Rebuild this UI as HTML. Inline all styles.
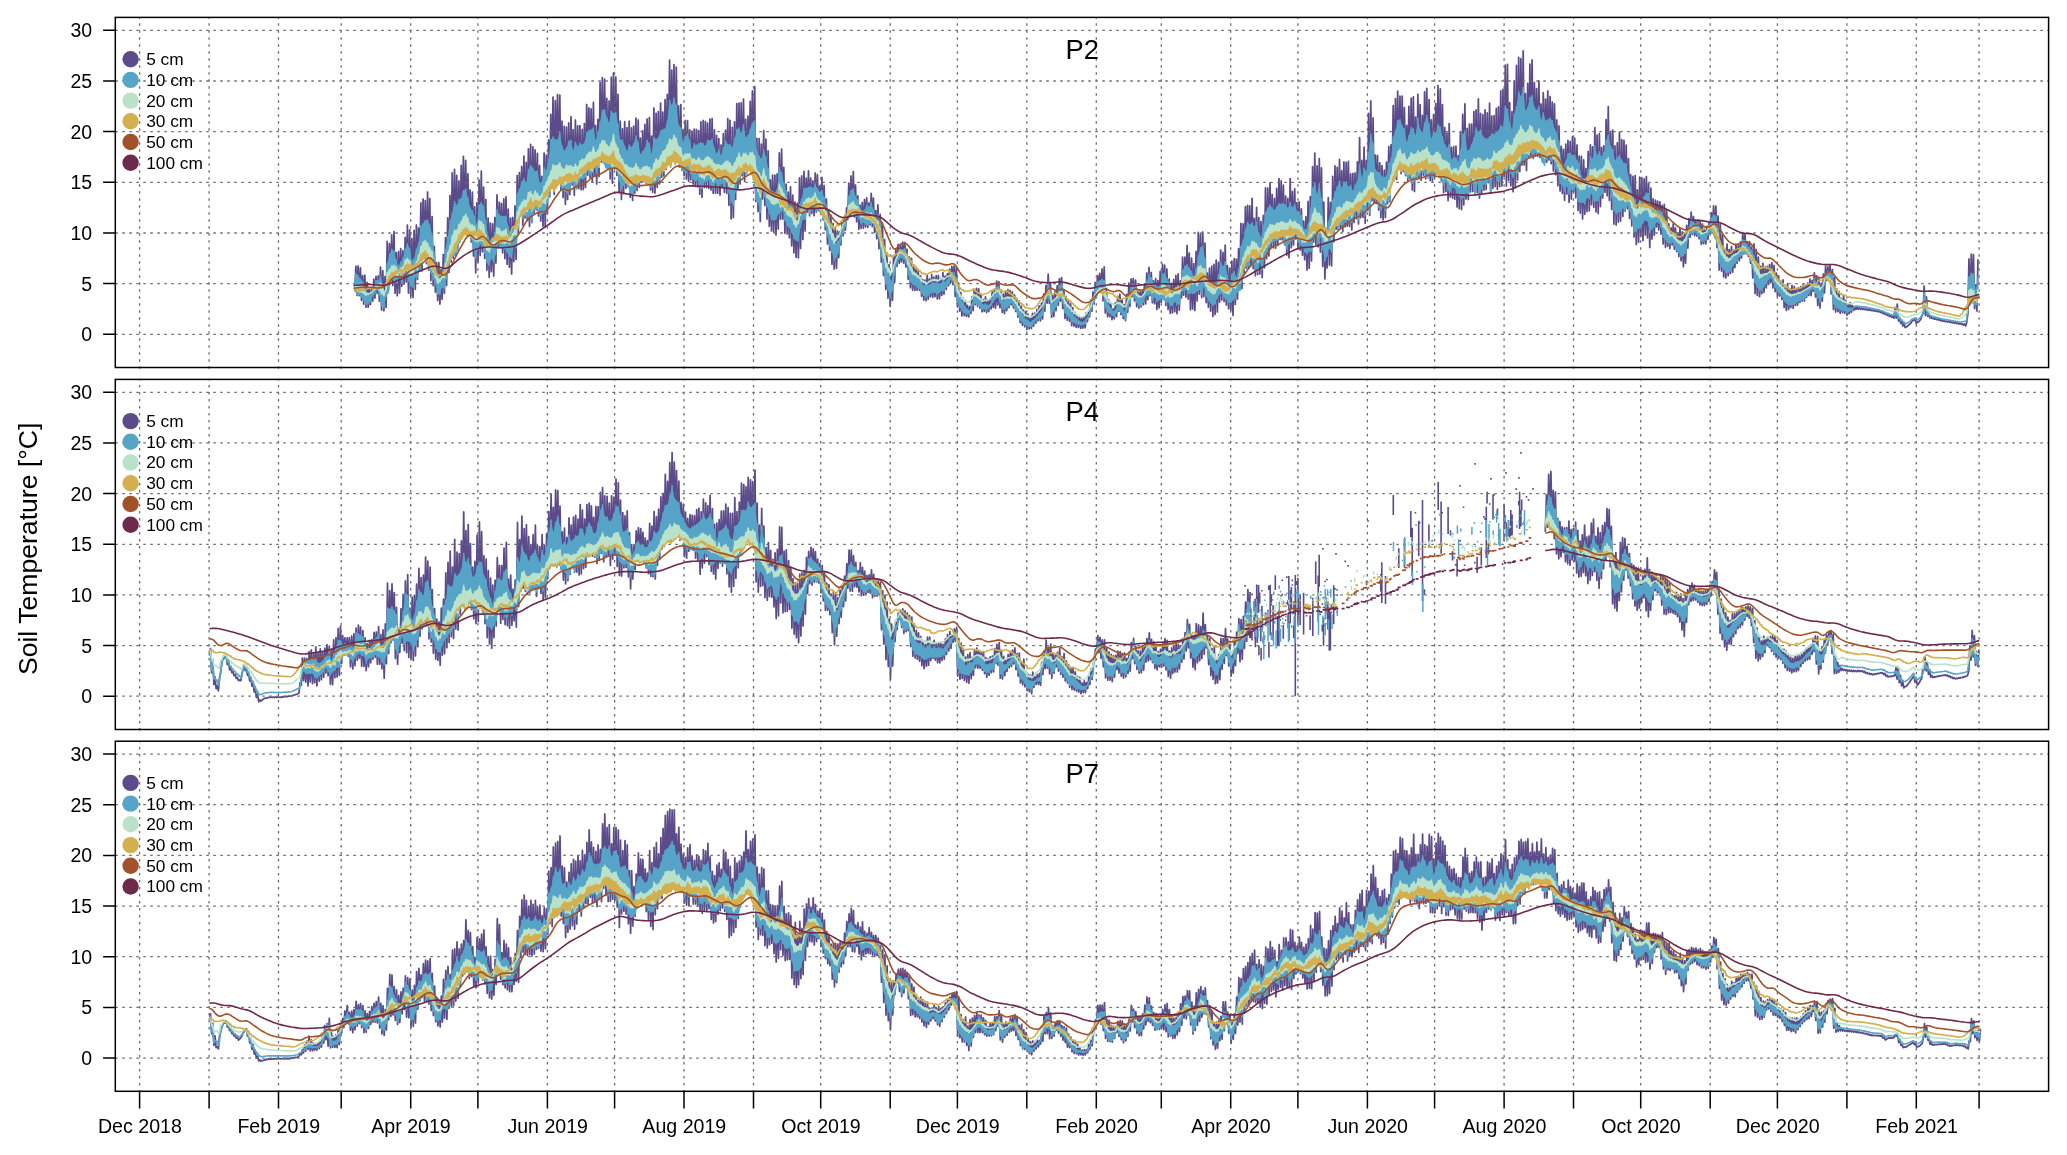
<!DOCTYPE html>
<html><head><meta charset="utf-8"><title>Soil Temperature</title>
<style>html,body{margin:0;padding:0;background:#fff;}body{width:2067px;height:1155px;overflow:hidden;font-family:"Liberation Sans",sans-serif;}svg{display:block;will-change:transform;}</style></head>
<body>
<svg width="2067" height="1155" viewBox="0 0 2067 1155" font-family="Liberation Sans, sans-serif" fill="#000">
<rect width="2067" height="1155" fill="#fff"/>
<path d="M354.8 289.9l1.1-23.5l1.1 29l1.1-29.4l1.1 29.7l1.2-27.9l1.1 32.5l1.1-24.6l1.1 28.5l1.1-29.1l1.2 32.1l1.1-24.9l1.1 24.8l1.1-17.8l1.1 15.4l1.2-16.3l1.1 12.8l1.1-22.1l1.1 19.2l1.1-22l1.2 17.2l1.1-17.6l1.1 25.3l1.1-34.1l1.1 42.9l1.2-39.3l1.1 40.1l1.1-34.2l1.1 30.8l1.1-65.9l1.2 48.9l1.1-46.8l1.1 38l1.1-46.7l1.1 50.6l1.2-53.9l1.1 61.6l1.1-40.6l1.1 43.1l1.2-44.1l1.1 41.4l1.1-44.4l1.1 37.5l1.1-35.4l1.2 33.4l1.1-46.7l1.1 44.6l1.1-56.9l1.1 68l1.2-63.3l1.1 66.5l1.1-57.8l1.1 58.9l1.1-67.1l1.2 59l1.1-64.3l1.1 54.3l1.1-51.3l1.1 43.2l1.2-68.3l1.1 67.9l1.1-71.8l1.1 59.3l1.1-57.6l1.2 62.8l1.1-71.5l1.1 78l1.1-71.4l1.1 82l1.2-64l1.1 68.9l1.1-39.1l1.1 45.7l1.1-29.4l1.2 37.8l1.1-38l1.1 41.6l1.1-34.5l1.1 29.6l1.2-44.7l1.1 38.8l1.1-55.7l1.1 47.8l1.1-67.6l1.2 54.7l1.1-77l1.1 66.4l1.1-89.1l1.1 85.5l1.2-89l1.1 86.3l1.1-80.3l1.1 72.1l1.1-66.5l1.2 60.6l1.1-76.1l1.1 71.7l1.1-80.7l1.1 71.7l1.2-67.7l1.1 66.4l1.1-53l1.1 61.6l1.1-45.4l1.2 52l1.1-49.8l1.1 63.8l1.1-49.1l1.1 65.9l1.2-70.1l1.1 59.1l1.1-81.8l1.1 75.5l1.1-84.3l1.2 80.5l1.1-64.6l1.1 71.2l1.1-58.8l1.1 70.6l1.2-52l1.1 59.2l1.1-54.3l1.1 48.6l1.2-47.7l1.1 52.1l1.1-58.5l1.1 45.6l1.1-68.2l1.2 52.7l1.1-45.4l1.1 45.3l1.1-44.1l1.1 49.4l1.2-53.9l1.1 59.7l1.1-61.8l1.1 67.5l1.1-55.2l1.2 58.1l1.1-49.1l1.1 55.9l1.1-56.5l1.1 44l1.2-55.6l1.1 53.5l1.1-83.8l1.1 57.1l1.1-60.1l1.2 41.5l1.1-47.6l1.1 58.6l1.1-68.9l1.1 61.7l1.2-55.5l1.1 58l1.1-71.6l1.1 77.5l1.1-82l1.2 78.3l1.1-75.8l1.1 66.3l1.1-63.2l1.1 59.9l1.2-56.4l1.1 62.5l1.1-50.4l1.1 55.4l1.1-44.6l1.2 50.1l1.1-73.3l1.1 73.8l1.1-71.8l1.1 58.5l1.2-73.8l1.1 57l1.1-82.4l1.1 73.9l1.1-91.2l1.2 97.2l1.1-93.6l1.1 74.6l1.1-80.8l1.1 82.8l1.2-82.2l1.1 94.6l1.1-68.5l1.1 76.2l1.1-71.1l1.2 78l1.1-77.1l1.1 72.2l1.1-76.6l1.1 71.6l1.2-77.7l1.1 68.1l1.1-55.1l1.1 65.5l1.1-75.2l1.2 68.6l1.1-62.8l1.1 62.8l1.1-62.9l1.2 64l1.1-60.4l1.1 60.2l1.1-65.9l1.1 63.8l1.2-82.9l1.1 70.5l1.1-67.1l1.1 69.8l1.1-68.9l1.2 72.6l1.1-79l1.1 73.8l1.1-50.7l1.1 58.5l1.2-64.6l1.1 57.1l1.1-93.8l1.1 79.2l1.1-84.2l1.2 84.7l1.1-83.2l1.1 83.5l1.1-64.3l1.1 69.8l1.2-67.2l1.1 77.7l1.1-101.6l1.1 106l1.1-110.2l1.2 95.8l1.1-91.7l1.1 98.4l1.1-81.1l1.1 98.4l1.2-71.5l1.1 78.2l1.1-70.6l1.1 64.8l1.1-72l1.2 66.7l1.1-60.6l1.1 58.5l1.1-65l1.1 76l1.2-69.4l1.1 72.6l1.1-74.3l1.1 67l1.1-74.9l1.2 72.2l1.1-70.4l1.1 67.2l1.1-49.2l1.1 43.9l1.2-51.2l1.1 50.9l1.1-57.2l1.1 57.9l1.1-63.3l1.2 65.3l1.1-66.8l1.1 72.4l1.1-53.8l1.1 56.1l1.2-84.2l1.1 85l1.1-79.7l1.1 74l1.1-75.6l1.2 72.1l1.1-80.6l1.1 74l1.1-65.1l1.1 63.8l1.2-76.3l1.1 69.6l1.1-74.9l1.1 64.2l1.2-98.4l1.1 104.3l1.1-94.2l1.1 83.5l1.1-89.1l1.2 92.4l1.1-89.8l1.1 94.3l1.1-55.6l1.1 61l1.2-62.3l1.1 65.7l1.1-40.5l1.1 45.9l1.1-55.3l1.2 58.5l1.1-58.3l1.1 60.6l1.1-51.4l1.1 50l1.2-48.6l1.1 52.8l1.1-54.9l1.1 57.3l1.1-56.9l1.2 57.4l1.1-56.3l1.1 63.6l1.1-72.3l1.1 75.3l1.2-76.8l1.1 67.1l1.1-66l1.1 66l1.1-64.3l1.2 65l1.1-69l1.1 70.7l1.1-71.3l1.1 74.6l1.2-63.4l1.1 63.3l1.1-57.7l1.1 57.8l1.1-54.6l1.2 56.5l1.1-50.1l1.1 42.8l1.1-54.2l1.1 58.7l1.2-62.1l1.1 63.1l1.1-74.7l1.1 86.7l1.1-85l1.2 98.5l1.1-91.3l1.1 90l1.1-95.7l1.1 77.7l1.2-95.9l1.1 86l1.1-86.5l1.1 80.8l1.1-81l1.2 72.9l1.1-76.7l1.1 82.2l1.1-62l1.1 51.5l1.2-54.6l1.1 50l1.1-64.9l1.1 64.9l1.1-75.2l1.2 83.1l1.1-87.4l1.1 114.9l1.1-63.3l1.2 73.3l1.1-73l1.1 82.8l1.1-77.2l1.1 54.7l1.2-68.3l1.1 75l1.1-66.5l1.1 80l1.1-68.1l1.2 75.2l1.1-46.4l1.1 51.1l1.1-55.7l1.1 56.6l1.2-56.6l1.1 59.7l1.1-60.9l1.1 54.9l1.1-76.1l1.2 66.4l1.1-70.1l1.1 69.8l1.1-51.5l1.1 65.8l1.2-49.1l1.1 49.8l1.1-41.8l1.1 45.7l1.1-50.9l1.2 58.9l1.1-50.7l1.1 57.7l1.1-50.8l1.1 55.3l1.2-54.1l1.1 54.6l1.1-79.9l1.1 70.5l1.1-72.5l1.2 63.5l1.1-68.1l1.1 59.6l1.1-52.7l1.1 33.9l1.2-41.2l1.1 44.9l1.1-37.7l1.1 35.2l1.1-32.5l1.2 34.8l1.1-42.6l1.1 39l1.1-37.3l1.1 35.6l1.2-24.3l1.1 27.3l1.1-36l1.1 42.4l1.1-34.2l1.2 44.3l1.1-30.8l1.1 44.9l1.1-34.1l1.1 40.6l1.2-35.3l1.1 49.2l1.1-40.9l1.1 45.5l1.1-41.5l1.2 40.8l1.1-37.1l1.1 26.6l1.1-26l1.1 13.3l1.2-22.5l1.1 13.3l1.1-18.4l1.1 12.8l1.2-22.3l1.1 11.8l1.1-36.6l1.1 33.2l1.1-40.3l1.2 36.6l1.1-40.9l1.1 45.2l1.1-31.9l1.1 36.8l1.2-26l1.1 33.5l1.1-24.2l1.1 23.3l1.1-25.8l1.2 25.6l1.1-28.6l1.1 27.2l1.1-29l1.1 29.6l1.2-24.5l1.1 22.1l1.1-31.6l1.1 33.2l1.1-28.6l1.2 34.2l1.1-21.6l1.1 28.2l1.1-33.9l1.1 43.9l1.2-34.4l1.1 47.5l1.1-39l1.1 52.5l1.1-35.7l1.2 49.7l1.1-36.2l1.1 45l1.1-33.5l1.1 41.7l1.2-33.1l1.1 27l1.1-44.6l1.1 26.4l1.1-32.8l1.2 17.2l1.1-22.1l1.1 18.9l1.1-17.9l1.1 16.5l1.2-19.7l1.1 21l1.1-20.5l1.1 24.3l1.1-17.9l1.2 30.2l1.1-22.3l1.1 30.6l1.1-29.2l1.1 31.9l1.2-25.2l1.1 25.4l1.1-21.3l1.1 21.1l1.1-19.4l1.2 19.2l1.1-14.2l1.1 20.4l1.1-16.6l1.1 20.4l1.2-20l1.1 20.7l1.1-26.2l1.1 24.6l1.1-20.1l1.2 17.7l1.1-22.3l1.1 22.8l1.1-20.2l1.1 19.7l1.2-21.2l1.1 23.4l1.1-23.6l1.1 23.4l1.2-20.3l1.1 16.9l1.1-22.7l1.1 21.4l1.1-17.9l1.2 13.1l1.1-15.6l1.1 11.9l1.1-16.4l1.1 13.8l1.2-16.6l1.1 18.2l1.1-18.4l1.1 30.2l1.1-28.7l1.2 39.1l1.1-23.8l1.1 28.2l1.1-18.7l1.1 23.4l1.2-18.3l1.1 18l1.1-15l1.1 15.8l1.1-11l1.2 11.5l1.1-10.2l1.1 6.7l1.1-16.5l1.1 13.7l1.2-21l1.1 15.1l1.1-16.4l1.1 18.2l1.1-17.6l1.2 19.4l1.1-13.6l1.1 17.1l1.1-12l1.1 11.6l1.2-14.5l1.1 15.8l1.1-12.5l1.1 11.3l1.1-12.5l1.2 10l1.1-17.1l1.1 15.5l1.1-17.3l1.1 18l1.2-27l1.1 23.8l1.1-23.3l1.1 26.2l1.1-15.8l1.2 20.4l1.1-18.3l1.1 19.5l1.1-22.3l1.1 19.4l1.2-21l1.1 17.9l1.1-17.1l1.1 14.4l1.1-13l1.2 16.1l1.1-13l1.1 16.5l1.1-13.1l1.1 18.9l1.2-16.5l1.1 21.9l1.1-16.6l1.1 19.3l1.1-15.3l1.2 16.7l1.1-15.1l1.1 17.8l1.1-15.4l1.2 14.8l1.1-11.4l1.1 11l1.1-15.2l1.1 12.9l1.2-13l1.1 10l1.1-13.8l1.1 11.4l1.1-14.9l1.2 15.1l1.1-17.8l1.1 15.8l1.1-24.9l1.1 17.1l1.2-25.7l1.1 17.8l1.1-29.1l1.1 29.1l1.1-19.8l1.2 33.6l1.1-21.6l1.1 20.9l1.1-25l1.1 19.4l1.2-24.9l1.1 19.4l1.1-26.7l1.1 22.7l1.1-23.7l1.2 30.9l1.1-18.6l1.1 28.6l1.1-22.2l1.1 23.9l1.2-19.1l1.1 20.2l1.1-17.6l1.1 22l1.1-18l1.2 18.5l1.1-13.8l1.1 15l1.1-12.2l1.1 12.3l1.2-10.5l1.1 11.3l1.1-10.5l1.1 10.3l1.1-10.7l1.2 10.4l1.1-14.8l1.1 8.7l1.1-10.4l1.1 5.5l1.2-16.7l1.1 11.2l1.1-19.3l1.1 11.9l1.1-21.5l1.2 13.8l1.1-20.6l1.1 13.7l1.1-15.9l1.1 18.9l1.2-23.3l1.1 31.9l1.1-34l1.1 46.1l1.1-24.4l1.2 28.2l1.1-16.9l1.1 16.9l1.1-12.8l1.1 15.7l1.2-10.7l1.1 9.8l1.1-15.8l1.1 13.7l1.2-20.4l1.1 15.1l1.1-17.3l1.1 20.6l1.1-14.8l1.2 18.7l1.1-13.9l1.1 16l1.1-26.3l1.1 17.9l1.2-29.1l1.1 23.2l1.1-27.6l1.1 17.7l1.1-17.9l1.2 22.3l1.1-20.8l1.1 26.6l1.1-16.4l1.1 18l1.2-17.8l1.1 16.5l1.1-16.7l1.1 14.5l1.1-21l1.2 20.2l1.1-31l1.1 26.7l1.1-32.4l1.1 28.4l1.2-23.2l1.1 30.3l1.1-22l1.1 22.9l1.1-25.2l1.2 31l1.1-28.9l1.1 27.2l1.1-36.4l1.1 31l1.2-38.2l1.1 33.8l1.1-32.8l1.1 40.2l1.1-36.4l1.2 40.5l1.1-30.3l1.1 34.2l1.1-30l1.1 29.4l1.2-33.3l1.1 32.2l1.1-36.2l1.1 38.1l1.1-39.8l1.2 36.3l1.1-29.2l1.1 17l1.1-40.7l1.1 38l1.2-38l1.1 39.9l1.1-51.7l1.1 53.6l1.1-45.8l1.2 56.5l1.1-51.5l1.1 50.8l1.1-45.3l1.1 46.7l1.2-59l1.1 49.5l1.1-68.6l1.1 61.8l1.1-60.2l1.2 63.6l1.1-65.5l1.1 64.6l1.1-53.5l1.2 59.5l1.1-29.4l1.1 33.9l1.1-38.9l1.1 42.8l1.2-44.9l1.1 50.3l1.1-52l1.1 50l1.1-54.3l1.2 51.8l1.1-49.6l1.1 39.8l1.1-52l1.1 49.9l1.2-47.6l1.1 49l1.1-56.3l1.1 59.9l1.1-39.4l1.2 43.1l1.1-40.6l1.1 42.4l1.1-49.4l1.1 54.3l1.2-56.7l1.1 45.6l1.1-45.1l1.1 39.9l1.1-50.5l1.2 41.4l1.1-66.5l1.1 65.1l1.1-64.8l1.1 49.9l1.2-67l1.1 61.5l1.1-62.7l1.1 62.3l1.1-61.9l1.2 59.6l1.1-67.2l1.1 70.1l1.1-50.1l1.1 57.4l1.2-68.2l1.1 66.9l1.1-56.7l1.1 56.3l1.1-52.5l1.2 56.1l1.1-62.1l1.1 52.3l1.1-79.9l1.1 70.8l1.2-70.6l1.1 67.8l1.1-73.1l1.1 64.7l1.1-53l1.2 53.2l1.1-49.2l1.1 49.7l1.1-59.7l1.1 56.9l1.2-66.8l1.1 60.9l1.1-58.7l1.1 59l1.1-54.6l1.2 58.9l1.1-48.1l1.1 59.1l1.1-56.7l1.1 59.3l1.2-79l1.1 69l1.1-56.2l1.1 53.5l1.2-56.2l1.1 50.1l1.1-36.3l1.1 46.2l1.1-47l1.2 48.3l1.1-41.2l1.1 46.4l1.1-34.1l1.1 38.5l1.2-43l1.1 53.3l1.1-68.5l1.1 66.7l1.1-71.6l1.2 64.4l1.1-94.3l1.1 75.4l1.1-88.9l1.1 91.6l1.2-78.8l1.1 80.8l1.1-88.2l1.1 93.5l1.1-84.1l1.2 98.3l1.1-64.2l1.1 76.7l1.1-48.4l1.1 37.5l1.2-70.3l1.1 67.4l1.1-62.6l1.1 63.5l1.1-89.4l1.2 65.3l1.1-75.8l1.1 63.2l1.1-61.8l1.1 62.4l1.2-70.3l1.1 68l1.1-56.8l1.1 60.8l1.1-69.5l1.2 64.8l1.1-64.5l1.1 63.8l1.1-64.8l1.1 65l1.2-52.4l1.1 56l1.1-56.4l1.1 48.9l1.1-49.5l1.2 45.6l1.1-56.7l1.1 62.1l1.1-86.2l1.1 80l1.2-57.3l1.1 56.8l1.1-70.1l1.1 76.1l1.1-62.9l1.2 50l1.1-97l1.1 102l1.1-114.3l1.1 99.8l1.2-82.8l1.1 84.5l1.1-47.4l1.1 48.3l1.1-47.9l1.2 54.6l1.1-47.2l1.1 54.7l1.1-51.9l1.1 54.1l1.2-49.6l1.1 47.3l1.1-55.3l1.1 41.4l1.2-56.9l1.1 55l1.1-56.8l1.1 36.8l1.1-76.1l1.2 72.2l1.1-79.1l1.1 80.8l1.1-88.3l1.1 76.8l1.2-71.8l1.1 77.4l1.1-77.5l1.1 75.4l1.1-63.9l1.2 67.9l1.1-50.1l1.1 55.2l1.1-74.3l1.1 72.1l1.2-80.2l1.1 91.8l1.1-93.2l1.1 94.6l1.1-74.3l1.2 62.3l1.1-85.1l1.1 83.8l1.1-73.5l1.1 75.6l1.2-64.9l1.1 59.8l1.1-83.2l1.1 86.9l1.1-90.4l1.2 87.2l1.1-76l1.1 81l1.1-60.7l1.1 61.1l1.2-66.5l1.1 62.8l1.1-73.7l1.1 70.5l1.1-88.5l1.2 87.8l1.1-84.5l1.1 91.9l1.1-76.1l1.1 88l1.2-65.2l1.1 64l1.1-58.5l1.1 67.6l1.1-77l1.2 73.3l1.1-49.4l1.1 50.6l1.1-51.4l1.1 52.5l1.2-53l1.1 60.7l1.1-51.3l1.1 53.1l1.1-76.1l1.2 76.9l1.1-95l1.1 90.3l1.1-100.8l1.1 94.9l1.2-70.5l1.1 71.1l1.1-75.3l1.1 67.7l1.1-67.8l1.2 67.3l1.1-79.8l1.1 79.9l1.1-81.6l1.2 82.8l1.1-93.9l1.1 99.3l1.1-84.6l1.1 79.6l1.2-78.4l1.1 75.4l1.1-80.3l1.1 79.6l1.1-76.4l1.2 69.5l1.1-79.3l1.1 89.2l1.1-76.2l1.1 72.1l1.2-72.7l1.1 70.9l1.1-78l1.1 80.8l1.1-82.3l1.2 79.4l1.1-95.4l1.1 94.9l1.1-96.6l1.1 87.1l1.2-111.2l1.1 120.9l1.1-121.6l1.1 115.8l1.1-77.6l1.2 83l1.1-74l1.1 80l1.1-110.7l1.1 106.8l1.2-122.4l1.1 114.6l1.1-122.7l1.1 114.1l1.1-112.8l1.2 106.4l1.1-114.1l1.1 114.1l1.1-71.3l1.1 76.7l1.2-87.1l1.1 73.7l1.1-92.8l1.1 91.8l1.1-96l1.2 98.3l1.1-75.7l1.1 73.4l1.1-67.4l1.1 67.6l1.2-75.3l1.1 76.5l1.1-53.4l1.1 56.1l1.1-67.4l1.2 68.6l1.1-62.2l1.1 63.2l1.1-71.4l1.1 69.1l1.2-63.5l1.1 67.2l1.1-61.7l1.1 69l1.1-67.1l1.2 70.8l1.1-54.7l1.1 65.6l1.1-59.8l1.1 65.2l1.2-44.7l1.1 47l1.1-44l1.1 51l1.2-56.2l1.1 50l1.1-53.6l1.1 61.8l1.1-60.8l1.2 57.6l1.1-62.5l1.1 55.1l1.1-53.7l1.1 59.8l1.2-52.8l1.1 65.5l1.1-54.4l1.1 57l1.1-56.7l1.2 62.5l1.1-59l1.1 54.3l1.1-45.7l1.1 43.1l1.2-60.1l1.1 59.2l1.1-65.9l1.1 59.9l1.1-57.9l1.2 60.5l1.1-79.7l1.1 84.2l1.1-76.7l1.1 78.4l1.2-79.8l1.1 72.9l1.1-59.1l1.1 50.5l1.1-52.2l1.2 46.4l1.1-72.5l1.1 76l1.1-89l1.1 93.8l1.2-69.1l1.1 78l1.1-79.2l1.1 93.9l1.1-78.3l1.2 79.2l1.1-82.2l1.1 79.3l1.1-90l1.1 88.9l1.2-81.3l1.1 76.6l1.1-76l1.1 70.8l1.1-65.9l1.2 63.6l1.1-50.2l1.1 59.8l1.1-43.7l1.1 51.2l1.2-49.5l1.1 60.5l1.1-61.3l1.1 68.9l1.1-54.7l1.2 52.4l1.1-65l1.1 59.3l1.1-58.8l1.1 62.8l1.2-61.7l1.1 56.2l1.1-58.3l1.1 61.1l1.1-54.2l1.2 63.9l1.1-59.3l1.1 50.8l1.1-40.2l1.2 36.3l1.1-34.9l1.1 26.7l1.1-25.8l1.1 28.8l1.2-28l1.1 32.2l1.1-28.8l1.1 38.7l1.1-39.6l1.2 42.9l1.1-37.5l1.1 36.5l1.1-22.4l1.1 24.6l1.2-20.7l1.1 17.2l1.1-21.2l1.1 25.5l1.1-21.3l1.2 23.7l1.1-18.7l1.1 23.4l1.1-28.3l1.1 32.6l1.2-28.8l1.1 34.9l1.1-33.8l1.1 30.3l1.1-37.9l1.2 22.8l1.1-29.6l1.1 18.5l1.1-24.9l1.1 22.1l1.2-17.7l1.1 19.1l1.1-15.1l1.1 15.6l1.1-16l1.2 18.6l1.1-17.6l1.1 23l1.1-20.2l1.1 19.6l1.2-13.4l1.1 13.8l1.1-17.7l1.1 13.2l1.1-17.3l1.2 11.4l1.1-20.8l1.1 19.7l1.1-26.6l1.1 29.5l1.2-29.3l1.1 41.4l1.1-31.5l1.1 53.9l1.1-45.6l1.2 46.7l1.1-36l1.1 41.9l1.1-26.4l1.1 27.4l1.2-33.9l1.1 31.6l1.1-26l1.1 23.8l1.1-26.9l1.2 25.8l1.1-22.4l1.1 17.8l1.1-23.2l1.1 18.9l1.2-17.8l1.1 15.2l1.1-18.8l1.1 15.9l1.2-25.4l1.1 21.4l1.1-19.6l1.1 19.5l1.1-12.1l1.2 14.7l1.1-14.7l1.1 21.5l1.1-16l1.1 30.7l1.2-34.1l1.1 49.7l1.1-43.9l1.1 45.8l1.1-38.2l1.2 39.4l1.1-30.3l1.1 27.3l1.1-30.2l1.1 29l1.2-24.2l1.1 19.7l1.1-21.6l1.1 18.1l1.1-19.9l1.2 18.2l1.1-19.9l1.1 25.1l1.1-22.6l1.1 26.3l1.2-18.5l1.1 23.2l1.1-20.4l1.1 20.1l1.1-14.9l1.2 18.6l1.1-19.8l1.1 27.6l1.1-19.5l1.1 22.5l1.2-26.9l1.1 25.8l1.1-19.4l1.1 17.5l1.1-22.1l1.2 23l1.1-21.9l1.1 18.9l1.1-16.7l1.1 16.4l1.2-17.5l1.1 14.9l1.1-16l1.1 14.6l1.1-16.2l1.2 16.2l1.1-15.5l1.1 11.7l1.1-14.1l1.1 12.2l1.2-16.3l1.1 16.5l1.1-15.2l1.1 10.7l1.1-18.2l1.2 24.1l1.1-21.1l1.1 29.6l1.1-27.3l1.1 29.8l1.2-24.7l1.1 17.9l1.1-27.2l1.1 19l1.1-26.8l1.2 14.3l1.1-13.8l1.1 14.2l1.1-15.9l1.1 28.9l1.2-24.4l1.1 39.9l1.1-31.9l1.1 34.5l1.2-23.2l1.1 22.9l1.1-20.1l1.1 21.8l1.1-15l1.2 14.2l1.1-17.1l1.1 17.8l1.1-12.9l1.1 14.9l1.2-11.4l1.1 9.9l1.1-11.1l1.1 9.7l1.1-6.9l1.2 4.9l1.1-4l1.1 3l1.1-2.5l1.1 2.4l1.2-1.6l1.1 1.6l1.1-1.3l1.1 1.5l1.1-0.9l1.2 1.1l1.1-0.8l1.1 1.2l1.1-0.9l1.1 1.2l1.2-0.8l1.1 1.1l1.1-0.7l1.1 1.1l1.1-0.7l1.2 1l1.1-0.6l1.1 1l1.1-0.7l1.1 1.4l1.2-0.8l1.1 1.8l1.1-0.8l1.1 1.8l1.1-0.8l1.2 1.7l1.1-0.7l1.1 1.7l1.1-0.8l1.1 1.8l1.2-0.8l1.1 1.6l1.1-10.9l1.1 10.9l1.1-14.1l1.2 16.8l1.1-3.6l1.1 6l1.1-2.4l1.1 5.1l1.2-2.2l1.1 3.8l1.1-0.7l1.1-0.7l1.1-0.9l1.2-1.2l1.1-0.9l1.1-1.9l1.1-1.2l1.1 0.3l1.2-1.2l1.1 4.3l1.1-1.7l1.1 0.1l1.1-1.2l1.2-1.6l1.1-3.8l1.1-1.9l1.1-27.4l1.2 29.5l1.1-18.5l1.1 19.3l1.1-2.3l1.1 3.8l1.2-0.8l1.1 1.5l1.1-0.6l1.1 1.2l1.1-0.5l1.2 1.1l1.1-0.7l1.1 1.3l1.1-0.7l1.1 1.2l1.2-0.4l1.1 0.9l1.1-0.5l1.1 0.9l1.1-0.5l1.2 0.9l1.1-0.7l1.1 1l1.1-0.5l1.1 0.9l1.2-0.5l1.1 0.9l1.1-0.5l1.1 0.9l1.1-0.6l1.2 1l1.1-0.6l1.1 0.9l1.1-0.5l1.1 1.3l1.2-1.1l1.1 2l1.1-3.8l1.1-8.3l1.1-55l1.2 44.9l1.1-49.6l1.1 45.7l1.1-45.2l1.1 53.8l1.2-23.7l1.1 26.2l1.1-51.7" fill="none" stroke="#5b4b8a" stroke-width="1.75" stroke-linejoin="round"/>
<path d="M115.3 334.3H2048.6M115.3 283.6H2048.6M115.3 233.0H2048.6M115.3 182.3H2048.6M115.3 131.6H2048.6M115.3 81.0H2048.6M115.3 30.3H2048.6M139.6 368.7V17.4M209.1 368.7V17.4M278.5 368.7V17.4M341.2 368.7V17.4M410.7 368.7V17.4M477.9 368.7V17.4M547.4 368.7V17.4M614.6 368.7V17.4M684.0 368.7V17.4M753.5 368.7V17.4M820.7 368.7V17.4M890.2 368.7V17.4M957.4 368.7V17.4M1026.8 368.7V17.4M1096.3 368.7V17.4M1161.3 368.7V17.4M1230.7 368.7V17.4M1297.9 368.7V17.4M1367.4 368.7V17.4M1434.6 368.7V17.4M1504.1 368.7V17.4M1573.5 368.7V17.4M1640.7 368.7V17.4M1710.2 368.7V17.4M1777.4 368.7V17.4M1846.9 368.7V17.4M1916.3 368.7V17.4M1979.1 368.7V17.4" stroke="#6c6c6c" stroke-width="1.3" stroke-dasharray="2.5 4.5" fill="none"/>
<path d="M355.9 273.3l2.2 2.1l2.3 3.7l2.2 2.3l2.2 6.1l2.3 5l2.2 2.4l2.3-2l2.2-6.1l2.2-6.3l2.3-0.2l2.2-3.9l2.3 8.4l2.2 8.1l2.2-29.1l2.3-9.7l2.2-4.8l2.3 1.7l2.2 9.3l2.3 6l2.2-4.1l2.2-4.1l2.3-9.1l2.2-5.3l2.3 5.4l2.2 11.9l2.2-2.6l2.3-9.2l2.2-6.2l2.3-16.9l2.2-2.7l2.2-3l2.3-0.5l2.2 5.1l2.3 10.1l2.2 17.6l2.2 17.8l2.3 6.3l2.2 0.6l2.3-9l2.2-18.6l2.2-12.8l2.3-16.2l2.2-7.5l2.3-11.5l2.2 3.7l2.2-5.7l2.3-1.2l2.2-7.9l2.3-1.6l2.2 8.6l2.2 10.1l2.3 3.2l2.2 5.1l2.3 9l2.2-20.2l2.2-2.3l2.3 3.5l2.2 14.3l2.3 16l2.2 6.6l2.3-3.5l2.2-7.5l2.2-22.4l2.3 5.5l2.2 1.1l2.3 0.4l2.2-0.7l2.2 10.5l2.3 7.4l2.2-4.7l2.3-2.7l2.2-32.7l2.2-4.5l2.3-7.4l2.2-3.4l2.3 4.6l2.2-13.2l2.2-4.6l2.3 2.8l2.2 3.5l2.3-0.4l2.2 11.9l2.2-0.9l2.3-14.5l2.2 3l2.3-11.6l2.2-19.2l2.2-2.9l2.3 2.9l2.2 0.3l2.3-8.1l2.2 13.7l2.2 5.3l2.3-2.9l2.2-6.9l2.3-0.9l2.2 10.6l2.2-8.7l2.3 4.3l2.2-3.3l2.3 1.8l2.2-2.1l2.3-10.2l2.2-2.1l2.2-0.7l2.3-2l2.2 12.9l2.3-8.3l2.2-10.4l2.2-11.8l2.3-0.5l2.2 8l2.3 5.3l2.2-12l2.2 2.3l2.3-1.2l2.2 12.3l2.3 15.7l2.2-0.4l2.2 6.1l2.3 5.3l2.2-6.3l2.3 2.4l2.2-3.6l2.2-7.9l2.3 6.5l2.2 12.1l2.3-3l2.2-3l2.2-8.2l2.3 3.4l2.2 10.9l2.3-17.2l2.2 2.1l2.2-1.7l2.3-6.6l2.2-1.7l2.3-0.4l2.2-8.1l2.3-20.7l2.2 5.4l2.2-7.6l2.3 7.5l2.2 19.5l2.3 3l2.2 14.1l2.2-5.4l2.3-2.7l2.2 6.5l2.3 9.6l2.2-6.4l2.2 1.6l2.3-1.6l2.2-1.1l2.3 1.1l2.2 2.6l2.2-6l2.3 0.5l2.2-1.7l2.3 9.1l2.2 5.7l2.2-4.9l2.3 6.9l2.2-8.2l2.3-6.9l2.2 3.8l2.2 0.1l2.3 2.9l2.2-8.8l2.3-9.3l2.2-1.6l2.2 5.6l2.3-8.9l2.2 12.8l2.3-1.8l2.2-6.3l2.2-6.3l2.3-2.2l2.2 29.6l2.3 5.9l2.2 2.8l2.3-9.7l2.2 7.3l2.2 11.9l2.3 21.7l2.2 1.1l2.3 1.1l2.2-2.9l2.2-22.4l2.3 5.5l2.2 10.1l2.3 8.2l2.2 14.1l2.2-0.5l2.3 2l2.2 10.7l2.3 4.9l2.2-18l2.2-5.1l2.3-10.8l2.2 0l2.3-1l2.2-0.6l2.2 1.6l2.3-4.4l2.2 4.8l2.3 3.6l2.2-1.7l2.2 6.6l2.3 8.5l2.2 12.3l2.3 8.1l2.2 12.3l2.2 5.5l2.3-2.3l2.2-2.3l2.3-9.8l2.2-4.9l2.3-7.7l2.2-20.7l2.2-5.6l2.3-1.8l2.2 7.8l2.3 3.2l2.2 8.1l2.2 3.1l2.3-0.8l2.2-5l2.3 1.7l2.2-4.3l2.2 7.1l2.3 5.6l2.2-1.2l2.3 8l2.2 16.6l2.2 15.9l2.3 11.5l2.2 9.7l2.3 5.4l2.2-11.3l2.2-8.7l2.3-8.3l2.2-3.3l2.3 0.1l2.2-0.9l2.2 4.5l2.3 10l2.2 4.1l2.3 8.4l2.2 0.8l2.2 1.1l2.3 2.8l2.2 4.4l2.3 0.8l2.2-0.7l2.2 0.2l2.3-2.2l2.2 0l2.3 0.1l2.2 0.3l2.3 0.3l2.2-3.7l2.2 2l2.3-2.3l2.2-3.9l2.3-3.4l2.2 0.1l2.2 5.2l2.3 14l2.2 6.8l2.3 4.2l2.2 4.4l2.2 2.3l2.3 1.3l2.2-6.8l2.3-8.2l2.2-0.5l2.2 1.9l2.3 4l2.2 4l2.3-1.3l2.2 1.4l2.2-0.7l2.3-6.1l2.2-4.6l2.3-6.8l2.2-0.8l2.2 8.5l2.3 6.6l2.2-2.7l2.3-1.1l2.2-0.2l2.2 0.4l2.3 2.7l2.2 3.2l2.3 4.8l2.2 4.5l2.2 3.3l2.3 3.4l2.2 1l2.3 1.9l2.2-1.8l2.3-1.4l2.2-2.8l2.2-3.1l2.3-2.2l2.2-6.4l2.3-11l2.2-12.2l2.2 8.4l2.3 14l2.2-4l2.3-5.8l2.2-8.2l2.2-1.9l2.3 10.3l2.2 8.8l2.3 4.4l2.2 2.7l2.2 3.2l2.3 3.7l2.2 2l2.3 2l2.2 1.4l2.2-1l2.3-3.2l2.2-3.1l2.3-6.8l2.2-10l2.2-11.6l2.3-5l2.2-1.1l2.3-1.7l2.2 1.4l2.2 14.1l2.3 11l2.2 2.5l2.3 3.5l2.2-1.5l2.3-6l2.2-1.9l2.2 3.8l2.3 6.1l2.2-7.2l2.3-10.3l2.2-8.4l2.2-2l2.3 0.7l2.2 11.1l2.3 1.7l2.2 0.6l2.2-4.4l2.3-12.6l2.2-7l2.3 3.6l2.2 5.4l2.2 2.3l2.3 1.6l2.2-1.4l2.3-11.9l2.2-1l2.2 5.7l2.3 4.2l2.2 10.8l2.3-4.2l2.2-1.9l2.2-2.6l2.3 4.3l2.2-18.6l2.3-4.5l2.2-1.4l2.2 3.6l2.3 3.2l2.2 6.1l2.3-8.7l2.2-13.4l2.2-7.7l2.3-1.6l2.2 12.6l2.3 21.8l2.2 2.3l2.3-0.2l2.2 0.2l2.2-0.4l2.3-8.1l2.2-12.1l2.3 4.3l2.2-4.8l2.2 13.7l2.3 7.7l2.2-9.1l2.3-2.7l2.2 6.2l2.2-8.4l2.3-22.7l2.2-6.3l2.3-10.9l2.2-7l2.2 2.8l2.3-2.3l2.2 4.2l2.3-4.8l2.2 10.7l2.2 4.8l2.3-11.9l2.2-13.2l2.3-4.7l2.2-3l2.2 3l2.3 2.4l2.2-3.3l2.3-3.3l2.2 0.2l2.2-0.6l2.3 1.7l2.2 3.2l2.3-6l2.2 5.7l2.3-3.7l2.2 7.1l2.2 0.5l2.3 3.9l2.2 13l2.3 1l2.2-5.3l2.2-15.4l2.3-20.8l2.2-5.3l2.3 11.8l2.2-11l2.2 14.9l2.3 25.1l2.2 12.7l2.3-14.8l2.2-6.3l2.2-14.9l2.3-8.7l2.2-5l2.3-5.7l2.2 7.2l2.2-6.2l2.3 0l2.2 4.9l2.3-1.8l2.2 6.1l2.2-6.1l2.3-4l2.2-16.7l2.3 13.6l2.2-9.9l2.2 3.7l2.3-19.3l2.2-18.4l2.3 9.5l2.2 25.9l2.2 2.4l2.3 0.8l2.2 3.9l2.3 0.9l2.2-1.4l2.3-12.4l2.2-5.2l2.2-21.5l2.3-6.3l2.2-10l2.3-0.9l2.2 6l2.2 3.1l2.3 13.5l2.2-6.6l2.3-8.3l2.2 1.4l2.2 7l2.3-17.9l2.2 12l2.3 2.8l2.2-10.1l2.2-7.4l2.3 8.6l2.2 15.2l2.3-7.4l2.2 1.4l2.2-8.5l2.3 2.7l2.2 9.5l2.3 7.7l2.2 3.8l2.2-4.4l2.3 16l2.2-2.6l2.3 0.6l2.2 4.3l2.2-11.4l2.3-16.1l2.2-3.6l2.3 19.8l2.2-1.2l2.2-5.3l2.3-6.4l2.2-10.2l2.3 4.4l2.2-2.5l2.3 6.9l2.2 1.8l2.2 0.7l2.3-2.3l2.2-3l2.3 0.5l2.2-2.1l2.2-1.1l2.3-5.5l2.2 1.8l2.3-21.4l2.2 3.4l2.2 12.8l2.3 7.7l2.2-15.8l2.3-7.5l2.2-14.9l2.2 5.4l2.3-9.8l2.2 23.9l2.3-3.8l2.2-9.8l2.2-2.1l2.3 11.7l2.2 3.4l2.3-4l2.2 13.6l2.2-7.4l2.3 8.1l2.2-1.1l2.3-1.6l2.2 2.6l2.2 7.6l2.3 4.4l2.2 8.8l2.3 19.8l2.2 4.2l2.3-4.4l2.2-7.6l2.2-0.7l2.3 2.6l2.2-0.4l2.3 5.4l2.2 2.8l2.2 12.9l2.3 4l2.2 1l2.3-11.4l2.2-13.4l2.2 2.6l2.3-13.3l2.2 9.7l2.3-3.6l2.2 5.2l2.2-4.1l2.3-12.7l2.2-5.2l2.3 11.4l2.2 3.4l2.2 10.6l2.3-3l2.2-2.1l2.3 4.7l2.2 3.3l2.2 0.5l2.3 13.1l2.2 10.2l2.3 8.9l2.2 3.9l2.2 9.1l2.3-8.6l2.2-0.7l2.3-2.9l2.2-3.9l2.2 0.5l2.3 10.3l2.2 8.2l2.3-0.5l2.2-2.4l2.3 0.8l2.2 2.2l2.2 5.8l2.3 3.7l2.2 9.5l2.3 4.3l2.2-2.8l2.2 4.3l2.3 3.1l2.2 0.5l2.3 1.5l2.2-0.1l2.2-6.6l2.3-7.7l2.2-8.7l2.3 3.6l2.2 1.7l2.2-1.4l2.3 5.2l2.2 4.9l2.3 1.6l2.2-1.1l2.2-7.2l2.3-7.8l2.2-3.6l2.3 1.4l2.2 9.9l2.2 15l2.3 7.9l2.2 8.4l2.3 0l2.2 1.9l2.2-3.4l2.3 0l2.2-2.1l2.3-0.5l2.2-5.3l2.3-8l2.2 0.6l2.2 4.8l2.3 2.7l2.2 2.6l2.3 5l2.2 8.7l2.2 3.7l2.3 8.6l2.2-3l2.3 2.5l2.2-1.1l2.2-3.5l2.3-3.2l2.2 4l2.3 7.9l2.2 1.9l2.2 2.6l2.3 1.9l2.2 5.2l2.3 2.4l2.2 1.5l2.2-0.8l2.3-0.2l2.2-0.4l2.3-1.2l2.2 0.5l2.2-2.4l2.3 0l2.2-1.5l2.3-2.3l2.2-2.8l2.2-5.9l2.3 5.3l2.2 1.9l2.3 5.6l2.2-6.6l2.2-11.4l2.3-2.5l2.2 1l2.3 3.1l2.2 15.6l2.3 6l2.2 3.2l2.2 2.1l2.3 0.2l2.2 3.1l2.3 2.6l2.2 0.1l2.2 0.8l2.3-2.3l2.2-0.7l2.3 0.4l2.2 0.2l2.2 0.3l2.3 0.3l2.2 0.4l2.3 0.5l2.2 0.4l2.2 0.5l2.3 0.4l2.2 0.5l2.3 0.7l2.2 0.9l2.2 1.1l2.3 0.9l2.2 0.8l2.3 0.8l2.2-2.7l2.2-1.9l2.3 7.2l2.2 2.2l2.3 2.1l2.2 1.8l2.2-1.1l2.3-1.6l2.2-2.2l2.3-0.7l2.2 1.8l2.2-1.4l2.3-2.7l2.2-24.1l2.3 8.6l2.2 13.1l2.3 2.1l2.2 0.8l2.2 0.7l2.3 0.6l2.2 0.6l2.3 0.6l2.2 0.5l2.2 0.3l2.3 0.4l2.2 0.4l2.3 0.4l2.2 0.4l2.2 0.4l2.3 0.4l2.2-0.1l2.3-0.5l2.2-0.9l2.2-43.3l2.3-3.9l2.2 0.8l2.3 16.6l2.2-14.1l-1.1 28.4l-2.3-0.2l-2.2-2.7l-2.2-0.4l-2.3 3.4l-2.2 16.3l-2.3 0.3l-2.2 0.5l-2.2 0.1l-2.3-0.4l-2.2-0.4l-2.3-0.4l-2.2-0.4l-2.2-0.4l-2.3-0.4l-2.2-0.3l-2.3-0.5l-2.2-0.6l-2.2-0.6l-2.3-0.6l-2.2-0.6l-2.3-0.9l-2.2-1.8l-2.2-4.1l-2.3 1.9l-2.2 4.8l-2.3 2.2l-2.2 1.5l-2.3-1.9l-2.2 0.7l-2.2 2.2l-2.3 1.6l-2.2 1.1l-2.3-1.7l-2.2-1.8l-2.2-2.1l-2.3-3l-2.2 0.2l-2.3-0.3l-2.2-0.8l-2.2-0.8l-2.3-0.9l-2.2-1.1l-2.3-0.9l-2.2-0.7l-2.2-0.5l-2.3-0.4l-2.2-0.5l-2.3-0.4l-2.2-0.5l-2.2-0.4l-2.3-0.3l-2.2-0.3l-2.3-0.1l-2.2-0.2l-2.2 1l-2.3 2.9l-2.2 1l-2.3 1.5l-2.2-2.2l-2.2 0l-2.3-0.9l-2.2-1.5l-2.3-0.9l-2.2-3.7l-2.3-13.1l-2.2-10.1l-2.2-0.8l-2.3 5.2l-2.2 11.6l-2.3 5.9l-2.2-4.8l-2.2-4.2l-2.3-4.1l-2.2 0.8l-2.3 3.2l-2.2 2.8l-2.2 2.7l-2.3 1.1l-2.2 1.1l-2.3 0.8l-2.2 1.9l-2.2 1l-2.3 0.5l-2.2 0l-2.3-2l-2.2-1.9l-2.2-4.7l-2.3-3l-2.2-2.2l-2.3-3.6l-2.2-5.4l-2.2-4.6l-2.3 1.7l-2.2 4.2l-2.3 2.8l-2.2 3.8l-2.2 0.3l-2.3-3.2l-2.2-4.2l-2.3-14.7l-2.2-7.6l-2.2-5.8l-2.3-1.6l-2.2 0.4l-2.3 1.6l-2.2 0.9l-2.3 4.6l-2.2 2.5l-2.2 2.6l-2.3 4.7l-2.2 1.5l-2.3 0.7l-2.2-3.3l-2.2-3.2l-2.3-3.7l-2.2-18.6l-2.3-6.4l-2.2-4.4l-2.2-1.4l-2.3 2.5l-2.2 5.6l-2.3 1.1l-2.2-0.1l-2.2-4.7l-2.3-2.5l-2.2-1.9l-2.3 1.1l-2.2 0.6l-2.2 5.8l-2.3 13.7l-2.2 2.6l-2.3 1.1l-2.2-4.3l-2.2-2.5l-2.3-4.5l-2.2-3.4l-2.3 1.6l-2.2-1.3l-2.2-2.8l-2.3-2.4l-2.2-10.3l-2.3-4.1l-2.2-0.9l-2.2 5l-2.3 2.4l-2.2 3.6l-2.3-11.8l-2.2-1l-2.3 2.8l-2.2 4.8l-2.2 0.5l-2.3 3l-2.2 0.6l-2.3-13.2l-2.2-8.4l-2.2-5.3l-2.3 5.2l-2.2-2.2l-2.3 3.7l-2.2 0.4l-2.2 1.8l-2.3-3.2l-2.2-13.2l-2.3-11l-2.2-3.4l-2.2-1l-2.3 11.3l-2.2 2.3l-2.3 5l-2.2 0.7l-2.2-0.5l-2.3-7.6l-2.2 5.6l-2.3-1.1l-2.2 6.4l-2.2-1.6l-2.3-0.1l-2.2-0.6l-2.3-15.5l-2.2 3.1l-2.2-0.1l-2.3 5l-2.2-8.6l-2.3 5.2l-2.2-5.3l-2.3-2.3l-2.2-10.2l-2.2-4.8l-2.3-9.2l-2.2 2l-2.3-4.5l-2.2 2.1l-2.2 6.7l-2.3-3.2l-2.2-8.3l-2.3-0.9l-2.2-0.3l-2.2 1.2l-2.3-1.4l-2.2 2.6l-2.3 5.1l-2.2 0.4l-2.2 0.2l-2.3 2.5l-2.2 9.6l-2.3-0.6l-2.2 5.5l-2.2-4.5l-2.3-5.3l-2.2 4l-2.3-1.4l-2.2 3.1l-2.2 7l-2.3 0.3l-2.2-4.8l-2.3 0.1l-2.2 16.2l-2.2-12.8l-2.3 4.7l-2.2-0.5l-2.3 4.7l-2.2 6.8l-2.2-12.4l-2.3 11.9l-2.2-11.2l-2.3-1.8l-2.2 11.7l-2.3-0.8l-2.2 4.4l-2.2 1.3l-2.3-2.1l-2.2-1.4l-2.3-7l-2.2-0.7l-2.2 4.1l-2.3-0.9l-2.2-9.6l-2.3 4.1l-2.2-5.6l-2.2-2.2l-2.3-4.7l-2.2-0.9l-2.3 5.8l-2.2-3.1l-2.2 4.1l-2.3-3.8l-2.2-2l-2.3-0.6l-2.2 3.6l-2.2 3.3l-2.3 2.3l-2.2 2.4l-2.3-7.6l-2.2 2.1l-2.2-3.3l-2.3-4.3l-2.2-1.5l-2.3-4.8l-2.2 10.8l-2.2-1.3l-2.3 5.7l-2.2 21.4l-2.3-0.5l-2.2 10.8l-2.3-4.3l-2.2 4l-2.2-3.7l-2.3-7.6l-2.2-1.6l-2.3-0.3l-2.2 15.4l-2.2-12.6l-2.3 15l-2.2-4.3l-2.3 0.3l-2.2 9.2l-2.2-10.3l-2.3 5.7l-2.2 6.3l-2.3-1l-2.2-1.7l-2.2 2.3l-2.3 3.2l-2.2-0.7l-2.3 5.5l-2.2-4l-2.2 8.4l-2.3 17.6l-2.2-3.8l-2.3 8l-2.2 5.1l-2.2-11.7l-2.3-13.2l-2.2 7l-2.3-8.5l-2.2 2.3l-2.2 13.8l-2.3 0.5l-2.2 2.6l-2.3-2l-2.2-5.8l-2.2-1.4l-2.3-2.8l-2.2-7.7l-2.3 4.9l-2.2 1.4l-2.3 3l-2.2 5.2l-2.2-3.7l-2.3-8.8l-2.2-2l-2.3 5.6l-2.2 0.6l-2.2 1l-2.3 1.6l-2.2 4.2l-2.3 5.8l-2.2 4.9l-2.2 11.7l-2.3-7.8l-2.2 10.1l-2.3-1.1l-2.2-6.9l-2.2-5.9l-2.3 7.3l-2.2 1.2l-2.3 3.5l-2.2 11.8l-2.2 8.6l-2.3 1.3l-2.2 6.8l-2.3 1.6l-2.2 2.4l-2.2-0.1l-2.3-3.2l-2.2-1.5l-2.3-4.6l-2.2 0.7l-2.2 4.1l-2.3 6l-2.2 1.7l-2.3-3l-2.2-2l-2.2-4.6l-2.3-9.7l-2.2 7.1l-2.3-4l-2.2 1.2l-2.3 2.5l-2.2 0.3l-2.2-0.3l-2.3 0.6l-2.2-4.1l-2.3 1.2l-2.2 0.1l-2.2 12.9l-2.3 1.2l-2.2-3.5l-2.3 4.2l-2.2 0.2l-2.2-3.9l-2.3 0.7l-2.2-3l-2.3-1.1l-2.2 1.2l-2.2 1.6l-2.3-4.5l-2.2 3.2l-2.3-6.4l-2.2 1.2l-2.2 1.3l-2.3 5.6l-2.2 3.7l-2.3 0.3l-2.2-3.3l-2.2-5l-2.3-2.7l-2.2 8.2l-2.3 6l-2.2 9.8l-2.2-3l-2.3-3.6l-2.2-2.2l-2.3 2.5l-2.2 3.8l-2.3-1.1l-2.2-1.8l-2.2-1.6l-2.3-4.5l-2.2-11.5l-2.3-3.6l-2.2-2.7l-2.2 7.4l-2.3 5.5l-2.2 5.2l-2.3 7.4l-2.2 3.9l-2.2 4.8l-2.3 1.2l-2.2 0l-2.3-0.6l-2.2-0.6l-2.2-1.3l-2.3-0.9l-2.2-4.3l-2.3-1.6l-2.2-2.9l-2.2-9.8l-2.3-5l-2.2 3.8l-2.3 5.1l-2.2 4.2l-2.2 3.1l-2.3-15.4l-2.2-0.6l-2.3 7.5l-2.2 9.6l-2.2 2.7l-2.3 0.8l-2.2 1.9l-2.3 2.8l-2.2 2.8l-2.2 0.5l-2.3-0.9l-2.2-1.3l-2.3-2.5l-2.2-2l-2.3-5l-2.2-5.3l-2.2-4l-2.3-3.2l-2.2 3.4l-2.3 1.2l-2.2 2.4l-2.2-0.7l-2.3-6.4l-2.2-5.5l-2.3 1.5l-2.2 3.4l-2.2 3.7l-2.3 2.6l-2.2 1.6l-2.3-0.8l-2.2 0.4l-2.2-2.7l-2.3-1.6l-2.2-2.1l-2.3 2.2l-2.2 5.4l-2.2 3.4l-2.3-0.2l-2.2-1.1l-2.3-1.9l-2.2-3.8l-2.2-5.1l-2.3-11.2l-2.2-9.1l-2.3-2l-2.2 4.2l-2.2 3.1l-2.3 4.1l-2.2-0.2l-2.3 1.8l-2.2 1.8l-2.3-1.8l-2.2 0.1l-2.2 0.4l-2.3 2.1l-2.2 2.4l-2.3-2.2l-2.2-1.9l-2.2-5.2l-2.3-0.9l-2.2-2l-2.3-1.2l-2.2-2.6l-2.2-6.9l-2.3-12.1l-2.2-3.6l-2.3-1.5l-2.2 1.6l-2.2 4l-2.3 11.1l-2.2 16.3l-2.3 7.5l-2.2-8.1l-2.2-6.3l-2.3-13.8l-2.2-13.8l-2.3-14.9l-2.2-7.5l-2.2-7.3l-2.3-3l-2.2 0.5l-2.3 1.5l-2.2-1.3l-2.2-1.8l-2.3 2l-2.2-5.4l-2.3-2.5l-2.2-1.4l-2.2-3.6l-2.3 2.9l-2.2 2.2l-2.3 9.7l-2.2 6.8l-2.3 8.3l-2.2 11.6l-2.2 4.3l-2.3 3.6l-2.2-8.3l-2.3-6.4l-2.2-10.5l-2.2-9.7l-2.3-6.2l-2.2-6.3l-2.3-2.4l-2.2-0.4l-2.2-3.3l-2.3 3l-2.2 3.7l-2.3-5.8l-2.2 11.3l-2.2-0.2l-2.3 8l-2.2 14l-2.3-0.9l-2.2-1.7l-2.2-6.4l-2.3-4.6l-2.2-1.7l-2.3-5.7l-2.2-10.3l-2.2 2.2l-2.3 1.9l-2.2 5.4l-2.3 0.8l-2.2-0.6l-2.2-6.4l-2.3-6.6l-2.2-9.9l-2.3-7.9l-2.2 23.8l-2.2-10.2l-2.3-2.8l-2.2-19.8l-2.3-8.8l-2.2-3.2l-2.3 6.8l-2.2-3l-2.2 1.7l-2.3 5.6l-2.2 2.5l-2.3 10.2l-2.2 13.7l-2.2-3l-2.3-9.7l-2.2-11.2l-2.3 5.9l-2.2-4.3l-2.2 2l-2.3 1.8l-2.2-4.3l-2.3 5.5l-2.2-2.9l-2.2-5.4l-2.3 1.5l-2.2 0.9l-2.3 6.8l-2.2-1.5l-2.2-7.8l-2.3 0.9l-2.2-1.1l-2.3-5.6l-2.2-4l-2.2 3l-2.3-1.8l-2.2-0.8l-2.3-5.9l-2.2-3.3l-2.2-1l-2.3-2.1l-2.2 9.4l-2.3-4.1l-2.2 2.6l-2.3 3.6l-2.2 3.8l-2.2 6.9l-2.3 0.5l-2.2 2.5l-2.3 3.3l-2.2 0.9l-2.2-2.5l-2.3-0.7l-2.2-5.8l-2.3-1.5l-2.2 6l-2.2 4.3l-2.3 2.9l-2.2 4.8l-2.3-2.2l-2.2-5.5l-2.2-5.1l-2.3 3.2l-2.2 4l-2.3-8.8l-2.2-8.7l-2.2-4.1l-2.3-2.9l-2.2 7.1l-2.3-3l-2.2-0.9l-2.2-4.7l-2.3-5.3l-2.2 8.2l-2.3 7l-2.2-5.8l-2.2 4.8l-2.3 2.4l-2.2-4.1l-2.3 6.6l-2.2 1.8l-2.2-0.1l-2.3 2.3l-2.2 7.7l-2.3-1.1l-2.2-5.1l-2.3 7.6l-2.2 3.3l-2.2-2l-2.3-1l-2.2-3.5l-2.3-7.7l-2.2-2.6l-2.2 12.8l-2.3-5.9l-2.2 12.1l-2.3 7.1l-2.2 9.4l-2.2 1.2l-2.3 2.2l-2.2-3.7l-2.3-2.7l-2.2 1.1l-2.2 12l-2.3-4.6l-2.2-0.8l-2.3-1l-2.2 2.4l-2.2-4.2l-2.3 14.7l-2.2 19.2l-2.3-1.7l-2.2 11.7l-2.2-1.4l-2.3-4.1l-2.2-3.3l-2.3-1.5l-2.2-0.6l-2.2-3.1l-2.3 10l-2.2 8.4l-2.3-4l-2.2 7.1l-2.3-2.7l-2.2-10l-2.2-7.2l-2.3-1.4l-2.2 5l-2.3 9.1l-2.2-8.8l-2.2-9.9l-2.3-3l-2.2-7.4l-2.3 1.5l-2.2 8l-2.2 2.8l-2.3 8.8l-2.2 4.5l-2.3 1.3l-2.2 1.5l-2.2 10.8l-2.3 10.4l-2.2 9.7l-2.3-0.9l-2.2 7l-2.2-0.5l-2.3-9.7l-2.2-5.3l-2.3-5.9l-2.2-4.6l-2.2-6.9l-2.3-4.5l-2.2 7.7l-2.3 2.9l-2.2 9.6l-2.2-0.3l-2.3 10.4l-2.2-1.4l-2.3-5l-2.2-7.1l-2.2 2.1l-2.3 7.1l-2.2-5.3l-2.3 5l-2.2-0.5l-2.3-3.1l-2.2 1.1l-2.2 12.5l-2.3 3.7l-2.2 11.3l-2.3-2l-2.2-10.5l-2.2-5.7l-2.3 4.2l-2.2 2.2l-2.3 5.6l-2.2 1.7l-2.2 1.2l-2.3-4.1l-2.2-3.5l-2.3-2.5l-2.2 0.6l-2.2-3.7z" fill="#56a4c8" stroke="none"/>
<path d="M354.8 291.3l1.1-18l1.1 21.7l1.1-19.6l1.1 19l1.2-15.3l1.1 17.8l1.1-15.5l1.1 19l1.1-12.9l1.2 17l1.1-12l1.1 10.8l1.1-8.4l1.1 6.7l1.2-8.7l1.1 3.1l1.1-9.2l1.1 7l1.1-13.3l1.2 9.1l1.1-9.3l1.1 15l1.1-18.9l1.1 29.4l1.2-21l1.1 23l1.1-14.9l1.1 3.6l1.1-32.7l1.2 29l1.1-38.7l1.1 26.2l1.1-31l1.1 29.9l1.2-28.2l1.1 31.3l1.1-22l1.1 22.5l1.2-16.5l1.1 11.5l1.1-15.6l1.1 20.9l1.1-25l1.2 17.9l1.1-27l1.1 24.9l1.1-30.2l1.1 37.3l1.2-31.9l1.1 36.9l1.1-25l1.1 26.4l1.1-29l1.2 18.6l1.1-27.8l1.1 28.1l1.1-34.3l1.1 24.7l1.2-41.6l1.1 38.7l1.1-41.4l1.1 33.7l1.1-36.7l1.2 41.2l1.1-41.7l1.1 48.6l1.1-43.5l1.1 48.1l1.2-38l1.1 43.9l1.1-26.3l1.1 31.6l1.1-13.8l1.2 23.5l1.1-17.2l1.1 17.7l1.1-17.1l1.1 10.1l1.2-19.1l1.1 20l1.1-38.6l1.1 28.9l1.1-41.7l1.2 31.3l1.1-47.5l1.1 36.7l1.1-44.2l1.1 42.7l1.2-54.2l1.1 52.9l1.1-49.2l1.1 44.7l1.1-50.4l1.2 41.6l1.1-42.8l1.1 40l1.1-47.9l1.1 39.9l1.2-41.5l1.1 40l1.1-31.4l1.1 38.8l1.1-28.7l1.2 31.7l1.1-28.5l1.1 38.4l1.1-33.3l1.1 42.1l1.2-33.1l1.1 24l1.1-44.2l1.1 39.2l1.1-41.5l1.2 42.9l1.1-39.4l1.1 46.6l1.1-32.3l1.1 42.3l1.2-26.3l1.1 29l1.1-22.4l1.1 15.3l1.2-18.8l1.1 22.8l1.1-30.3l1.1 21.9l1.1-44.3l1.2 34.3l1.1-28.8l1.1 31.9l1.1-30.8l1.1 31.4l1.2-31l1.1 32.5l1.1-33.2l1.1 36.5l1.1-26l1.2 30.1l1.1-22.7l1.1 24.1l1.1-28.8l1.1 17.1l1.2-19.8l1.1 21.5l1.1-54.2l1.1 35l1.1-39.5l1.2 24.8l1.1-32.2l1.1 36.4l1.1-39.8l1.1 37.4l1.2-32.8l1.1 33.8l1.1-47l1.1 47.8l1.1-52.4l1.2 57l1.1-54.2l1.1 42.2l1.1-38.7l1.1 37.6l1.2-38l1.1 40.7l1.1-28.8l1.1 32.5l1.1-33.4l1.2 31.2l1.1-45.7l1.1 44.5l1.1-41.5l1.1 32.1l1.2-43.7l1.1 36.6l1.1-55.8l1.1 43.7l1.1-46.6l1.2 52.5l1.1-49.6l1.1 36.8l1.1-36.5l1.1 39.1l1.2-47.2l1.1 54.9l1.1-41.2l1.1 44.7l1.1-39.4l1.2 40.4l1.1-43.3l1.1 45.3l1.1-52.2l1.1 48.9l1.2-49.8l1.1 42.2l1.1-31.6l1.1 36.7l1.1-45.4l1.2 46.5l1.1-42.2l1.1 34.5l1.1-37.8l1.2 35.5l1.1-33.7l1.1 33.8l1.1-35.9l1.1 34.1l1.2-44.3l1.1 37.7l1.1-39.8l1.1 43.9l1.1-44.6l1.2 42.2l1.1-44.2l1.1 39.4l1.1-26.5l1.1 32.3l1.2-40.6l1.1 33.6l1.1-44l1.1 35.8l1.1-47.6l1.2 52.9l1.1-53.4l1.1 58.1l1.1-50.1l1.1 51l1.2-45.7l1.1 48.7l1.1-60.7l1.1 53.6l1.1-51.3l1.2 54.2l1.1-55.4l1.1 59.5l1.1-47.2l1.1 55.9l1.2-40.2l1.1 49l1.1-49.4l1.1 45.4l1.1-39.3l1.2 36.1l1.1-30.8l1.1 35.9l1.1-42.2l1.1 47.7l1.2-45.3l1.1 47.5l1.1-51.1l1.1 46.3l1.1-54.2l1.2 51.3l1.1-44.8l1.1 40.5l1.1-28.4l1.1 22.4l1.2-25.4l1.1 26.9l1.1-29.9l1.1 35.7l1.1-43.9l1.2 44.6l1.1-41.2l1.1 43.7l1.1-32.8l1.1 31.9l1.2-49.1l1.1 45.8l1.1-43.7l1.1 41.2l1.1-42.9l1.2 42.4l1.1-49l1.1 42.1l1.1-43.8l1.1 40l1.2-40.4l1.1 36.8l1.1-44.9l1.1 42.3l1.2-63l1.1 67.1l1.1-61.7l1.1 52.3l1.1-59.9l1.2 62l1.1-54.5l1.1 55.5l1.1-36l1.1 39.3l1.2-36.3l1.1 42.2l1.1-28.1l1.1 28.9l1.1-34.3l1.2 36.1l1.1-38.8l1.1 35.8l1.1-29.3l1.1 33.3l1.2-23.7l1.1 29.3l1.1-35.7l1.1 36.8l1.1-35.2l1.2 34.3l1.1-35.9l1.1 43.7l1.1-44.8l1.1 46.3l1.2-45.2l1.1 38.4l1.1-35.8l1.1 34.9l1.1-40.9l1.2 39.4l1.1-38.9l1.1 44.3l1.1-46l1.1 48.9l1.2-39.8l1.1 34.3l1.1-28.6l1.1 32.9l1.1-37.8l1.2 36l1.1-29.1l1.1 27.1l1.1-35.3l1.1 39.6l1.2-46.5l1.1 40.6l1.1-36.8l1.1 48l1.1-47.9l1.2 57.6l1.1-54.7l1.1 57.7l1.1-66.5l1.1 52.8l1.2-62.1l1.1 51.9l1.1-53.5l1.1 51l1.1-45.4l1.2 39.8l1.1-48.7l1.1 47l1.1-34.2l1.1 37.2l1.2-39l1.1 32.2l1.1-38.5l1.1 41.7l1.1-48l1.2 56.8l1.1-59l1.1 78.8l1.1-49.2l1.2 52l1.1-46.1l1.1 56.3l1.1-53.5l1.1 29.7l1.2-39.4l1.1 47.3l1.1-40l1.1 49.9l1.1-38l1.2 44.6l1.1-22.9l1.1 29.3l1.1-28.2l1.1 28.8l1.2-27.7l1.1 26.9l1.1-29.8l1.1 24.4l1.1-46.8l1.2 44.9l1.1-39.4l1.1 37.2l1.1-27.1l1.1 37.4l1.2-29.2l1.1 34.9l1.1-20.8l1.1 22.5l1.1-23l1.2 27.6l1.1-25.6l1.1 32l1.1-21.3l1.1 23l1.2-18.1l1.1 19l1.1-37l1.1 23l1.1-28.1l1.2 20.1l1.1-30.9l1.1 31.1l1.1-31.1l1.1 19.8l1.2-20.8l1.1 26.6l1.1-27.2l1.1 23.5l1.1-21.9l1.2 18.9l1.1-23.3l1.1 26.6l1.1-21.8l1.1 22.2l1.2-18.6l1.1 21l1.1-22.7l1.1 29l1.1-22.4l1.2 28.6l1.1-20.1l1.1 29.8l1.1-17.5l1.1 28l1.2-19.9l1.1 26.3l1.1-14l1.1 22.3l1.1-16.8l1.2 13.2l1.1-15.5l1.1 11.2l1.1-13.5l1.1 1.9l1.2-11.7l1.1 3.4l1.1-8.3l1.1 1.5l1.2-9.2l1.1-0.5l1.1-20.2l1.1 18l1.1-23.6l1.2 20.7l1.1-22.5l1.1 26.1l1.1-18.3l1.1 19.7l1.2-16.5l1.1 19l1.1-10.9l1.1 16.3l1.1-13.2l1.2 11.2l1.1-12l1.1 13.8l1.1-18.8l1.1 20.1l1.2-18.4l1.1 16.9l1.1-21.2l1.1 20.7l1.1-13.6l1.2 16.6l1.1-11l1.1 18.3l1.1-19.5l1.1 27l1.2-19l1.1 33.9l1.1-17.3l1.1 31.1l1.1-15.2l1.2 29l1.1-17.5l1.1 23.8l1.1-14.1l1.1 22.2l1.2-16.8l1.1 9.3l1.1-20.6l1.1 4.3l1.1-13l1.2 1.9l1.1-10.2l1.1 6.2l1.1-9.5l1.1 7.9l1.2-7.8l1.1 9.3l1.1-10.2l1.1 13.8l1.1-9.3l1.2 21.4l1.1-11.4l1.1 18.3l1.1-14.2l1.1 16.8l1.2-8.4l1.1 9.6l1.1-8.8l1.1 10.8l1.1-9.7l1.2 10.6l1.1-7.8l1.1 13l1.1-8.6l1.1 10.5l1.2-9.7l1.1 11.9l1.1-12.6l1.1 10.2l1.1-10l1.2 7.9l1.1-10.1l1.1 9.7l1.1-9.7l1.1 9.6l1.2-9.5l1.1 11.3l1.1-11l1.1 9.2l1.2-8.9l1.1 7.1l1.1-10.8l1.1 11l1.1-9l1.2 4.9l1.1-7.2l1.1 4.1l1.1-8l1.1 3.8l1.2-7.2l1.1 9.2l1.1-9.1l1.1 18.2l1.1-13l1.2 24.2l1.1-10.2l1.1 15.3l1.1-8.5l1.1 12.3l1.2-8.1l1.1 10l1.1-5.6l1.1 6.7l1.1-4.4l1.2 4.6l1.1-3.3l1.1-0.1l1.1-6.7l1.1 1.3l1.2-9.5l1.1 7.3l1.1-7.8l1.1 9.9l1.1-8l1.2 9.6l1.1-5.6l1.1 8.3l1.1-4.3l1.1 3.9l1.2-5.2l1.1 6l1.1-4.6l1.1 3l1.1-3.7l1.2 1.1l1.1-7.2l1.1 3.5l1.1-8.1l1.1 4.7l1.2-11.5l1.1 10l1.1-10.8l1.1 16.3l1.1-7.8l1.2 14.2l1.1-7.6l1.1 8.3l1.1-11l1.1 8.6l1.2-9.7l1.1 8.5l1.1-8.7l1.1 5.3l1.1-4.9l1.2 8.1l1.1-5.4l1.1 9.4l1.1-6.2l1.1 11.5l1.2-6.7l1.1 11.7l1.1-7.2l1.1 9.2l1.1-5.9l1.2 8.4l1.1-5l1.1 6.3l1.1-5.3l1.2 6.2l1.1-4.3l1.1 3.8l1.1-5.6l1.1 2.8l1.2-4.2l1.1 1.4l1.1-4.2l1.1 2.3l1.1-5.4l1.2 4.6l1.1-6.8l1.1 4.1l1.1-10.5l1.1 0.9l1.2-11.9l1.1 4.4l1.1-16.6l1.1 17.2l1.1-8.8l1.2 24.2l1.1-10.2l1.1 7.1l1.1-11.1l1.1 6.9l1.2-12.7l1.1 7.6l1.1-15.8l1.1 12l1.1-13.9l1.2 18.9l1.1-8.6l1.1 18.4l1.1-9.6l1.1 12.5l1.2-8.1l1.1 9.7l1.1-7l1.1 11.3l1.1-8.1l1.2 9l1.1-5.3l1.1 6.6l1.1-4.6l1.1 5.2l1.2-3.2l1.1 3.8l1.1-2.4l1.1 2.4l1.1-3.4l1.2 2.2l1.1-5.4l1.1 0.6l1.1-3.7l1.1-0.2l1.2-6.6l1.1-0.8l1.1-9.2l1.1 4l1.1-15.6l1.2 10.1l1.1-15.1l1.1 7.7l1.1-8.8l1.1 11.5l1.2-13.2l1.1 16.8l1.1-15.4l1.1 26.9l1.1-12.8l1.2 17.3l1.1-6.3l1.1 7.9l1.1-5.4l1.1 7.2l1.2-3.7l1.1 4.8l1.1-6.3l1.1 2.5l1.2-8.5l1.1 6l1.1-7.9l1.1 10.1l1.1-6.3l1.2 9.9l1.1-3.8l1.1 6.8l1.1-14l1.1 4.2l1.2-14.5l1.1 8.5l1.1-16.9l1.1 8.7l1.1-10.7l1.2 13.4l1.1-12.7l1.1 17.7l1.1-6.6l1.1 9.9l1.2-8.2l1.1 7.9l1.1-7.3l1.1 3.6l1.1-8l1.2 2.4l1.1-15l1.1 13.7l1.1-20.7l1.1 19.5l1.2-15.9l1.1 22.3l1.1-16.9l1.1 13.7l1.1-11.4l1.2 15.9l1.1-14.3l1.1 12.7l1.1-14.1l1.1 12.9l1.2-24.8l1.1 25.9l1.1-26.9l1.1 29.9l1.1-24.2l1.2 23.5l1.1-19.3l1.1 23.2l1.1-12.4l1.1 12.2l1.2-16.4l1.1 12.2l1.1-14.1l1.1 17.6l1.1-20.2l1.2 19l1.1-14.7l1.1 1.8l1.1-20.4l1.1 20.3l1.2-24.8l1.1 23.6l1.1-25l1.1 29.1l1.1-25.5l1.2 24.9l1.1-21.7l1.1 22l1.1-15.9l1.1 15.6l1.2-24.3l1.1 21.8l1.1-35.2l1.1 34l1.1-41.7l1.2 45.7l1.1-47.3l1.1 40.2l1.1-27.6l1.2 37.3l1.1-15.5l1.1 20.1l1.1-17.8l1.1 19.8l1.2-20l1.1 23l1.1-22.8l1.1 21.1l1.1-21.5l1.2 15.5l1.1-23.6l1.1 19.5l1.1-31.6l1.1 30.9l1.2-26.6l1.1 31.2l1.1-36l1.1 37.5l1.1-23.8l1.2 27l1.1-19.3l1.1 19.4l1.1-28.5l1.1 26.1l1.2-28.8l1.1 27.2l1.1-21l1.1 14.2l1.1-22.6l1.2 21.3l1.1-44l1.1 35.4l1.1-41.7l1.1 29.9l1.2-40.8l1.1 37.3l1.1-44.3l1.1 43.1l1.1-40.3l1.2 33l1.1-35.3l1.1 41.2l1.1-37l1.1 43.9l1.2-48.7l1.1 49.8l1.1-39.1l1.1 29l1.1-24.2l1.2 32l1.1-43.9l1.1 32.2l1.1-45.4l1.1 40.5l1.2-45.2l1.1 39.4l1.1-42.4l1.1 38.2l1.1-35.2l1.2 33.6l1.1-31.2l1.1 30.2l1.1-33.5l1.1 32.9l1.2-36.2l1.1 30.6l1.1-30.4l1.1 32.4l1.1-33l1.2 41.8l1.1-40.1l1.1 43.8l1.1-40.6l1.1 35.4l1.2-41.4l1.1 38.4l1.1-32.7l1.1 31.3l1.2-35l1.1 30.1l1.1-23l1.1 30.7l1.1-30.2l1.2 33l1.1-29.1l1.1 30.5l1.1-17.5l1.1 23.3l1.2-22.3l1.1 24.3l1.1-29.6l1.1 27l1.1-42.4l1.2 41.9l1.1-62.7l1.1 48.9l1.1-54.2l1.1 51.9l1.2-40.1l1.1 48.6l1.1-59.6l1.1 52.6l1.1-37.7l1.2 50.9l1.1-25.8l1.1 37.5l1.1-24.8l1.1 19.7l1.2-34.5l1.1 26.5l1.1-32.8l1.1 36.6l1.1-51.5l1.2 33.9l1.1-42.6l1.1 34.2l1.1-39.2l1.1 43.2l1.2-48.9l1.1 43.4l1.1-36.2l1.1 36.9l1.1-43.1l1.2 39.9l1.1-39.9l1.1 37.6l1.1-32.7l1.1 34.4l1.2-36.2l1.1 37.2l1.1-31.1l1.1 24.8l1.1-30.9l1.2 25.2l1.1-29.2l1.1 39.5l1.1-56.2l1.1 47l1.2-33.4l1.1 33.1l1.1-43l1.1 47.3l1.1-43.6l1.2 28.6l1.1-47.9l1.1 60.5l1.1-78.9l1.1 63.5l1.2-54l1.1 54.3l1.1-28.4l1.1 30l1.1-27.6l1.2 35.2l1.1-34.4l1.1 38.1l1.1-34.2l1.1 30.2l1.2-29.3l1.1 33.6l1.1-35l1.1 24.2l1.2-36.6l1.1 37.1l1.1-42.3l1.1 20.9l1.1-42.4l1.2 36.7l1.1-43l1.1 44.3l1.1-54.3l1.1 43.5l1.2-44.4l1.1 49.2l1.1-43.2l1.1 44.7l1.1-41.6l1.2 45.9l1.1-32.4l1.1 35.7l1.1-42.3l1.1 40.2l1.2-48.5l1.1 56.1l1.1-54.7l1.1 52.3l1.1-45.3l1.2 43l1.1-60.9l1.1 57.6l1.1-45.6l1.1 42l1.2-39.2l1.1 39.8l1.1-49.9l1.1 51.9l1.1-59.3l1.2 63.1l1.1-54.5l1.1 50.4l1.1-35.2l1.1 38.3l1.2-45.7l1.1 39.9l1.1-38.5l1.1 39.4l1.1-47.9l1.2 52.6l1.1-49.9l1.1 52.1l1.1-42.6l1.1 48.2l1.2-40.5l1.1 36.4l1.1-32.6l1.1 42.2l1.1-46.6l1.2 47.5l1.1-31.5l1.1 27.4l1.1-30l1.1 30.7l1.2-30.1l1.1 37.1l1.1-32.8l1.1 34.2l1.1-45.6l1.2 47.7l1.1-63.8l1.1 62.5l1.1-66.1l1.1 61.7l1.2-41.9l1.1 42.7l1.1-43.9l1.1 32.2l1.1-37.5l1.2 39.3l1.1-45.7l1.1 56.9l1.1-67.1l1.2 55.2l1.1-50.8l1.1 63.2l1.1-65.7l1.1 58.9l1.2-52l1.1 47.3l1.1-45.5l1.1 46l1.1-45.3l1.2 40.6l1.1-42.9l1.1 55.7l1.1-58.7l1.1 42.5l1.2-42l1.1 41.9l1.1-44l1.1 48.8l1.1-49.9l1.2 49.6l1.1-55.1l1.1 48.1l1.1-46.3l1.1 43.2l1.2-64.6l1.1 66l1.1-62.6l1.1 58.6l1.1-45.8l1.2 51.1l1.1-43.4l1.1 47.9l1.1-63.7l1.1 58.2l1.2-65.7l1.1 66.3l1.1-81.2l1.1 71.6l1.1-66.2l1.2 63.7l1.1-73.5l1.1 73.3l1.1-49.4l1.1 49l1.2-52.8l1.1 47.7l1.1-57.5l1.1 54.9l1.1-57l1.2 58.4l1.1-46.7l1.1 45.5l1.1-42.1l1.1 42.4l1.2-46.4l1.1 47.3l1.1-33.7l1.1 42l1.1-49.4l1.2 52.6l1.1-44.5l1.1 37.8l1.1-38.9l1.1 36.8l1.2-38.4l1.1 42.9l1.1-40.3l1.1 38.3l1.1-30.7l1.2 39.9l1.1-35.5l1.1 40.3l1.1-31.5l1.1 41.7l1.2-21.9l1.1 24.2l1.1-20l1.1 25.3l1.2-29.7l1.1 24.5l1.1-32.1l1.1 40.7l1.1-41.4l1.2 36.4l1.1-33.8l1.1 33.9l1.1-34.3l1.1 31.2l1.2-25.8l1.1 41.3l1.1-38.5l1.1 39.1l1.1-26.2l1.2 26.3l1.1-22.3l1.1 23.9l1.1-22.9l1.1 16.5l1.2-27.9l1.1 29l1.1-42.4l1.1 36.8l1.1-34.2l1.2 41.8l1.1-55.1l1.1 55.6l1.1-45.9l1.1 45.2l1.2-48.8l1.1 43.8l1.1-38.6l1.1 36.3l1.1-40.4l1.2 29.1l1.1-41.8l1.1 42.8l1.1-48l1.1 51.4l1.2-40l1.1 51l1.1-47.6l1.1 60.8l1.1-50.2l1.2 53.4l1.1-56.4l1.1 54.6l1.1-56.7l1.1 56.3l1.2-51.6l1.1 47.9l1.1-44.6l1.1 46.8l1.1-46.3l1.2 41.1l1.1-28l1.1 33.3l1.1-23.1l1.1 31.5l1.2-22.6l1.1 35.8l1.1-31.9l1.1 31.3l1.1-22.2l1.2 19.2l1.1-27.8l1.1 27.3l1.1-28l1.1 23.2l1.2-26.1l1.1 23.3l1.1-27.2l1.1 28.2l1.1-27.7l1.2 39.5l1.1-29.2l1.1 25.6l1.1-17.4l1.2 15l1.1-15.5l1.1 10.5l1.1-12.9l1.1 13.8l1.2-13l1.1 17.1l1.1-14.9l1.1 25.2l1.1-19.4l1.2 21.8l1.1-18.1l1.1 20.9l1.1-11.4l1.1 12.7l1.2-8.4l1.1 6.8l1.1-9.6l1.1 13l1.1-8.7l1.2 13.2l1.1-10.1l1.1 12.6l1.1-12.1l1.1 16.4l1.2-14.9l1.1 13.8l1.1-13.9l1.1 11.3l1.1-17.9l1.2 4.2l1.1-11.9l1.1 6.1l1.1-14.8l1.1 14.2l1.2-10.6l1.1 9.5l1.1-7.8l1.1 9.7l1.1-11.1l1.2 13.6l1.1-8.4l1.1 13.1l1.1-8.2l1.1 8.3l1.2-6.7l1.1 5.6l1.1-6.7l1.1 1.1l1.1-8.3l1.2 5.8l1.1-13.6l1.1 15l1.1-18.6l1.1 23l1.2-21.6l1.1 28l1.1-18.1l1.1 36.7l1.1-21.7l1.2 25.4l1.1-17.5l1.1 20.7l1.1-12.3l1.1 15.6l1.2-15.6l1.1 14.9l1.1-13l1.1 11.5l1.1-14.9l1.2 10.2l1.1-10.2l1.1 7.6l1.1-9.7l1.1 7.2l1.2-7.7l1.1 3.1l1.1-8.4l1.1 7.5l1.2-15.5l1.1 13.9l1.1-13.3l1.1 12.9l1.1-8.1l1.2 9.7l1.1-7l1.1 12.8l1.1-10.2l1.1 17.8l1.2-12.8l1.1 27.5l1.1-18.8l1.1 23l1.1-19.3l1.2 22.5l1.1-13.9l1.1 13.6l1.1-16.6l1.1 12.8l1.2-10.3l1.1 7.5l1.1-8.6l1.1 4.4l1.1-7.9l1.2 6.2l1.1-9.4l1.1 14l1.1-10l1.1 15.4l1.2-7.5l1.1 11.1l1.1-9.2l1.1 11.4l1.1-8.8l1.2 11.8l1.1-9.9l1.1 14.6l1.1-9.4l1.1 11.3l1.2-8.9l1.1 10.9l1.1-9.4l1.1 9.4l1.1-10.2l1.2 9.7l1.1-9.9l1.1 8.9l1.1-9.3l1.1 7.4l1.2-8.6l1.1 7.8l1.1-7.3l1.1 6.2l1.1-8.6l1.2 7.5l1.1-7.5l1.1 4.8l1.1-6.3l1.1 3.5l1.2-5.8l1.1 2.6l1.1-5.4l1.1 4.6l1.1-10.5l1.2 14.6l1.1-9.3l1.1 13.5l1.1-11.6l1.1 16.4l1.2-10.8l1.1 4.9l1.1-11.5l1.1-0.1l1.1-11.3l1.2 6.1l1.1-8.6l1.1 9.4l1.1-8.4l1.1 18.5l1.2-15.4l1.1 28.5l1.1-12.9l1.1 16.6l1.2-10.6l1.1 11.5l1.1-8.3l1.1 9.8l1.1-7.7l1.2 8.6l1.1-8.4l1.1 8.4l1.1-5.3l1.1 7.5l1.2-4.9l1.1 3.4l1.1-3.3l1.1 2.3l1.1-1.5l1.2-1.4l1.1-0.9l1.1-0.1l1.1-0.6l1.1 0.8l1.2-0.4l1.1 0.5l1.1-0.3l1.1 0.6l1.1-0.3l1.2 0.6l1.1-0.3l1.1 0.7l1.1-0.3l1.1 0.8l1.2-0.3l1.1 0.7l1.1-0.3l1.1 0.8l1.1-0.3l1.2 0.7l1.1-0.3l1.1 0.8l1.1-0.3l1.1 1l1.2-0.3l1.1 1.2l1.1-0.3l1.1 1.4l1.1-0.3l1.2 1.2l1.1-0.3l1.1 1.1l1.1-0.3l1.1 1.1l1.2-0.3l1.1 0.6l1.1-3.3l1.1 3.1l1.1-5l1.2 8l1.1-0.8l1.1 2.9l1.1-0.7l1.1 2.5l1.2-0.4l1.1 2.1l1.1-0.3l1.1-0.8l1.1-0.3l1.2-1.3l1.1-0.3l1.1-1.9l1.1-0.3l1.1-0.4l1.2-0.3l1.1 2.2l1.1-0.4l1.1-1.1l1.1-0.3l1.2-1.9l1.1-0.8l1.1-4l1.1-20.1l1.2 18.2l1.1-9.6l1.1 13.7l1.1-0.6l1.1 2.4l1.2-0.3l1.1 1.2l1.1-0.4l1.1 1l1.1-0.3l1.2 0.9l1.1-0.3l1.1 0.9l1.1-0.3l1.1 0.9l1.2-0.3l1.1 0.8l1.1-0.3l1.1 0.6l1.1-0.3l1.2 0.7l1.1-0.3l1.1 0.7l1.1-0.3l1.1 0.7l1.2-0.3l1.1 0.7l1.1-0.3l1.1 0.7l1.1-0.3l1.2 0.7l1.1-0.3l1.1 0.2l1.1-0.3l1.1-0.2l1.2-0.3l1.1 0l1.1-0.9l1.1-15.4l1.1-27.9l1.2 24.5l1.1-28.4l1.1 28.8l1.1-28l1.1 30.7l1.2-14.1l1.1 14.3l1.1-28.4" fill="none" stroke="#56a4c8" stroke-width="1.5" stroke-linejoin="round"/>
<path d="M355.9 284.7l2.2 0.9l2.3 1.1l2.2 0l2.2 4.6l2.3 2.2l2.2-0.3l2.3-0.7l2.2-2.9l2.2-3.4l2.3-1.5l2.2-1.5l2.3 6l2.2 2l2.2-18.7l2.3-2.9l2.2-3.5l2.3-0.8l2.2 1.7l2.3 4.5l2.2-3.6l2.2-1.4l2.3-6.6l2.2-1.6l2.3 2.2l2.2 7l2.2 0l2.3-5.8l2.2-6.4l2.3-8.9l2.2-4.7l2.2-1.1l2.3 2.6l2.2 4.6l2.3 3.5l2.2 11.3l2.2 11.1l2.3 5.4l2.2-0.7l2.3-5.3l2.2-9.5l2.2-11.2l2.3-6.6l2.2-9.7l2.3-6l2.2 0.2l2.2-5.7l2.3-3l2.2-4.7l2.3-2.7l2.2 3.7l2.2 6l2.3 1l2.2 1.7l2.3 7.8l2.2-13.6l2.2 1l2.3 3l2.2 10.1l2.3 10.5l2.2 1.8l2.3-4.8l2.2-3.1l2.2-11.8l2.3 1.1l2.2 3l2.3-0.9l2.2-1.6l2.2 7.7l2.3 0.9l2.2-4l2.3-4.8l2.2-17l2.2-5.4l2.3-4l2.2-2.8l2.3 0.7l2.2-8l2.2-0.8l2.3 3.6l2.2-4.3l2.3 2.6l2.2 3l2.2-2.2l2.3-7.9l2.2-4.1l2.3-5.4l2.2-5.5l2.2-6.6l2.3 1l2.2-0.5l2.3-2.5l2.2 5.2l2.2 1.2l2.3-4.2l2.2 1l2.3-0.5l2.2 1.9l2.2-3.2l2.3 3l2.2-6.2l2.3-2l2.2 0.6l2.3-4.7l2.2-2.7l2.2 0.1l2.3-5.4l2.2 5.9l2.3-2.8l2.2-5.7l2.2-3.9l2.3 0.3l2.2 4.1l2.3 2.3l2.2-4.5l2.2-8l2.3 9.7l2.2 4l2.3 7.6l2.2 3.6l2.2 5l2.3 0.6l2.2 2.3l2.3 0.5l2.2 0.1l2.2-4.2l2.3 3.7l2.2 2.4l2.3-2.4l2.2-1.2l2.2 0l2.3 1.2l2.2 3.1l2.3-7.1l2.2-4.8l2.2 1.9l2.3-4.7l2.2-4.6l2.3-1.5l2.2-4.5l2.3-6.2l2.2 1.2l2.2-5.1l2.3 3.3l2.2 7.6l2.3 1.7l2.2 8.3l2.2-2.1l2.3-0.3l2.2-0.2l2.3 5.5l2.2-0.3l2.2 1.7l2.3-2.9l2.2 2.7l2.3 0.5l2.2-2.7l2.2-1.5l2.3 1.4l2.2 2.1l2.3 3.8l2.2 0.9l2.2-0.2l2.3 0.9l2.2-1.6l2.3-2.5l2.2-0.2l2.2 1.9l2.3 3.5l2.2-3.6l2.3-4.7l2.2-5.1l2.2 4.7l2.3-4.4l2.2-0.1l2.3 2.8l2.2-3.7l2.2 0l2.3 3.7l2.2 13.8l2.3 2.8l2.2 4.1l2.3-7.8l2.2 7.4l2.2 6l2.3 11.1l2.2 3.3l2.3 1.1l2.2-1.8l2.2-12l2.3 4.5l2.2 5l2.3 4.6l2.2 11.4l2.2 0.2l2.3 1.9l2.2 6.7l2.3 2.5l2.2-5.5l2.2-7.3l2.3-5.8l2.2-3.1l2.3-1.4l2.2 0.6l2.2-1.3l2.3-4l2.2 5.8l2.3 2.2l2.2 2.1l2.2 5l2.3 4l2.2 9.5l2.3 7.5l2.2 4.7l2.2 5.1l2.3-3.6l2.2-0.9l2.3-6.7l2.2-5l2.3-5.6l2.2-12l2.2-1.9l2.3-1.7l2.2 3.8l2.3 1.4l2.2 3.8l2.2 4.1l2.3-0.3l2.2-1.8l2.3 0.8l2.2-0.4l2.2 2.3l2.3 4.3l2.2 1.6l2.3 7l2.2 13.6l2.2 11.5l2.3 9.8l2.2 5.6l2.3 3.8l2.2-6l2.2-6.7l2.3-4.9l2.2-3.3l2.3 0.7l2.2 0.6l2.2 3.1l2.3 6.9l2.2 4.3l2.3 4.9l2.2 1.3l2.2 2.3l2.3 1.8l2.2 3.2l2.3 0.8l2.2 1.1l2.2-1.5l2.3-1.2l2.2-0.7l2.3 0.3l2.2 0.5l2.3-1.3l2.2-1.1l2.2 0.7l2.3-1.8l2.2-1.3l2.3-0.7l2.2 2.3l2.2 5.3l2.3 8l2.2 4.9l2.3 2.9l2.2 3l2.2 0.7l2.3 0.2l2.2-2.8l2.3-4.6l2.2 0.6l2.2 1.9l2.3 1.9l2.2 2l2.3-0.8l2.2 0.3l2.2-1l2.3-3.1l2.2-3.4l2.3-2.9l2.2-0.2l2.2 3.8l2.3 4.9l2.2-1l2.3-0.7l2.2 0.6l2.2 0l2.3 2.4l2.2 2.8l2.3 4.1l2.2 3.3l2.2 2.2l2.3 2.9l2.2 0.6l2.3 1.2l2.2-0.5l2.3-1.6l2.2-2.1l2.2-2.8l2.3-2.6l2.2-3.9l2.3-7.4l2.2-7.1l2.2 4.9l2.3 7.6l2.2-2.6l2.3-2.6l2.2-4l2.2-0.5l2.3 4.9l2.2 5.5l2.3 3.2l2.2 2.2l2.2 3l2.3 2.3l2.2 1.8l2.3 1.6l2.2 0.8l2.2-0.5l2.3-2l2.2-3.3l2.3-3.9l2.2-6.7l2.2-5.9l2.3-3.9l2.2-2.4l2.3-0.2l2.2-0.6l2.2 8l2.3 5.2l2.2 1.4l2.3 1.6l2.2 1l2.3-2.4l2.2 0.3l2.2 1.3l2.3 2.3l2.2-1.8l2.3-6.4l2.2-6.5l2.2-1.8l2.3 0.9l2.2 3.9l2.3 1.7l2.2 0l2.2-2.8l2.3-6l2.2-3.4l2.3 2.4l2.2 3l2.2 0.2l2.3 1.1l2.2-0.2l2.3-6.4l2.2 1.4l2.2 2l2.3 0.2l2.2 6.3l2.3-1.5l2.2-2.6l2.2-0.1l2.3 0.1l2.2-12.7l2.3-0.7l2.2-1.2l2.2 1.8l2.3 1l2.2 1.2l2.3-2.8l2.2-9.8l2.2-0.9l2.3 2.6l2.2 0.7l2.3 13.7l2.2 4l2.3 0.4l2.2 0.3l2.2 1l2.3-5.3l2.2-7.1l2.3 1.7l2.2 0.5l2.2 5.5l2.3 5.5l2.2-3.9l2.3-4.6l2.2 2.5l2.2-4.7l2.3-12.7l2.2-8.2l2.3-6.2l2.2-5.1l2.2 0.4l2.3-5.6l2.2 0.7l2.3 2.1l2.2 3.9l2.2 0.3l2.3-9l2.2-6.8l2.3-4.1l2.2-3.7l2.2 0.2l2.3 0.8l2.2-2.4l2.3-0.2l2.2-1.5l2.2 0.5l2.3 1.3l2.2-0.4l2.3-3.5l2.2 2.8l2.3-1.3l2.2 2.5l2.2 1.2l2.3 2.7l2.2 5l2.3 4.9l2.2-2l2.2-12.6l2.3-8.4l2.2-6.1l2.3 4.8l2.2 0.3l2.2 3.2l2.3 13.8l2.2 5.2l2.3-2l2.2-6.7l2.2-8.2l2.3-4.9l2.2-6.2l2.3-0.6l2.2 1.5l2.2-4.1l2.3-2.7l2.2 0.1l2.3 0.9l2.2 0.6l2.2-3.7l2.3-4.1l2.2-3.1l2.3 1.2l2.2-3.3l2.2-2.1l2.3-11.7l2.2-3.7l2.3 0.5l2.2 11.1l2.2 3.5l2.3 2.6l2.2 1.4l2.3-3.7l2.2 1.6l2.3-8.6l2.2-5.8l2.2-11.1l2.3-5.2l2.2-7.2l2.3-2.6l2.2 5.4l2.2-1.1l2.3 6.5l2.2-2.1l2.3-5.3l2.2 2.1l2.2-0.7l2.3-3.1l2.2 2l2.3-2.4l2.2-0.5l2.2-2.6l2.3 5.2l2.2 3.3l2.3-0.2l2.2-2.8l2.2-0.7l2.3 3l2.2 4.8l2.3 0.6l2.2 1.2l2.2 1.7l2.3 7.2l2.2-1.5l2.3-0.7l2.2 2.7l2.2-4.3l2.3-4.8l2.2-2.3l2.3 8.5l2.2 0.7l2.2-6.5l2.3-3.9l2.2 0.8l2.3-1.7l2.2 1.5l2.3 2.5l2.2-1l2.2-2.2l2.3 1.6l2.2-1.4l2.3-7.3l2.2 2.4l2.2-2.1l2.3-1.6l2.2-1.6l2.3-5.2l2.2-2.7l2.2 4.7l2.3 0.1l2.2-6.7l2.3-4.1l2.2-3.2l2.2-5.4l2.3 4l2.2 3.2l2.3-2.3l2.2-5.3l2.2 1.4l2.3 5.5l2.2 1.4l2.3-4.9l2.2 7.5l2.2 2l2.3 4.1l2.2-3.8l2.3-1.8l2.2 3.9l2.2-0.8l2.3 8.5l2.2 4.2l2.3 14.4l2.2 4.1l2.3 0.7l2.2-5.5l2.2 2.2l2.3-1.8l2.2 4.3l2.3-1.6l2.2 6.2l2.2 7.3l2.3-0.1l2.2 0.8l2.3-5.8l2.2-8.5l2.2 0.5l2.3-1.4l2.2 3.2l2.3-1.6l2.2-1l2.2-1.8l2.3-7.5l2.2-2l2.3 7.4l2.2 4.1l2.2 8.3l2.3 1.1l2.2-1.1l2.3 2.6l2.2 2.3l2.2 2.9l2.3 4.1l2.2 6.7l2.3 5.2l2.2 7.1l2.2 0.9l2.3-3.3l2.2 1.8l2.3-3.9l2.2-0.5l2.2-0.3l2.3 7l2.2 2.7l2.3 0.9l2.2 0.2l2.3 1.2l2.2 2.3l2.2 5.3l2.3 2.5l2.2 5.8l2.3 3.4l2.2-0.1l2.2 2.7l2.3 2.9l2.2 1.2l2.3 0.8l2.2-2.5l2.2-3.8l2.3-5.3l2.2-4.3l2.3 1.6l2.2-0.4l2.2 0.2l2.3 3.5l2.2 2.2l2.3-0.5l2.2-1.1l2.2-4.3l2.3-2.4l2.2-0.1l2.3 3.5l2.2 5.4l2.2 11.6l2.3 5.8l2.2 3.1l2.3 3l2.2 1.2l2.2-0.7l2.3-3.1l2.2-1l2.3-1l2.2-3.1l2.3-3.2l2.2 0.9l2.2 2.5l2.3 3.2l2.2 2.7l2.3 3.8l2.2 7.2l2.2 3l2.3 5l2.2-0.1l2.3-1l2.2-0.3l2.2-1.7l2.3-0.2l2.2 3.3l2.3 5.4l2.2 2.2l2.2 2.5l2.3 2.6l2.2 2.5l2.3 2.4l2.2 1.6l2.2 0.8l2.3-0.7l2.2-0.2l2.3-1.5l2.2 0.1l2.2-1.4l2.3-1.2l2.2-1.2l2.3-1.6l2.2-1.7l2.2-1.1l2.3 2.1l2.2-0.8l2.3 2.7l2.2-3.9l2.2-6.7l2.3-1l2.2 2l2.3 2.8l2.2 9.8l2.3 4.1l2.2 2.8l2.2 1.1l2.3 1.7l2.2 0.8l2.3 1.9l2.2-0.1l2.2 0.3l2.3-1.6l2.2-0.3l2.3 0.2l2.2 0.2l2.2 0.4l2.3 0.3l2.2 0.6l2.3 0.6l2.2 0.5l2.2 0.7l2.3 0.6l2.2 0.6l2.3 0.7l2.2 0.9l2.2 1.1l2.3 0.8l2.2 0.5l2.3 0.6l2.2-0.5l2.2-0.2l2.3 3.1l2.2 1.5l2.3 1.2l2.2 1l2.2-0.5l2.3-0.7l2.2-1l2.3-0.6l2.2 0.1l2.2-1.4l2.3-1.5l2.2-8.4l2.3 1l2.2 6.2l2.3 1.5l2.2 0.9l2.2 0.7l2.3 0.7l2.2 0.5l2.3 0.6l2.2 0.5l2.2 0.3l2.3 0.5l2.2 0.4l2.3 0.5l2.2 0.4l2.2 0.6l2.3 0.2l2.2-1.1l2.3-2l2.2-2.4l2.2-23l2.3-1.3l2.2 1.6l2.3 6.1l2.2-7.4l-1.1 12.8l-2.3-1.7l-2.2 1.9l-2.2-0.4l-2.3 1.8l-2.2 9.9l-2.3 2.4l-2.2 2l-2.2 1.1l-2.3-0.2l-2.2-0.6l-2.3-0.4l-2.2-0.5l-2.2-0.4l-2.3-0.5l-2.2-0.3l-2.3-0.5l-2.2-0.6l-2.2-0.5l-2.3-0.7l-2.2-0.7l-2.3-0.9l-2.2-1.5l-2.2-3.7l-2.3-0.1l-2.2 5l-2.3 1.5l-2.2 1.4l-2.3-0.1l-2.2 0.6l-2.2 1l-2.3 0.7l-2.2 0.5l-2.3-1l-2.2-1.2l-2.2-1.5l-2.3-2.7l-2.2 0l-2.3 0.3l-2.2-0.6l-2.2-0.5l-2.3-0.8l-2.2-1.1l-2.3-0.9l-2.2-0.7l-2.2-0.6l-2.3-0.6l-2.2-0.7l-2.3-0.5l-2.2-0.6l-2.2-0.6l-2.3-0.3l-2.2-0.4l-2.3-0.2l-2.2-0.2l-2.2 0.3l-2.3 1.6l-2.2-0.1l-2.3 0.1l-2.2-1.7l-2.2-0.6l-2.3-1.6l-2.2-0.8l-2.3-2.3l-2.2-2.6l-2.3-8.2l-2.2-6.2l-2.2-2l-2.3 1.4l-2.2 7.2l-2.3 3.4l-2.2-2.7l-2.2 0.2l-2.3-1.4l-2.2 0l-2.3 1.8l-2.2 1.4l-2.2 1.2l-2.3 1.2l-2.2 1.8l-2.3-0.2l-2.2 1.5l-2.2 0.7l-2.3 0.8l-2.2-0.9l-2.3-1.1l-2.2-2.8l-2.2-2.7l-2.3-2.8l-2.2-2.2l-2.3-2.5l-2.2-5.2l-2.2-3.5l-2.3 0.3l-2.2 2l-2.3 0.3l-2.2 1.8l-2.2 1.1l-2.3-3.9l-2.2-3.3l-2.3-7.8l-2.2-4.9l-2.2-4l-2.3-2.9l-2.2-0.8l-2.3 0.1l-2.2 0.2l-2.3 3.1l-2.2 1.4l-2.2 1.4l-2.3 2.9l-2.2 1.9l-2.3-0.4l-2.2-3.3l-2.2-3.1l-2.3-4.4l-2.2-10.2l-2.3-6.2l-2.2-3.2l-2.2-2.2l-2.3-0.1l-2.2 4.2l-2.3 0.9l-2.2 0.6l-2.2-2.1l-2.3-2.2l-2.2-0.5l-2.3 1.1l-2.2-0.3l-2.2 3.8l-2.3 6.7l-2.2 2.2l-2.3 1.9l-2.2-1.4l-2.2-1.9l-2.3-2.9l-2.2-2.4l-2.3 0.3l-2.2-3l-2.2-4.3l-2.3-2.2l-2.2-6.5l-2.3-3l-2.2-1.5l-2.2 1l-2.3 0.8l-2.2-1.5l-2.3-6.4l-2.2 0.3l-2.3 1.1l-2.2 2.5l-2.2-0.8l-2.3 3.5l-2.2-1.6l-2.3-7.6l-2.2-6.1l-2.2 0.2l-2.3 0.3l-2.2-1.8l-2.3 0.6l-2.2-0.6l-2.2-2.7l-2.3-1.7l-2.2-6.7l-2.3-8.6l-2.2 0.9l-2.2-1.4l-2.3 4.1l-2.2 1.5l-2.3 2.1l-2.2 3.1l-2.2-1.9l-2.3-2.8l-2.2 1.4l-2.3-2.6l-2.2 4.5l-2.2 0.5l-2.3 0.1l-2.2-2.6l-2.3-4.1l-2.2 0.2l-2.2 0.3l-2.3-2.8l-2.2-3.3l-2.3 1.3l-2.2-2.7l-2.3-3.3l-2.2-6.5l-2.2-5.3l-2.3-2.1l-2.2-3.4l-2.3-1.5l-2.2 2l-2.2 2.5l-2.3-3.7l-2.2-2.7l-2.3-0.1l-2.2-3.8l-2.2 0l-2.3 1.4l-2.2 4.5l-2.3-0.7l-2.2 0.4l-2.2-2.1l-2.3 9.4l-2.2-0.2l-2.3 5.1l-2.2 4l-2.2-1.6l-2.3-5.9l-2.2 7.2l-2.3-3.5l-2.2 7.9l-2.2 1.5l-2.3-1.3l-2.2-4.6l-2.3 2l-2.2 6.6l-2.2-1.9l-2.3 3.4l-2.2-1.9l-2.3 0.9l-2.2 1.2l-2.2-1.7l-2.3 4.3l-2.2-2.6l-2.3-3l-2.2 8.7l-2.3 1.2l-2.2 0.6l-2.2-2.5l-2.3 2.4l-2.2-1.6l-2.3-3.2l-2.2-2.5l-2.2 4.3l-2.3-3.7l-2.2-3.6l-2.3 1.9l-2.2-1.7l-2.2 0.8l-2.3-4.3l-2.2-1.4l-2.3-2.5l-2.2 1.5l-2.2 1.4l-2.3-5.1l-2.2 2l-2.3 0.1l-2.2 2.8l-2.2-2.1l-2.3 5.7l-2.2 1l-2.3-3.8l-2.2 1.2l-2.2-2.9l-2.3-2.5l-2.2-1.1l-2.3-1.6l-2.2 8.5l-2.2 1.9l-2.3 5.2l-2.2 13.1l-2.3 0.7l-2.2 6.5l-2.3-2.7l-2.2 3.6l-2.2-2.6l-2.3-2.1l-2.2-0.9l-2.3-1.8l-2.2 6.9l-2.2-1.3l-2.3 3.5l-2.2-0.8l-2.3 4.6l-2.2 3.7l-2.2-2.4l-2.3 1.3l-2.2 6.3l-2.3-3.6l-2.2 5.2l-2.2-0.7l-2.3 0.4l-2.2 1.5l-2.3 4.6l-2.2 0.1l-2.2 4.2l-2.3 10.2l-2.2-4.4l-2.3 5.5l-2.2 0.9l-2.2-4.6l-2.3-4.5l-2.2 1l-2.3 0.5l-2.2-1.1l-2.2 4l-2.3 1.3l-2.2 3.3l-2.3 0.9l-2.2 0.1l-2.2-3.3l-2.3-1.8l-2.2-4.1l-2.3 2.2l-2.2 1.5l-2.3 0.2l-2.2 1.6l-2.2-1.9l-2.3-2.1l-2.2 1.2l-2.3 2.6l-2.2-0.3l-2.2-0.4l-2.3 2.7l-2.2 3.2l-2.3 3.4l-2.2 3.4l-2.2 6.9l-2.3-3.8l-2.2 9.1l-2.3-3.9l-2.2-0.9l-2.2-1.2l-2.3 3.3l-2.2 1.6l-2.3 4.8l-2.2 7.3l-2.2 9.3l-2.3 0.8l-2.2 4.6l-2.3-1.1l-2.2 3.7l-2.2 3.1l-2.3-0.7l-2.2-0.9l-2.3-2.1l-2.2-2.6l-2.2 0.5l-2.3 5l-2.2 1l-2.3-2.2l-2.2-1.7l-2.2-4.1l-2.3-4.2l-2.2-0.5l-2.3-0.1l-2.2 4l-2.3-2.9l-2.2 1.4l-2.2-0.2l-2.3 5.7l-2.2-2.2l-2.3-1.7l-2.2 2.8l-2.2 5.3l-2.3-0.1l-2.2 0.2l-2.3 2.6l-2.2 1.3l-2.2-1.7l-2.3 1.7l-2.2-3.4l-2.3-0.2l-2.2 0.4l-2.2-1.2l-2.3-1.6l-2.2 1l-2.3-2.4l-2.2-0.2l-2.2-0.2l-2.3 4.9l-2.2 2.4l-2.3 0.2l-2.2-1.7l-2.2-2.2l-2.3 0l-2.2 5.1l-2.3 2.3l-2.2 6l-2.2 0.2l-2.3-2.4l-2.2-0.9l-2.3-0.1l-2.2 1.9l-2.3-1.3l-2.2-1.4l-2.2-1.2l-2.3-3.9l-2.2-2.9l-2.3-2.7l-2.2-1.3l-2.2 3.5l-2.3 3.4l-2.2 3.8l-2.3 6.5l-2.2 3.6l-2.2 3.3l-2.3 1.9l-2.2 0.4l-2.3-0.8l-2.2-1.4l-2.2-1.6l-2.3-2.1l-2.2-3l-2.3-1.9l-2.2-2.8l-2.2-5.6l-2.3-2.5l-2.2 2.1l-2.3 0.9l-2.2 2l-2.2 2.1l-2.3-7.9l-2.2 0.1l-2.3 3.8l-2.2 6.5l-2.2 2.9l-2.3 2.5l-2.2 2.6l-2.3 2.1l-2.2 1.7l-2.2 0.3l-2.3-0.9l-2.2-0.6l-2.3-3l-2.2-1.9l-2.3-3.4l-2.2-4.2l-2.2-2.8l-2.3-2.5l-2.2 0.4l-2.3-0.2l-2.2 0.7l-2.2 0.5l-2.3-4.7l-2.2-3l-2.3 0.9l-2.2 1.8l-2.2 2.7l-2.3 2.7l-2.2 1.2l-2.3-0.1l-2.2 0.7l-2.2-2l-2.3-1.7l-2.2-1.8l-2.3-0.5l-2.2 4.2l-2.2 2.6l-2.3-0.3l-2.2-0.5l-2.3-2.4l-2.2-2.5l-2.2-4.4l-2.3-8.1l-2.2-5.2l-2.3-3.4l-2.2 0.7l-2.2 1.3l-2.3 2l-2.2-0.6l-2.3 1.3l-2.2 1.3l-2.3-0.7l-2.2-0.1l-2.2 0.9l-2.3 1.1l-2.2 1.8l-2.3-1.9l-2.2-0.8l-2.2-3.3l-2.3-1.4l-2.2-1.9l-2.3-0.9l-2.2-4.4l-2.2-4.9l-2.3-7.6l-2.2-2.8l-2.3-1.4l-2.2-0.2l-2.2 3.9l-2.3 6.4l-2.2 8.4l-2.3 3.6l-2.2-3.4l-2.2-4.8l-2.3-9.5l-2.2-11l-2.3-10.6l-2.2-6l-2.2-6.6l-2.3-1.3l-2.2-2.3l-2.3-0.7l-2.2-0.4l-2.2-1.8l-2.3 0.3l-2.2-4l-2.3-1.2l-2.2 2.1l-2.2-1.4l-2.3 0.6l-2.2 2l-2.3 3.5l-2.2 5.1l-2.3 5.3l-2.2 8.1l-2.2 2.7l-2.3 3.7l-2.2-4.5l-2.3-6.2l-2.2-7.4l-2.2-4l-2.3-4.9l-2.2-5.6l-2.3-3.4l-2.2 0.2l-2.2-3.7l-2.3 2.2l-2.2 1.2l-2.3 0.6l-2.2 3.6l-2.2-2.8l-2.3 6.1l-2.2 8.1l-2.3 3.9l-2.2-2.9l-2.2-6.6l-2.3-1.3l-2.2-1.5l-2.3-4.4l-2.2-4.1l-2.2 1.1l-2.3-4.9l-2.2 1.3l-2.3 0.7l-2.2-1.2l-2.2-3.9l-2.3-1.6l-2.2-6.8l-2.3-3.9l-2.2 10.1l-2.2-5.6l-2.3-6l-2.2-7.4l-2.3-5.2l-2.2-3.3l-2.3 2.8l-2.2-1l-2.2-1.5l-2.3 6.1l-2.2 1.1l-2.3 4.9l-2.2 5.5l-2.2 0.9l-2.3-2.5l-2.2-5.7l-2.3-1.7l-2.2-0.9l-2.2 1.4l-2.3-2.1l-2.2 1l-2.3 3.4l-2.2-3.2l-2.2-3.2l-2.3 0l-2.2 3.9l-2.3-1.1l-2.2-1.3l-2.2-4.3l-2.3 0.4l-2.2-0.1l-2.3-0.3l-2.2-7.3l-2.2 0.8l-2.3 0.6l-2.2 0.2l-2.3-2.9l-2.2-3.6l-2.2 1.6l-2.3-3.6l-2.2 5.9l-2.3-1.1l-2.2 3.1l-2.3 5.6l-2.2-1.9l-2.2 6.5l-2.3-0.4l-2.2 4.2l-2.3 1.1l-2.2 3.5l-2.2-1.7l-2.3-1.7l-2.2-0.9l-2.3-1.6l-2.2 2.9l-2.2 0.7l-2.3 0.3l-2.2 2.5l-2.3 0.9l-2.2-1.7l-2.2-1.5l-2.3-3.8l-2.2-3.6l-2.3-2.1l-2.2-3.1l-2.2-4.2l-2.3 1.6l-2.2-3.9l-2.3-0.8l-2.2-0.7l-2.2-0.9l-2.3-3.6l-2.2 9.6l-2.3-2.5l-2.2 1.9l-2.2 4.3l-2.3-1.2l-2.2-1.3l-2.3 3.6l-2.2 1.3l-2.2 2.7l-2.3 1.2l-2.2 5.5l-2.3-2.6l-2.2 1l-2.3 1.1l-2.2 0.6l-2.2 1.6l-2.3 1.1l-2.2-1.9l-2.3-2.1l-2.2 3.3l-2.2 5.8l-2.3-4l-2.2 3.5l-2.3 7.7l-2.2 6l-2.2-1.2l-2.3 3.7l-2.2 1.7l-2.3-3.5l-2.2 3.2l-2.2 3.2l-2.3-3.9l-2.2 4.4l-2.3 1.9l-2.2 0.2l-2.2-0.4l-2.3 12.1l-2.2 9.7l-2.3 0.2l-2.2 3.8l-2.2 4.6l-2.3-1.1l-2.2 1.4l-2.3-0.3l-2.2-1.5l-2.2-0.6l-2.3 2.7l-2.2 2.7l-2.3-0.2l-2.2 5.3l-2.3-1.7l-2.2-3.4l-2.2-5.9l-2.3-0.3l-2.2 1.1l-2.3-0.2l-2.2-1.7l-2.2-2.5l-2.3-1.4l-2.2-2.8l-2.3-0.2l-2.2 4.9l-2.2 2.3l-2.3 3.5l-2.2 7.2l-2.3 2.2l-2.2 6.4l-2.2 2.5l-2.3 10.6l-2.2 5.2l-2.3 0.3l-2.2 3.7l-2.2 1.5l-2.3-5.8l-2.2-5.6l-2.3-3.4l-2.2-3.1l-2.2-4.9l-2.3-3.5l-2.2 5.7l-2.3 0l-2.2 7.3l-2.2-2.3l-2.3 6.4l-2.2 0.1l-2.3-1.1l-2.2-3.2l-2.2 2.3l-2.3 4.9l-2.2-4.6l-2.3 3.6l-2.2 1.3l-2.3 0.3l-2.2-0.6l-2.2 6.8l-2.3 6.4l-2.2 5.4l-2.3-1.9l-2.2-3.3l-2.2-2.4l-2.3 1.4l-2.2 1.8l-2.3 2l-2.2 1.3l-2.2 0.9l-2.3-1.6l-2.2-1.5l-2.3-0.4l-2.2-0.9l-2.2-2.3z" fill="#b9e2c9" stroke="none"/>
<path d="M354.8 288.7l1.1-4l1.1 6.3l1.1-5.4l1.1 6.3l1.2-5.2l1.1 5.6l1.1-5.6l1.1 7.1l1.1-2.5l1.2 4.1l1.1-1.9l1.1 1l1.1-1.3l1.1 0l1.2-0.7l1.1-1.3l1.1-1.6l1.1-0.2l1.1-3.2l1.2 1.8l1.1-3.3l1.1 5.7l1.1-7.2l1.1 10.5l1.2-4.5l1.1 6.4l1.1-4.4l1.1-1l1.1-17.7l1.2 11.3l1.1-14.2l1.1 7.4l1.1-10.9l1.1 11.5l1.2-12.3l1.1 12l1.1-10.3l1.1 9l1.2-4.5l1.1 0.9l1.1-4.5l1.1 9.1l1.1-10.5l1.2 5.6l1.1-12.2l1.1 9.9l1.1-11.5l1.1 14.7l1.2-12.5l1.1 13.6l1.1-6.6l1.1 6.5l1.1-6.5l1.2 0.1l1.1-5.9l1.1 8.2l1.1-14.6l1.1 7.3l1.2-16.2l1.1 16.2l1.1-20.9l1.1 15.2l1.1-16.3l1.2 19.8l1.1-17.2l1.1 22.1l1.1-17.5l1.1 20.6l1.2-17.1l1.1 20.5l1.1-9.2l1.1 14.8l1.1-3.7l1.2 9.5l1.1-4.1l1.1 2.6l1.1-3.3l1.1-0.4l1.2-4.9l1.1 4.6l1.1-14.1l1.1 8.9l1.1-20.1l1.2 9.5l1.1-16.1l1.1 13.6l1.1-23.3l1.1 16.9l1.2-22.9l1.1 20.7l1.1-20.5l1.1 13.3l1.1-19l1.2 15.5l1.1-18.5l1.1 16.2l1.1-20.9l1.1 16l1.2-18.7l1.1 18.9l1.1-15.2l1.1 18l1.1-12l1.2 13.4l1.1-12.4l1.1 14.9l1.1-13.2l1.1 14.9l1.2-7.1l1.1 7.3l1.1-20.9l1.1 19.8l1.1-18.8l1.2 19.1l1.1-16.1l1.1 22l1.1-11.9l1.1 15.3l1.2-4.8l1.1 6.5l1.1-4.7l1.1-0.6l1.2-4.2l1.1 4.4l1.1-7.5l1.1 4.8l1.1-16.6l1.2 13.9l1.1-12.8l1.1 13.4l1.1-10.4l1.1 11.9l1.2-12.8l1.1 13.1l1.1-14.7l1.1 13.3l1.1-5.6l1.2 6.7l1.1-5.8l1.1 1.2l1.1-5.2l1.1 1.4l1.2-6.2l1.1 6l1.1-23l1.1 13.3l1.1-18.7l1.2 6.6l1.1-10.6l1.1 11l1.1-13.8l1.1 13.6l1.2-12.9l1.1 11l1.1-19l1.1 14.6l1.1-15.4l1.2 19.3l1.1-15.7l1.1 12.5l1.1-16.8l1.1 13.6l1.2-11l1.1 14.5l1.1-11.5l1.1 9.8l1.1-12l1.2 8.3l1.1-16.2l1.1 17.4l1.1-21.5l1.1 15.5l1.2-20.9l1.1 13.2l1.1-18.7l1.1 15.2l1.1-21.8l1.2 25.8l1.1-24.8l1.1 19l1.1-19.5l1.1 16.2l1.2-18.7l1.1 20.8l1.1-15.6l1.1 17.5l1.1-16.3l1.2 15.2l1.1-19.4l1.1 17.8l1.1-16.8l1.1 16.2l1.2-16.7l1.1 15.6l1.1-13.7l1.1 12.7l1.1-15.9l1.2 18.5l1.1-15.5l1.1 10l1.1-16.2l1.2 15l1.1-17l1.1 14.3l1.1-13.7l1.1 12.4l1.2-17.1l1.1 13.5l1.1-16.2l1.1 17.5l1.1-17.4l1.2 18.6l1.1-24l1.1 19.7l1.1-13.8l1.1 11.9l1.2-14.7l1.1 17.2l1.1-22.9l1.1 13.3l1.1-17.2l1.2 20.8l1.1-20.5l1.1 21.4l1.1-17.3l1.1 18l1.2-15.7l1.1 16.5l1.1-21l1.1 24.9l1.1-32.9l1.2 31.3l1.1-21.6l1.1 25.8l1.1-21.8l1.1 24.9l1.2-17.3l1.1 19.4l1.1-15.8l1.1 19.4l1.1-14.4l1.2 18.2l1.1-17.6l1.1 19.1l1.1-16.8l1.1 18.5l1.2-18l1.1 17.1l1.1-17l1.1 14.5l1.1-18.7l1.2 18.4l1.1-14.7l1.1 14l1.1-11.6l1.1 8.7l1.2-11.1l1.1 12.7l1.1-13.9l1.1 14.8l1.1-14.8l1.2 16.5l1.1-15.3l1.1 17l1.1-13.9l1.1 10.4l1.2-17.5l1.1 16.4l1.1-21.2l1.1 17l1.1-15.1l1.2 15.5l1.1-20.2l1.1 13.7l1.1-18.3l1.1 20.2l1.2-21.7l1.1 16.1l1.1-20.6l1.1 17.5l1.2-23.7l1.1 24.8l1.1-23.6l1.1 17.7l1.1-22.8l1.2 26.4l1.1-23.1l1.1 21.5l1.1-13.9l1.1 17.5l1.2-15.8l1.1 18.7l1.1-10.4l1.1 10.2l1.1-12.3l1.2 11.7l1.1-12l1.1 11.2l1.1-11.4l1.1 18.7l1.2-13.2l1.1 13.5l1.1-13.8l1.1 13.9l1.1-12.2l1.2 11.8l1.1-14.7l1.1 19l1.1-16.3l1.1 17.6l1.2-17.1l1.1 18.2l1.1-20.9l1.1 17l1.1-18.5l1.2 18.5l1.1-17.1l1.1 20.3l1.1-18.2l1.1 21.4l1.2-17.6l1.1 14.2l1.1-13.3l1.1 12.3l1.1-12.5l1.2 14.6l1.1-13.7l1.1 12.3l1.1-13.9l1.1 14.8l1.2-17.3l1.1 19l1.1-19.2l1.1 24.9l1.1-23l1.2 25.5l1.1-22l1.1 21.1l1.1-24.7l1.1 19.2l1.2-23.9l1.1 19l1.1-24.1l1.1 23l1.1-18.3l1.2 12.2l1.1-16.6l1.1 18.1l1.1-18.2l1.1 19.2l1.2-16.4l1.1 13.6l1.1-17.3l1.1 20.6l1.1-20.6l1.2 25.8l1.1-22.1l1.1 29.5l1.1-15.7l1.2 21.7l1.1-18.9l1.1 24.5l1.1-20.4l1.1 10.3l1.2-18.1l1.1 22l1.1-14.6l1.1 21.4l1.1-15.4l1.2 17l1.1-5.9l1.1 9.8l1.1-6.5l1.1 7.7l1.2-6.6l1.1 5.9l1.1-7.7l1.1 6.4l1.1-18.4l1.2 23.3l1.1-18.8l1.1 17.7l1.1-12.7l1.1 16.8l1.2-12.2l1.1 16.6l1.1-5.2l1.1 6.7l1.1-6.5l1.2 7.8l1.1-5.9l1.1 12.5l1.1-5.8l1.1 8.7l1.2-6.2l1.1 2.3l1.1-7.8l1.1-0.3l1.1-7l1.2 0.9l1.1-6.7l1.1 9.5l1.1-12.6l1.1 9l1.2-10.4l1.1 9.8l1.1-9.2l1.1 8l1.1-9.3l1.2 7.1l1.1-11.1l1.1 14.8l1.1-9l1.1 8.8l1.2-6.6l1.1 10l1.1-7.9l1.1 13.5l1.1-8.5l1.2 13.4l1.1-9.4l1.1 13.4l1.1-3.9l1.1 11.3l1.2-3.8l1.1 10l1.1-5.3l1.1 9.8l1.1-4.7l1.2 1l1.1-4.6l1.1 1.9l1.1-2.8l1.1-5.3l1.2-1.4l1.1-3.9l1.1-1.1l1.1-4l1.2-1.6l1.1-1.9l1.1-10.1l1.1 8.1l1.1-10l1.2 9.4l1.1-11.1l1.1 12.5l1.1-8.7l1.1 6.6l1.2-5.2l1.1 6.4l1.1-2.6l1.1 6.6l1.1-2.5l1.2 2.2l1.1-2.5l1.1 4.3l1.1-6.1l1.1 6.5l1.2-5.7l1.1 6.4l1.1-6.8l1.1 9.1l1.1-6.8l1.2 8.1l1.1-3.8l1.1 10.4l1.1-8.8l1.1 14.8l1.2-7.8l1.1 18.4l1.1-4.8l1.1 15.8l1.1-4.3l1.2 13.8l1.1-4l1.1 8.8l1.1-3.2l1.1 6.6l1.2-2.8l1.1-0.8l1.1-5.2l1.1-3.2l1.1-3.5l1.2-2.9l1.1-2l1.1-1.9l1.1-1.4l1.1 1.6l1.2-0.9l1.1 2.3l1.1-1.7l1.1 4.5l1.1-1.4l1.2 9l1.1-2.1l1.1 7l1.1-2.7l1.1 7.1l1.2-2.2l1.1 3.1l1.1-1.8l1.1 3.7l1.1-1.4l1.2 2.8l1.1-1l1.1 4.3l1.1-1.1l1.1 1.9l1.2-1.1l1.1 3l1.1-1.9l1.1 0.1l1.1-1.6l1.2 0.5l1.1-1.7l1.1 0.8l1.1-1.5l1.1 1.6l1.2-1.3l1.1 2l1.1-1.5l1.1 0.2l1.2-1.5l1.1 0.2l1.1-1.3l1.1 1.9l1.1-1.2l1.2-0.8l1.1-1l1.1-0.3l1.1-1l1.1 0.3l1.2-1l1.1 4.4l1.1-2.1l1.1 7.3l1.1-2l1.2 10.1l1.1-2.1l1.1 6.5l1.1-1.6l1.1 4.1l1.2-1.2l1.1 3.6l1.1-0.6l1.1 1.1l1.1-0.4l1.2 0.7l1.1-0.5l1.1-2.1l1.1-0.7l1.1-3.5l1.2-1.1l1.1 1.6l1.1-1l1.1 2.8l1.1-0.9l1.2 2.6l1.1-0.7l1.1 2.7l1.1-0.7l1.1 0l1.2-0.8l1.1 0.9l1.1-0.6l1.1-0.6l1.1-0.4l1.2-2.3l1.1-0.8l1.1-1.9l1.1-1.5l1.1-0.3l1.2-2.6l1.1 1.7l1.1-1.9l1.1 4.9l1.1-1.1l1.2 5.8l1.1-0.9l1.1 0.4l1.1-1.4l1.1 0.7l1.2-1.4l1.1 1.6l1.1-1l1.1 0.6l1.1-0.6l1.2 3.1l1.1-0.7l1.1 3.5l1.1-0.7l1.1 4.9l1.2-0.8l1.1 4.2l1.1-0.9l1.1 2.8l1.1-0.6l1.2 3.6l1.1-0.7l1.1 1.3l1.1-0.7l1.2 1.6l1.1-0.4l1.1 0.1l1.1-0.6l1.1-1.1l1.2-0.5l1.1-1.6l1.1-0.5l1.1-2.1l1.1-0.7l1.2-1.8l1.1-0.8l1.1-2.1l1.1-1.8l1.1-4.7l1.2-2.7l1.1-1.1l1.1-6l1.1 5.9l1.1-1l1.2 8.9l1.1-1.3l1.1-0.8l1.1-1.8l1.1-0.2l1.2-2.4l1.1 1.5l1.1-5.5l1.1 3.4l1.1-3.9l1.2 6.4l1.1-1.5l1.1 7.1l1.1-1.6l1.1 4.4l1.2-1.2l1.1 3.1l1.1-0.9l1.1 3.9l1.1-0.9l1.2 3l1.1-0.7l1.1 2.3l1.1-0.5l1.1 1.9l1.2-0.3l1.1 1.1l1.1-0.3l1.1-0.1l1.1-0.4l1.2-1.5l1.1-0.5l1.1-2.8l1.1-0.5l1.1-3.1l1.2-0.8l1.1-5.7l1.1-1l1.1-2.8l1.1-3.1l1.2-0.3l1.1-3.6l1.1 0.1l1.1-2.5l1.1 3.8l1.2-4l1.1 6.7l1.1-7.3l1.1 10.2l1.1-2.2l1.2 6.1l1.1-0.9l1.1 2.1l1.1-0.7l1.1 2.1l1.2-0.5l1.1 1.8l1.1-0.8l1.1-1.1l1.2-1.3l1.1 1.4l1.1-1.1l1.1 2l1.1-0.7l1.2 3.1l1.1-0.8l1.1 0.6l1.1-2.4l1.1-3.6l1.2-2.8l1.1 0.5l1.1-7l1.1 1.9l1.1-3.7l1.2 3.7l1.1-2.8l1.1 5l1.1-1.1l1.1 2.8l1.2-1.1l1.1 0.9l1.1-0.9l1.1-1.5l1.1-1.3l1.2-3.6l1.1-2.4l1.1 2.6l1.1-6l1.1 6.2l1.2-3.8l1.1 6.2l1.1-3.2l1.1 2.2l1.1-2l1.2 3.6l1.1-2.5l1.1 3.7l1.1-3.9l1.1 3.5l1.2-9.9l1.1 10.1l1.1-8.7l1.1 12.1l1.1-10.1l1.2 8.4l1.1-8.2l1.1 9.9l1.1-3.6l1.1 2.3l1.2-3.8l1.1 1.2l1.1-3.8l1.1 3.6l1.1-3.7l1.2 3.8l1.1-3.7l1.1-1.6l1.1-11.1l1.1 8.3l1.2-9l1.1 10.7l1.1-11.9l1.1 14.1l1.1-12.3l1.2 6.6l1.1-5.6l1.1 5.8l1.1-4.6l1.1 3.2l1.2-6l1.1 8.9l1.1-18.7l1.1 14.7l1.1-15.6l1.2 15.7l1.1-13.1l1.1 13.6l1.1-12.9l1.2 17.1l1.1-3.4l1.1 7.5l1.1-3.5l1.1 5.2l1.2-4.8l1.1 7l1.1-6.7l1.1 5.7l1.1-4.7l1.2-0.3l1.1-5l1.1 4.5l1.1-11.6l1.1 14.2l1.2-12.5l1.1 14.6l1.1-14.1l1.1 15l1.1-9.5l1.2 10.2l1.1-4.7l1.1 1.6l1.1-5.5l1.1 1.8l1.2-6.4l1.1 7.5l1.1-5l1.1 0.4l1.1-5.1l1.2 4.3l1.1-17l1.1 7.7l1.1-15.9l1.1 8.6l1.2-14.8l1.1 10l1.1-15.1l1.1 13.5l1.1-13.1l1.2 9.8l1.1-15.4l1.1 16.6l1.1-15.9l1.1 16.8l1.2-14.7l1.1 18.6l1.1-14.7l1.1 5.6l1.1-5.3l1.2 9.1l1.1-18.1l1.1 11.2l1.1-18l1.1 14.6l1.2-18.7l1.1 15.3l1.1-19l1.1 15.8l1.1-15.6l1.2 12.9l1.1-12.1l1.1 12.5l1.1-14.9l1.1 15.2l1.2-15.4l1.1 12.8l1.1-14.3l1.1 13.1l1.1-12.6l1.2 14.7l1.1-13.4l1.1 15.3l1.1-15.7l1.1 14.1l1.2-17.6l1.1 17.4l1.1-14.6l1.1 13.1l1.2-14.4l1.1 12.2l1.1-9.7l1.1 13.8l1.1-12.6l1.2 14.4l1.1-11.7l1.1 15l1.1-10l1.1 9.9l1.2-5l1.1 4.1l1.1-6.1l1.1 2.8l1.1-15.4l1.2 14.1l1.1-22.5l1.1 18.5l1.1-24.6l1.1 25.7l1.2-20.9l1.1 20.4l1.1-20.1l1.1 19.1l1.1-15.9l1.2 20.4l1.1-6.6l1.1 11.2l1.1-6l1.1 5.1l1.2-7.1l1.1 1.6l1.1-8.3l1.1 12.7l1.1-20.9l1.2 10.7l1.1-15.6l1.1 11.4l1.1-17.6l1.1 17.5l1.2-18.1l1.1 13.5l1.1-12l1.1 10.5l1.1-14.6l1.2 14.2l1.1-16.9l1.1 17.6l1.1-17.5l1.1 12.3l1.2-11.4l1.1 15l1.1-14.4l1.1 8.1l1.1-11.8l1.2 10.5l1.1-14.6l1.1 17l1.1-20.1l1.1 16.4l1.2-15.2l1.1 10.6l1.1-13.9l1.1 14.7l1.1-16.8l1.2 13.3l1.1-25l1.1 26.3l1.1-30l1.1 23.1l1.2-22.6l1.1 24.4l1.1-13.3l1.1 14.2l1.1-10.7l1.2 12.8l1.1-10.2l1.1 12.8l1.1-11.4l1.1 7.8l1.2-11.5l1.1 14.2l1.1-12.6l1.1 6.1l1.2-14.7l1.1 14l1.1-19.8l1.1 6.7l1.1-17.8l1.2 12.6l1.1-17.8l1.1 15.9l1.1-23.1l1.1 14.6l1.2-17.2l1.1 18.8l1.1-13.4l1.1 14.5l1.1-15.6l1.2 18.1l1.1-11.6l1.1 14.5l1.1-16.6l1.1 15.4l1.2-20.7l1.1 24.5l1.1-22.4l1.1 21.4l1.1-22.1l1.2 16.4l1.1-19.5l1.1 21.6l1.1-19.6l1.1 16.8l1.2-19.2l1.1 19.1l1.1-19.6l1.1 17.6l1.1-20.2l1.2 25.3l1.1-20.1l1.1 18.7l1.1-15.4l1.1 13.9l1.2-14.1l1.1 16.6l1.1-19.4l1.1 20.8l1.1-21.5l1.2 25.8l1.1-22.8l1.1 22l1.1-17.2l1.1 18.9l1.2-18.3l1.1 16.4l1.1-15.2l1.1 18.8l1.1-17.1l1.2 20.8l1.1-13.6l1.1 9.3l1.1-10.8l1.1 13.3l1.2-14l1.1 17.2l1.1-14.5l1.1 16.1l1.1-20.4l1.2 18l1.1-22.8l1.1 25.3l1.1-27.6l1.1 27l1.2-18.5l1.1 17.3l1.1-16.6l1.1 7.9l1.1-14.4l1.2 17.4l1.1-21.3l1.1 23.9l1.1-23.1l1.2 18.8l1.1-20.5l1.1 22.2l1.1-20.7l1.1 19.5l1.2-17l1.1 16.1l1.1-17.1l1.1 19l1.1-21.2l1.2 17.8l1.1-16.2l1.1 18.1l1.1-19.5l1.1 12.9l1.2-20.2l1.1 18.2l1.1-15.8l1.1 20.4l1.1-22.5l1.2 23.8l1.1-25.4l1.1 23.9l1.1-25.5l1.1 17.6l1.2-22.8l1.1 26.3l1.1-29l1.1 21.8l1.1-17.1l1.2 23l1.1-22.9l1.1 24.5l1.1-31.2l1.1 27.2l1.2-31.3l1.1 26.2l1.1-29.4l1.1 29.6l1.1-35l1.2 25.6l1.1-21.6l1.1 23.7l1.1-20.5l1.1 20.1l1.2-22.4l1.1 23.1l1.1-28.4l1.1 23.9l1.1-22.5l1.2 21.1l1.1-15.6l1.1 15.6l1.1-14.2l1.1 18l1.2-22.9l1.1 23l1.1-15.5l1.1 18.2l1.1-16.2l1.2 19.9l1.1-15.8l1.1 13.3l1.1-17.1l1.1 15.1l1.2-16.9l1.1 18.4l1.1-14.5l1.1 17.9l1.1-18.7l1.2 20.8l1.1-12.3l1.1 17.6l1.1-13.4l1.1 19.9l1.2-5.5l1.1 8.8l1.1-4.7l1.1 7.4l1.2-6.7l1.1 5.4l1.1-10.9l1.1 14.2l1.1-12l1.2 14.8l1.1-16.6l1.1 16.3l1.1-12l1.1 11.8l1.2-13.4l1.1 17.5l1.1-11.3l1.1 13.9l1.1-6.6l1.2 6.5l1.1-6.6l1.1 6.1l1.1-5.3l1.1 0.8l1.2-6.6l1.1 9.2l1.1-17.7l1.1 16.3l1.1-15.8l1.2 18.6l1.1-20l1.1 21.9l1.1-18.7l1.1 15.6l1.2-17.2l1.1 15.1l1.1-16.1l1.1 14.6l1.1-16.4l1.2 12.3l1.1-19.8l1.1 21.2l1.1-23.2l1.1 22.3l1.2-14.9l1.1 23.5l1.1-19.4l1.1 26.1l1.1-17.8l1.2 19.5l1.1-18.4l1.1 21.1l1.1-22.2l1.1 22.8l1.2-20.2l1.1 19.6l1.1-17.3l1.1 19.1l1.1-16.2l1.2 15.9l1.1-11.8l1.1 11.6l1.1-4.9l1.1 11l1.2-5.8l1.1 13.4l1.1-6.3l1.1 7.9l1.1-7l1.2 3.5l1.1-6.8l1.1 7.6l1.1-5.8l1.1 3.3l1.2-7.2l1.1 6.1l1.1-6.6l1.1 6.3l1.1-6.6l1.2 13l1.1-6l1.1 7.5l1.1-4.8l1.2 4l1.1-3.1l1.1 2.1l1.1-1.9l1.1 3.4l1.2-2.2l1.1 5.2l1.1-2.9l1.1 9.4l1.1-4.1l1.2 6.3l1.1-3.8l1.1 8.1l1.1-2.3l1.1 5.3l1.2-1.9l1.1 1.6l1.1-1.7l1.1 4.1l1.1-1.4l1.2 4.3l1.1-1.4l1.1 3.3l1.1-2.1l1.1 3.5l1.2-2.7l1.1 0.8l1.1-3.3l1.1 1.1l1.1-4.9l1.2-1.8l1.1-3.5l1.1-0.3l1.1-4l1.1 4.3l1.2-2.7l1.1 1.6l1.1-2l1.1 2.5l1.1-2.3l1.2 4.5l1.1-1l1.1 3.1l1.1-0.9l1.1 0.3l1.2-0.8l1.1-0.1l1.1-1l1.1-3.2l1.1-1.1l1.2 1.2l1.1-3.6l1.1 5.8l1.1-5.9l1.1 9.1l1.2-5.6l1.1 11.8l1.1-6.4l1.1 16.6l1.1-5l1.2 9.4l1.1-3.6l1.1 6.7l1.1-3.6l1.1 6.9l1.2-3.9l1.1 4.3l1.1-3.1l1.1 1.2l1.1-1.9l1.2-1l1.1-2.1l1.1 0.7l1.1-1.7l1.1 0.3l1.2-1.3l1.1-1.8l1.1-1.3l1.1 1.1l1.2-4.3l1.1 4.2l1.1-3.3l1.1 4.1l1.1-1.6l1.2 4.5l1.1-1.3l1.1 5.3l1.1-2.6l1.1 7.5l1.2-3.7l1.1 11.5l1.1-4.3l1.1 7.6l1.1-4.6l1.2 8.5l1.1-3.5l1.1 2.4l1.1-2.5l1.1 0.7l1.2-1.7l1.1 1.4l1.1-1.7l1.1-0.3l1.1-1.4l1.2 1.1l1.1-1.3l1.1 4.8l1.1-1.5l1.1 6.7l1.2-1.3l1.1 3.8l1.1-1.6l1.1 3.8l1.1-1.3l1.2 4.1l1.1-1.5l1.1 4.2l1.1-1.7l1.1 4.5l1.2-2.1l1.1 3.2l1.1-1.6l1.1 2.5l1.1-1.7l1.2 0.9l1.1-1.6l1.1 0.9l1.1-1.1l1.1-0.4l1.2-1.1l1.1 1.3l1.1-1.2l1.1-0.6l1.1-0.8l1.2-0.4l1.1-0.8l1.1-0.4l1.1-0.8l1.1-0.6l1.2-1l1.1-0.8l1.1-0.9l1.1 0.9l1.1-2l1.2 3.4l1.1-1.3l1.1 1.1l1.1-1.9l1.1 4.6l1.2-1.9l1.1-1.5l1.1-2.4l1.1-4.8l1.1-1.9l1.2 0.5l1.1-1.5l1.1 3.5l1.1-1.5l1.1 7.7l1.2-4.9l1.1 13.1l1.1-3.3l1.1 5.9l1.2-1.8l1.1 4.1l1.1-1.3l1.1 2.1l1.1-1l1.2 2.6l1.1-0.9l1.1 1.5l1.1-0.7l1.1 2.4l1.2-0.5l1.1 0.4l1.1-0.5l1.1 0.6l1.1-0.3l1.2-1.3l1.1-0.3l1.1 0l1.1-0.3l1.1 0.5l1.2-0.3l1.1 0.5l1.1-0.3l1.1 0.7l1.1-0.3l1.2 0.6l1.1-0.3l1.1 0.9l1.1-0.3l1.1 0.9l1.2-0.3l1.1 0.8l1.1-0.3l1.1 1l1.1-0.3l1.2 0.9l1.1-0.3l1.1 0.9l1.1-0.3l1.1 1l1.2-0.3l1.1 1.2l1.1-0.3l1.1 1.4l1.1-0.3l1.2 1.1l1.1-0.3l1.1 0.8l1.1-0.3l1.1 0.9l1.2-0.3l1.1 0l1.1-0.5l1.1 0.5l1.1-0.7l1.2 3.4l1.1-0.3l1.1 1.8l1.1-0.3l1.1 1.5l1.2-0.3l1.1 1.3l1.1-0.3l1.1-0.2l1.1-0.3l1.2-0.4l1.1-0.3l1.1-0.7l1.1-0.3l1.1-0.3l1.2-0.3l1.1 0.4l1.1-0.3l1.1-1.1l1.1-0.3l1.2-1.2l1.1-0.3l1.1-4.7l1.1-3.7l1.2 3.8l1.1-2.8l1.1 6.5l1.1-0.3l1.1 1.8l1.2-0.3l1.1 1.2l1.1-0.3l1.1 1l1.1-0.3l1.2 1l1.1-0.3l1.1 0.8l1.1-0.3l1.1 0.9l1.2-0.3l1.1 0.8l1.1-0.3l1.1 0.6l1.1-0.3l1.2 0.8l1.1-0.3l1.1 0.7l1.1-0.3l1.1 0.8l1.2-0.3l1.1 0.7l1.1-0.3l1.1 0.9l1.1-0.3l1.2 0.5l1.1-0.3l1.1-0.8l1.1-0.3l1.1-1.7l1.2-0.3l1.1-2.1l1.1-0.3l1.1-9.6l1.1-13.4l1.2 11.6l1.1-12.9l1.1 13.3l1.1-11.7l1.1 9.8l1.2-3.7l1.1 5.4l1.1-12.8" fill="none" stroke="#b9e2c9" stroke-width="1.5" stroke-linejoin="round"/>
<path d="M355.9 287.7l2.2 1.1l2.3 0.5l2.2-0.7l2.2 1.3l2.3-0.9l2.2-1.2l2.3 0.2l2.2 0.6l2.2-1.2l2.3-0.9l2.2-0.7l2.3 0.6l2.2-1.6l2.2-5.4l2.3-3.3l2.2-3.5l2.3-0.6l2.2-1.7l2.3 1.1l2.2-2.3l2.2 1.3l2.3-4.9l2.2-1.8l2.3 0.6l2.2 1.2l2.2-0.5l2.3-1.6l2.2-2.1l2.3-6.7l2.2-1.9l2.2-2.1l2.3 3.3l2.2 3.9l2.3 1.4l2.2 6.7l2.2 7.3l2.3 1.9l2.2-1.1l2.3-1.8l2.2-3.9l2.2-6.5l2.3-7.9l2.2-3.4l2.3-6.2l2.2-2.9l2.2-6.2l2.3-2.4l2.2-3.4l2.3-2.2l2.2 1.8l2.2 2.7l2.3-0.3l2.2-0.9l2.3 1.5l2.2-3l2.2 2.1l2.3 2.7l2.2 6.3l2.3 3.7l2.2-0.6l2.3-5.2l2.2-0.5l2.2-3.2l2.3 1l2.2 1.9l2.3-0.3l2.2-1l2.2 2.2l2.3-4.2l2.2-7l2.3-1.6l2.2-5.2l2.2-3.6l2.3-6.1l2.2-2.8l2.3 0l2.2-4.8l2.2-4.8l2.3 4.7l2.2-2.3l2.3 0.1l2.2 1.3l2.2-3.1l2.3-5.9l2.2-2.2l2.3-3.8l2.2-2.6l2.2-4.7l2.3 0.2l2.2 0.6l2.3-3.6l2.2 0.5l2.2-0.6l2.3-2.5l2.2-0.3l2.3 0l2.2 2.1l2.2-3.3l2.3 2.4l2.2-5.4l2.3-1.9l2.2-1.7l2.3-2.4l2.2-1.5l2.2 0.1l2.3-3.2l2.2 0l2.3-1.9l2.2 0l2.2-5.1l2.3 2.7l2.2 1.2l2.3 0.9l2.2-2.6l2.2-2.9l2.3 7.8l2.2 2l2.3 1.5l2.2 2.6l2.2 4.9l2.3 4.2l2.2 2.9l2.3-0.2l2.2-1l2.2-1.4l2.3 1.1l2.2 0.9l2.3-1.4l2.2 0.5l2.2 0.5l2.3 0.9l2.2 1.3l2.3-5.9l2.2-2.6l2.2-1.3l2.3-1.1l2.2-5.5l2.3 0.9l2.2-5.6l2.3-1.1l2.2-0.9l2.2-4.2l2.3 1.5l2.2 2.4l2.3 2.6l2.2 4.4l2.2-1.9l2.3-0.5l2.2-1.7l2.3 7.6l2.2-1.4l2.2 1.1l2.3-1.3l2.2 2.1l2.3 2l2.2-0.7l2.2-1.6l2.3-0.1l2.2 2.9l2.3 3.3l2.2-1.6l2.2-1.6l2.3 2l2.2-0.4l2.3-0.7l2.2 2.5l2.2 1.8l2.3-0.5l2.2-0.4l2.3-3.1l2.2-3.3l2.2 2.1l2.3-4.2l2.2-1.4l2.3 3l2.2-1.2l2.2 2.3l2.3 3.3l2.2 6.1l2.3 3.5l2.2 3.8l2.3-4.6l2.2 4.8l2.2 4.2l2.3 2.5l2.2 1.8l2.3 1.2l2.2-0.3l2.2-3l2.3 6.8l2.2 1.8l2.3 1.9l2.2 7.5l2.2-0.8l2.3 1.1l2.2 4.6l2.3 2.1l2.2-2.9l2.2-5.5l2.3-2.2l2.2-1.5l2.3-0.1l2.2-0.5l2.2-1l2.3-3.6l2.2 5l2.3 1.4l2.2 3.5l2.2 4.7l2.3 3.5l2.2 4.1l2.3 3.4l2.2 2.3l2.2 1.7l2.3-3.7l2.2 0.9l2.3-4.2l2.2-3.7l2.3-3.4l2.2-3.1l2.2-1.1l2.3-0.3l2.2 1l2.3-1.2l2.2 1.9l2.2 2.6l2.3 0.6l2.2 0.6l2.3 1l2.2 1l2.2 2.1l2.3 2.5l2.2 3.6l2.3 5.9l2.2 8.2l2.2 7.7l2.3 6.3l2.2 2.2l2.3 0.3l2.2 0l2.2-1.3l2.3-1.1l2.2-3.3l2.3 1.4l2.2 1.5l2.2 2.2l2.3 3.8l2.2 2.3l2.3 4.4l2.2 1.1l2.2 2.6l2.3 1.9l2.2 2.4l2.3 0l2.2 1.2l2.2-1.7l2.3-0.8l2.2-0.7l2.3 0l2.2 0.1l2.3-1.4l2.2-0.6l2.2 1.3l2.3-0.7l2.2 0.6l2.3 2.7l2.2 4.5l2.2 3.3l2.3 3.4l2.2 3.7l2.3 1.5l2.2 1.5l2.2-0.2l2.3-0.2l2.2-0.6l2.3-1.6l2.2 2.6l2.2 1.5l2.3 1l2.2 1.1l2.3-1.3l2.2-0.2l2.2-1.5l2.3-1.7l2.2-1.3l2.3 0.6l2.2-0.3l2.2 0.1l2.3 2.3l2.2-0.9l2.3 0.5l2.2 1.8l2.2 1.5l2.3 2.2l2.2 2l2.3 2.7l2.2 1.7l2.2 1.6l2.3 2.9l2.2 0.3l2.3 0.7l2.2 0l2.3-0.6l2.2-1.6l2.2-3.2l2.3-3.5l2.2-2.2l2.3-3.4l2.2-2.4l2.2 2l2.3 0.3l2.2-1.2l2.3 0.5l2.2 0.9l2.2-0.3l2.3 1.6l2.2 1.7l2.3 2.1l2.2 1.5l2.2 2.4l2.3 2.1l2.2 2.1l2.3 1.6l2.2 0.5l2.2-0.2l2.3-1.8l2.2-2.5l2.3-2.6l2.2-4.1l2.2-2.1l2.3-2.8l2.2-2l2.3 0.3l2.2-0.3l2.2 0.4l2.3 1.1l2.2 0.5l2.3 0.6l2.2 2l2.3 0.8l2.2 2.7l2.2-0.4l2.3-0.8l2.2-0.3l2.3-2l2.2-1.7l2.2-2.1l2.3-0.5l2.2-1.2l2.3 0.4l2.2-0.7l2.2-1l2.3-1.8l2.2-0.8l2.3 1.9l2.2 1.9l2.2-1.6l2.3 0.4l2.2 1.7l2.3-2.3l2.2 1.5l2.2 1.9l2.3-2.1l2.2 0.8l2.3-0.8l2.2-2.1l2.2-1l2.3-0.1l2.2-5l2.3-1.3l2.2 0.3l2.2 1.3l2.3-3.1l2.2-2.2l2.3 0.3l2.2-1.8l2.2-2.2l2.3 0.4l2.2 1.4l2.3 5.3l2.2 3.1l2.3 0.9l2.2 1.4l2.2 0.5l2.3-1.7l2.2-3.2l2.3 2.5l2.2 1.7l2.2 1.9l2.3 1.9l2.2-3.3l2.3-4.3l2.2 0.1l2.2-1.7l2.3-5.9l2.2-9.4l2.3-4.7l2.2-4.1l2.2-1.3l2.3-4.3l2.2-0.6l2.3 0.4l2.2 4l2.2-4l2.3-5.1l2.2-3.9l2.3-2.5l2.2-3.8l2.2-1l2.3-1.7l2.2-0.5l2.3 0.6l2.2-1.8l2.2-0.2l2.3 0.3l2.2-0.5l2.3-3.5l2.2 2.8l2.3-0.3l2.2 0.4l2.2 1.1l2.3 2.4l2.2 2.8l2.3 1.2l2.2-1.3l2.2-8.6l2.3-3.3l2.2-2.1l2.3 2.1l2.2 1l2.2-0.7l2.3 3.8l2.2-0.1l2.3 3.6l2.2-2.2l2.2-3.1l2.3-4.4l2.2-3.4l2.3-0.7l2.2-2.5l2.2-2.6l2.3-1.7l2.2 0.3l2.3-2.8l2.2 1.1l2.2-4l2.3-2l2.2-1.3l2.3-1.1l2.2-3.4l2.2-1.5l2.3-5.4l2.2-1.2l2.3-1.5l2.2 4.1l2.2 2.8l2.3 0.9l2.2 0.5l2.3-4l2.2 2.1l2.3-5.5l2.2-3.9l2.2-8l2.3-5.4l2.2-4.6l2.3-4.9l2.2 2.7l2.2-0.3l2.3 1.9l2.2 1.5l2.3-4l2.2 2.8l2.2-2l2.3-1.8l2.2 0.9l2.3-2.3l2.2-0.2l2.2-2.4l2.3 6.1l2.2-1l2.3-0.6l2.2 0.9l2.2 2.2l2.3 4.3l2.2-0.3l2.3-1l2.2-0.7l2.2 2.1l2.3 4.9l2.2-2.5l2.3 1.2l2.2 1.8l2.2-2.2l2.3-1.7l2.2 2.3l2.3 2.3l2.2-1.1l2.2-6.5l2.3-0.2l2.2 2.5l2.3-3.3l2.2 0.6l2.3 0.4l2.2 0.2l2.2 0l2.3-0.9l2.2-0.9l2.3-6.2l2.2-0.7l2.2 1.6l2.3 1.1l2.2-1.6l2.3-3.6l2.2-2l2.2-2l2.3 1.6l2.2-2.2l2.3-4.4l2.2-4.1l2.2 0.6l2.3-2.5l2.2 0.4l2.3-1.9l2.2 0.4l2.2-2.1l2.3 1l2.2 0.5l2.3 1.6l2.2 2.3l2.2 2.3l2.3 3.8l2.2-3.2l2.3-1.5l2.2 2.4l2.2-0.5l2.3 5.3l2.2 2.9l2.3 8.7l2.2 4.5l2.3 3.3l2.2-3.5l2.2 2.5l2.3 1l2.2 3.7l2.3-2.3l2.2 3.7l2.2 3l2.3-2.1l2.2-0.9l2.3-2.6l2.2-0.5l2.2 0.1l2.3 2.1l2.2 0.9l2.3-2.9l2.2-1.4l2.2 0l2.3-4.4l2.2 0.7l2.3 1.7l2.2 5.7l2.2 5.1l2.3 1l2.2 3.3l2.3 0.3l2.2 2.8l2.2 3.2l2.3 0.9l2.2 2.7l2.3 1.6l2.2 6.5l2.2-0.3l2.3-2.9l2.2 2.8l2.3-0.6l2.2 1.2l2.2-0.6l2.3 1.5l2.2 1.6l2.3 2.5l2.2 3.1l2.3 2.1l2.2 2l2.2 2.4l2.3 1.8l2.2 5.5l2.3 4.3l2.2 0.7l2.2 1.4l2.3 2.6l2.2 0.3l2.3-0.9l2.2-3.1l2.2-1.3l2.3-1l2.2-2.1l2.3 1l2.2-1l2.2 0.2l2.3 1.6l2.2-0.2l2.3-1.5l2.2-1.2l2.2-1.7l2.3 1.6l2.2 1.8l2.3 3.5l2.2 3.9l2.2 5.7l2.3 4.3l2.2 1.7l2.3 3.6l2.2 1.6l2.2-0.6l2.3-2.6l2.2-0.5l2.3-0.8l2.2-0.6l2.3-0.1l2.2 1.1l2.2 1.9l2.3 3.3l2.2 2.9l2.3 2.1l2.2 2.2l2.2 2.7l2.3 3.9l2.2-0.6l2.3-1.3l2.2 1.3l2.2 0.8l2.3 1.8l2.2 2.5l2.3 4.4l2.2 2.3l2.2 2.3l2.3 2.1l2.2 1.3l2.3 2l2.2 1.5l2.2 1.2l2.3-0.8l2.2-0.1l2.3-1.2l2.2 0.4l2.2-1.6l2.3-1.2l2.2-0.9l2.3-0.6l2.2 0.6l2.2 0.8l2.3-0.7l2.2-4.1l2.3 0l2.2-1.4l2.2-1.3l2.3 0.7l2.2 2.2l2.3 2.6l2.2 3.7l2.3 2.4l2.2 3.1l2.2 1.3l2.3 1.4l2.2 0.3l2.3 1.6l2.2 0.1l2.2 0.7l2.3 0l2.2 0.3l2.3 0.4l2.2 0.2l2.2 0.3l2.3 0.5l2.2 0.6l2.3 0.7l2.2 0.7l2.2 0.8l2.3 0.8l2.2 0.7l2.3 0.7l2.2 0.9l2.2 1.1l2.3 0.7l2.2 0.3l2.3 0.3l2.2 0l2.2 0.6l2.3 1.2l2.2 1l2.3 0.7l2.2 0.4l2.2 0l2.3 0.1l2.2 0l2.3-0.3l2.2-1.6l2.2-1.3l2.3-1l2.2-2.2l2.3 0.2l2.2 2.2l2.3 1.1l2.2 1l2.2 0.8l2.3 0.7l2.2 0.5l2.3 0.6l2.2 0.4l2.2 0.4l2.3 0.4l2.2 0.5l2.3 0.6l2.2 0.5l2.2 0.6l2.3 0.2l2.2-2l2.3-3.5l2.2-4.3l2.2-8.9l2.3-0.4l2.2 1.3l2.3-0.1l2.2-2.1l-1.1 4.6l-2.3-1.2l-2.2 4.1l-2.2-1.2l-2.3 0.5l-2.2 3.8l-2.3 4.2l-2.2 3.5l-2.2 2l-2.3-0.2l-2.2-0.6l-2.3-0.5l-2.2-0.6l-2.2-0.4l-2.3-0.5l-2.2-0.4l-2.3-0.4l-2.2-0.5l-2.2-0.6l-2.3-0.7l-2.2-0.8l-2.3-1l-2.2-1.1l-2.2-0.9l-2.3 0.3l-2.2 0.4l-2.3 1l-2.2 1.3l-2.3 1.6l-2.2 0.3l-2.2 0l-2.3-0.1l-2.2 0l-2.3-0.4l-2.2-0.7l-2.2-1l-2.3-1.2l-2.2-0.6l-2.3 0l-2.2-0.2l-2.2-0.4l-2.3-0.7l-2.2-1.1l-2.3-0.9l-2.2-0.7l-2.2-0.7l-2.3-0.8l-2.2-0.8l-2.3-0.7l-2.2-0.7l-2.2-0.6l-2.3-0.5l-2.2-0.3l-2.3-0.2l-2.2-0.4l-2.2-0.3l-2.3 0l-2.2-0.6l-2.3-0.2l-2.2-1.6l-2.2-0.3l-2.3-1.3l-2.2-1.2l-2.3-2.9l-2.2-1.7l-2.3-2.9l-2.2-4l-2.2-2.4l-2.3-0.6l-2.2 1.4l-2.3 1.3l-2.2 0l-2.2 3.9l-2.3 1.1l-2.2-1.4l-2.3-0.6l-2.2 0.6l-2.2 0.9l-2.3 1.3l-2.2 1.5l-2.3-0.2l-2.2 1.2l-2.2 0l-2.3 0.8l-2.2-0.9l-2.3-1.4l-2.2-2l-2.2-1.6l-2.3-2.2l-2.2-2.2l-2.3-2.3l-2.2-4.3l-2.2-2.7l-2.3-1.7l-2.2-0.7l-2.3-1.2l-2.2 1.5l-2.2 1l-2.3-3.9l-2.2-2.2l-2.3-2.7l-2.2-2.4l-2.2-3.3l-2.3-3.1l-2.2-1.2l-2.3-0.5l-2.2-1.4l-2.3 0.5l-2.2 0.8l-2.2 0.8l-2.3 2.7l-2.2 0.9l-2.3-1.4l-2.2-3.7l-2.2-1.4l-2.3-4l-2.2-4.6l-2.3-3.6l-2.2-4.3l-2.2-3l-2.3-2.6l-2.2 1.8l-2.3 1.1l-2.2 1.6l-2.2 0.2l-2.3-1.1l-2.2 0l-2.3 1l-2.2-0.5l-2.2 1.8l-2.3 1.4l-2.2 1.2l-2.3 2.6l-2.2 0.5l-2.2-0.5l-2.3-2.5l-2.2-1.4l-2.3-0.7l-2.2-3.9l-2.2-5.1l-2.3-1.6l-2.2-2.8l-2.3-2.4l-2.2-2.2l-2.2-2.6l-2.3-2.1l-2.2-1l-2.3-1.1l-2.2 0.5l-2.3-1.4l-2.2 0.4l-2.2-2.4l-2.3 2.8l-2.2-0.2l-2.3-6.5l-2.2-1.8l-2.2 1.9l-2.3-1.2l-2.2-2.3l-2.3 0.1l-2.2-2.5l-2.2-1.4l-2.3-2.3l-2.2-5.8l-2.3-5.6l-2.2-0.2l-2.2-0.4l-2.3 1.8l-2.2 0.5l-2.3 2.3l-2.2 2.9l-2.2-2.4l-2.3-1.8l-2.2-0.2l-2.3-3.9l-2.2 1.7l-2.2 2.1l-2.3 1.9l-2.2-0.1l-2.3-3l-2.2 0.9l-2.2-2.1l-2.3-1.7l-2.2-2.8l-2.3 0.2l-2.2-3.6l-2.3-4.3l-2.2-3.8l-2.2-4.2l-2.3-3l-2.2-2.2l-2.3-1.7l-2.2 2.1l-2.2 2l-2.3-2.8l-2.2-2.5l-2.3-2l-2.2-0.3l-2.2-0.8l-2.3 1.9l-2.2 1.9l-2.3-0.1l-2.2 0.5l-2.2 0.2l-2.3 3.4l-2.2 3.5l-2.3 2.8l-2.2 1.7l-2.2 0.1l-2.3-0.6l-2.2 5.3l-2.3-1.6l-2.2 5.2l-2.2-0.3l-2.3-1.6l-2.2-1.5l-2.3-0.9l-2.2 7.6l-2.2 1.2l-2.3-0.3l-2.2-0.1l-2.3 1.2l-2.2-0.3l-2.2 0.2l-2.3 2.2l-2.2-1.9l-2.3-1.6l-2.2 7.8l-2.3 0.2l-2.2-1.6l-2.2-0.9l-2.3 1.7l-2.2-2.2l-2.3-2l-2.2-1l-2.2 3.2l-2.3-3.9l-2.2-2.1l-2.3 0.4l-2.2 1.2l-2.2 0.6l-2.3-3.3l-2.2-2.5l-2.3-2.1l-2.2 0.9l-2.2 1.5l-2.3-4l-2.2 2l-2.3-2.7l-2.2 4.9l-2.2-2l-2.3 3.1l-2.2 2.2l-2.3-2.6l-2.2 0.6l-2.2-1l-2.3-3l-2.2 1.9l-2.3-2.1l-2.2 6.4l-2.2 4.7l-2.3 4l-2.2 7.5l-2.3 1.9l-2.2 5.6l-2.3-2.9l-2.2 5l-2.2-1l-2.3-1.6l-2.2-1.1l-2.3-2.1l-2.2 4.4l-2.2 0.1l-2.3 1.6l-2.2 1.6l-2.3 5.1l-2.2 3.4l-2.2-2.6l-2.3 1.3l-2.2 4.2l-2.3-2.1l-2.2 4.8l-2.2 0.1l-2.3 0.6l-2.2 2.9l-2.3 3.9l-2.2-0.1l-2.2 3.9l-2.3 5.7l-2.2-2.8l-2.3 2l-2.2-4.4l-2.2 0.6l-2.3 1.4l-2.2 1.1l-2.3 0.1l-2.2-2.3l-2.2 2.3l-2.3 1.5l-2.2 3.7l-2.3 0.6l-2.2 0.7l-2.2-2.7l-2.3-0.8l-2.2-2.3l-2.3 0.7l-2.2 1.8l-2.3-0.5l-2.2-0.2l-2.2 1l-2.3 0l-2.2 1.2l-2.3 1.1l-2.2-1.3l-2.2 0.5l-2.3 2l-2.2 2.4l-2.3 2.4l-2.2 3.2l-2.2 4.9l-2.3-0.8l-2.2 7.8l-2.3-1.3l-2.2-2.6l-2.2 0.6l-2.3 4.2l-2.2 1.1l-2.3 5.2l-2.2 5.3l-2.2 8.3l-2.3 1.3l-2.2 1l-2.3 0.6l-2.2 4.3l-2.2 2.7l-2.3 0.9l-2.2-0.2l-2.3-1.9l-2.2-3.1l-2.2 0.2l-2.3 1.9l-2.2-1l-2.3-1.2l-2.2-1.2l-2.2-3.4l-2.3-1.8l-2.2 1.4l-2.3-2.2l-2.2 2l-2.3-1.4l-2.2-0.9l-2.2 2.2l-2.3 6.5l-2.2-1l-2.3-0.8l-2.2 0.8l-2.2 2.1l-2.3 0.1l-2.2 0.5l-2.3 2.2l-2.2 0.7l-2.2 1.8l-2.3 2.2l-2.2-2l-2.3-1.5l-2.2-0.2l-2.2-1.7l-2.3-0.9l-2.2 2.2l-2.3-1.5l-2.2-0.8l-2.2-1.1l-2.3 1.3l-2.2 0.9l-2.3 0.7l-2.2-0.3l-2.2 1.9l-2.3 0.6l-2.2 3.4l-2.3 0l-2.2 2l-2.2-0.3l-2.3 0.8l-2.2 0.5l-2.3-2.6l-2.2-1l-2.3-2l-2.2-0.6l-2.2-0.5l-2.3-0.6l-2.2 1.6l-2.3-1.2l-2.2-0.4l-2.2 2.7l-2.3 2.2l-2.2 1.1l-2.3 4.2l-2.2 2.5l-2.2 2.5l-2.3 1.8l-2.2 0.2l-2.3-0.5l-2.2-1.5l-2.2-2.2l-2.3-2l-2.2-2.4l-2.3-1.6l-2.2-1.9l-2.2-1.7l-2.3-0.5l-2.2 1.1l-2.3-2.4l-2.2-0.7l-2.2 1.1l-2.3-0.5l-2.2-0.3l-2.3 1.3l-2.2 3l-2.2 1.9l-2.3 3.5l-2.2 3.2l-2.3 1.6l-2.2 0.6l-2.2 0l-2.3-0.7l-2.2-0.3l-2.3-2.9l-2.2-1.5l-2.3-1.8l-2.2-2.7l-2.2-2l-2.3-2.2l-2.2-1.4l-2.3-1.8l-2.2-0.3l-2.2 0.6l-2.3-2.1l-2.2 0l-2.3 0.6l-2.2-0.9l-2.2 1l-2.3 1.7l-2.2 1.5l-2.3 0.2l-2.2 1.3l-2.2-1.1l-2.3-1l-2.2-1.5l-2.3-2.4l-2.2 1.4l-2.2 0.6l-2.3 0.2l-2.2 0.2l-2.3-1.3l-2.2-1.4l-2.2-3.3l-2.3-3.5l-2.2-3.1l-2.3-5.2l-2.2-2.7l-2.2-0.6l-2.3 0.8l-2.2-1.3l-2.3 0.7l-2.2 1.4l-2.3-0.2l-2.2 0l-2.2 0.9l-2.3 0.8l-2.2 1.5l-2.3-1.2l-2.2 0l-2.2-2.6l-2.3-1.8l-2.2-2.4l-2.3-1l-2.2-4l-2.2-2.5l-2.3-4.2l-2.2-2.3l-2.3-1.4l-2.2-1.3l-2.2 3.3l-2.3 1.8l-2.2 2l-2.3-0.9l-2.2-0.1l-2.2-2.1l-2.3-6.2l-2.2-7.5l-2.3-6.4l-2.2-6l-2.2-5.1l-2.3-1.9l-2.2-2.2l-2.3-1.2l-2.2-0.3l-2.2-2.6l-2.3-0.7l-2.2-2.4l-2.3-0.4l-2.2 2.3l-2.2-0.9l-2.3 0.8l-2.2 0.7l-2.3-0.2l-2.2 3.3l-2.3 3.9l-2.2 4.6l-2.2-0.4l-2.3 4.1l-2.2-1.8l-2.3-2.6l-2.2-3.2l-2.2-2.7l-2.3-3.1l-2.2-4.8l-2.3-3.5l-2.2-0.6l-2.2-4.8l-2.3 2.4l-2.2 2.2l-2.3 1.2l-2.2 1.5l-2.2-2.7l-2.3 3.1l-2.2 5l-2.3 2.6l-2.2-2.1l-2.2-4.7l-2.3-1l-2.2 0.1l-2.3-2.9l-2.2-2.3l-2.2-0.2l-2.3-6.5l-2.2-1.8l-2.3-0.5l-2.2-1.3l-2.2-1.9l-2.3 1.8l-2.2-3.9l-2.3-4.2l-2.2 6.7l-2.2-5.7l-2.3-2.7l-2.2-4.1l-2.3-6l-2.2-3.9l-2.3 2.2l-2.2-2.5l-2.2 0.6l-2.3 5.4l-2.2-1.6l-2.3 4.9l-2.2 2.3l-2.2 2.9l-2.3-3.3l-2.2-3.5l-2.3-0.9l-2.2-0.2l-2.2-0.6l-2.3-0.7l-2.2 0.2l-2.3 2.4l-2.2-1.7l-2.2-3.1l-2.3-2l-2.2 3.4l-2.3-1.1l-2.2 0.2l-2.2-4.5l-2.3 1.7l-2.2-0.4l-2.3-0.7l-2.2-5.7l-2.2 0.8l-2.3 1.1l-2.2 0.6l-2.3-3.1l-2.2-1.2l-2.2 2.2l-2.3-3.3l-2.2 4.5l-2.3-0.9l-2.2 3.1l-2.3 2.9l-2.2-1.1l-2.2 5.3l-2.3 1l-2.2 1.2l-2.3 4l-2.2 3.3l-2.2-0.9l-2.3-1.7l-2.2-0.9l-2.3-1.1l-2.2 2l-2.2 1.6l-2.3-1.9l-2.2 1.6l-2.3 0.1l-2.2 0.9l-2.2-2.8l-2.3-2.9l-2.2-6.2l-2.3-1.6l-2.2-2l-2.2-2.3l-2.3-3.1l-2.2-0.3l-2.3 0.4l-2.2-0.7l-2.2-1.2l-2.3-1.5l-2.2 6.4l-2.3-1.5l-2.2 1.9l-2.2 1.2l-2.3 1.9l-2.2-1.2l-2.3 3l-2.2 1.1l-2.2 0.7l-2.3 2.9l-2.2 6.1l-2.3-3.8l-2.2 1.9l-2.3 1.4l-2.2-0.4l-2.2-1.2l-2.3 3.7l-2.2-0.4l-2.3 0.7l-2.2 3.2l-2.2 3.3l-2.3-3l-2.2 3.1l-2.3 4.1l-2.2 2.4l-2.2 1.7l-2.3 5.3l-2.2 2.8l-2.3-2.2l-2.2 1.7l-2.2 3.4l-2.3-3.2l-2.2 2.3l-2.3 4.5l-2.2 0.7l-2.2 1.6l-2.3 7.3l-2.2 5.5l-2.3-1.7l-2.2 1.6l-2.2 6.8l-2.3 4.3l-2.2 0.9l-2.3 1.6l-2.2-0.2l-2.2-1.4l-2.3-0.5l-2.2-0.5l-2.3-0.2l-2.2 5.7l-2.3 0.6l-2.2-0.9l-2.2-6.1l-2.3 0.2l-2.2-1.4l-2.3-2.9l-2.2 1.3l-2.2 0.5l-2.3-0.2l-2.2-1.3l-2.3-0.5l-2.2 3.6l-2.2 1.5l-2.3 3.3l-2.2 7.6l-2.3 1l-2.2 6.7l-2.2 4.1l-2.3 5.8l-2.2 6.4l-2.3-1.2l-2.2 1.8l-2.2 1.2l-2.3-1.9l-2.2-4.4l-2.3-3.9l-2.2-1.1l-2.2-4.3l-2.3-3.4l-2.2 2.6l-2.3 1.4l-2.2 5.1l-2.2-0.6l-2.3 1.5l-2.2 0.4l-2.3 2.5l-2.2-1.1l-2.2 1l-2.3 4.5l-2.2-4.4l-2.3 2.5l-2.2 2.1l-2.3 2.3l-2.2 0.7l-2.2 4.4l-2.3 2.3l-2.2 1.2l-2.3 1.8l-2.2 0.7l-2.2-0.8l-2.3 1.1l-2.2 0.2l-2.3-0.6l-2.2-0.3l-2.2 1.3l-2.3 1.1l-2.2 0.4l-2.3 0.6l-2.2-0.8l-2.2-1.1z" fill="#d3af4e" stroke="none"/>
<path d="M354.8 289.7l1.1-2l1.1 3.1l1.1-2l1.1 2.8l1.2-2.3l1.1 1.7l1.1-2.4l1.1 2l1.1-0.7l1.2-0.4l1.1-0.5l1.1-0.8l1.1-0.4l1.1 0.7l1.2-0.5l1.1 1.1l1.1-0.5l1.1 0.3l1.1-1.5l1.2 0.4l1.1-1.3l1.1 2.1l1.1-2.8l1.1 2.1l1.2-1.5l1.1-0.3l1.1-1.3l1.1 0.1l1.1-5.5l1.2 3.2l1.1-6.5l1.1 2.1l1.1-5.6l1.1 4.9l1.2-5.5l1.1 3.2l1.1-4.9l1.1 2.8l1.2-1.7l1.1-0.8l1.1-1.5l1.1 5.9l1.1-4.6l1.2 0.1l1.1-5l1.1 4l1.1-5.8l1.1 6.9l1.2-6.3l1.1 3.8l1.1-2.6l1.1 2.2l1.1-2.7l1.2 1.2l1.1-2.8l1.1 3.4l1.1-5.5l1.1 0.4l1.2-7.1l1.1 5.7l1.1-7.6l1.1 5l1.1-7.1l1.2 10.5l1.1-7.2l1.1 11.5l1.1-7.6l1.1 8.7l1.2-7.3l1.1 11.2l1.1-4.5l1.1 8.9l1.1-1.6l1.2 3.5l1.1-1.6l1.1 0.4l1.1-1.5l1.1-0.3l1.2-1.5l1.1 2.7l1.1-6.6l1.1 0.2l1.1-6.7l1.2 0.9l1.1-8.8l1.1 4.7l1.1-8.1l1.1 1.4l1.2-7.6l1.1 6.6l1.1-9.5l1.1 1.9l1.1-8.1l1.2 4.8l1.1-7.2l1.1 5.7l1.1-9.1l1.1 5.5l1.2-7.7l1.1 8.2l1.1-6.4l1.1 7.7l1.1-5l1.2 5.2l1.1-5.5l1.1 5l1.1-5.9l1.1 4.6l1.2-3.1l1.1 6l1.1-9l1.1 10.4l1.1-8.3l1.2 8.1l1.1-5.4l1.1 11.5l1.1-5.2l1.1 6.1l1.2-2.4l1.1 1.8l1.1-2.4l1.1-3.3l1.2-1.9l1.1 2.1l1.1-2.6l1.1 3.1l1.1-6.3l1.2 6.8l1.1-5.8l1.1 7.2l1.1-5.3l1.1 5.5l1.2-5.8l1.1 4.2l1.1-5.2l1.1 4.3l1.1-2.1l1.2-2.2l1.1-2l1.1-4.8l1.1-2.2l1.1 0.6l1.2-2.2l1.1 3.9l1.1-9.1l1.1 3.6l1.1-7.2l1.2-0.1l1.1-6l1.1 4.4l1.1-7.2l1.1 6.5l1.2-6.5l1.1 2l1.1-6.8l1.1 4.5l1.1-9.3l1.2 12.5l1.1-7.8l1.1 4.4l1.1-6.7l1.1 5l1.2-4.9l1.1 7.1l1.1-5.8l1.1 3l1.1-6.1l1.2 0.8l1.1-6.7l1.1 5l1.1-7.2l1.1 4.8l1.2-8.6l1.1 4.5l1.1-7.1l1.1 4l1.1-8.7l1.2 11.7l1.1-11.5l1.1 8.2l1.1-7.6l1.1 4.4l1.2-8l1.1 7.3l1.1-6.8l1.1 7.2l1.1-7.8l1.2 4.1l1.1-6.6l1.1 7.8l1.1-8.1l1.1 8.5l1.2-8.5l1.1 7.1l1.1-5l1.1 3.1l1.1-6.4l1.2 10.2l1.1-7.8l1.1 1.7l1.1-7.1l1.2 4.2l1.1-6.1l1.1 5.4l1.1-7.1l1.1 6l1.2-8.4l1.1 5.4l1.1-6.9l1.1 8.1l1.1-8l1.2 6.1l1.1-9.3l1.1 8.1l1.1-8.1l1.1 6.2l1.2-8.1l1.1 9.6l1.1-9.6l1.1 3.2l1.1-8.3l1.2 9.8l1.1-7.1l1.1 8.3l1.1-7.1l1.1 7.8l1.2-6.9l1.1 6.5l1.1-9.1l1.1 9.4l1.1-12.3l1.2 15.4l1.1-7.6l1.1 9.9l1.1-7.9l1.1 9.9l1.2-8.4l1.1 10l1.1-7.4l1.1 13.6l1.1-8.7l1.2 11.6l1.1-7.4l1.1 10.2l1.1-7.3l1.1 6.4l1.2-6.6l1.1 6.5l1.1-7.5l1.1 5.9l1.1-7.3l1.2 9.2l1.1-8.1l1.1 6.5l1.1-5.6l1.1 3.6l1.2-5l1.1 6.1l1.1-5.6l1.1 6.5l1.1-6l1.2 7.7l1.1-6.8l1.1 7.7l1.1-6.4l1.1 3.1l1.2-9l1.1 5l1.1-7.6l1.1 6.4l1.1-7.7l1.2 6.7l1.1-7.8l1.1 2.5l1.1-8l1.1 9.1l1.2-8.2l1.1 5.3l1.1-10.9l1.1 7.8l1.2-8.9l1.1 9.8l1.1-10.7l1.1 6.2l1.1-10.4l1.2 13.7l1.1-12.2l1.1 10l1.1-7.6l1.1 8.8l1.2-6.2l1.1 9.3l1.1-4.9l1.1 4.3l1.1-6.2l1.2 5.1l1.1-5.6l1.1 4.8l1.1-6.5l1.1 12.2l1.2-4.6l1.1 5.3l1.1-6.7l1.1 7.1l1.1-6l1.2 4.3l1.1-5.6l1.1 10.1l1.1-8l1.1 7.8l1.2-5.8l1.1 6.9l1.1-7.6l1.1 4.2l1.1-5.8l1.2 7.8l1.1-7.9l1.1 11l1.1-8.1l1.1 9.8l1.2-6.5l1.1 4.1l1.1-5.7l1.1 5.5l1.1-7.1l1.2 7.8l1.1-5.8l1.1 6.4l1.1-6.8l1.1 7l1.2-7.7l1.1 8.6l1.1-6.1l1.1 9.6l1.1-7.8l1.2 11.1l1.1-11.6l1.1 8.7l1.1-9.1l1.1 6.8l1.2-9.9l1.1 5l1.1-8.3l1.1 9.9l1.1-7.8l1.2 2.4l1.1-6.6l1.1 6l1.1-7.4l1.1 9.9l1.2-6.9l1.1 4.7l1.1-5.9l1.1 9.8l1.1-7.5l1.2 13.5l1.1-10.2l1.1 14.3l1.1-8.2l1.2 10.9l1.1-7.4l1.1 13.1l1.1-9.3l1.1 2.6l1.2-7.2l1.1 11.4l1.1-6.6l1.1 10.5l1.1-6.3l1.2 4.5l1.1-2l1.1 3.9l1.1-2.1l1.1 3.4l1.2-2.2l1.1 2.7l1.1-3l1.1 4.8l1.1-7.8l1.2 14.3l1.1-7.5l1.1 7.7l1.1-5.9l1.1 8.2l1.2-6.3l1.1 9.2l1.1-1.7l1.1 1.6l1.1-2.4l1.2 3.4l1.1-2.3l1.1 7l1.1-2.4l1.1 4.5l1.2-2.4l1.1-0.2l1.1-2.7l1.1-2.3l1.1-3.2l1.2 0.1l1.1-2.3l1.1 5l1.1-6.5l1.1 5l1.2-5.1l1.1 3.9l1.1-4.4l1.1 2.2l1.1-3.2l1.2 0.8l1.1-4.4l1.1 9.2l1.1-4.2l1.1 4.8l1.2-3.4l1.1 6.9l1.1-3.4l1.1 8.2l1.1-3.5l1.2 6.6l1.1-3.1l1.1 5.8l1.1-1.7l1.1 4.9l1.2-1.5l1.1 4.1l1.1-1.8l1.1 3.6l1.1-1.9l1.2-2.2l1.1-1.5l1.1 1.9l1.1-1l1.1-3.6l1.2-0.6l1.1-3.3l1.1-0.4l1.1-2.9l1.2-0.5l1.1 0.7l1.1-3.8l1.1 3.1l1.1-4.2l1.2 3.4l1.1-3.7l1.1 4.6l1.1-3.6l1.1 1.3l1.2-2.5l1.1 2.9l1.1-1l1.1 3.4l1.1-0.8l1.2 1.5l1.1-0.9l1.1 3.5l1.1-2.9l1.1 3.2l1.2-2.2l1.1 3.4l1.1-2.4l1.1 4.6l1.1-2.5l1.2 4.4l1.1-1.9l1.1 7l1.1-3.4l1.1 9.4l1.2-3.5l1.1 9.9l1.1-1.7l1.1 9.2l1.1-1.5l1.2 7.7l1.1-1.4l1.1 3.5l1.1-1.3l1.1 1.4l1.2-1.1l1.1 2l1.1-2l1.1 0l1.1-1.3l1.2-0.5l1.1-0.6l1.1-2.7l1.1-0.6l1.1 1.9l1.2-0.5l1.1 1.9l1.1-0.4l1.1 2.7l1.1-0.5l1.2 4.7l1.1-0.9l1.1 3.4l1.1-1.1l1.1 5.1l1.2-0.7l1.1 1.7l1.1-0.6l1.1 3l1.1-0.4l1.2 2.2l1.1-0.3l1.1 2.9l1.1-0.5l1.1 0.5l1.2-0.5l1.1 1.7l1.1-0.5l1.1-1l1.1-0.7l1.2-0.1l1.1-0.7l1.1-0.2l1.1-0.5l1.1 0.5l1.2-0.5l1.1 0.7l1.1-0.6l1.1-0.8l1.2-0.6l1.1-0.1l1.1-0.5l1.1 1.8l1.1-0.5l1.2-0.3l1.1-0.4l1.1 1l1.1-0.4l1.1 3.1l1.2-0.4l1.1 5.6l1.1-1.1l1.1 4.2l1.1-0.9l1.2 4.4l1.1-1l1.1 4.3l1.1-0.6l1.1 2l1.2-0.5l1.1 1.8l1.1-0.3l1.1 0.1l1.1-0.3l1.2 0.1l1.1-0.3l1.1-0.3l1.1-0.3l1.1-1.1l1.2-0.5l1.1 2.9l1.1-0.3l1.1 1.8l1.1-0.3l1.2 1.3l1.1-0.3l1.1 1.4l1.1-0.3l1.1-1l1.2-0.3l1.1 0.1l1.1-0.3l1.1-1.2l1.1-0.3l1.2-1.4l1.1-0.3l1.1-0.7l1.1-0.6l1.1 1.5l1.2-0.9l1.1 0.3l1.1-0.6l1.1 0.6l1.1-0.5l1.2 2.6l1.1-0.3l1.1-0.3l1.1-0.6l1.1 0.9l1.2-0.4l1.1 2.2l1.1-0.4l1.1 1.8l1.1-0.3l1.2 2.5l1.1-0.3l1.1 2.3l1.1-0.3l1.1 3l1.2-0.3l1.1 2.1l1.1-0.4l1.1 1.9l1.1-0.3l1.2 3.2l1.1-0.3l1.1 0.6l1.1-0.3l1.2 1l1.1-0.3l1.1 0.3l1.1-0.3l1.1-0.3l1.2-0.3l1.1-1.3l1.1-0.3l1.1-2.9l1.1-0.3l1.2-3.2l1.1-0.3l1.1-1.6l1.1-0.6l1.1-2.4l1.2-1l1.1-0.3l1.1-2.1l1.1 2.4l1.1-0.4l1.2 0.9l1.1-0.6l1.1-0.5l1.1-0.7l1.1 1.4l1.2-0.9l1.1 3.3l1.1-2.4l1.1 1.3l1.1-1.6l1.2 2.1l1.1-0.5l1.1 2.2l1.1-0.5l1.1 2.4l1.2-0.3l1.1 1.9l1.1-0.4l1.1 2.8l1.1-0.4l1.2 2.4l1.1-0.3l1.1 2.5l1.1-0.4l1.1 1.9l1.2-0.3l1.1 0.8l1.1-0.3l1.1 0.1l1.1-0.3l1.2-1.5l1.1-0.3l1.1-2.2l1.1-0.3l1.1-2.2l1.2-0.4l1.1-3.8l1.1-0.3l1.1-0.8l1.1-1.3l1.2-0.9l1.1-1.9l1.1-0.8l1.1-1.2l1.1 1.6l1.2-1.3l1.1 2.5l1.1-2.8l1.1 1.2l1.1-0.8l1.2 1.4l1.1-0.3l1.1 0.8l1.1-0.3l1.1 0.9l1.2-0.3l1.1 2.3l1.1-0.3l1.1 1.3l1.2-0.5l1.1 3.1l1.1-0.4l1.1-0.1l1.1-0.3l1.2-0.5l1.1-0.3l1.1 0.6l1.1-0.9l1.1-1.1l1.2-0.9l1.1 0.9l1.1-2.6l1.1-0.8l1.1-1.3l1.2 0.7l1.1-1.2l1.1-0.7l1.1-0.5l1.1 0.8l1.2-0.4l1.1-0.3l1.1-0.4l1.1-0.5l1.1-0.5l1.2-0.8l1.1-1l1.1 2.1l1.1-2.9l1.1 3.7l1.2-1.8l1.1 3.3l1.1-1.4l1.1-0.8l1.1-0.8l1.2 1.7l1.1-1.3l1.1 3l1.1-1.3l1.1 1.5l1.2-3.8l1.1 5.3l1.1-3.8l1.1 5.8l1.1-3.9l1.2 1.7l1.1-3.8l1.1 2l1.1-1.2l1.1 0.5l1.2-1.3l1.1-0.9l1.1-1.2l1.1 0.7l1.1-1.7l1.2 1.6l1.1-1.7l1.1-0.4l1.1-4.6l1.1 3.8l1.2-5.1l1.1 5.9l1.1-5.6l1.1 6.6l1.1-5.3l1.2-1.2l1.1-1.9l1.1-0.3l1.1-1.9l1.1 2.8l1.2-2.5l1.1 3.9l1.1-5.7l1.1 3.7l1.1-5.9l1.2 8.1l1.1-7.7l1.1 6.3l1.1-4.9l1.2 6.7l1.1-1.4l1.1 4.8l1.1-1.7l1.1 2.9l1.2-2l1.1 3.2l1.1-1.8l1.1 2.8l1.1-2.3l1.2 0.4l1.1-2.1l1.1 1.9l1.1-5.1l1.1 8.2l1.2-5.7l1.1 7.6l1.1-5.9l1.1 6.1l1.1-4.2l1.2 3.3l1.1-1.4l1.1-1.3l1.1-2l1.1-2.3l1.2-2l1.1 1.4l1.1-1.3l1.1 0.3l1.1-2l1.2 0.7l1.1-6.6l1.1-1.7l1.1-7.7l1.1 2.4l1.2-7.1l1.1 1.9l1.1-6l1.1 4.9l1.1-6.2l1.2 2l1.1-6.3l1.1 5.7l1.1-6.3l1.1 8.9l1.2-8.5l1.1 9.8l1.1-5.8l1.1-2l1.1-2l1.2 2.8l1.1-7.9l1.1 3l1.1-6.9l1.1 3.7l1.2-6.2l1.1 3.8l1.1-7.6l1.1 5.2l1.1-6.2l1.2 4.2l1.1-5.9l1.1 5.4l1.1-5.9l1.1 7.2l1.2-6.6l1.1 5.5l1.1-7.3l1.1 6.1l1.1-6.3l1.2 6.3l1.1-6l1.1 5l1.1-5.5l1.1 5.7l1.2-9.2l1.1 9.7l1.1-6.9l1.1 5.1l1.2-5.4l1.1 4.7l1.1-4.3l1.1 6.6l1.1-5.5l1.2 6.3l1.1-3.9l1.1 6.6l1.1-3.8l1.1 3.1l1.2-1.9l1.1 1.3l1.1-2.6l1.1-1.1l1.1-7.5l1.2 6l1.1-9.3l1.1 7l1.1-9.1l1.1 11.4l1.2-9.3l1.1 9.2l1.1-8.2l1.1 7.1l1.1-7.8l1.2 6.4l1.1-2.6l1.1 2l1.1-2.1l1.1 6.5l1.2-2.9l1.1 0.9l1.1-3.1l1.1 5.9l1.1-9l1.2 3.3l1.1-7.7l1.1 3.8l1.1-7.2l1.1 7.3l1.2-8l1.1 4.1l1.1-6.6l1.1 3.7l1.1-6.3l1.2 5.7l1.1-7.4l1.1 7.3l1.1-7l1.1 2.2l1.2-5l1.1 7.1l1.1-6l1.1 1.8l1.1-5.8l1.2 4.5l1.1-6.5l1.1 9.1l1.1-10.4l1.1 7l1.2-8.1l1.1 3l1.1-6.4l1.1 4.8l1.1-6.3l1.2 4.7l1.1-10.1l1.1 10l1.1-11.2l1.1 6.8l1.2-8.3l1.1 10.4l1.1-6.3l1.1 7.4l1.1-4.6l1.2 6.2l1.1-5.3l1.1 6.3l1.1-5.8l1.1 0.8l1.2-4.8l1.1 7.7l1.1-5.6l1.1 0l1.2-5.5l1.1 3.6l1.1-7.5l1.1 0l1.1-8l1.2 4l1.1-9.4l1.1 4.7l1.1-9.3l1.1 2.9l1.2-7.8l1.1 9.9l1.1-7.2l1.1 5.3l1.1-5.6l1.2 8.6l1.1-6.7l1.1 7.7l1.1-6.2l1.1 5.6l1.2-9.6l1.1 12.2l1.1-9.4l1.1 7.2l1.1-9.2l1.2 6.1l1.1-7.9l1.1 9.9l1.1-9l1.1 4.1l1.2-6.4l1.1 9.1l1.1-9.3l1.1 7.3l1.1-9.7l1.2 13.7l1.1-7.6l1.1 6.1l1.1-7.1l1.1 6.2l1.2-6.8l1.1 8.9l1.1-8l1.1 10.5l1.1-8.3l1.2 11.6l1.1-7.3l1.1 6.7l1.1-7l1.1 5.8l1.2-6.8l1.1 6.4l1.1-7.1l1.1 9.2l1.1-7.1l1.2 11l1.1-6.1l1.1 2.9l1.1-5.4l1.1 6.4l1.2-5.2l1.1 7.2l1.1-5.4l1.1 7.6l1.1-9.8l1.2 8.1l1.1-9.8l1.1 10.7l1.1-8.4l1.1 10l1.2-7.7l1.1 7.5l1.1-8.6l1.1 0.8l1.1-7.3l1.2 8.9l1.1-9.1l1.1 11l1.1-8.5l1.2 6.3l1.1-9.6l1.1 9.4l1.1-8.8l1.1 9.1l1.2-8.7l1.1 7.5l1.1-7.3l1.1 7.4l1.1-7.4l1.2 7.7l1.1-8.6l1.1 7.4l1.1-8.3l1.1 0.7l1.2-6.9l1.1 7.8l1.1-8.5l1.1 10l1.1-8.4l1.2 10l1.1-8.9l1.1 9.2l1.1-10.8l1.1 5.6l1.2-9.2l1.1 10.8l1.1-12.8l1.1 7.5l1.1-9.5l1.2 10.1l1.1-8.5l1.1 8.4l1.1-10.6l1.1 8.9l1.2-13.3l1.1 10.5l1.1-14.6l1.1 11.1l1.1-10.5l1.2 7.1l1.1-9.6l1.1 9.4l1.1-9l1.1 8.5l1.2-10.4l1.1 10.5l1.1-10.1l1.1 8.2l1.1-10.3l1.2 8.4l1.1-7.4l1.1 8.2l1.1-7.7l1.1 8l1.2-6.4l1.1 8.4l1.1-6.1l1.1 8.6l1.1-6.3l1.2 9.1l1.1-5.3l1.1 3.3l1.1-6.5l1.1 4.4l1.2-5.9l1.1 7.6l1.1-5.2l1.1 7.4l1.1-7.9l1.2 10.9l1.1-5.6l1.1 9.8l1.1-6.9l1.1 10.7l1.2-2l1.1 6.3l1.1-1.8l1.1 5.4l1.2-2.1l1.1 1.9l1.1-5.4l1.1 8.2l1.1-5.7l1.2 7.4l1.1-6.4l1.1 8.5l1.1-4.8l1.1 3.9l1.2-6.2l1.1 9.2l1.1-5.5l1.1 5.6l1.1-2.6l1.2 0.7l1.1-2.8l1.1 0.7l1.1-1.6l1.1-0.1l1.2-2.5l1.1 6.4l1.1-6.9l1.1 7.1l1.1-7l1.2 8.8l1.1-6.7l1.1 9.1l1.1-8.2l1.1 5.3l1.2-8.2l1.1 5.9l1.1-7.3l1.1 6.8l1.1-6.8l1.2 5l1.1-9.4l1.1 9.8l1.1-9.1l1.1 9.3l1.2-7.6l1.1 13.2l1.1-7.5l1.1 13.3l1.1-8.2l1.2 10.5l1.1-9.5l1.1 10.9l1.1-7.6l1.1 10.1l1.2-9.8l1.1 9.7l1.1-6.9l1.1 9.2l1.1-6l1.2 7.2l1.1-6.3l1.1 4.4l1.1-1.7l1.1 3.5l1.2-1.9l1.1 8.4l1.1-1.9l1.1 2.1l1.1-2.4l1.2-0.4l1.1-2.5l1.1 4.9l1.1-2.1l1.1 1.7l1.2-2.3l1.1 3.7l1.1-2.5l1.1 2l1.1-2.6l1.2 3.7l1.1-2.2l1.1 3.2l1.1-1.6l1.2 3.7l1.1-1.2l1.1 3.8l1.1-0.7l1.1 2.9l1.2-0.8l1.1 3.2l1.1-1.2l1.1 4l1.1-1.6l1.2 3.2l1.1-1.4l1.1 6.5l1.1-1l1.1 4.9l1.2-0.6l1.1 1.3l1.1-0.6l1.1 2l1.1-0.6l1.2 3.1l1.1-0.5l1.1 1l1.1-0.7l1.1 0.2l1.2-1.1l1.1-1.5l1.1-1.6l1.1 0.4l1.1-1.7l1.2 0.3l1.1-1.3l1.1-0.5l1.1-1.6l1.1 2.1l1.2-1.1l1.1 0.1l1.1-1.1l1.1 1.1l1.1-0.9l1.2 2l1.1-0.4l1.1 0.2l1.1-0.4l1.1-1.2l1.2-0.3l1.1-0.8l1.1-0.4l1.1-1.4l1.1-0.3l1.2 2.9l1.1-1.3l1.1 4.3l1.1-2.5l1.1 6.8l1.2-3.3l1.1 6.9l1.1-3l1.1 7.6l1.1-1.9l1.2 5.9l1.1-1.6l1.1 3l1.1-1.3l1.1 5l1.2-1.4l1.1 2.8l1.1-1.2l1.1 0.3l1.1-0.9l1.2-1.8l1.1-0.8l1.1 0l1.1-0.5l1.1-0.3l1.2-0.5l1.1 0l1.1-0.6l1.1 2l1.2-2.1l1.1 2.6l1.1-1.5l1.1 2.7l1.1-0.8l1.2 3.9l1.1-0.6l1.1 3.9l1.1-1l1.1 3.4l1.2-1.3l1.1 4l1.1-1.8l1.1 4l1.1-1.3l1.2 5.2l1.1-1.3l1.1 0.3l1.1-0.9l1.1-0.6l1.2-0.7l1.1 1.9l1.1-0.6l1.1 1.3l1.1-0.5l1.2 2.2l1.1-0.4l1.1 3.1l1.1-0.6l1.1 4.9l1.2-0.5l1.1 2.8l1.1-0.5l1.1 2.7l1.1-0.4l1.2 2.6l1.1-0.5l1.1 2.1l1.1-0.8l1.1 2.8l1.2-0.8l1.1 2.2l1.1-0.7l1.1 1.6l1.1-0.4l1.2-0.4l1.1-0.4l1.1 0.4l1.1-0.5l1.1-0.7l1.2-0.5l1.1 0.7l1.1-0.3l1.1-1.2l1.1-0.4l1.2-0.9l1.1-0.3l1.1-0.6l1.1-0.3l1.1-0.3l1.2-0.3l1.1 0.9l1.1-0.3l1.1 1.7l1.1-0.9l1.2-0.2l1.1-0.5l1.1-3.4l1.1-0.7l1.1 0.7l1.2-0.7l1.1-0.6l1.1-0.8l1.1-0.6l1.1-0.7l1.2 1.3l1.1-0.6l1.1 3l1.1-0.8l1.1 4.8l1.2-2.2l1.1 5.1l1.1-1.4l1.1 3.1l1.2-0.7l1.1 3.6l1.1-0.5l1.1 1.7l1.1-0.4l1.2 1.7l1.1-0.3l1.1 0.6l1.1-0.3l1.1 1.9l1.2-0.3l1.1 0.5l1.1-0.4l1.1 1l1.1-0.3l1.2 0.3l1.1-0.3l1.1 0.6l1.1-0.3l1.1 0.7l1.2-0.3l1.1 0.5l1.1-0.3l1.1 0.6l1.1-0.3l1.2 0.8l1.1-0.3l1.1 0.9l1.1-0.3l1.1 1l1.2-0.3l1.1 1l1.1-0.3l1.1 1.1l1.1-0.3l1.2 1.1l1.1-0.3l1.1 1l1.1-0.3l1.1 1l1.2-0.3l1.1 1.2l1.1-0.3l1.1 1.4l1.1-0.3l1.2 1l1.1-0.3l1.1 0.7l1.1-0.4l1.1 0.6l1.2-0.3l1.1 0.3l1.1-0.3l1.1 0.9l1.1-0.3l1.2 1.5l1.1-0.3l1.1 1.3l1.1-0.3l1.1 1l1.2-0.3l1.1 0.7l1.1-0.3l1.1 0.3l1.1-0.3l1.2 0.4l1.1-0.3l1.1 0.3l1.1-0.3l1.1 0l1.2-0.3l1.1-1.3l1.1-0.3l1.1-1l1.1-0.3l1.2-0.7l1.1-0.3l1.1-0.1l1.1-2.1l1.2 1.8l1.1-1.6l1.1 2.5l1.1-0.3l1.1 1.4l1.2-0.3l1.1 1.3l1.1-0.3l1.1 1.1l1.1-0.3l1.2 1l1.1-0.3l1.1 0.9l1.1-0.4l1.1 0.9l1.2-0.3l1.1 0.7l1.1-0.3l1.1 0.7l1.1-0.3l1.2 0.8l1.1-0.4l1.1 0.8l1.1-0.3l1.1 0.9l1.2-0.3l1.1 0.8l1.1-0.3l1.1 0.9l1.1-0.3l1.2 0.5l1.1-0.3l1.1-1.7l1.1-0.3l1.1-3.2l1.2-0.3l1.1-3.9l1.1-0.4l1.1-3.4l1.1-5.5l1.2 5l1.1-5.4l1.1 6.6l1.1-5.3l1.1 1.2l1.2-1.3l1.1 2.5l1.1-4.6" fill="none" stroke="#d3af4e" stroke-width="1.5" stroke-linejoin="round"/>
<path d="M353.4 288.2l2-0.2l2-0.2l2-0.2l2-0.2l2-0.2l2-0.1l2 0l2 0.1l2 0.2l2 0.2l2 0.2l2 0.2l2-0.1l2-0.4l2-0.8l2-1l2-1.4l2-2l2-2.8l2-2l2-0.9l2 0.2l2 0.3l2-0.2l2-0.9l2-1.6l2-1.6l2-1.5l2-1.3l2-1l2-1l2-1l2-1.2l2-1.5l2-1.8l2-2l2-2l2-0.8l2 0.8l2 2.5l2 2.9l2 3.1l2 3.5l2 3.5l2 1.3l2-0.7l2-2.8l2-3.1l2-3.5l2-3.9l2-4l2-3.8l2-3.8l2-3.5l2-3.5l2-3.5l2-3l2-1.1l2 0.7l2 2l2 1.6l2 0.1l2-1.4l2-1.6l2 0l2 1.6l2 2.3l2 2.2l2 2l2 0.7l2-0.7l2-1.7l2-1.5l2-0.8l2-0.1l2 0.5l2 0.5l2 0.5l2-0.2l2-1.3l2-2.2l2-2.3l2-2.7l2-3.1l2-3.6l2-3.7l2-3l2-2.2l2-1.5l2-1.2l2-1.3l2-1l2-0.7l2-0.2l2 0l2-0.5l2-1.5l2-2.7l2-3.3l2-3.3l2-3l2-2.8l2-2.7l2-2.2l2-0.8l2 0.6l2 0.9l2-0.1l2-1l2-1.3l2-1.1l2-0.8l2-0.5l2-0.3l2-0.7l2-1.2l2-1.8l2-2l2-1.7l2-1.4l2-0.9l2-0.8l2-0.7l2-0.8l2-1.1l2-1.3l2-1.3l2-0.9l2-0.5l2-0.3l2 0l2 0.9l2 1.6l2 2l2 2l2 2l2 2l2 2l2 2l2 1.9l2 1.2l2 0.4l2-0.2l2-0.2l2-0.2l2-0.2l2-0.2l2-0.2l2-0.2l2-0.3l2-0.2l2-0.3l2-1l2-1.6l2-2.4l2-2.3l2-2.2l2-2.1l2-2l2-2l2-1.4l2-0.7l2 0.2l2 0.5l2 1.1l2 1.3l2 1.2l2 0.9l2 0.5l2 0.2l2 0.2l2 0.2l2 0.2l2 0.1l2-0.1l2-0.3l2-0.3l2 0.1l2 0.8l2 1.7l2 2l2 1.5l2 0.5l2-0.6l2-1l2-0.4l2 0.6l2 1.8l2 2.3l2 1.8l2 0.4l2-0.8l2-1.5l2-1.5l2-1.5l2-1.3l2-1.3l2-1.1l2-1.2l2-0.8l2 0l2 2.1l2 3.8l2 4.1l2 3l2 2l2 2l2 1.6l2 1.2l2 0.8l2 0.7l2 0.8l2 0.9l2 1.1l2 1.4l2 1.5l2 1.5l2 1.6l2 1.7l2 1.8l2 2l2 2l2 2l2 1l2-0.3l2-1.4l2-1.7l2-1.5l2-1.2l2-1.1l2-1l2-0.6l2-0.2l2 0.3l2 0.9l2 1.9l2 3l2 3.6l2 3l2 2.5l2 2l2 1.9l2 0.8l2-0.5l2-1.6l2-1.8l2-2.1l2-2.3l2-2.1l2-1.2l2-0.3l2 0.2l2 0.3l2 0.2l2 0.4l2 0.4l2 0.5l2 0.5l2 0.5l2 0.6l2 0.9l2 1.1l2 1.5l2 2.8l2 3.9l2 4.8l2 4.8l2 4.8l2 4.8l2 3.3l2 0.8l2-1.8l2-2.3l2-1.4l2-0.5l2 0.2l2 1.2l2 2.3l2 2.7l2 2.4l2 2l2 1.7l2 1.7l2 1.6l2 1.4l2 1.1l2 1l2 0.8l2 0.4l2-0.1l2-0.3l2-0.2l2 0.1l2 0.5l2 0.7l2 0.5l2 0l2-0.4l2-0.7l2-0.1l2 1.5l2 3l2 3.5l2 2.9l2 2.2l2 2l2 1.5l2 0.5l2-0.4l2-0.6l2-0.3l2 0.4l2 1l2 1.2l2 1.3l2 1.1l2 0.5l2-0.1l2-0.5l2-0.5l2-0.5l2-0.1l2 0.2l2 0.6l2 0.7l2 0.4l2 0l2-0.3l2-0.3l2 0.3l2 1.1l2 1.9l2 2l2 1.8l2 1.5l2 1.3l2 1.3l2 1.2l2 1.1l2 0.5l2 0l2-0.2l2-0.3l2-0.3l2-1.6l2-2.9l2-3.3l2-1.7l2 0l2 1l2 0.8l2 0l2-0.5l2-0.5l2 0.2l2 1.1l2 1.2l2 1.3l2 1.2l2 1.4l2 1.4l2 1.5l2 1.5l2 1.5l2 0.9l2 0.4l2-0.3l2-0.4l2-1.1l2-1.9l2-2.7l2-2.5l2-2l2-1.4l2-1.1l2-0.3l2 0.5l2 1l2 0.8l2 0.3l2-0.3l2-0.8l2 0.1l2 1.2l2 2.2l2 1.6l2 0.1l2-1.5l2-2.4l2-1.8l2-0.9l2 0.1l2 0.7l2 0.3l2-0.4l2-1.2l2-1.5l2-0.7l2 0.1l2 0.8l2 0.9l2 0.7l2 0.1l2-0.3l2-0.7l2-0.5l2 0.1l2 0.6l2 1l2 0.8l2 0.2l2-0.5l2-1l2-1.1l2-1.4l2-1.8l2-2l2-1.2l2-0.2l2 0.7l2 0.3l2-0.6l2-1.6l2-2l2-1.3l2 0l2 1.3l2 2l2 1.9l2 1.7l2 1.6l2 0.7l2-0.3l2-1.4l2-1.1l2 0l2 1l2 1.7l2 1.2l2-0.1l2-1.3l2-2l2-2.1l2-2.5l2-2.8l2-3l2-2.9l2-2.7l2-2.4l2-2.3l2-2.3l2-1.5l2-0.5l2 0.6l2-0.4l2-1.8l2-3.3l2-3.4l2-2.5l2-1.6l2-0.7l2-0.6l2-0.8l2-0.9l2-1l2-1l2-0.9l2-0.8l2-0.6l2-0.7l2-0.3l2 0.2l2 0.6l2 0.7l2 0.5l2 0.5l2 0.4l2 0.3l2-0.7l2-1.8l2-3l2-2.9l2-2.3l2-0.6l2 1.9l2 3.2l2 2.4l2 0.3l2-0.8l2-1.2l2-1.7l2-2l2-2l2-1.8l2-1.6l2-1.5l2-1.5l2-1.5l2-1.4l2-1.2l2-1.1l2-1l2-1l2-1.1l2-1.5l2-1.7l2-2l2-2l2-2l2-2l2-1.2l2 0.2l2 1.5l2 1.6l2 1.2l2 0.8l2-0.1l2-1.7l2-3.4l2-3.9l2-3.4l2-3l2-2.7l2-2.6l2-2.1l2-1.7l2-1.3l2-1.3l2-0.9l2-0.5l2-0.3l2-0.2l2-0.3l2-0.4l2-0.8l2-0.9l2-1l2-0.6l2 0l2 0.6l2 0.6l2 0.5l2 0.3l2 0.1l2 0l2 0.2l2 0.6l2 0.9l2 1l2 1l2 1l2 1l2 1l2 0.7l2 0.3l2-0.2l2-0.4l2-0.5l2-0.7l2-0.9l2-1l2-0.8l2-0.4l2-0.1l2 0l2-0.3l2-0.5l2-0.9l2-1l2-0.8l2-0.7l2-0.4l2-0.3l2-0.5l2-0.7l2-0.9l2-1l2-0.7l2-0.2l2 0.2l2-0.4l2-1.4l2-2.5l2-2.7l2-2.2l2-1.7l2-1.1l2-1l2-0.9l2-0.8l2-0.7l2-0.6l2-0.3l2 0.4l2 0.8l2 1l2 0.5l2-0.3l2-1l2-0.7l2 0.5l2 1.7l2 2.7l2 2.9l2 3l2 3l2 2.2l2 1.5l2 1l2 1l2 1l2 1.1l2 1.2l2 1.3l2 1.4l2 0.7l2 0.2l2-0.5l2-0.6l2-0.5l2 0.1l2 0.6l2 1l2 0.8l2 0l2-0.8l2-1.4l2-0.8l2 0.6l2 1.9l2 2.5l2 2.1l2 1.6l2 1.1l2 1l2 1l2 1l2 1l2 1l2 1.1l2 1.1l2 1.2l2 1.3l2 1.2l2 1.3l2 1.1l2 1l2 1l2 1l2 1l2 1l2 1l2 1l2 1l2 1.5l2 1.9l2 2.3l2 2.3l2 2.1l2 1.9l2 1.7l2 1.7l2 1.4l2 1.1l2 0.8l2 0.4l2-0.3l2-1.1l2-1.3l2-1.1l2-0.6l2-0.2l2 0l2 0.3l2 0.6l2 0.8l2 0.2l2-0.5l2-1.2l2-1.3l2-0.1l2 1.4l2 2.9l2 3.2l2 3.1l2 3l2 2.5l2 1.8l2 1.2l2 1l2 0.5l2-0.2l2-0.9l2-1l2-0.6l2-0.2l2 0.3l2 0.7l2 1.7l2 2.6l2 3.2l2 2.6l2 1.9l2 1.3l2 1.4l2 0.7l2 0.1l2-0.2l2 0.6l2 1.4l2 2l2 2l2 2l2 2l2 2l2 1.9l2 1.6l2 1.2l2 1l2 1l2 0.6l2 0.2l2 0l2 0l2-0.1l2-0.3l2-0.5l2-0.5l2-0.6l2-0.1l2 0.3l2 1l2 1l2 0l2-1l2-2.2l2-1.9l2-0.9l2 0.4l2 1.8l2 2.6l2 2.6l2 2l2 1.4l2 1.4l2 1.1l2 0.9l2 0.5l2 0.5l2 0.5l2 0.5l2 0.5l2 0.4l2 0.4l2 0.4l2 0.4l2 0.4l2 0.4l2 0.6l2 0.6l2 0.7l2 0.7l2 0.6l2 0.6l2 0.6l2 0.6l2 0.5l2 0.8l2 0.9l2 0.8l2 0.3l2 0l2 0.3l2 0.9l2 1.2l2 1.1l2 0.8l2 0.3l2-0.1l2-0.1l2-0.1l2 0.2l2 0.5l2-0.4l2-1.3l2-1.4l2-0.4l2 0.5l2 0.7l2 0.6l2 0.5l2 0.5l2 0.5l2 0.5l2 0.4l2 0.3l2 0.4l2 0.3l2 0.3l2 0.4l2 0.4l2 0.4l2 0.5l2 0.6l2 0.5l2 0.5l2-1.3l2-3.2l2-3.8l2-2.6l2-0.9l2-0.2l2 0.2" fill="none" stroke="#a2522a" stroke-width="1.6" stroke-linejoin="round"/>
<path d="M353.4 285.4l2-0.1l2-0.1l2-0.2l2-0.2l2-0.2l2-0.1l2-0.1l2 0.1l2 0l2 0.2l2 0.1l2 0.2l2 0.1l2 0.2l2-0.1l2-0.2l2-0.4l2-0.6l2-0.9l2-0.8l2-0.8l2-0.9l2-0.8l2-0.8l2-0.9l2-0.8l2-0.9l2-0.8l2-0.9l2-0.9l2-0.8l2-0.9l2-0.8l2-0.8l2-0.9l2-0.8l2-0.8l2-0.8l2-0.6l2-0.3l2 0l2 0.2l2 0.6l2 0.6l2 0.6l2 0.1l2-0.4l2-0.9l2-1.3l2-1.8l2-1.8l2-1.8l2-1.6l2-1.5l2-1.4l2-1.3l2-1.2l2-1.2l2-1.1l2-1l2-0.7l2-0.7l2-0.4l2-0.4l2-0.4l2-0.3l2-0.2l2 0l2 0l2 0.2l2 0.2l2 0.2l2 0.1l2 0l2 0l2-0.2l2-0.2l2-0.2l2-0.3l2-0.4l2-0.7l2-0.9l2-1.1l2-1.2l2-1.2l2-1.3l2-1.2l2-1.3l2-1.3l2-1.3l2-1.3l2-1.4l2-1.3l2-1.4l2-1.3l2-1.4l2-1.4l2-1.4l2-1.5l2-1.4l2-1.4l2-1.5l2-1.3l2-1.3l2-1.2l2-1l2-1l2-0.8l2-0.9l2-0.8l2-0.9l2-0.8l2-0.9l2-0.8l2-0.9l2-0.8l2-0.9l2-0.8l2-0.8l2-0.9l2-0.8l2-0.8l2-0.9l2-0.8l2-0.9l2-0.9l2-0.8l2-0.9l2-0.8l2-0.8l2-0.4l2-0.2l2 0l2 0.3l2 0.4l2 0.5l2 0.4l2 0.4l2 0.4l2 0.4l2 0.3l2 0.3l2 0.2l2 0.1l2 0.1l2 0.2l2 0.1l2 0.2l2 0l2-0.1l2-0.3l2-0.5l2-0.6l2-0.7l2-0.6l2-0.7l2-0.7l2-0.7l2-0.7l2-0.7l2-0.7l2-0.8l2-0.7l2-0.7l2-0.7l2-0.4l2-0.4l2-0.1l2 0l2 0l2 0.1l2 0l2 0.1l2 0.1l2 0l2 0.1l2 0.1l2 0.2l2 0.1l2 0.2l2 0.1l2 0.2l2 0.1l2 0.2l2 0.2l2 0.2l2 0.3l2 0.3l2 0.4l2 0.3l2 0.3l2 0.3l2 0.1l2-0.1l2-0.2l2-0.3l2-0.3l2-0.3l2-0.4l2-0.3l2-0.3l2 0.1l2 0.5l2 0.7l2 1.1l2 1.3l2 1.2l2 1.2l2 1.1l2 0.9l2 0.9l2 0.7l2 0.7l2 0.6l2 0.7l2 0.7l2 0.8l2 0.8l2 0.9l2 1l2 1l2 1l2 1l2 0.9l2 0.6l2 0.5l2 0.2l2 0l2-0.2l2-0.1l2-0.1l2-0.1l2-0.2l2-0.1l2 0.1l2 0.4l2 0.7l2 1l2 1.2l2 1.4l2 1.3l2 1.3l2 1.1l2 0.7l2 0.3l2 0l2-0.4l2-0.5l2-0.5l2-0.5l2-0.4l2-0.3l2-0.2l2 0l2 0.1l2 0.1l2 0.1l2 0.1l2 0.2l2 0.1l2 0.1l2 0.5l2 0.7l2 1.1l2 1.4l2 1.7l2 1.8l2 1.7l2 1.7l2 1.7l2 1.5l2 1.4l2 1.1l2 0.9l2 0.7l2 0.6l2 0.6l2 0.7l2 0.8l2 0.9l2 1.1l2 1.1l2 1.2l2 1.1l2 1.2l2 1.2l2 1.1l2 1l2 1.1l2 1l2 1l2 1l2 1l2 0.9l2 0.7l2 0.6l2 0.4l2 0.2l2 0.2l2 0.2l2 0.4l2 0.5l2 0.7l2 0.8l2 1l2 1l2 1l2 1l2 1l2 0.9l2 0.9l2 0.9l2 0.8l2 0.9l2 0.8l2 0.8l2 0.8l2 0.6l2 0.5l2 0.4l2 0.3l2 0.3l2 0.3l2 0.2l2 0.3l2 0.4l2 0.3l2 0.5l2 0.5l2 0.6l2 0.6l2 0.6l2 0.6l2 0.7l2 0.7l2 0.7l2 0.8l2 0.8l2 0.8l2 0.7l2 0.5l2 0.4l2 0.4l2 0.2l2 0.2l2 0.1l2 0.1l2 0l2-0.1l2-0.1l2-0.2l2-0.2l2-0.1l2 0.1l2 0.2l2 0.4l2 0.5l2 0.6l2 0.6l2 0.6l2 0.6l2 0.6l2 0.5l2 0.5l2 0.5l2 0.5l2 0.2l2 0.1l2-0.2l2-0.3l2-0.6l2-0.5l2-0.5l2-0.4l2-0.3l2-0.3l2-0.3l2-0.2l2-0.2l2-0.1l2 0l2 0.1l2 0.2l2 0.3l2 0.3l2 0.4l2 0.1l2 0.1l2 0l2-0.1l2-0.3l2-0.2l2-0.3l2-0.2l2-0.2l2-0.1l2-0.2l2-0.1l2-0.1l2-0.2l2-0.1l2-0.1l2 0l2 0l2 0l2 0.1l2 0l2 0.1l2 0l2 0.1l2 0l2-0.1l2-0.1l2-0.2l2-0.2l2-0.3l2-0.2l2-0.3l2-0.2l2-0.3l2-0.2l2-0.2l2-0.2l2-0.2l2-0.1l2-0.2l2-0.1l2-0.1l2-0.1l2-0.2l2-0.1l2-0.1l2 0l2 0l2 0.1l2 0.1l2 0.2l2 0.1l2 0.2l2 0.1l2-0.2l2-0.4l2-0.6l2-0.9l2-1l2-1l2-1.1l2-1.1l2-1.2l2-1.2l2-1.2l2-1.2l2-1.2l2-1.1l2-1.2l2-1.1l2-1.2l2-1.1l2-1.2l2-1.1l2-1.2l2-1.1l2-1.1l2-1l2-1.1l2-1l2-1l2-1l2-1l2-1l2-0.9l2-0.7l2-0.6l2-0.4l2-0.2l2-0.2l2-0.2l2-0.1l2-0.2l2-0.3l2-0.4l2-0.5l2-0.5l2-0.6l2-0.6l2-0.7l2-0.6l2-0.6l2-0.7l2-0.6l2-0.7l2-0.7l2-0.6l2-0.7l2-0.8l2-0.7l2-0.8l2-0.9l2-0.8l2-0.9l2-0.9l2-0.8l2-0.9l2-0.8l2-0.9l2-0.8l2-0.8l2-0.9l2-0.8l2-0.8l2-0.8l2-0.7l2-0.6l2-0.4l2-0.4l2-0.2l2-0.5l2-0.6l2-0.8l2-1.1l2-1.2l2-1.3l2-1.3l2-1.3l2-1.3l2-1.4l2-1.4l2-1.4l2-1.4l2-1.2l2-1.2l2-1.1l2-1l2-1l2-1l2-0.9l2-0.7l2-0.7l2-0.6l2-0.5l2-0.4l2-0.5l2-0.4l2-0.3l2-0.2l2-0.2l2-0.1l2-0.1l2-0.1l2 0l2 0l2 0.1l2 0.2l2 0.1l2 0.2l2 0.2l2 0.1l2 0l2-0.1l2-0.1l2-0.3l2-0.2l2-0.3l2-0.3l2-0.2l2-0.3l2-0.2l2-0.3l2-0.2l2-0.2l2-0.3l2-0.2l2-0.3l2-0.3l2-0.4l2-0.5l2-0.6l2-0.6l2-0.6l2-0.7l2-0.7l2-0.9l2-0.9l2-0.9l2-1l2-1l2-1l2-0.9l2-0.9l2-0.8l2-0.8l2-0.8l2-0.8l2-0.7l2-0.5l2-0.5l2-0.4l2-0.4l2-0.3l2-0.3l2-0.3l2-0.1l2 0.1l2 0.4l2 0.6l2 0.7l2 0.9l2 0.8l2 0.8l2 0.8l2 0.8l2 0.8l2 0.8l2 0.8l2 0.7l2 0.6l2 0.7l2 0.6l2 0.6l2 0.5l2 0.5l2 0.4l2 0.3l2 0.2l2 0.2l2 0.1l2 0.2l2 0.2l2 0.3l2 0.4l2 0.5l2 0.7l2 0.6l2 0.7l2 0.7l2 0.7l2 0.7l2 0.8l2 0.9l2 1l2 1l2 1l2 1l2 1l2 0.9l2 0.8l2 0.8l2 0.7l2 0.7l2 0.6l2 0.7l2 0.7l2 0.8l2 0.8l2 0.9l2 0.9l2 1l2 1l2 1l2 1l2 1l2 1l2 1l2 1l2 1l2 0.8l2 0.7l2 0.5l2 0.2l2 0.1l2 0.1l2 0.1l2 0.2l2 0.2l2 0.3l2 0.3l2 0.4l2 0.3l2 0.2l2 0.1l2 0l2 0.1l2 0.3l2 0.6l2 0.8l2 1l2 1.1l2 1.1l2 1.1l2 1l2 1l2 1l2 0.8l2 0.6l2 0.5l2 0.2l2 0.1l2 0.1l2 0.3l2 0.6l2 0.8l2 1l2 1.2l2 1.3l2 1.2l2 1.1l2 1.1l2 1.1l2 1l2 1l2 1l2 1l2 1l2 1l2 1l2 1l2 1l2 1l2 0.9l2 1l2 0.9l2 0.9l2 0.8l2 0.9l2 0.8l2 0.8l2 0.7l2 0.6l2 0.5l2 0.5l2 0.5l2 0.5l2 0.3l2 0.4l2 0.2l2 0.1l2 0l2 0l2-0.1l2 0l2 0.2l2 0.5l2 0.6l2 0.8l2 0.8l2 0.8l2 0.8l2 0.8l2 0.8l2 0.8l2 0.8l2 0.8l2 0.7l2 0.8l2 0.6l2 0.6l2 0.6l2 0.5l2 0.6l2 0.5l2 0.5l2 0.6l2 0.5l2 0.5l2 0.5l2 0.5l2 0.6l2 0.6l2 0.9l2 0.9l2 0.9l2 0.9l2 0.7l2 0.6l2 0.5l2 0.5l2 0.5l2 0.4l2 0.4l2 0.4l2 0.4l2 0.4l2 0.3l2 0.3l2 0.1l2 0l2-0.1l2-0.1l2 0l2 0.1l2 0.1l2 0.3l2 0.2l2 0.3l2 0.3l2 0.3l2 0.3l2 0.3l2 0.4l2 0.3l2 0.5l2 0.4l2 0.5l2 0.5l2 0.6l2 0.5l2 0.2l2-0.1l2-0.4l2-0.6l2-0.7l2-0.5l2-0.3" fill="none" stroke="#6d2a4c" stroke-width="1.6" stroke-linejoin="round"/>
<rect x="115.3" y="17.4" width="1933.3" height="350.1" fill="none" stroke="#000" stroke-width="1.5"/>
<text x="92.2" y="341.3" text-anchor="end" font-size="19.5">0</text>
<text x="92.2" y="290.6" text-anchor="end" font-size="19.5">5</text>
<text x="92.2" y="240.0" text-anchor="end" font-size="19.5">10</text>
<text x="92.2" y="189.3" text-anchor="end" font-size="19.5">15</text>
<text x="92.2" y="138.6" text-anchor="end" font-size="19.5">20</text>
<text x="92.2" y="88.0" text-anchor="end" font-size="19.5">25</text>
<text x="92.2" y="37.3" text-anchor="end" font-size="19.5">30</text>
<path d="M103.1 334.3H115.3M103.1 283.6H115.3M103.1 233.0H115.3M103.1 182.3H115.3M103.1 131.6H115.3M103.1 81.0H115.3M103.1 30.3H115.3" stroke="#000" stroke-width="1.5" fill="none"/>
<text x="1082.3" y="59.2" text-anchor="middle" font-size="27.4">P2</text>
<circle cx="130.6" cy="59.2" r="8.2" fill="#5b4b8a"/>
<text x="146.2" y="65.1" font-size="17.3">5 cm</text>
<circle cx="130.6" cy="79.9" r="8.2" fill="#56a4c8"/>
<text x="146.2" y="85.8" font-size="17.3">10 cm</text>
<circle cx="130.6" cy="100.6" r="8.2" fill="#b9e2c9"/>
<text x="146.2" y="106.5" font-size="17.3">20 cm</text>
<circle cx="130.6" cy="121.3" r="8.2" fill="#d3af4e"/>
<text x="146.2" y="127.2" font-size="17.3">30 cm</text>
<circle cx="130.6" cy="142.0" r="8.2" fill="#a2522a"/>
<text x="146.2" y="147.9" font-size="17.3">50 cm</text>
<circle cx="130.6" cy="162.8" r="8.2" fill="#6d2a4c"/>
<text x="146.2" y="168.7" font-size="17.3">100 cm</text>
<path d="M209.4 655.5l1.1-7l1.1 24.3l1.2-13.2l1.1 24.9l1.1-7.6l1.1 11.8l1.1-3.1l1.2 5.2l1.1-13.1l1.1-4.4l1.1-11l1.1-2.6l1.2-1.2l1.1-1.5l1.1-0.8l1.1 8.5l1.1-5.5l1.2 10.6l1.1-3.2l1.1 6.1l1.1-1.3l1.1 4.3l1.2-1.3l1.1 4.1l1.1-1.1l1.1 3.2l1.1-0.7l1.2 0.8l1.1-6.3l1.1-4.8l1.1-4l1.1 5l1.2-2.2l1.1 6.9l1.1-2.3l1.1 7.9l1.1-3.1l1.2 8.4l1.1-3.3l1.1 9.1l1.1-2.9l1.1 8.4l1.2-3.1l1.1 7.5l1.1-2l1.1 1.3l1.1-1.1l1.2-0.9l1.1-0.8l1.1 0l1.1-0.5l1.1 0l1.2-0.6l1.1 0.2l1.1-0.5l1.1 0.5l1.1-0.5l1.2 0.5l1.1-0.6l1.1 0.6l1.1-0.5l1.1 0.5l1.2-0.5l1.1 0.4l1.1-0.6l1.1 0.3l1.1-0.6l1.2 0.3l1.1-0.4l1.1 0.2l1.1-0.6l1.2 0.3l1.1-0.5l1.1 0l1.1-0.6l1.1-0.1l1.2-0.7l1.1-0.1l1.1-0.5l1.1-0.7l1.1-10.4l1.2 2.4l1.1-27.1l1.1 22.7l1.1-22.6l1.1 24.1l1.2-23.7l1.1 27.4l1.1-34.2l1.1 30.2l1.1-32.1l1.2 33.8l1.1-29.7l1.1 28.7l1.1-35.8l1.1 39.1l1.2-33.6l1.1 28.9l1.1-32.4l1.1 31l1.1-27.7l1.2 25.2l1.1-29.2l1.1 24.9l1.1-28.3l1.1 30.9l1.2-29.5l1.1 38.2l1.1-35l1.1 35.2l1.1-44.6l1.2 37.7l1.1-39.9l1.1 39.2l1.1-48.5l1.1 46.9l1.2-49.3l1.1 37.4l1.1-27.8l1.1 19.9l1.1-17.7l1.2 16.6l1.1-16.6l1.1 18.5l1.1-18.7l1.1 29.2l1.2-30.8l1.1 32.9l1.1-35.4l1.1 32.1l1.1-37.5l1.2 32.2l1.1-35.1l1.1 33l1.1-31.1l1.1 39l1.2-35.5l1.1 35.9l1.1-28.7l1.1 32.8l1.1-26.9l1.2 23.1l1.1-26.5l1.1 22.6l1.1-23.2l1.1 19.5l1.2-26.8l1.1 25l1.1-25.2l1.1 31.9l1.2-37.4l1.1 37.4l1.1-29.5l1.1 34.1l1.1-38.9l1.2 48.4l1.1-54.3l1.1 39.8l1.1-80.7l1.1 70.6l1.2-62.9l1.1 52.1l1.1-59l1.1 56.3l1.1-47.6l1.2 65.9l1.1-51l1.1 56.8l1.1-35.8l1.1 24.1l1.2-43.9l1.1 34.6l1.1-48.9l1.1 56.1l1.1-69.5l1.2 71.7l1.1-78.1l1.1 82.9l1.1-49.4l1.1 51l1.2-61.8l1.1 63.2l1.1-65.1l1.1 60.5l1.1-71.7l1.2 62.6l1.1-78.3l1.1 67.8l1.1-58.5l1.1 50.9l1.2-53.4l1.1 49.6l1.1-67.7l1.1 67.3l1.1-63.4l1.2 77.7l1.1-71.7l1.1 74.9l1.1-52.4l1.1 63.7l1.2-44.6l1.1 50.5l1.1-40.1l1.1 41.2l1.1-38.3l1.2 43.3l1.1-57l1.1 46.9l1.1-55.9l1.1 54.4l1.2-80.8l1.1 74.9l1.1-85.3l1.1 80l1.1-91.4l1.2 85.7l1.1-69.6l1.1 71.3l1.1-99.1l1.1 89.6l1.2-76.9l1.1 78.1l1.1-76.5l1.1 60.4l1.1-73.2l1.2 60.9l1.1-89.8l1.1 93.1l1.1-74.5l1.2 67.8l1.1-73.8l1.1 78.3l1.1-59.2l1.1 65.9l1.2-42.3l1.1 51.6l1.1-57.4l1.1 62.2l1.1-88.6l1.2 86.4l1.1-99.5l1.1 85.5l1.1-75.9l1.1 79.6l1.2-55.3l1.1 67.8l1.1-64.4l1.1 78.3l1.1-66.8l1.2 73.2l1.1-65.7l1.1 70.1l1.1-63.1l1.1 52.4l1.2-57.6l1.1 46.1l1.1-68.5l1.1 53l1.1-45.2l1.2 57.8l1.1-57.5l1.1 53.7l1.1-71.4l1.1 76.6l1.2-82.2l1.1 83.3l1.1-46.6l1.1 48.9l1.1-52.9l1.2 50.1l1.1-36.1l1.1 31.7l1.1-40.7l1.1 46.9l1.2-104.6l1.1 84.2l1.1-67l1.1 51.5l1.1-75l1.2 72.1l1.1-59.6l1.1 62.4l1.1-66.3l1.1 69.6l1.2-57.7l1.1 55.4l1.1-47.5l1.1 44.4l1.1-54.2l1.2 54.6l1.1-64.1l1.1 71.1l1.1-50.6l1.1 42.8l1.2-41.8l1.1 46.7l1.1-58.8l1.1 65.7l1.1-54.8l1.2 52.3l1.1-64l1.1 45l1.1-67.3l1.1 56.2l1.2-73.1l1.1 68l1.1-55.3l1.1 53.3l1.2-70.8l1.1 68.7l1.1-67.8l1.1 70.5l1.1-55l1.2 63.3l1.1-37.7l1.1 48.2l1.1-51.8l1.1 55.6l1.2-46.4l1.1 43.2l1.1-62.7l1.1 56.4l1.1-49.1l1.2 41.9l1.1-50l1.1 54.9l1.1-56.7l1.1 56.7l1.2-53l1.1 55.9l1.1-70.4l1.1 69.3l1.1-63.7l1.2 58.4l1.1-49.5l1.1 48.2l1.1-62.7l1.1 51.2l1.2-52.7l1.1 51.8l1.1-49l1.1 50.3l1.1-38.8l1.2 39.8l1.1-50.5l1.1 56.8l1.1-56.7l1.1 53.6l1.2-68l1.1 60.7l1.1-65.3l1.1 74l1.1-65.8l1.2 60.4l1.1-59.9l1.1 59l1.1-52.4l1.1 62.4l1.2-69.6l1.1 63.3l1.1-61.9l1.1 57.5l1.1-75.7l1.2 87.4l1.1-83.6l1.1 92.6l1.1-75.4l1.1 76l1.2-63.3l1.1 55.1l1.1-52l1.1 51.6l1.1-56.5l1.2 65.9l1.1-44l1.1 56l1.1-44.1l1.1 34.3l1.2-33.3l1.1 24.1l1.1-38.9l1.1 28.4l1.1-31.6l1.2 31.5l1.1-30.6l1.1 30.5l1.1-26.8l1.1 29.9l1.2-24.2l1.1 29.9l1.1-27.3l1.1 33l1.2-50.3l1.1 52.9l1.1-50.1l1.1 50.6l1.1-65l1.2 67.2l1.1-62.2l1.1 48.5l1.1-56l1.1 49.7l1.2-62.1l1.1 52.1l1.1-55.5l1.1 53.1l1.1-72.1l1.2 60.3l1.1-53.4l1.1 50.4l1.1-69.2l1.1 68.7l1.2-78.5l1.1 82.8l1.1-73.3l1.1 69.2l1.1-60.8l1.2 62.7l1.1-52.3l1.1 59.2l1.1-37.8l1.1 36.2l1.2-34.4l1.1 52.4l1.1-44.5l1.1 46l1.1-39.8l1.2 32.9l1.1-36.7l1.1 34.7l1.1-33.8l1.1 34.7l1.2-34.4l1.1 42.5l1.1-48.5l1.1 50.4l1.1-51.9l1.2 66l1.1-62.4l1.1 56l1.1-68.7l1.1 64l1.2-60.3l1.1 53.7l1.1-51l1.1 59.1l1.1-69.3l1.2 75.9l1.1-62.5l1.1 65.2l1.1-49.5l1.1 54.5l1.2-55.8l1.1 45.2l1.1-48.7l1.1 43.3l1.1-51.8l1.2 55l1.1-55.2l1.1 52.1l1.1-59l1.1 69.8l1.2-66.3l1.1 79.3l1.1-73.4l1.1 78.6l1.1-78.6l1.2 72.8l1.1-88.7l1.1 80.7l1.1-66.7l1.2 56.3l1.1-65.6l1.1 53l1.1-72.2l1.1 57.6l1.2-56.1l1.1 52.2l1.1-49.9l1.1 48.7l1.1-58.2l1.2 62.1l1.1-59.6l1.1 62l1.1-60.1l1.1 61.1l1.2-72.7l1.1 111.7l1.1-78.7l1.1 88.9l1.1-67l1.2 61.3l1.1-78l1.1 77.2l1.1-59.5l1.1 71.5l1.2-49.9l1.1 52.6l1.1-57.6l1.1 54l1.1-46.2l1.2 46.8l1.1-37.8l1.1 47.4l1.1-54l1.1 65.8l1.2-69.3l1.1 66.5l1.1-89l1.1 76.1l1.1-75.5l1.2 85.4l1.1-61.6l1.1 60.4l1.1-61.7l1.1 61.3l1.2-50.6l1.1 48.7l1.1-42.1l1.1 60.8l1.1-49.3l1.2 55.3l1.1-51.2l1.1 54.7l1.1-54.2l1.1 59.3l1.2-68.4l1.1 61.7l1.1-63l1.1 53l1.1-55.6l1.2 43.8l1.1-56.7l1.1 36l1.1-42.1l1.1 32.3l1.2-36.3l1.1 37.9l1.1-36.4l1.1 33.3l1.1-30.4l1.2 30.2l1.1-22.8l1.1 23.8l1.1-19.5l1.1 29.3l1.2-27.3l1.1 35.4l1.1-28.4l1.1 38l1.2-27.4l1.1 27.2l1.1-25.5l1.1 30l1.1-20.7l1.2 38.6l1.1-41l1.1 53.2l1.1-52l1.1 43.3l1.2-38.5l1.1 26.1l1.1-33.6l1.1 27.2l1.1-30.2l1.2 19.5l1.1-30.4l1.1 24.7l1.1-37.2l1.1 24.5l1.2-38.1l1.1 40.8l1.1-40.8l1.1 41l1.1-35.4l1.2 31l1.1-24.4l1.1 24.8l1.1-16.6l1.1 21.5l1.2-29.3l1.1 32.9l1.1-28.3l1.1 27.7l1.1-23.9l1.2 23.2l1.1-18.8l1.1 17l1.1-17.6l1.1 18.3l1.2-23.3l1.1 27.6l1.1-23.2l1.1 22l1.1-15.3l1.2 15.1l1.1-15.1l1.1 13.7l1.1-12l1.1 46.9l1.2-38.7l1.1 53.2l1.1-48.8l1.1 64.2l1.1-57.5l1.2 64.4l1.1-47.3l1.1 60.2l1.1-55.2l1.1 41.9l1.2-38.8l1.1 14.4l1.1-19.3l1.1 7.2l1.1-16.4l1.2 6.5l1.1-8.6l1.1 16.5l1.1-18.7l1.1 24.6l1.2-22.5l1.1 20.8l1.1-18.7l1.1 17.7l1.1-15.1l1.2 30.9l1.1-29.5l1.1 39.3l1.1-31.5l1.2 33.2l1.1-27.7l1.1 29l1.1-26.4l1.1 28.3l1.2-24.7l1.1 29.1l1.1-24.2l1.1 27.2l1.1-24.3l1.2 22l1.1-29.1l1.1 28l1.1-28.1l1.1 23.4l1.2-17.6l1.1 15.5l1.1-18l1.1 19.8l1.1-17.3l1.2 19.9l1.1-19.9l1.1 20l1.1-20.9l1.1 18.4l1.2-16.1l1.1 15l1.1-20.4l1.1 15.5l1.1-19.9l1.2 16.4l1.1-19.2l1.1 16.7l1.1-13.4l1.1 7.2l1.2-13.2l1.1 12.3l1.1-13.9l1.1 48.6l1.1-37.4l1.2 40.7l1.1-36.2l1.1 35.3l1.1-28.4l1.1 30.4l1.2-23.2l1.1 25.1l1.1-27.8l1.1 28.6l1.1-30.6l1.2 26.3l1.1-21.3l1.1 17.8l1.1-25.8l1.1 18.3l1.2-19.6l1.1 20.1l1.1-18l1.1 18l1.1-16.4l1.2 18.3l1.1-18.1l1.1 21.6l1.1-16l1.1 19.6l1.2-18.7l1.1 16.7l1.1-18.4l1.1 15.9l1.1-16.7l1.2 15.8l1.1-23.3l1.1 15.1l1.1-19.3l1.1 20.9l1.2-22.6l1.1 35.4l1.1-28.1l1.1 29l1.2-22.6l1.1 19.2l1.1-15.1l1.1 11l1.1-16.8l1.2 13.1l1.1-16.5l1.1 15.2l1.1-16.4l1.1 13.8l1.2-16l1.1 21.8l1.1-16l1.1 22.5l1.1-23.1l1.2 29.8l1.1-20.4l1.1 22.1l1.1-25.4l1.1 27.6l1.2-15.3l1.1 19.3l1.1-16.2l1.1 17.2l1.1-16.7l1.2 18.7l1.1-21.6l1.1 15.2l1.1-10.9l1.1 8l1.2-10.2l1.1 10.2l1.1-11.2l1.1 12.1l1.1-23.2l1.2 12.5l1.1-23.5l1.1 17.4l1.1-28.4l1.1 28l1.2-20.8l1.1 26.4l1.1-29.8l1.1 34.2l1.1-25l1.2 20.1l1.1-17.9l1.1 11.4l1.1-14.4l1.1 18.8l1.2-22.6l1.1 25.7l1.1-17.7l1.1 20.5l1.1-23.6l1.2 27.4l1.1-19.9l1.1 22l1.1-18.3l1.1 22.6l1.2-19.9l1.1 22.1l1.1-21.9l1.1 22.6l1.1-18.3l1.2 19.3l1.1-14.5l1.1 15.4l1.1-14.8l1.1 16.3l1.2-10.6l1.1 9.6l1.1-11.9l1.1 12l1.1-10l1.2 5.8l1.1-11.3l1.1 7.3l1.1-15.6l1.1 10.5l1.2-16.1l1.1-1.5l1.1-12.8l1.1 2.5l1.2-15.9l1.1 17.1l1.1-15.4l1.1 21.1l1.1-18.5l1.2 26.9l1.1-27l1.1 38l1.1-29.3l1.1 31.6l1.2-28.1l1.1 28.1l1.1-25.7l1.1 27.2l1.1-25.7l1.2 21.2l1.1-21.7l1.1 14.2l1.1-18.4l1.1 21.8l1.2-21.4l1.1 24.5l1.1-22.4l1.1 24.5l1.1-25.4l1.2 24.2l1.1-18.7l1.1 15.1l1.1-21l1.1 18.9l1.2-28.6l1.1 16l1.1-20.4l1.1 25.3l1.1-17.4l1.2 23.2l1.1-18.7l1.1 22.5l1.1-22l1.1 21.5l1.2-27.1l1.1 24.6l1.1-24.9l1.1 16.8l1.1-23.6l1.2 22.5l1.1-28.2l1.1 26.8l1.1-20.3l1.1 23.3l1.2-21l1.1 26.7l1.1-21.4l1.1 22.9l1.1-18.2l1.2 15.3l1.1-17.5l1.1 18l1.1-23.8l1.1 22.5l1.2-27.4l1.1 31.2l1.1-29.5l1.1 36l1.1-25.3l1.2 27l1.1-30.3l1.1 25.7l1.1-28.3l1.1 26.8l1.2-29.4l1.1 29.4l1.1-27.5l1.1 24.4l1.1-23l1.2 16.2l1.1-23.8l1.1 20.7l1.1-26.4l1.2 18.3l1.1-31.4l1.1 28.3l1.1-23.5l1.1 33.7l1.2-22.6l1.1 31.8l1.1-31.8l1.1 34.1l1.1-46l1.2 39.2l1.1-37.9l1.1 35.9l1.1-34.1l1.1 31.9l1.2-45.3l1.1 41l1.1-29.7l1.1 23.5l1.1-12.1l1.2 28.6l1.1-26.2l1.1 37.2l1.1-27l1.1 30.8l1.2-33.5l1.1 37.8l1.1-23.3l1.1 22.7l1.1-28.4l1.2 25.1l1.1-41.4l1.1 31l1.1-30.7l1.1 24.7l1.2-34.6l1.1 26.8l1.1-16.5l1.1 26.9l1.1-21.2l1.2 31.4l1.1-22.8l1.1 19.9l1.1-32.9l1.1 25.4l1.2-33.6l1.1 21.4l1.1-34.8l1.1 43l1.1-42.1l1.2 39.6l1.1-42.8l1.1 32l1.1-46.3l1.1 39.1l1.2-51.7l1.1 45.5l1.1-43.1" fill="none" stroke="#5b4b8a" stroke-width="1.75" stroke-linejoin="round"/>
<path d="M1545.3 531.9l1.2-37.1l1.1 32.4l1.1-52.8l1.1 54.8l1.1-57.7l1.2 59.2l1.1-40.3l1.1 48.3l1.1-46.5l1.1 61.7l1.2-35.6l1.1 40.5l1.1-37.3l1.1 35.1l1.1-29.6l1.2 25.4l1.1-24.4l1.1 33.7l1.1-34.1l1.1 36.2l1.2-42.7l1.1 44l1.1-35.6l1.1 30.3l1.1-31.1l1.2 32.7l1.1-39.2l1.1 50.7l1.1-42.5l1.1 46.6l1.2-36l1.1 35.2l1.1-41.4l1.1 37.7l1.2-47.3l1.1 50.5l1.1-38.6l1.1 46.4l1.1-47.5l1.2 44l1.1-56.9l1.1 52.3l1.1-56.3l1.1 52.5l1.2-35.3l1.1 44l1.1-52.4l1.1 60.3l1.1-55.6l1.2 45.9l1.1-53l1.1 43.2l1.1-46l1.1 37.4l1.2-51.4l1.1 46.2l1.1-45.4l1.1 57.2l1.1-40.4l1.2 77.5l1.1-47.7l1.1 52l1.1-55.5l1.1 58.3l1.2-48.5l1.1 38.1l1.1-58l1.1 49.2l1.1-54l1.2 42.4l1.1-41.6l1.1 31.6l1.1-23.8l1.1 31.9l1.2-24.6l1.1 32l1.1-21.8l1.1 35l1.1-33.4l1.2 40.6l1.1-38.5l1.1 42.7l1.1-42l1.1 39.8l1.2-27.6l1.1 22.1l1.1-26.5l1.1 22l1.1-28.6l1.2 41.3l1.1-52.8l1.1 58.9l1.1-47.2l1.1 40.6l1.2-38.1l1.1 27.6l1.1-24l1.1 14.9l1.1-15.9l1.2 18.1l1.1-12.9l1.1 15.1l1.1-18.7l1.1 28.8l1.2-28.4l1.1 37.3l1.1-35.3l1.1 35.8l1.1-34.5l1.2 32.9l1.1-29.4l1.1 28.9l1.1-17.8l1.2 18.5l1.1-17.3l1.1 18.6l1.1-22.1l1.1 24.3l1.2-21.3l1.1 26.7l1.1-28l1.1 36l1.1-31.5l1.2 37.9l1.1-42.4l1.1 28.3l1.1-32.7l1.1 15.2l1.2-18.3l1.1 15l1.1-18.5l1.1 17.4l1.1-15.1l1.2 14.7l1.1-9.9l1.1 12.1l1.1-13.1l1.1 15.7l1.2-13.5l1.1 14.2l1.1-14l1.1 14.1l1.1-15.2l1.2 14l1.1-14.8l1.1 11.8l1.1-16.2l1.1 10.4l1.2-14.1l1.1 7.9l1.1-19.5l1.1 19.4l1.1-16.9l1.2 41.6l1.1-25.1l1.1 44.4l1.1-34.1l1.1 40.4l1.2-31.7l1.1 38.9l1.1-33.9l1.1 37.2l1.1-32.9l1.2 26.7l1.1-23.4l1.1 24.1l1.1-30.9l1.1 22.9l1.2-23.3l1.1 20.4l1.1-21.2l1.1 16.3l1.1-17.6l1.2 16.3l1.1-20.3l1.1 17.7l1.1-17.2l1.1 12.4l1.2-13.3l1.1 9.6l1.1-10.4l1.1 12.1l1.1-11.2l1.2 18.7l1.1-17.1l1.1 33.8l1.1-21.7l1.1 37.5l1.2-30.1l1.1 32.9l1.1-23.8l1.1 21.9l1.2-18l1.1 15.5l1.1-20.4l1.1 16.7l1.1-13.4l1.2 5.9l1.1-8l1.1 10.2l1.1-11.2l1.1 15l1.2-15.9l1.1 19l1.1-18.3l1.1 21.1l1.1-16.5l1.2 17.4l1.1-12.4l1.1 13.8l1.1-10.8l1.1 14.6l1.2-13.9l1.1 18.3l1.1-16.6l1.1 19.3l1.1-16.4l1.2 17.1l1.1-13.7l1.1 15.6l1.1-14.7l1.1 13.5l1.2-15.6l1.1 15.5l1.1-15.6l1.1 14.4l1.1-15.5l1.2 11.5l1.1-12.3l1.1 9.2l1.1-11.5l1.1 9.3l1.2-12.7l1.1 11.3l1.1-12.6l1.1 12l1.1-14.1l1.2 9.2l1.1-15l1.1 12.3l1.1-15.6l1.1 27.9l1.2-27.4l1.1 37.4l1.1-23.8l1.1 18.9l1.1-22.3l1.2 15.4l1.1-21.8l1.1 12.9l1.1-18.1l1.1 10l1.2-13l1.1 7.8l1.1-9.3l1.1 22.9l1.1-19.3l1.2 39.3l1.1-17.4l1.1 17.3l1.1-11l1.1 9.9l1.2-6.9l1.1 5.1l1.1-2.1l1.1 2l1.1-1l1.2 1.4l1.1-1.1l1.1 1.4l1.1-1l1.1 1.2l1.2-1.1l1.1 1.3l1.1-1l1.1 1l1.2-0.9l1.1 1l1.1-1.1l1.1 1l1.1-0.9l1.2 0.8l1.1-0.7l1.1 1.5l1.1-0.9l1.1 2l1.2-0.8l1.1 1.4l1.1-0.8l1.1 1.3l1.1-0.7l1.2 1.1l1.1-0.8l1.1 0.5l1.1-0.9l1.1 0.4l1.2-0.8l1.1 0.4l1.1-0.7l1.1 0.3l1.1-0.6l1.2 2l1.1-1.2l1.1 2.6l1.1-0.8l1.1 1.8l1.2-0.7l1.1 0.5l1.1-0.7l1.1 0.2l1.1-0.7l1.2 0.2l1.1-8.1l1.1 11.5l1.1-12.7l1.1 16.1l1.2-7.3l1.1 10.6l1.1-4.6l1.1 6.5l1.1-1.1l1.2-0.4l1.1-1.2l1.1-1.4l1.1-1.2l1.1-1.8l1.2-1.7l1.1-1.7l1.1-1.3l1.1 6.4l1.1-4.2l1.2 6.9l1.1-1.2l1.1-1.6l1.1-2.4l1.1-1.4l1.2-9.6l1.1 1.2l1.1-12.4l1.1 13.3l1.1-8.5l1.2 11.9l1.1-4.9l1.1 7.6l1.1-1.6l1.1 2l1.2-0.7l1.1 0.3l1.1-0.7l1.1 0.2l1.1-0.7l1.2 0.3l1.1-0.5l1.1 0l1.1-0.5l1.2 0.1l1.1-0.5l1.1 1l1.1-0.7l1.1 1.6l1.2-0.7l1.1 1.7l1.1-0.8l1.1 1.7l1.1-0.8l1.2 1.1l1.1-0.7l1.1 0.4l1.1-0.8l1.1 0.3l1.2-0.6l1.1 0.2l1.1-0.8l1.1 0.2l1.1-0.8l1.2-0.2l1.1-1l1.1-4.2l1.1-25.1l1.1 14.3l1.2-29.7l1.1 26.6l1.1-21.3l1.1 29.4l1.1-13.6l1.2 14.9l1.1-16.8" fill="none" stroke="#5b4b8a" stroke-width="1.75" stroke-linejoin="round"/>
<path d="M1245.1 585.1v1.6M1247.5 611.3v1.6M1247.7 626.8v1.6M1248.6 603.6v27.4M1248.6 615.1v7.6M1249.8 613.2v24.9M1249.8 606.7v31.4M1250.8 608.4v14.0M1250.9 628.1v10.0M1252.2 593.6v1.6M1252.0 631.4v9.1M1252.9 628.1v1.6M1254.1 615.2v14.6M1255.4 635.9v11.3M1255.1 598.7v41.0M1256.8 602.3v11.9M1256.7 584.5v14.5M1257.3 596.2v46.6M1257.8 617.5v4.1M1258.6 585.0v27.8M1258.9 645.6v9.7M1259.7 592.4v11.0M1261.1 647.7v12.7M1260.7 625.9v15.3M1261.9 606.0v25.8M1262.0 589.9v1.6M1263.3 636.8v4.5M1264.6 635.5v1.6M1264.1 638.3v1.6M1265.4 612.5v5.9M1267.8 609.7v1.6M1268.7 585.5v4.4M1268.9 641.9v15.7M1270.2 584.8v50.6M1271.3 594.0v11.5M1272.4 634.9v1.6M1273.1 605.3v35.2M1274.4 613.5v1.6M1275.3 575.2v14.8M1277.6 616.1v30.1M1277.7 620.2v1.6M1278.9 610.5v35.1M1278.9 622.4v8.1M1280.2 619.1v1.6M1281.1 595.0v1.6M1282.2 579.4v1.6M1282.2 593.8v1.6M1283.3 625.1v13.7M1285.6 619.5v1.6M1286.5 602.2v1.6M1286.8 576.3v1.6M1288.1 613.0v15.4M1287.9 600.2v5.1M1289.0 621.7v18.9M1288.8 576.1v33.6M1290.3 609.0v1.6M1290.2 590.1v33.1M1291.1 608.0v1.6M1291.4 587.1v22.1M1292.4 584.2v1.6M1292.3 579.6v1.6M1293.7 601.0v9.5M1293.7 625.5v12.8M1294.4 616.2v21.7M1294.5 625.3v5.9M1295.9 601.6v1.6M1296.0 608.2v1.6M1296.8 581.0v4.1M1297.9 578.0v46.0M1298.2 595.6v19.3M1300.1 594.7v30.2M1303.6 592.7v41.9M1306.6 615.0v1.6M1310.1 615.3v14.7M1312.8 597.8v38.3M1315.7 561.4v22.6M1318.2 575.5v46.4M1319.2 554.8v32.0M1320.1 613.6v1.6M1322.3 624.6v6.8M1322.4 603.3v1.6M1323.5 617.6v28.2M1323.6 596.7v1.6M1325.1 580.7v1.6M1324.9 624.4v1.6M1327.4 612.9v6.2M1326.9 578.8v1.6M1327.9 601.6v27.9M1329.5 631.9v18.9M1329.3 609.0v41.8M1330.4 612.3v37.9M1330.5 623.0v1.6M1331.3 611.6v1.6M1331.5 604.0v4.4M1333.7 585.3v38.9M1335.0 588.1v1.6M1337.1 594.3v1.6M1337.1 589.0v1.6M1345.2 560.6v1.6M1366.6 580.5v4.7M1379.8 580.7v1.6M1380.8 574.1v17.4M1381.8 562.3v40.6M1385.5 575.9v28.2M1398.8 548.2v19.9M1404.4 538.7v28.7M1410.8 510.9v26.1M1412.2 527.7v48.6M1415.4 512.0v1.6M1418.7 520.7v35.3M1419.7 521.9v1.6M1424.4 589.3v5.5M1428.9 524.6v23.2M1432.1 540.0v1.6M1441.1 501.4v52.4M1442.2 511.9v1.6M1448.1 506.9v27.2M1450.5 530.3v5.1M1452.5 551.0v9.5M1455.7 564.1v1.6M1457.1 559.1v17.3M1460.1 540.1v1.6M1463.5 506.4v1.6M1464.6 564.4v1.6M1471.7 567.5v1.6M1474.8 561.8v1.6M1477.1 556.7v16.2M1480.6 530.9v1.6M1481.3 547.2v18.2M1483.8 516.1v1.6M1484.9 518.1v1.6M1486.3 506.8v51.2M1487.1 491.8v11.6M1488.5 542.9v11.4M1489.7 503.2v1.6M1493.0 494.5v25.1M1494.0 494.1v1.6M1496.2 513.9v1.6M1497.5 508.6v7.1M1498.5 533.9v1.6M1504.1 503.8v37.2M1505.0 515.1v7.9M1506.2 522.4v14.1M1508.4 520.0v17.8M1509.8 528.4v8.5M1510.8 510.0v26.0M1512.1 514.6v20.5M1516.2 488.3v1.6M1518.7 501.1v4.2M1519.6 491.7v37.2M1520.9 510.0v16.5M1521.7 499.6v10.8M1524.2 521.1v4.1M1526.5 496.1v1.6M1528.5 499.1v1.6M1323.0 548.0v1.8M1336.0 553.0v1.8M1348.0 565.0v1.8M1460.0 485.0v1.8M1475.0 463.0v1.8M1491.0 478.0v1.8M1521.0 452.0v1.8M1519.0 477.0v1.8M1533.0 488.0v1.8M1368.0 520.0v1.8M1506.0 472.0v1.8M1295.3 575V696.2M1422.5 500V601M1393.3 495V515M1438.2 482V510" fill="none" stroke="#5b4b8a" stroke-width="1.6"/>
<path d="M115.3 696.2H2048.6M115.3 645.6H2048.6M115.3 594.9H2048.6M115.3 544.3H2048.6M115.3 493.6H2048.6M115.3 442.9H2048.6M115.3 392.3H2048.6M139.6 730.6V379.4M209.1 730.6V379.4M278.5 730.6V379.4M341.2 730.6V379.4M410.7 730.6V379.4M477.9 730.6V379.4M547.4 730.6V379.4M614.6 730.6V379.4M684.0 730.6V379.4M753.5 730.6V379.4M820.7 730.6V379.4M890.2 730.6V379.4M957.4 730.6V379.4M1026.8 730.6V379.4M1096.3 730.6V379.4M1161.3 730.6V379.4M1230.7 730.6V379.4M1297.9 730.6V379.4M1367.4 730.6V379.4M1434.6 730.6V379.4M1504.1 730.6V379.4M1573.5 730.6V379.4M1640.7 730.6V379.4M1710.2 730.6V379.4M1777.4 730.6V379.4M1846.9 730.6V379.4M1916.3 730.6V379.4M1979.1 730.6V379.4" stroke="#6c6c6c" stroke-width="1.3" stroke-dasharray="2.5 4.5" fill="none"/>
<path d="M210.5 652.1l2.3 12.6l2.2 12.9l2.2 2.5l2.3 1.1l2.2-15l2.3-8.5l2.2-1.9l2.2 5.4l2.3 4.5l2.2 3.1l2.3 2.5l2.2 2.5l2.2 1.7l2.3 1.2l2.2-10.2l2.3 1.6l2.2 3.8l2.2 4.7l2.3 4.7l2.2 5.1l2.3 4.6l2.2 3.4l2.2-0.1l2.3-1.2l2.2-0.3l2.3-0.4l2.2-0.2l2.2 0l2.3 0.1l2.2 0l2.3 0l2.2 0l2.2-0.2l2.3-0.2l2.2-0.1l2.3-0.2l2.2-0.7l2.3-1.1l2.2-1.2l2.2-2.3l2.3-20.2l2.2-4.6l2.3-1.3l2.2-0.7l2.2-0.9l2.3 0.6l2.2-0.4l2.3 4.5l2.2-0.3l2.2-1.7l2.3-3.7l2.2-2.7l2.3-3.3l2.2 9.3l2.2-7.3l2.3-6.3l2.2-7.1l2.3 0.2l2.2 4.2l2.2-1.1l2.3 1.1l2.2-1.2l2.3 2.1l2.2 2.6l2.2-15.3l2.3 0.9l2.2 1.4l2.3 1.6l2.2 5.8l2.2 7.7l2.3-1.6l2.2-2.3l2.3-6.5l2.2-2l2.3-3.5l2.2 11.4l2.2-1l2.3-5.7l2.2-30.9l2.3 1.1l2.2-2.5l2.2 4.4l2.3 3.4l2.2 19.8l2.3-8.3l2.2-15l2.2-17.6l2.3 1.8l2.2 17l2.3 8.6l2.2-6.1l2.2-13.4l2.3-11.2l2.2 2.4l2.3 3.6l2.2-13.6l2.2-1.9l2.3 9.8l2.2 16l2.3 8.5l2.2 16.3l2.2 5.2l2.3-8.8l2.2-21.7l2.3-5.2l2.2-16l2.2 1.9l2.3-0.1l2.2-12.7l2.3 2.4l2.2-2.3l2.2-4.7l2.3-15.6l2.2 9.2l2.3-4.4l2.2 7.7l2.3 11.1l2.2-1.5l2.2-9.4l2.3-4.3l2.2 0.2l2.3 13.5l2.2 3.8l2.2 11.7l2.3 7.2l2.2 6.1l2.3-13.6l2.2-12.3l2.2 0.1l2.3 2.3l2.2-9.1l2.3-2.6l2.2 19.8l2.2 3.9l2.3 7.1l2.2-11.8l2.3-30.5l2.2 4.8l2.2-16.7l2.3 6.8l2.2 2.5l2.3 6.2l2.2-5.2l2.2-2.5l2.3-3.4l2.2 7.4l2.3 5.4l2.2-12.9l2.2 6.5l2.3-9.6l2.2-14.9l2.3-12.1l2.2 12.6l2.3-10l2.2-6.4l2.2 10l2.3 18.8l2.2-3.2l2.3 3.7l2.2-10.5l2.2 6.5l2.3-2l2.2-3.8l2.3 0.6l2.2-7.7l2.2 0.6l2.3 6.9l2.2-8.7l2.3-4.4l2.2 3.6l2.2 6.9l2.3-0.6l2.2-9.9l2.3-12.4l2.2-6.2l2.2 12l2.3 0.4l2.2 4.5l2.3-1.2l2.2-6.5l2.2-7.7l2.3 1l2.2 8.8l2.3 16.2l2.2-0.4l2.2-2.7l2.3 7.7l2.2 18.7l2.3-3.3l2.2-8.8l2.2-1.8l2.3 4l2.2-0.8l2.3 3.2l2.2-0.6l2.3-5.8l2.2-0.5l2.2-9.6l2.3 2.5l2.2-2.3l2.3-9.3l2.2-9.1l2.2-7.7l2.3-0.5l2.2-9.1l2.3-10.2l2.2 12.5l2.2 3l2.3 1.3l2.2 12.3l2.3 3.5l2.2 5.8l2.2 3.4l2.3 1.7l2.2-2l2.3-1.7l2.2-0.8l2.2-2.2l2.3-2.3l2.2-6.5l2.3 6.3l2.2-1.6l2.2-4.2l2.3 5.8l2.2 10.2l2.3 10.8l2.2-9.4l2.2-1l2.3-2.1l2.2-3.5l2.3 4.6l2.2 8.8l2.2 1.8l2.3-13.9l2.2-0.8l2.3-3.3l2.2-11.6l2.3-0.5l2.2 0.8l2.2-8.9l2.3 5.6l2.2-1.5l2.3-2.8l2.2 21.4l2.2 20.6l2.3-18.6l2.2 12.2l2.3 21.3l2.2 4.2l2.2 1.3l2.3 0.9l2.2 4.5l2.3-3.8l2.2-10.9l2.2-1.7l2.3 11.1l2.2 3.2l2.3 9.7l2.2 3.8l2.2 10.2l2.3 3.3l2.2 1.8l2.3-8.9l2.2 0.3l2.2-6.6l2.3-7.8l2.2-15.8l2.3-2l2.2 4l2.2 1.6l2.3 1.9l2.2 3.6l2.3 2.7l2.2 14.4l2.3 7.1l2.2 4.1l2.2 4.2l2.3 4.2l2.2 5.4l2.3 0.1l2.2-10.6l2.2-4.1l2.3-7.6l2.2-11.5l2.3-10.9l2.2-3.3l2.2 4.3l2.3 0.9l2.2 6l2.3-0.7l2.2 3l2.2 4.7l2.3 3.3l2.2-3l2.3-1.6l2.2 4.2l2.2 4.3l2.3 0.7l2.2 0.1l2.3 15.6l2.2 7.8l2.2 11.1l2.3 9.5l2.2 7.7l2.3 0l2.2-14l2.2-5.7l2.3-5.1l2.2 1.5l2.3 3.7l2.2-0.8l2.2 1.5l2.3 6.3l2.2 8.9l2.3 5.6l2.2 1.5l2.3-0.5l2.2 3.1l2.2 1.9l2.3-1.7l2.2-1.5l2.3 4l2.2-2.2l2.2 1.8l2.3-0.8l2.2 0.3l2.3 1.1l2.2-3l2.2-2.6l2.3-5l2.2-0.6l2.3-3.9l2.2-2.5l2.2 18.7l2.3 6.3l2.2 3.4l2.3 6l2.2-2.4l2.2-1.2l2.3 0.7l2.2-5.5l2.3-0.5l2.2-0.8l2.2 1.7l2.3 0.8l2.2 6l2.3-0.1l2.2-1.2l2.2 0.2l2.3-6.4l2.2-3.6l2.3-1.6l2.2 8l2.3 4.8l2.2-0.1l2.2-2.9l2.3-2l2.2-3l2.3-2.4l2.2 4.5l2.2 3.2l2.3 6.7l2.2 1.2l2.3 4.9l2.2 5.5l2.2 0.4l2.3 0.8l2.2-0.5l2.3-2.6l2.2-0.3l2.2-8.2l2.3-13.1l2.2-7l2.3 5.4l2.2 2.2l2.2 5.9l2.3-0.2l2.2-4.5l2.3-0.2l2.2 3.4l2.2 1.6l2.3 4.8l2.2 4.3l2.3 3.9l2.2 0.6l2.2 2.1l2.3 2.7l2.2 2l2.3 2.5l2.2-0.2l2.2-0.2l2.3-4l2.2-6.6l2.3-4.6l2.2-16.9l2.3-12.3l2.2 0.8l2.2 2.1l2.3 6.4l2.2 8.5l2.3 4.6l2.2 2.1l2.2-0.1l2.3-3l2.2-5.7l2.3 1.4l2.2 2.7l2.2 0.6l2.3 3.3l2.2-4.3l2.3-9.1l2.2-10.6l2.2 11.4l2.3 5l2.2 4.6l2.3-4.8l2.2-3.9l2.2-7l2.3-6.1l2.2 6.5l2.3 5.1l2.2 1.3l2.2 4.2l2.3-0.7l2.2-3.6l2.3-4.2l2.2 3l2.2 5.7l2.3 0.5l2.2-3.7l2.3 0.2l2.2-0.8l2.2 0.7l2.3-8.2l2.2-6l2.3-14.2l2.2 5.4l2.3 11.1l2.2 0.5l2.2-5.1l2.3-2.1l2.2 0l2.3-6l2.2 1.9l2.2 9.6l2.3 4.8l2.2 8.7l2.3 1.9l2.2 7.3l2.2-3.1l2.3-10.4l2.2-3.4l2.3-5.9l2.2 4.8l2.2 5.5l2.3 8.3l2.2-10.7l2.3-6.9l2.2-17.9l2.2 6.5l2.3 3.1l2.2-19.7l2.3-12.3l2.2 0.8l-1.1 26.4l-2.3 7.6l-2.2 2.5l-2.2 9.3l-2.3 0.9l-2.2-2.9l-2.3 12l-2.2 3.9l-2.2 6.9l-2.3-7.2l-2.2-8.9l-2.3 3.9l-2.2 5.9l-2.2 3.7l-2.3 8.2l-2.2-0.4l-2.3-4.7l-2.2-3.2l-2.2-8.5l-2.3-13l-2.2 1.3l-2.3 2.6l-2.2 3.6l-2.2 2.7l-2.3 3.3l-2.2-1.3l-2.3-6.3l-2.2-10.3l-2.2 2.1l-2.3 10.6l-2.2 4.8l-2.3 4.3l-2.2 3.4l-2.3 1.7l-2.2-0.5l-2.2 3.5l-2.3-1l-2.2-3.4l-2.3-3.6l-2.2 0.7l-2.2 0.7l-2.3 0.5l-2.2-1l-2.3-2.7l-2.2-4.6l-2.2-2.4l-2.3 1.9l-2.2 8.1l-2.3 4l-2.2 3.2l-2.2-5.3l-2.3-5.4l-2.2-6.6l-2.3 9.4l-2.2 6.3l-2.2 4.7l-2.3-1.6l-2.2-0.1l-2.3-5.6l-2.2-1.8l-2.2 8l-2.3 3.2l-2.2-0.3l-2.3-0.1l-2.2-3.2l-2.2-11.6l-2.3-8.6l-2.2-2l-2.3 2l-2.2 6l-2.3 18.4l-2.2 4.4l-2.2 4.1l-2.3 3.7l-2.2 0.5l-2.3 0.1l-2.2-0.8l-2.2-0.3l-2.3-1.8l-2.2-1.8l-2.3 0.3l-2.2-4.4l-2.2-3.3l-2.3-4l-2.2-1.9l-2.3-3.6l-2.2-4.5l-2.2 7.8l-2.3 1.7l-2.2-6.3l-2.3-1l-2.2-3l-2.2 4.9l-2.3 13.4l-2.2-0.1l-2.3 0.2l-2.2 4l-2.2 4.5l-2.3-1.4l-2.2-0.2l-2.3-5l-2.2-3.2l-2.2-1l-2.3-7l-2.2-6.1l-2.3-4.7l-2.2 2.9l-2.2 1.5l-2.3 2.7l-2.2 2.2l-2.3 4.3l-2.2-0.9l-2.3-12.2l-2.2 0.9l-2.2 6.6l-2.3 0.3l-2.2 2.9l-2.3 0.3l-2.2-1.5l-2.2-2.9l-2.3-3.3l-2.2-0.8l-2.3-0.5l-2.2 5.9l-2.2 2.9l-2.3 2.7l-2.2 0l-2.3-0.7l-2.2-0.9l-2.2-0.5l-2.3-5.2l-2.2-30.8l-2.3 1.1l-2.2 5.4l-2.2 3.4l-2.3 3.8l-2.2 4.1l-2.3 1.4l-2.2 0.7l-2.2 0.3l-2.3-0.4l-2.2 0.2l-2.3 0.1l-2.2 0.6l-2.2 1.5l-2.3 0.1l-2.2-1.4l-2.3-2.4l-2.2-1.2l-2.2-0.5l-2.3-4l-2.2-7.5l-2.3-14.3l-2.2 1.3l-2.3 0.6l-2.2-4.5l-2.2-7.9l-2.3 9.1l-2.2 7.9l-2.3 19.2l-2.2 12.8l-2.2-13.5l-2.3-8.5l-2.2-10.5l-2.3-11.2l-2.2-30.6l-2.2 2.4l-2.3 0.2l-2.2-1.2l-2.3-4.9l-2.2 1l-2.2 2.2l-2.3 0l-2.2-2.7l-2.3-3.9l-2.2-4.2l-2.2 1.3l-2.3 1l-2.2 4.4l-2.3-5.2l-2.2 9.2l-2.2 8.8l-2.3 8.7l-2.2 7.3l-2.3 10.3l-2.2 7.9l-2.2-13.6l-2.3-11.7l-2.2-2.5l-2.3-2.6l-2.2-8.1l-2.3-8.2l-2.2-7.6l-2.2 0.6l-2.3-2l-2.2 2.7l-2.3-2.9l-2.2 4.2l-2.2 15.1l-2.3 11.9l-2.2 6.5l-2.3 7.2l-2.2-2.9l-2.2 0.3l-2.3-6.9l-2.2-12.8l-2.3 0.7l-2.2-4.6l-2.2-4.9l-2.3-10.2l-2.2 13.1l-2.3 3.5l-2.2-4.2l-2.2-9.5l-2.3 0.7l-2.2 2.3l-2.3-7.3l-2.2-7.5l-2.2-2.4l-2.3 5.9l-2.2-7.1l-2.3-25.2l-2.2-3.4l-2.2 0.6l-2.3-5.9l-2.2 5.8l-2.3 8.7l-2.2 3.9l-2.2 3.2l-2.3 7.5l-2.2 2l-2.3 6.7l-2.2-2.8l-2.3-3.9l-2.2-4.9l-2.2 0.5l-2.3-0.9l-2.2-1.3l-2.3 0.8l-2.2 2.4l-2.2 1.4l-2.3-7l-2.2-4.4l-2.3-1.1l-2.2 5.4l-2.2 2.8l-2.3-8.9l-2.2-0.8l-2.3-2.8l-2.2 1.1l-2.2-1.3l-2.3 1.7l-2.2-4.2l-2.3-7.8l-2.2 1.4l-2.2-6.7l-2.3-0.4l-2.2 3.2l-2.3 6.7l-2.2-7l-2.2 2l-2.3 8.2l-2.2 2.8l-2.3 6.8l-2.2 5.5l-2.2 13.4l-2.3 1.3l-2.2-5.8l-2.3-0.2l-2.2-1.9l-2.3-4.9l-2.2-0.8l-2.2-0.5l-2.3-1.2l-2.2 5.2l-2.3 6.1l-2.2 5.7l-2.2-8.4l-2.3-4.9l-2.2 1.3l-2.3-1.4l-2.2-1.9l-2.2-5.3l-2.3-9.1l-2.2 5.2l-2.3 1.7l-2.2-4.4l-2.2 4.5l-2.3 1.5l-2.2-3.4l-2.3 3.5l-2.2 3l-2.2-5.8l-2.3-0.6l-2.2 4l-2.3 0.6l-2.2 1l-2.2 4.8l-2.3 2.3l-2.2 1.6l-2.3-0.1l-2.2 4.6l-2.2-4.7l-2.3 6.8l-2.2 5.8l-2.3-6.5l-2.2-2l-2.2-1.1l-2.3-4.8l-2.2 3l-2.3-4.2l-2.2-3.3l-2.3 7.6l-2.2 7.7l-2.2 9.3l-2.3 6.1l-2.2-3.2l-2.3-1.7l-2.2 5.6l-2.2-2.5l-2.3-1.3l-2.2 5.7l-2.3-1l-2.2-2.3l-2.2-10.1l-2.3 9.7l-2.2 11.2l-2.3 9.6l-2.2-3.5l-2.2 8.3l-2.3-2.1l-2.2 4.2l-2.3-0.7l-2.2-3.9l-2.2 0l-2.3-3.5l-2.2 11.4l-2.3 5.3l-2.2 3.3l-2.2-2.6l-2.3-0.9l-2.2-7.3l-2.3-5.1l-2.2-6.5l-2.2 2.5l-2.3 3.1l-2.2-2.6l-2.3-1.4l-2.2-7.7l-2.2 4.6l-2.3 4.8l-2.2-8.8l-2.3 7.3l-2.2 11.1l-2.3-3.9l-2.2 11.7l-2.2 3.9l-2.3 1.7l-2.2 4.3l-2.3 2.4l-2.2 5.1l-2.2 7.2l-2.3-0.6l-2.2-3.4l-2.3-8.3l-2.2-2.2l-2.2-6.1l-2.3-8.7l-2.2 1.3l-2.3 4.9l-2.2 0.7l-2.2 9.1l-2.3 5.7l-2.2 6l-2.3-7.7l-2.2-1.7l-2.2-0.4l-2.3 3.4l-2.2-7.7l-2.3 7.5l-2.2 10.5l-2.2-5.8l-2.3-9.7l-2.2 2.4l-2.3 7.4l-2.2 6.2l-2.2 9.9l-2.3-2.9l-2.2-4.6l-2.3-0.7l-2.2-2.2l-2.3 2l-2.2 1.4l-2.2 0.5l-2.3 4.6l-2.2-7.1l-2.3-0.4l-2.2-2.6l-2.2 1.2l-2.3 3.6l-2.2 4.1l-2.3-2.8l-2.2-3.9l-2.2-0.2l-2.3 0.2l-2.2 4l-2.3 7.9l-2.2 0.1l-2.2 3.2l-2.3 1.5l-2.2 3.4l-2.3-4l-2.2-3.6l-2.2 4.1l-2.3 2.3l-2.2 2l-2.3 2l-2.2-0.8l-2.2-4.1l-2.3 0.3l-2.2-0.1l-2.3 0.2l-2.2-2.9l-2.2 7.7l-2.3 10.5l-2.2 0l-2.3 1.2l-2.2 1.1l-2.2 0.7l-2.3 0.2l-2.2 0.2l-2.3 0.1l-2.2 0.2l-2.3 0l-2.2 0l-2.2 0l-2.3-0.1l-2.2 0l-2.3 0.2l-2.2 0.4l-2.2 0.3l-2.3 1.2l-2.2 0.2l-2.3-3.1l-2.2-4.6l-2.2-5l-2.3-4.9l-2.2-4.8l-2.3-3.9l-2.2-1.2l-2.2 11l-2.3-2.5l-2.2-1.7l-2.3-2.5l-2.2-2.5l-2.2-2.8l-2.3-4.1l-2.2-6.1l-2.3 1.9l-2.2 12.4l-2.2 14.8l-2.3-4.4l-2.2-1.6l-2.3-8.8l-2.2-16.8z" fill="#56a4c8" stroke="none"/>
<path d="M209.4 653.6l1.1-1.5l1.1 18.3l1.2-5.7l1.1 14.5l1.1-1.6l1.1 3.2l1.1-0.7l1.2 5.1l1.1-4l1.1-10.8l1.1-4.2l1.1-8.2l1.2-0.3l1.1-1.6l1.1-0.3l1.1 6.4l1.1-1l1.2 5.1l1.1-0.6l1.1 3.4l1.1-0.3l1.1 2.8l1.2-0.3l1.1 2.8l1.1-0.3l1.1 2l1.1-0.3l1.2 2.8l1.1-1.6l1.1-9.4l1.1-0.8l1.1 2l1.2-0.4l1.1 4.3l1.1-0.5l1.1 5.3l1.1-0.6l1.2 5.5l1.1-0.8l1.1 5.8l1.1-0.7l1.1 5.3l1.2-0.7l1.1 3.8l1.1-0.4l1.1 0.2l1.1-0.3l1.2-0.9l1.1-0.3l1.1 0l1.1-0.3l1.1-0.1l1.2-0.3l1.1 0.1l1.1-0.3l1.1 0.3l1.1-0.3l1.2 0.4l1.1-0.3l1.1 0.3l1.1-0.3l1.1 0.3l1.2-0.3l1.1 0.3l1.1-0.3l1.1 0.1l1.1-0.3l1.2 0.2l1.1-0.4l1.1 0.2l1.1-0.3l1.2 0.1l1.1-0.3l1.1-0.4l1.1-0.3l1.1-0.8l1.2-0.3l1.1-0.9l1.1-0.3l1.1 0.3l1.1-2.6l1.2-7.9l1.1-12.3l1.1 4.6l1.1-9.2l1.1 12.1l1.2-13.4l1.1 13.2l1.1-13.9l1.1 14l1.1-14.9l1.2 14.6l1.1-14l1.1 18.1l1.1-18.5l1.1 19.3l1.2-14.8l1.1 12.8l1.1-13.1l1.1 11.1l1.1-12.8l1.2 10.5l1.1-14.2l1.1 10.1l1.1-12.8l1.1 16.4l1.2-19.7l1.1 23.7l1.1-14.4l1.1 11l1.1-18.3l1.2 16.8l1.1-23.1l1.1 19.9l1.1-27l1.1 26.9l1.2-26.7l1.1 18.8l1.1-14.6l1.1 10.6l1.1-11.7l1.2 11.5l1.1-10.4l1.1 10.6l1.1-11.8l1.1 15.7l1.2-13.6l1.1 16.4l1.1-13.8l1.1 9.7l1.1-25l1.2 21.4l1.1-20.5l1.1 19.3l1.1-17.9l1.1 20.5l1.2-18.9l1.1 19.3l1.1-13.5l1.1 20.6l1.1-12.9l1.2 8.3l1.1-9.9l1.1 9.4l1.1-11.7l1.1 10.3l1.2-16.8l1.1 14.8l1.1-16.8l1.1 19l1.2-22.5l1.1 23.2l1.1-11.8l1.1 16.4l1.1-17.4l1.2 20.3l1.1-26l1.1 16.1l1.1-47l1.1 40.8l1.2-39.7l1.1 32.3l1.1-34.8l1.1 32.4l1.1-28l1.2 37.7l1.1-34.3l1.1 40.1l1.1-20.3l1.1 9.8l1.2-18.1l1.1 10.6l1.1-25.6l1.1 33.3l1.1-50.9l1.2 47.5l1.1-45.7l1.1 46.1l1.1-29.1l1.1 30.8l1.2-22.2l1.1 29.9l1.1-36l1.1 30l1.1-43.4l1.2 37.7l1.1-48.9l1.1 39.8l1.1-37.4l1.1 36.7l1.2-33.1l1.1 28.2l1.1-41.8l1.1 40.5l1.1-42.4l1.2 51.1l1.1-41.3l1.1 47.4l1.1-31.4l1.1 33.6l1.2-25.1l1.1 33.4l1.1-17.1l1.1 20.5l1.1-15.3l1.2 15.9l1.1-24.7l1.1 17.5l1.1-39.2l1.1 34.1l1.2-39.3l1.1 36.9l1.1-52.9l1.1 48.6l1.1-46.7l1.2 45l1.1-45.1l1.1 41.2l1.1-53.9l1.1 42.2l1.2-39.8l1.1 43.7l1.1-46l1.1 34.9l1.1-39.6l1.2 32.3l1.1-47.9l1.1 56.7l1.1-47.5l1.2 42.7l1.1-47.1l1.1 42.5l1.1-34.8l1.1 42.5l1.2-31.4l1.1 32.8l1.1-34.3l1.1 36.9l1.1-46.3l1.2 43.2l1.1-47.5l1.1 45l1.1-44.8l1.1 51.3l1.2-37.8l1.1 42.9l1.1-39.1l1.1 46.4l1.1-34.7l1.2 35.6l1.1-28.4l1.1 31l1.1-24.9l1.1 21.6l1.2-35.2l1.1 29.9l1.1-42.2l1.1 30.8l1.1-30.7l1.2 34.2l1.1-31.9l1.1 31.9l1.1-41l1.1 44.9l1.2-47.5l1.1 48.2l1.1-28.4l1.1 24.2l1.1-20.3l1.2 22.4l1.1-15.3l1.1 7l1.1-18.8l1.1 22.3l1.2-52.8l1.1 43.2l1.1-38.4l1.1 27.2l1.1-43.9l1.2 34.2l1.1-27.4l1.1 37.5l1.1-35l1.1 37.3l1.2-31.1l1.1 32.1l1.1-37.3l1.1 31.6l1.1-34.1l1.2 35.4l1.1-38.8l1.1 41.3l1.1-33.9l1.1 28.3l1.2-22.9l1.1 24.6l1.1-37.5l1.1 40.7l1.1-34.2l1.2 28.1l1.1-37.7l1.1 28.4l1.1-43.3l1.1 35.6l1.2-47.7l1.1 40.1l1.1-27.5l1.1 30.8l1.2-40.8l1.1 45l1.1-51.4l1.1 48.4l1.1-38.4l1.2 43.2l1.1-24.4l1.1 25.5l1.1-28.7l1.1 30.7l1.2-27l1.1 33.5l1.1-44l1.1 38.2l1.1-31.7l1.2 24.9l1.1-26.9l1.1 31.6l1.1-35.4l1.1 30.8l1.2-30.2l1.1 30.3l1.1-38l1.1 36.4l1.1-35.8l1.2 33.5l1.1-26.6l1.1 21.8l1.1-30.5l1.1 29.5l1.2-33.9l1.1 33.3l1.1-29.7l1.1 25.7l1.1-18.8l1.2 19.4l1.1-20l1.1 25.8l1.1-35.7l1.1 32.7l1.2-45.1l1.1 41.6l1.1-47.8l1.1 51.2l1.1-39.2l1.2 37.7l1.1-37.3l1.1 32.8l1.1-28.3l1.1 32.7l1.2-33.9l1.1 32.2l1.1-38.7l1.1 33.5l1.1-41.2l1.2 50.3l1.1-49.3l1.1 54.6l1.1-45.8l1.1 47.7l1.2-31.5l1.1 32.9l1.1-33.3l1.1 32l1.1-34.7l1.2 39.6l1.1-31.9l1.1 40.3l1.1-21.6l1.1 15.9l1.2-19.2l1.1 13.1l1.1-21.9l1.1 16.7l1.1-18.5l1.2 19.7l1.1-15.7l1.1 16.2l1.1-17l1.1 17.8l1.2-14.6l1.1 19.5l1.1-20.1l1.1 22l1.2-27.8l1.1 28l1.1-28.5l1.1 34.3l1.1-43.9l1.2 42.6l1.1-40.1l1.1 26.7l1.1-29l1.1 23.5l1.2-32.8l1.1 26l1.1-35.1l1.1 32.3l1.1-40l1.2 31.8l1.1-32.3l1.1 30.3l1.1-39.4l1.1 46.4l1.2-56.6l1.1 49.9l1.1-37.4l1.1 34.2l1.1-31.2l1.2 31.6l1.1-30.3l1.1 37l1.1-24.7l1.1 23.3l1.2-19.8l1.1 27.6l1.1-21.8l1.1 26l1.1-22.6l1.2 20.9l1.1-19.2l1.1 20.5l1.1-22.5l1.1 21.4l1.2-23.1l1.1 25.9l1.1-26.7l1.1 27.5l1.1-29.7l1.2 38.6l1.1-40.9l1.1 38.1l1.1-44.6l1.1 39.2l1.2-32.9l1.1 34l1.1-35.6l1.1 40l1.1-44.2l1.2 51.2l1.1-45.4l1.1 44l1.1-33.8l1.1 31.4l1.2-20.6l1.1 19.8l1.1-29.2l1.1 30.5l1.1-31.5l1.2 32.4l1.1-34.5l1.1 34l1.1-37.5l1.1 42.4l1.2-37.8l1.1 41.7l1.1-32.9l1.1 35.7l1.1-33.9l1.2 27.2l1.1-41.1l1.1 39.1l1.1-39.9l1.2 32.4l1.1-35.7l1.1 32.5l1.1-44.1l1.1 40.2l1.2-40.7l1.1 32l1.1-31.2l1.1 25.4l1.1-34.3l1.2 40.2l1.1-34.6l1.1 34l1.1-35.5l1.1 38.9l1.2-41.7l1.1 66.9l1.1-45.5l1.1 52.6l1.1-32l1.2 26.1l1.1-44.7l1.1 47.1l1.1-34.9l1.1 42.4l1.2-21.1l1.1 28.4l1.1-24.2l1.1 21.9l1.1-20.6l1.2 19.9l1.1-19l1.1 28.5l1.1-24l1.1 28.2l1.2-32l1.1 28.5l1.1-39.4l1.1 26.3l1.1-28l1.2 38.2l1.1-27.1l1.1 32l1.1-28.8l1.1 33.4l1.2-23.7l1.1 23l1.1-19.2l1.1 32l1.1-21.8l1.2 28.7l1.1-25.4l1.1 25.1l1.1-23.3l1.1 26.2l1.2-35.1l1.1 27.9l1.1-27.6l1.1 21.1l1.1-27.7l1.2 15.8l1.1-23.6l1.1 8.5l1.1-24.3l1.1 20.1l1.2-22.1l1.1 25l1.1-21l1.1 18.3l1.1-16.7l1.2 18.7l1.1-16.8l1.1 16.2l1.1-12.6l1.1 20.2l1.2-17.5l1.1 25.7l1.1-11.3l1.1 19.4l1.2-12.3l1.1 14.9l1.1-10.8l1.1 13.3l1.1-9.1l1.2 20.8l1.1-16.6l1.1 30.2l1.1-24.8l1.1 16.9l1.2-16.8l1.1 6.5l1.1-17.1l1.1 9.8l1.1-13.9l1.2 5.2l1.1-12.8l1.1 4l1.1-15.5l1.1 6.3l1.2-17.2l1.1 22.4l1.1-25.7l1.1 21.3l1.1-17l1.2 16l1.1-15.1l1.1 13.8l1.1-7.8l1.1 12l1.2-12.7l1.1 16.6l1.1-13.6l1.1 16.3l1.1-11.6l1.2 11.6l1.1-8.3l1.1 6.1l1.1-9.1l1.1 8.1l1.2-9.7l1.1 14.6l1.1-10.4l1.1 11.6l1.1-7.3l1.2 7.1l1.1-6.4l1.1 4l1.1-3.9l1.1 34.5l1.2-18.9l1.1 30.1l1.1-22.3l1.1 32.8l1.1-21.7l1.2 30.2l1.1-20.7l1.1 34.2l1.1-26.5l1.1 13.7l1.2-13.7l1.1-5.5l1.1-8.5l1.1 0.6l1.1-6.3l1.2-2.8l1.1-2.3l1.1 10.2l1.1-8.7l1.1 13.2l1.2-9.5l1.1 8.9l1.1-9.7l1.1 8.4l1.1-6.9l1.2 21.2l1.1-14.9l1.1 22.4l1.1-13.5l1.2 17.5l1.1-11.9l1.1 12.4l1.1-10.9l1.1 12.1l1.2-12.6l1.1 15l1.1-11.9l1.1 13.3l1.1-11.4l1.2 11.3l1.1-13l1.1 11.5l1.1-13l1.1 12.4l1.2-8.4l1.1 8.3l1.1-10.5l1.1 10.3l1.1-8.5l1.2 8.9l1.1-9.7l1.1 9.4l1.1-9.1l1.1 8.4l1.2-7.3l1.1 5.9l1.1-8.9l1.1 4.8l1.1-7.4l1.2 3.6l1.1-8.6l1.1 5.2l1.1-5.8l1.1 0.4l1.2-4.3l1.1 3.2l1.1-5.7l1.1 36.5l1.1-17.8l1.2 23l1.1-16.7l1.1 17.2l1.1-13.8l1.1 14.7l1.2-8.7l1.1 9.4l1.1-11.8l1.1 11.8l1.1-13l1.2 10.3l1.1-9.6l1.1 6.7l1.1-12.2l1.1 6.3l1.2-6.8l1.1 7.3l1.1-8.1l1.1 8.9l1.1-7.2l1.2 10.5l1.1-9.7l1.1 12.6l1.1-6.6l1.1 8.1l1.2-8.2l1.1 7.9l1.1-9.1l1.1 6.2l1.1-6l1.2 5.7l1.1-12.1l1.1 5.5l1.1-9.1l1.1 8.2l1.2-9.8l1.1 22l1.1-14l1.1 14.9l1.2-10.1l1.1 5.8l1.1-5.9l1.1 3.7l1.1-6.6l1.2 3.9l1.1-5.9l1.1 4.4l1.1-7.4l1.1 4.5l1.2-6.9l1.1 11.6l1.1-7.1l1.1 13.2l1.1-10l1.2 17l1.1-10.3l1.1 11.3l1.1-10.1l1.1 13.3l1.2-8.4l1.1 13.4l1.1-7.9l1.1 8.1l1.1-7.7l1.2 9.1l1.1-8.3l1.1 3.8l1.1-4.3l1.1 0.3l1.2-2.9l1.1 2.7l1.1-3l1.1 3.1l1.1-11.3l1.2-2.1l1.1-11l1.1 6.1l1.1-13.1l1.1 16.1l1.2-10.7l1.1 11.7l1.1-9.5l1.1 15.8l1.1-9.9l1.2 8.2l1.1-8.4l1.1 0.6l1.1-5.1l1.1 9.6l1.2-9.8l1.1 13.4l1.1-10l1.1 11.9l1.1-10.3l1.2 14.3l1.1-9.5l1.1 12.8l1.1-8.5l1.1 12.9l1.2-9l1.1 8.7l1.1-8.1l1.1 9.9l1.1-7.8l1.2 9.6l1.1-6.9l1.1 7.2l1.1-5.2l1.1 6l1.2-3.5l1.1 3.4l1.1-3.6l1.1 3.1l1.1-3.3l1.2-0.4l1.1-3.6l1.1-0.5l1.1-6.1l1.1 1.7l1.2-6.3l1.1-12.1l1.1-4.8l1.1-1.2l1.2-11.1l1.1 9.1l1.1-8.3l1.1 10.3l1.1-8.2l1.2 16.8l1.1-10.4l1.1 22l1.1-13.5l1.1 16.7l1.2-12.1l1.1 12.2l1.1-10.1l1.1 10.4l1.1-10.5l1.2 7.3l1.1-10.3l1.1 2.3l1.1-8l1.1 9.8l1.2-8.4l1.1 14l1.1-11.3l1.1 11.4l1.1-10.8l1.2 12.4l1.1-9.1l1.1 4.4l1.1-8.7l1.1 2.4l1.2-11.5l1.1 2.1l1.1-12.7l1.1 19.3l1.1-7.9l1.2 13.3l1.1-8.3l1.1 13.6l1.1-9l1.1 5.8l1.2-10.6l1.1 6.6l1.1-10.5l1.1 2.4l1.1-9.4l1.2 7.5l1.1-13.6l1.1 16l1.1-9.5l1.1 14.1l1.2-9l1.1 11.7l1.1-10.4l1.1 11.4l1.1-7.2l1.2 6.7l1.1-7.4l1.1 6.7l1.1-10.3l1.1 9.6l1.2-13.8l1.1 17.4l1.1-14.4l1.1 17.8l1.1-12.1l1.2 13.1l1.1-12.6l1.1 9.1l1.1-12.8l1.1 13.3l1.2-13.1l1.1 11.4l1.1-12.2l1.1 8.8l1.1-8.1l1.2 3.8l1.1-12l1.1 7.2l1.1-13.2l1.2 2.6l1.1-16.8l1.1 14.7l1.1-9.3l1.1 19.6l1.2-8.5l1.1 14.8l1.1-14.3l1.1 15.6l1.1-20.7l1.2 17.4l1.1-19.5l1.1 16.8l1.1-16.8l1.1 13.2l1.2-19.2l1.1 16.6l1.1-14.7l1.1 13.4l1.1-3.8l1.2 16.8l1.1-12l1.1 20.5l1.1-11.8l1.1 15l1.2-13.1l1.1 17.8l1.1-10.5l1.1 10.9l1.1-14l1.2 5.8l1.1-16.2l1.1 12.5l1.1-15.9l1.1 10l1.2-15.9l1.1 12l1.1-7.2l1.1 16.1l1.1-10.6l1.2 17.8l1.1-9.5l1.1 2.6l1.1-13.3l1.1 9.4l1.2-16.3l1.1 4.3l1.1-22.2l1.1 25.1l1.1-18.6l1.2 17.7l1.1-14.6l1.1 5.3l1.1-25l1.1 22.5l1.2-34.8l1.1 27.2l1.1-26.4" fill="none" stroke="#56a4c8" stroke-width="1.5" stroke-linejoin="round"/>
<path d="M210.5 651.2l2.3 8.1l2.2 6.1l2.2 0.5l2.3 2.1l2.2-7.7l2.3-5.3l2.2-0.5l2.2 3.5l2.3 2.5l2.2 2.4l2.3 1.8l2.2 1.5l2.2 0.9l2.3 2.1l2.2-5.4l2.3 1.3l2.2 2.6l2.2 3.3l2.3 3.3l2.2 3.5l2.3 2.9l2.2 2l2.2 0.4l2.3-0.1l2.2 0.1l2.3 0l2.2 0.1l2.2 0.1l2.3 0.1l2.2 0.1l2.3 0.1l2.2 0.1l2.2 0l2.3-0.1l2.2 0l2.3 0l2.2-1l2.3-1.7l2.2-2.1l2.2-1.4l2.3-10.3l2.2-3.3l2.3 0.2l2.2 0.4l2.2 0.5l2.3-1l2.2 3.3l2.3 0.5l2.2 0.8l2.2-2.7l2.3-1.4l2.2-3.4l2.3-0.9l2.2 4l2.2-3.9l2.3-4.6l2.2-2.9l2.3-1.9l2.2 1.5l2.2-0.6l2.3-0.3l2.2-1.3l2.3 0.9l2.2 0.9l2.2-9l2.3 0.2l2.2 1.4l2.3-0.4l2.2 3.3l2.2 4.5l2.3-1.7l2.2 0l2.3-2.5l2.2-2.6l2.3-2.9l2.2 5.5l2.2 0.7l2.3-2.7l2.2-13.7l2.3-2.4l2.2-1.9l2.2 0.9l2.3-2.6l2.2 8.2l2.3-4l2.2-8.3l2.2-6l2.3-0.8l2.2 4.6l2.3 7.4l2.2 1l2.2-10.8l2.3-5.6l2.2 0l2.3 2.7l2.2-7.5l2.2 0l2.3 4.3l2.2 8.5l2.3 3.1l2.2 9.4l2.2 3.8l2.3-2.4l2.2-12l2.3-4.7l2.2-6.7l2.2 1.8l2.3-3.5l2.2-6.8l2.3-4.2l2.2-3l2.2-0.4l2.3-8.5l2.2 5.7l2.3-0.6l2.2-2.1l2.3 5.8l2.2-3.2l2.2-0.9l2.3-4.2l2.2 4l2.3 8l2.2 2.6l2.2 3l2.3 5.3l2.2 0.8l2.3-7.2l2.2-4l2.2-1.7l2.3 0.2l2.2-3.3l2.3-1.5l2.2 7l2.2 1.8l2.3 1.6l2.2-9.4l2.3-12.5l2.2 2.3l2.2-10.6l2.3-1.2l2.2 5l2.3 0.5l2.2-1.9l2.2-1.8l2.3 0.5l2.2-0.2l2.3 0.4l2.2-5.6l2.2 0.4l2.3-6.4l2.2-3.5l2.3-9.9l2.2 4.6l2.3-2.6l2.2-0.5l2.2-0.7l2.3 7.8l2.2-3.7l2.3 0.2l2.2 0.3l2.2 1.5l2.3-1.6l2.2 0.3l2.3-3.2l2.2-3.4l2.2-1.6l2.3 2.3l2.2-4.3l2.3-0.7l2.2 1.2l2.2 0.7l2.3-0.9l2.2-2.8l2.3-4.1l2.2-4.9l2.2 4.5l2.3-0.8l2.2 1.2l2.3 0.7l2.2-4.5l2.2-1.1l2.3-0.1l2.2 5.3l2.3 7.2l2.2 2.8l2.2 0.6l2.3 0.7l2.2 11.7l2.3-2.9l2.2-3.6l2.2-0.4l2.3 2.9l2.2-0.7l2.3 0.4l2.2-0.5l2.3-2.6l2.2-1.9l2.2 0.6l2.3-2.7l2.2-3.5l2.3-5.7l2.2-5.6l2.2-4.2l2.3-1.9l2.2-4.3l2.3 3.3l2.2-4.4l2.2 1.9l2.3 0.4l2.2 3.9l2.3 1.9l2.2 1.4l2.2 2.6l2.3 3.5l2.2 0.5l2.3-1.7l2.2-0.1l2.2-1.2l2.3-2.8l2.2-0.3l2.3 1.8l2.2 1.3l2.2-1.2l2.3 4.3l2.2 2.1l2.3 6l2.2-4.6l2.2 5l2.3-2.3l2.2-1.3l2.3 3.1l2.2 5.4l2.2-0.2l2.3-11.7l2.2-0.1l2.3-2.3l2.2-2.1l2.3 0.7l2.2-4.7l2.2-4.5l2.3 3.8l2.2-1.6l2.3 2l2.2 10.4l2.2 12l2.3-11.3l2.2 7.4l2.3 11.9l2.2 5.4l2.2-0.6l2.3-0.4l2.2 5.3l2.3-1.4l2.2-3.3l2.2-2.4l2.3 5.9l2.2 4.2l2.3 8l2.2 2.1l2.2 6.4l2.3 2.3l2.2-0.1l2.3-2.8l2.2-2.8l2.2-3.6l2.3-5.9l2.2-12.2l2.3 1.8l2.2 2.5l2.2-0.2l2.3 1.6l2.2 1.5l2.3 3.2l2.2 8.7l2.3 5l2.2 4.3l2.2 1.8l2.3 3.6l2.2 6.3l2.3-2.4l2.2-6.9l2.2-4.3l2.3-5.1l2.2-7.2l2.3-7.1l2.2-0.7l2.2-0.6l2.3 0.7l2.2 2.4l2.3 1.2l2.2 1.5l2.2 3.3l2.3 1.5l2.2-1.7l2.3-0.3l2.2 2.8l2.2 2.7l2.3 1.6l2.2 1.7l2.3 13.5l2.2 6.9l2.2 8.4l2.3 5.8l2.2 7.8l2.3-3.7l2.2-8.9l2.2-2.6l2.3-3.9l2.2 3l2.3 3.1l2.2 0.4l2.2 1.5l2.3 6.7l2.2 4.8l2.3 4.6l2.2 1l2.3-0.1l2.2 1.3l2.2 0.9l2.3 0.9l2.2-0.9l2.3 2.4l2.2 0.1l2.2-0.1l2.3-0.9l2.2-0.3l2.3 0.1l2.2-1.4l2.2-1.9l2.3-2.6l2.2-1.1l2.3-0.6l2.2 0.6l2.2 13.9l2.3 5.6l2.2 2.8l2.3 2.6l2.2-0.6l2.2-0.3l2.3-0.6l2.2-2.1l2.3-1l2.2-0.2l2.2 1.1l2.3 1.6l2.2 2.4l2.3-0.6l2.2-0.2l2.2-1.1l2.3-1.7l2.2-2.3l2.3-0.9l2.2 5.5l2.3 1.5l2.2-1.7l2.2-0.5l2.3-0.6l2.2-1.1l2.3-0.3l2.2 2.6l2.2 3.9l2.3 4.8l2.2 2.1l2.3 2.3l2.2 4.2l2.2 0.2l2.3 1.2l2.2-2.2l2.3-3l2.2-1.8l2.2-3.7l2.3-9.6l2.2-2.2l2.3 2.2l2.2-0.3l2.2 3.7l2.3 0.1l2.2-3.3l2.3 2.3l2.2 1.9l2.2 2.5l2.3 3.4l2.2 3.5l2.3 3.4l2.2 0l2.2 1.6l2.3 1.7l2.2 1.2l2.3 1l2.2 0l2.2-1.2l2.3-3.2l2.2-4.8l2.3-4.1l2.2-11l2.3-6.1l2.2-1.7l2.2 0.6l2.3 4.4l2.2 6.4l2.3 3.3l2.2 1.2l2.2 0.3l2.3-1l2.2-2.5l2.3-0.1l2.2 2.3l2.2-1.4l2.3 1.6l2.2-3.4l2.3-5.6l2.2-6.3l2.2 5.1l2.3 2.1l2.2 3.2l2.3-3.1l2.2-3l2.2-4.4l2.3-2.3l2.2 3.4l2.3 3.4l2.2-0.1l2.2 1.6l2.3 0.1l2.2-1.3l2.3-1.5l2.2 1.4l2.2 1.3l2.3 0.4l2.2-2.4l2.3 1l2.2-2.2l2.2-0.9l2.3-3.8l2.2-4.2l2.3-7.4l2.2 1.3l2.3 5l2.2 0.3l2.2-0.5l2.3-1.1l2.2-0.7l2.3-1l2.2-0.7l2.2 5.8l2.3 4.5l2.2 4.5l2.3 3.1l2.2 3.3l2.2-0.7l2.3-6.5l2.2-0.4l2.3-3l2.2 0.7l2.2 2.6l2.3 2.9l2.2-6.7l2.3-2.4l2.2-11.6l2.2 2.5l2.3-0.5l2.2-10.5l2.3-4l2.2-2.6l-1.1 9.7l-2.3 3.2l-2.2 3.2l-2.2 5.4l-2.3-0.8l-2.2 2l-2.3 7.3l-2.2 2.2l-2.2 5.5l-2.3-3.7l-2.2-3l-2.3 1.9l-2.2 3.1l-2.2 1.4l-2.3 4.8l-2.2 0.3l-2.3-2.9l-2.2-2.4l-2.2-6.2l-2.3-5.9l-2.2-0.8l-2.3-0.6l-2.2 0.7l-2.2 1l-2.3 0.8l-2.2 0l-2.3-2.1l-2.2-5.2l-2.2 0.2l-2.3 7.4l-2.2 3.1l-2.3 3.8l-2.2 1.5l-2.3 1.8l-2.2-0.7l-2.2 2.7l-2.3-0.6l-2.2-0.8l-2.3-2.1l-2.2 0.8l-2.2 0.8l-2.3 0l-2.2-1.3l-2.3 0.1l-2.2-3.6l-2.2-2.5l-2.3 2.4l-2.2 4.2l-2.3 2.7l-2.2 3l-2.2-3.5l-2.3-2.5l-2.2-3.6l-2.3 6.3l-2.2 5l-2.2 2.7l-2.3-0.5l-2.2 0.9l-2.3-2.4l-2.2-0.7l-2.2 3.2l-2.3 1.5l-2.2-0.4l-2.3-1.1l-2.2-3l-2.2-6.1l-2.3-5.7l-2.2-0.1l-2.3 1.6l-2.2 5.2l-2.3 11.3l-2.2 3.8l-2.2 4.6l-2.3 3.2l-2.2 1.2l-2.3-0.1l-2.2-0.7l-2.2-1.1l-2.3-1.5l-2.2-1.4l-2.3 0l-2.2-3.4l-2.2-3.3l-2.3-3.1l-2.2-2.6l-2.3-2.4l-2.2-2.5l-2.2 3.4l-2.3 0.4l-2.2-2.8l-2.3-0.2l-2.2-2.1l-2.2 2.7l-2.3 8.6l-2.2 2.7l-2.3 1.7l-2.2 3.1l-2.2 2.7l-2.3-1l-2.2-0.3l-2.3-4.2l-2.2-2.1l-2.2-1.9l-2.3-4.9l-2.2-4.4l-2.3-2.6l-2.2 0.3l-2.2 0.9l-2.3 0.6l-2.2 0.7l-2.3 2.3l-2.2-1.1l-2.3-6l-2.2 0.7l-2.2 2.3l-2.3 1.4l-2.2 1.2l-2.3 0.4l-2.2 0.5l-2.2-2.6l-2.3-1.5l-2.2-1l-2.3 0.2l-2.2 1.7l-2.2 2l-2.3 1.1l-2.2 0.4l-2.3 0.4l-2.2-2.4l-2.2-1.7l-2.3-5.3l-2.2-16.5l-2.3-1l-2.2 0.6l-2.2 1.2l-2.3 2.8l-2.2 2.1l-2.3 1.4l-2.2 0.1l-2.2 0l-2.3 0.7l-2.2 0.2l-2.3 0l-2.2-1.4l-2.2 1l-2.3-0.9l-2.2-1.1l-2.3-1.4l-2.2-0.1l-2.2-0.7l-2.3-3.7l-2.2-5.5l-2.3-8l-2.2-1.1l-2.3-0.4l-2.2-3.5l-2.2-3.5l-2.3 4.4l-2.2 3.1l-2.3 10.7l-2.2 5l-2.2-7.4l-2.3-5.9l-2.2-8.8l-2.3-7.9l-2.2-16.4l-2.2-1.5l-2.3-1.4l-2.2-2.1l-2.3-3l-2.2 0.3l-2.2 1.9l-2.3-0.9l-2.2-3.1l-2.3-1.8l-2.2-1.7l-2.2 1.1l-2.3 1.8l-2.2 2.2l-2.3-1l-2.2 2.9l-2.2 6.1l-2.3 5.2l-2.2 5.2l-2.3 7l-2.2 3.9l-2.2-7.1l-2.3-5.8l-2.2-1.8l-2.3-3.4l-2.2-4.8l-2.3-7.2l-2.2-4.4l-2.2-0.7l-2.3-0.5l-2.2 0.7l-2.3-2.5l-2.2 3.3l-2.2 6.7l-2.3 5.4l-2.2 4.4l-2.3 2.9l-2.2 3l-2.2 0.4l-2.3-3.8l-2.2-6.5l-2.3-1.8l-2.2-5.7l-2.2-5.8l-2.3-4.4l-2.2 4.1l-2.3 0.6l-2.2 0.7l-2.2-6.7l-2.3 1.7l-2.2 1.1l-2.3-5.6l-2.2-3.2l-2.2-3.6l-2.3-0.7l-2.2-1.8l-2.3-11.2l-2.2-4l-2.2 0.4l-2.3-5.4l-2.2 6.8l-2.3 4.1l-2.2 1.6l-2.2 2.6l-2.3 2.8l-2.2 3.3l-2.3 1.6l-2.2-1.6l-2.3 0l-2.2-1.5l-2.2-1.9l-2.3-0.2l-2.2-1.7l-2.3-1.1l-2.2-0.4l-2.2-0.6l-2.3-1.7l-2.2-2.7l-2.3-0.8l-2.2 0.5l-2.2 1.1l-2.3-2.5l-2.2 0.6l-2.3-1.4l-2.2 1.1l-2.2-0.3l-2.3-1.1l-2.2-2.5l-2.3-3.2l-2.2-0.6l-2.2-4.6l-2.3 2.7l-2.2 3.9l-2.3-1.6l-2.2 1.1l-2.2 0.1l-2.3 5.8l-2.2-0.1l-2.3 6.2l-2.2 4.4l-2.2 6.1l-2.3 1.5l-2.2-0.7l-2.3 1.1l-2.2-2.1l-2.3-1.4l-2.2 0.2l-2.2 1l-2.3-1.4l-2.2 1.8l-2.3 2.5l-2.2 0.5l-2.2-5.6l-2.3-1.1l-2.2 0.9l-2.3-2.3l-2.2-6.3l-2.2-0.8l-2.3-5.3l-2.2 2.8l-2.3 1.7l-2.2-1.5l-2.2 3.4l-2.3-1.1l-2.2-2.8l-2.3 0.4l-2.2 4.9l-2.2 2.9l-2.3-1.9l-2.2 2.6l-2.3-0.6l-2.2-0.3l-2.2 3.6l-2.3-0.5l-2.2 1.3l-2.3 0.6l-2.2 3.1l-2.2 0.4l-2.3 2.3l-2.2 1.8l-2.3-3.8l-2.2-0.8l-2.2 1.9l-2.3-2.6l-2.2 0.4l-2.3 1.5l-2.2-1.2l-2.3 3.2l-2.2 1.8l-2.2 6.4l-2.3 6.2l-2.2-0.6l-2.3 3.6l-2.2-1l-2.2 1.6l-2.3-0.5l-2.2 1.1l-2.3 5.9l-2.2-2.1l-2.2-6.1l-2.3 6.7l-2.2 6.1l-2.3 7.1l-2.2-1.5l-2.2 4.3l-2.3-0.3l-2.2 5l-2.3 0.2l-2.2-2.5l-2.2-1.9l-2.3 0.1l-2.2 7.1l-2.3 1.5l-2.2 0.8l-2.2-1.1l-2.3 3.8l-2.2-6.6l-2.3-1.7l-2.2-2.7l-2.2 1.4l-2.3-2.5l-2.2-2l-2.3-1.8l-2.2-1.3l-2.2 4.9l-2.3 4.3l-2.2-5.3l-2.3 1.1l-2.2 7.5l-2.3-1.2l-2.2 7.7l-2.2 2.8l-2.3 3.7l-2.2 1.2l-2.3 6.2l-2.2-2.2l-2.2 6.2l-2.3 1.9l-2.2-4.1l-2.3-8.5l-2.2 3.7l-2.2-5.3l-2.3-7.2l-2.2 3.6l-2.3 3.6l-2.2-3.3l-2.2 6.8l-2.3 3.4l-2.2 1.1l-2.3-2.3l-2.2-0.3l-2.2 1.4l-2.3-0.2l-2.2 0.7l-2.3 1.5l-2.2 3.2l-2.2 0.1l-2.3-0.6l-2.2 2.1l-2.3 3l-2.2 3.4l-2.2 5.6l-2.3 0.4l-2.2-1l-2.3-0.4l-2.2-0.4l-2.3 1.4l-2.2 0.4l-2.2 0.4l-2.3 2.2l-2.2-4.1l-2.3 0.4l-2.2-0.5l-2.2 0.6l-2.3 0l-2.2 4.5l-2.3-1.9l-2.2-0.6l-2.2 1l-2.3-0.3l-2.2 2.8l-2.3 4.9l-2.2-1.3l-2.2 5.1l-2.3-0.7l-2.2 2.9l-2.3-2.2l-2.2 0l-2.2 1.5l-2.3 1.4l-2.2 2.7l-2.3 0.7l-2.2-1.4l-2.2-3.2l-2.3 1l-2.2-0.4l-2.3 1.2l-2.2-3l-2.2 3.5l-2.3 8.7l-2.2 1.3l-2.3 2.1l-2.2 1.7l-2.2 1l-2.3 0l-2.2 0l-2.3 0.1l-2.2 0l-2.3-0.1l-2.2-0.1l-2.2-0.1l-2.3-0.1l-2.2-0.1l-2.3-0.1l-2.2 0l-2.2-0.1l-2.3 0.1l-2.2-0.4l-2.3-2l-2.2-2.9l-2.2-3.5l-2.3-3.3l-2.2-3.3l-2.3-2.5l-2.2-1.4l-2.2 5.4l-2.3-2.1l-2.2-0.9l-2.3-1.5l-2.2-1.8l-2.2-2.3l-2.3-2.6l-2.2-3.5l-2.3 0.5l-2.2 5.4l-2.2 7.8l-2.3-2.3l-2.2-0.5l-2.3-6l-2.2-8.2z" fill="#b9e2c9" stroke="none"/>
<path d="M209.4 651.5l1.1-0.3l1.1 8.5l1.2-0.4l1.1 6.4l1.1-0.3l1.1 0.8l1.1-0.3l1.2 2.6l1.1-0.5l1.1-7.3l1.1-0.4l1.1-5l1.2-0.3l1.1-0.2l1.1-0.3l1.1 3.8l1.1-0.3l1.2 2.9l1.1-0.4l1.1 2.7l1.1-0.3l1.1 2.1l1.2-0.3l1.1 1.8l1.1-0.3l1.1 1.2l1.1-0.3l1.2 2.4l1.1-0.3l1.1-5.1l1.1-0.3l1.1 1.7l1.2-0.4l1.1 2.9l1.1-0.3l1.1 3.6l1.1-0.3l1.2 3.6l1.1-0.3l1.1 3.8l1.1-0.3l1.1 3.2l1.2-0.3l1.1 2.3l1.1-0.3l1.1 0.7l1.1-0.3l1.2 0.2l1.1-0.3l1.1 0.4l1.1-0.3l1.1 0.3l1.2-0.3l1.1 0.4l1.1-0.3l1.1 0.4l1.1-0.3l1.2 0.4l1.1-0.3l1.1 0.4l1.1-0.3l1.1 0.4l1.2-0.3l1.1 0.4l1.1-0.3l1.1 0.3l1.1-0.3l1.2 0.2l1.1-0.3l1.1 0.3l1.1-0.3l1.2 0.3l1.1-0.3l1.1-0.7l1.1-0.3l1.1-1.4l1.2-0.3l1.1-1.8l1.1-0.3l1.1-1l1.1-0.4l1.2-8.3l1.1-2l1.1-1.5l1.1-1.8l1.1 4.8l1.2-4.6l1.1 3.4l1.1-3l1.1 3.4l1.1-2.9l1.2 1.9l1.1-2.9l1.1 6.1l1.1-2.8l1.1 4.2l1.2-3.7l1.1 3l1.1-2.2l1.1-0.5l1.1-2.2l1.2 0.8l1.1-2.2l1.1 0.7l1.1-4.1l1.1 4.1l1.2-5l1.1 7.2l1.1-3.2l1.1 0.3l1.1-4.2l1.2 4.9l1.1-9.5l1.1 4.4l1.1-7.3l1.1 8.6l1.2-10.5l1.1 5.6l1.1-4.1l1.1 1.3l1.1-1.9l1.2 2.2l1.1-2.5l1.1 1.5l1.1-2.8l1.1 3.4l1.2-2.5l1.1 4.4l1.1-3.5l1.1-1l1.1-8l1.2 8l1.1-7.8l1.1 7.2l1.1-5.8l1.1 6.3l1.2-6.7l1.1 6.3l1.1-3l1.1 7.1l1.1-2.6l1.2 0.4l1.1-2.1l1.1 1.7l1.1-1.7l1.1 1.3l1.2-3.8l1.1 2.4l1.1-5l1.1 5.4l1.2-8.3l1.1 8.7l1.1-3.2l1.1 4.2l1.1-3.5l1.2 3.1l1.1-5.8l1.1 0.2l1.1-13.9l1.1 10.5l1.2-12.9l1.1 9.9l1.1-11.8l1.1 9.7l1.1-8.8l1.2 9.4l1.1-12l1.1 11.9l1.1-3.7l1.1 0.5l1.2-4.5l1.1 3l1.1-11.3l1.1 10.6l1.1-16.6l1.2 16.8l1.1-17.6l1.1 16.2l1.1-11.6l1.1 11.9l1.2-4.5l1.1 6.8l1.1-5.8l1.1 4.7l1.1-15.5l1.2 12.1l1.1-17.7l1.1 10.9l1.1-10.9l1.1 14.2l1.2-11.5l1.1 7.9l1.1-15.4l1.1 11.8l1.1-11.8l1.2 19l1.1-14.7l1.1 20l1.1-11.5l1.1 7.8l1.2-4.7l1.1 13.2l1.1-3.8l1.1 7.9l1.1-4.1l1.2 2.2l1.1-4.6l1.1-1.6l1.1-10.4l1.1 12.6l1.2-17.3l1.1 11.1l1.1-17.8l1.1 16.6l1.1-14.8l1.2 11.1l1.1-14.6l1.1 11.8l1.1-18.6l1.1 10.9l1.2-15.1l1.1 16.3l1.1-19.3l1.1 11.8l1.1-12.2l1.2 11.1l1.1-19.6l1.1 24.9l1.1-19.2l1.2 14.9l1.1-15.5l1.1 10.6l1.1-12.7l1.1 14l1.2-8.2l1.1 10l1.1-13.2l1.1 15.2l1.1-16.1l1.2 18.6l1.1-22.8l1.1 21.4l1.1-17.4l1.1 20.1l1.2-12.1l1.1 13.8l1.1-11.2l1.1 17.8l1.1-14.8l1.2 11l1.1-5.7l1.1 6.8l1.1-6l1.1 5.2l1.2-12.4l1.1 10.9l1.1-14.9l1.1 7.8l1.1-9.5l1.2 9.4l1.1-9.2l1.1 11.1l1.1-14.4l1.1 16.9l1.2-18.4l1.1 18.2l1.1-11.2l1.1 6.2l1.1-4.4l1.2 4.7l1.1-3.1l1.1-1.2l1.1-8.2l1.1 9.7l1.2-22.2l1.1 15.1l1.1-12.8l1.1 6.7l1.1-17.3l1.2 10.6l1.1-11.8l1.1 17.9l1.1-12.9l1.1 15l1.2-14.5l1.1 8.6l1.1-10.5l1.1 9.4l1.1-11.2l1.2 11.7l1.1-11.2l1.1 9.6l1.1-9.8l1.1 10.8l1.2-10.4l1.1 6.8l1.1-12.4l1.1 13l1.1-12.6l1.2 6.4l1.1-12.8l1.1 6.4l1.1-9.9l1.1 8.1l1.2-18l1.1 14.8l1.1-10.2l1.1 11.4l1.2-14l1.1 12.5l1.1-13l1.1 12.6l1.1-13.3l1.2 15.9l1.1-8.1l1.1 6.2l1.1-9.9l1.1 10.7l1.2-10.5l1.1 14.3l1.1-14l1.1 12.2l1.1-10.7l1.2 8.4l1.1-10l1.1 9.6l1.1-9.3l1.1 6.2l1.2-9.4l1.1 8.8l1.1-12.2l1.1 10.9l1.1-12.5l1.2 13l1.1-10.7l1.1 7.1l1.1-11.4l1.1 11.7l1.2-12.4l1.1 13l1.1-11.8l1.1 9.2l1.1-8.5l1.2 10.4l1.1-11.3l1.1 8.4l1.1-11.2l1.1 6.3l1.2-10.4l1.1 10l1.1-14.9l1.1 17.7l1.1-13.2l1.2 14.3l1.1-15.1l1.1 11.7l1.1-10.5l1.1 12l1.2-11.3l1.1 9.6l1.1-14.1l1.1 11.3l1.1-12.4l1.2 17.7l1.1-17.8l1.1 18.6l1.1-13.3l1.1 19.6l1.2-12.4l1.1 14.7l1.1-11.9l1.1 11l1.1-10.4l1.2 11.5l1.1-10.8l1.1 16.4l1.1-4.7l1.1 4.2l1.2-7.1l1.1 4.6l1.1-8.2l1.1 6.4l1.1-6.8l1.2 8.2l1.1-5.3l1.1 4.3l1.1-5l1.1 4.8l1.2-4.4l1.1 5.8l1.1-6.3l1.1 8.4l1.2-11l1.1 9.9l1.1-11.8l1.1 12.5l1.1-11.9l1.2 10.4l1.1-13.1l1.1 7l1.1-10.5l1.1 6.1l1.2-11.8l1.1 5.6l1.1-11.2l1.1 11.3l1.1-15.5l1.2 9.7l1.1-11.6l1.1 11.5l1.1-15.8l1.1 14.7l1.2-11.4l1.1 13l1.1-17.4l1.1 13.5l1.1-11.6l1.2 8.9l1.1-8.5l1.1 13.1l1.1-9.2l1.1 9.8l1.2-7.9l1.1 11.1l1.1-9.7l1.1 12.2l1.1-9.6l1.2 10.7l1.1-7.2l1.1 7.5l1.1-7l1.1 5.9l1.2-7.6l1.1 9l1.1-9.1l1.1 8.5l1.1-9.7l1.2 12.2l1.1-15l1.1 13.9l1.1-14.2l1.1 13.7l1.2-11.9l1.1 12.7l1.1-11.4l1.1 14.1l1.1-15.3l1.2 17l1.1-12.7l1.1 13.3l1.1-11.2l1.1 11.6l1.2-5.6l1.1 6.7l1.1-11.3l1.1 13l1.1-8l1.2 8.2l1.1-10.5l1.1 12.4l1.1-13.7l1.1 15.2l1.2-12.1l1.1 12.1l1.1-6.7l1.1 8.3l1.1-8.5l1.2 6.9l1.1-18.6l1.1 15.3l1.1-15.4l1.2 12.6l1.1-14.9l1.1 12.3l1.1-14.4l1.1 12.8l1.2-12.1l1.1 8l1.1-12.7l1.1 5.9l1.1-10.4l1.2 15.8l1.1-12l1.1 11.6l1.1-13.2l1.1 17.2l1.2-15.2l1.1 26.4l1.1-16l1.1 17.8l1.1-5.8l1.2 6.5l1.1-17.8l1.1 21.4l1.1-14l1.1 17.2l1.2-5.3l1.1 10.9l1.1-5.5l1.1 4.4l1.1-5l1.2 3.3l1.1-3.7l1.1 10.4l1.1-5.1l1.1 4.4l1.2-5.8l1.1 5.2l1.1-8.5l1.1 4.4l1.1-6.8l1.2 11.2l1.1-5.3l1.1 11.1l1.1-6.9l1.1 12.6l1.2-4.6l1.1 6.4l1.1-4.3l1.1 10.8l1.1-4.4l1.2 8.2l1.1-5.9l1.1 5.5l1.1-5.6l1.1 2.6l1.2-5.4l1.1 2.5l1.1-5.3l1.1 0.9l1.1-4.5l1.2-0.9l1.1-5l1.1-1.7l1.1-10.5l1.1 7.2l1.2-5.4l1.1 7.9l1.1-5.4l1.1 4.7l1.1-4.9l1.2 5.4l1.1-3.8l1.1 4.5l1.1-3l1.1 7.4l1.2-4.2l1.1 11.4l1.1-2.7l1.1 7.5l1.2-2.5l1.1 5.9l1.1-1.6l1.1 3.4l1.1-1.6l1.2 7.4l1.1-3.8l1.1 10.9l1.1-4.6l1.1 0.7l1.2-3.1l1.1-3.9l1.1-3l1.1-2.2l1.1-2.1l1.2-3.1l1.1-2l1.1-4.1l1.1-3.1l1.1 0.2l1.2-7.3l1.1 8.3l1.1-9l1.1 6.8l1.1-7.4l1.2 5.6l1.1-4.9l1.1 3.8l1.1-1.4l1.1 3.1l1.2-1.9l1.1 3.7l1.1-2.2l1.1 5.3l1.1-2l1.2 2.9l1.1-1.4l1.1-0.5l1.1-1.2l1.1 0.9l1.2-1.2l1.1 4.2l1.1-1.4l1.1 3.5l1.1-0.8l1.2 2.2l1.1-0.6l1.1 2.1l1.1-0.4l1.1 16.8l1.2-3.3l1.1 11.2l1.1-4.3l1.1 13.1l1.1-4.7l1.2 10.6l1.1-4.8l1.1 12.2l1.1-4.4l1.1-0.6l1.2-3.1l1.1-7.6l1.1-1.3l1.1-1.8l1.1-0.8l1.2-3.6l1.1-0.3l1.1 3.8l1.1-0.8l1.1 4.3l1.2-1.2l1.1 1.6l1.1-1.2l1.1 2.3l1.1-0.8l1.2 8.8l1.1-2.1l1.1 7.6l1.1-2.8l1.2 6.5l1.1-1.9l1.1 2.6l1.1-1.6l1.1 1.7l1.2-1.8l1.1 3.2l1.1-1.9l1.1 3l1.1-2.1l1.2 3l1.1-2.1l1.1 1.1l1.1-2l1.1 3.4l1.2-1l1.1 1l1.1-0.9l1.1 0.7l1.1-0.8l1.2 0.1l1.1-1l1.1 1l1.1-1.3l1.1 1.2l1.2-1.1l1.1-0.3l1.1-1.1l1.1-1l1.1-0.9l1.2-1.9l1.1-0.7l1.1-0.5l1.1-0.6l1.1 0l1.2-0.6l1.1 1.6l1.1-1l1.1 17.5l1.1-3.6l1.2 8.9l1.1-3.3l1.1 5l1.1-2.2l1.1 4.6l1.2-2l1.1 1.6l1.1-2.2l1.1 1.8l1.1-2.1l1.2 1l1.1-1.6l1.1-0.4l1.1-1.7l1.1 0l1.2-1l1.1 0.8l1.1-1l1.1 2l1.1-0.9l1.2 2.4l1.1-0.8l1.1 3.4l1.1-1l1.1 0.5l1.2-1.1l1.1 0.7l1.1-0.9l1.1-0.3l1.1-0.8l1.2-0.6l1.1-1.1l1.1-1.2l1.1-1.1l1.1 0.4l1.2-1.3l1.1 7.3l1.1-1.8l1.1 2.9l1.2-1.4l1.1-0.9l1.1-0.8l1.1 0.1l1.1-0.6l1.2 0l1.1-0.6l1.1-0.3l1.1-0.8l1.1 0.5l1.2-0.8l1.1 3.4l1.1-0.8l1.1 5.2l1.1-1.3l1.2 6.2l1.1-1.4l1.1 3.3l1.1-1.2l1.1 3.3l1.2-1l1.1 5.2l1.1-1l1.1 1.3l1.1-1.1l1.2 2.1l1.1-0.9l1.1-1.8l1.1-0.4l1.1-2.7l1.2-0.3l1.1-1.4l1.1-0.4l1.1-2.3l1.1-1.4l1.2-7.2l1.1-2.4l1.1-0.3l1.1-1.9l1.1 4l1.2-1.8l1.1 2l1.1-2.3l1.1 5.1l1.1-1.4l1.2 1l1.1-0.9l1.1-2.5l1.1-0.8l1.1 3.3l1.2-1l1.1 3.4l1.1-1.5l1.1 4.1l1.1-1.6l1.2 4.7l1.1-1.3l1.1 4.6l1.1-1.1l1.1 4.5l1.2-1.1l1.1 1.1l1.1-1.1l1.1 2.5l1.1-0.9l1.2 2.4l1.1-0.7l1.1 1.8l1.1-0.6l1.1 1.3l1.2-0.3l1.1 0.4l1.1-0.4l1.1-0.8l1.1-0.4l1.2-2.8l1.1-0.4l1.1-4.2l1.1-0.6l1.1-3.2l1.2-0.9l1.1-10.4l1.1-0.6l1.1-4.6l1.2-1.5l1.1-0.1l1.1-1.6l1.1 1.7l1.1-1.1l1.2 6.8l1.1-2.4l1.1 8.5l1.1-2.1l1.1 5.1l1.2-1.8l1.1 2.9l1.1-1.7l1.1 2.1l1.1-1.8l1.2 0.3l1.1-1.3l1.1-1.9l1.1-0.6l1.1 1.3l1.2-1.4l1.1 3.8l1.1-1.5l1.1 0.6l1.1-2l1.2 2.5l1.1-0.9l1.1-1.8l1.1-1.6l1.1-3.4l1.2-2.2l1.1-4.1l1.1-2.2l1.1 5.8l1.1-0.7l1.2 3.2l1.1-1.1l1.1 4.6l1.1-1.4l1.1-1.6l1.2-1.5l1.1-1.2l1.1-1.8l1.1-2.4l1.1-2l1.2-0.4l1.1-1.9l1.1 4.4l1.1-1l1.1 4.6l1.2-1.2l1.1 1.1l1.1-1.2l1.1 2.5l1.1-0.9l1.2 0.9l1.1-0.8l1.1 0l1.1-1.3l1.1 0.5l1.2-2l1.1 4.1l1.1-2.7l1.1 3.5l1.1-2.2l1.2 2.8l1.1-2.4l1.1-0.3l1.1-2.1l1.1 2.8l1.2-1.8l1.1 0l1.1-2.2l1.1 0.7l1.1-1.6l1.2-2.2l1.1-1.6l1.1-1.5l1.1-2.7l1.2-4.7l1.1-2.7l1.1 2.5l1.1-1.2l1.1 6.4l1.2-1.4l1.1 3.5l1.1-3.2l1.1 3.2l1.1-3.7l1.2 2.9l1.1-4l1.1 3l1.1-3.7l1.1 3l1.2-4l1.1 4.6l1.1-5.3l1.1 6.1l1.1-0.3l1.2 6.2l1.1-1.7l1.1 7.9l1.1-3.4l1.1 5.8l1.2-2.7l1.1 5.6l1.1-2.3l1.1 2l1.1-2.7l1.2-2.1l1.1-4.4l1.1 3l1.1-3.4l1.1 0.3l1.2-3.3l1.1 1.4l1.1-0.7l1.1 3.7l1.1-1.1l1.2 4.8l1.1-1.9l1.1-3.6l1.1-3.1l1.1 0.9l1.2-3.3l1.1-4l1.1-7.6l1.1 5.6l1.1-3.1l1.2 3.9l1.1-4.4l1.1-1l1.1-9.5l1.1 6.3l1.2-10.3l1.1 7.1l1.1-9.7" fill="none" stroke="#b9e2c9" stroke-width="1.5" stroke-linejoin="round"/>
<path d="M210.5 649.4l2.3 0.9l2.2 1.8l2.2 0.7l2.3-0.8l2.2 0l2.3 0.6l2.2 0.7l2.2 1.2l2.3 1.2l2.2 1.9l2.3 1.1l2.2 0.6l2.2 0.3l2.3 0.8l2.2 0.6l2.3 1.4l2.2 1.5l2.2 1.7l2.3 2l2.2 2l2.3 1.3l2.2 1.3l2.2 1l2.3 0.8l2.2 0.5l2.3 0.3l2.2 0.3l2.2 0.3l2.3 0.2l2.2 0.1l2.3 0.2l2.2 0.1l2.2 0.2l2.3 0.1l2.2 0.1l2.3 0.1l2.2-1.3l2.3-2.3l2.2-2.7l2.2-3.7l2.3-3.8l2.2 0.3l2.3 2.9l2.2-0.6l2.2 0.4l2.3-1.3l2.2 3.3l2.3 0.8l2.2 0.3l2.2-3.3l2.3-0.1l2.2-1.9l2.3-0.8l2.2 0.2l2.2-1.8l2.3-0.4l2.2-4l2.3-0.1l2.2-1.4l2.2-1.1l2.3 0.2l2.2-1.6l2.3-0.9l2.2-0.3l2.2-4.3l2.3 0.9l2.2 0.6l2.3-1l2.2 0.8l2.2 1.5l2.3-1.6l2.2 1.3l2.3 0.1l2.2-1.7l2.3-1.9l2.2 0.4l2.2-0.8l2.3-0.2l2.2-4.4l2.3-2.1l2.2-1.3l2.2-1.4l2.3-5l2.2-2.8l2.3-0.1l2.2 0.5l2.2-3l2.3-0.3l2.2-1.4l2.3 0.6l2.2 2.5l2.2-2.2l2.3-2.6l2.2-3.4l2.3 4.3l2.2-3.8l2.2-2.4l2.3 4.4l2.2 4.9l2.3-3.8l2.2 4.7l2.2 3.3l2.3-0.1l2.2-3.5l2.3 0.1l2.2-5.7l2.2 1.3l2.3-4l2.2-4.1l2.3-5.7l2.2-2l2.2-2.2l2.3-1l2.2 3.9l2.3-1.6l2.2-6.1l2.3 0.9l2.2-1.3l2.2 2.2l2.3 0.8l2.2 2.5l2.3 3.4l2.2 0.3l2.2 2.7l2.3-1.9l2.2-1.7l2.3 0.3l2.2 0.1l2.2-3.2l2.3-2l2.2 1.5l2.3 0.1l2.2 0.5l2.2-3.5l2.3-1.9l2.2-3.2l2.3-2.1l2.2-1.7l2.2-5.8l2.3-5l2.2 4.8l2.3 0.2l2.2-4.3l2.2-0.6l2.3 0.9l2.2-3.2l2.3 1l2.2-4.7l2.2-1.3l2.3-6l2.2-1.4l2.3-3.4l2.2 0l2.3 0.4l2.2-1.1l2.2-2.1l2.3 2.1l2.2-4.2l2.3-0.4l2.2 3.5l2.2 0.2l2.3-0.9l2.2-0.9l2.3-3.1l2.2-1.3l2.2-2.1l2.3 1.3l2.2-2.7l2.3 1.4l2.2 0.6l2.2-2.1l2.3 0.8l2.2-3.7l2.3-3.5l2.2-1.1l2.2 2.3l2.3 0.3l2.2-1.8l2.3 0.6l2.2-2.1l2.2-0.5l2.3 1.5l2.2 0.7l2.3 6.1l2.2 3.8l2.2 0.4l2.3-1.1l2.2 5.2l2.3 0.6l2.2-0.9l2.2 0.1l2.3 2l2.2-1.2l2.3-0.7l2.2-0.4l2.3 0.3l2.2-2.3l2.2 0.9l2.3-2.5l2.2-3.4l2.3-4l2.2-4.4l2.2-0.7l2.3-3.1l2.2-0.8l2.3 1.2l2.2-2.3l2.2-1.6l2.3-2.4l2.2 2.4l2.3 1.3l2.2-0.4l2.2 2l2.3 3.4l2.2 0.9l2.3-1.3l2.2 0.4l2.2-1.4l2.3-1.7l2.2 0.8l2.3 1.2l2.2 1.9l2.2 0.5l2.3 1.7l2.2 0.1l2.3 2.2l2.2 0.2l2.2 4.5l2.3-0.7l2.2 1.3l2.3 0.7l2.2 0.6l2.2-0.3l2.3-4.4l2.2-1.3l2.3-0.9l2.2-0.7l2.3 1.1l2.2-4.3l2.2-5.3l2.3 3.9l2.2-0.5l2.3 3.8l2.2 4l2.2 0.4l2.3 1.3l2.2 5.2l2.3 2.1l2.2 3.3l2.2-1l2.3-0.7l2.2 2.9l2.3-2.1l2.2 2.7l2.2 1.9l2.3 1.4l2.2 3.7l2.3 7.1l2.2 2.8l2.2 2.6l2.3-0.3l2.2-1.5l2.3-3.9l2.2-2.3l2.2 0.6l2.3-1.6l2.2-3.6l2.3 0l2.2 2.3l2.2-0.3l2.3 1l2.2 1.2l2.3 2.9l2.2 3.9l2.3 2.8l2.2 3.4l2.2 0.5l2.3 0.5l2.2 3.5l2.3-1.7l2.2-4l2.2-2.8l2.3-2.8l2.2-2.2l2.3-1.3l2.2-0.6l2.2-1.6l2.3-0.9l2.2 0l2.3-0.3l2.2 0.2l2.2 2.9l2.3 1.1l2.2-1.1l2.3-0.1l2.2 1.7l2.2 2.2l2.3 2.6l2.2 4.6l2.3 6.3l2.2 3.9l2.2 6.6l2.3 2.7l2.2 4.5l2.3-2.3l2.2-1.7l2.2 1.1l2.3-0.8l2.2 1.4l2.3 2.6l2.2 1.6l2.2 2.9l2.3 3.2l2.2 2l2.3 3.2l2.2 1l2.3-0.3l2.2 0.9l2.2 0.6l2.3 1.2l2.2-0.2l2.3 2.7l2.2 0.9l2.2-0.8l2.3-1.4l2.2-0.5l2.3 0.3l2.2-0.8l2.2-1.1l2.3-0.9l2.2 1.2l2.3 2.9l2.2 3.2l2.2 5.2l2.3 4.8l2.2 2.6l2.3 2l2.2-0.8l2.2-0.3l2.3 0.1l2.2 0.2l2.3 0.5l2.2 0.6l2.2 0.9l2.3 0l2.2 0.7l2.3-1.5l2.2-0.4l2.2-1l2.3 0.1l2.2 0.9l2.3 0.2l2.2 0.2l2.3 0.2l2.2-1.2l2.2 0.9l2.3 1.2l2.2 0.7l2.3 1.8l2.2 0.9l2.2 2.9l2.3 3.6l2.2 1.9l2.3 1.6l2.2 3.5l2.2-0.5l2.3 0.6l2.2-2.1l2.3-2.9l2.2-3.5l2.2-2.2l2.3-4.2l2.2 0.3l2.3 1l2.2-2.3l2.2 0.1l2.3 0.8l2.2 0l2.3 2.3l2.2 1.4l2.2 2.3l2.3 3l2.2 2.8l2.3 2.6l2.2-0.8l2.2 0.8l2.3 1.3l2.2 0.9l2.3 0.5l2.2-0.2l2.2-1.8l2.3-2.6l2.2-4.3l2.3-3.1l2.2-3.9l2.3-3.4l2.2-2.3l2.2-0.6l2.3 2.1l2.2 2l2.3 2.1l2.2 1.4l2.2 0.9l2.3 1.1l2.2 1.3l2.3-1.1l2.2 0.2l2.2-3.2l2.3-0.2l2.2-1.1l2.3-2.2l2.2-3.3l2.2-0.1l2.3-1.1l2.2 1.4l2.3-2l2.2-0.6l2.2-1.2l2.3-1l2.2 1.6l2.3 1.3l2.2-1.7l2.2 0.8l2.3-0.2l2.2 0.3l2.3-0.4l2.2 0.3l2.2-1.4l2.3-0.5l2.2-2l2.3 1l2.2-2.2l2.2-0.5l2.3-1.2l2.2-0.8l2.3-3.9l2.2-0.1l2.3-0.6l2.2-1.4l2.2 0.8l2.3 1.9l2.2 0.4l2.3 1.9l2.2 1.2l2.2 2l2.3 1.2l2.2 2.4l2.3 1.8l2.2 1.1l2.2-0.3l2.3-1.4l2.2 2.8l2.3-1.6l2.2-1l2.2-2.6l2.3-0.6l2.2-3.6l2.3 2.1l2.2-4.7l2.2-3.9l2.3-1.8l2.2-1.4l2.3-1.9l2.2-2.3l-1.1 1.3l-2.3 2.5l-2.2 1.7l-2.2 0.5l-2.3 2l-2.2 4.4l-2.3 4l-2.2-2l-2.2 3.4l-2.3 0.6l-2.2 2.6l-2.3 1.2l-2.2 1.6l-2.2-2.8l-2.3 1.3l-2.2 0.2l-2.3-1l-2.2-1.9l-2.2-2.4l-2.3-1.1l-2.2-1.7l-2.3-1.3l-2.2-2l-2.2-0.4l-2.3-1.9l-2.2-1l-2.3 1.4l-2.2 0.6l-2.2 0.3l-2.3 3.7l-2.2 0.8l-2.3 1.2l-2.2 0.5l-2.3 2.2l-2.2-1l-2.2 2l-2.3 0.5l-2.2 1.4l-2.3-0.3l-2.2 0.4l-2.2-0.3l-2.3 0.2l-2.2-0.8l-2.3 1.7l-2.2-1.3l-2.2-1.6l-2.3 1l-2.2 1.2l-2.3 0.6l-2.2 2l-2.2-1.4l-2.3 1.1l-2.2 0.1l-2.3 3.3l-2.2 2.2l-2.2 1.1l-2.3 0.2l-2.2 3.2l-2.3-0.2l-2.2 1.1l-2.2-1.3l-2.3-1.1l-2.2-0.9l-2.3-1.4l-2.2-2l-2.2-2.1l-2.3-2.1l-2.2 0.6l-2.3 2.3l-2.2 3.4l-2.3 3.9l-2.2 3.1l-2.2 4.3l-2.3 2.6l-2.2 1.8l-2.3 0.2l-2.2-0.5l-2.2-0.9l-2.3-1.3l-2.2-0.8l-2.3 0.8l-2.2-2.6l-2.2-2.8l-2.3-3l-2.2-2.3l-2.3-1.4l-2.2-2.3l-2.2 0l-2.3-0.8l-2.2-0.1l-2.3 2.3l-2.2-1l-2.2-0.3l-2.3 4.2l-2.2 2.2l-2.3 3.5l-2.2 2.9l-2.2 2.1l-2.3-0.6l-2.2 0.5l-2.3-3.5l-2.2-1.6l-2.2-1.9l-2.3-3.6l-2.2-2.9l-2.3-0.9l-2.2-1.8l-2.2-0.7l-2.3-1.2l-2.2-0.9l-2.3 1.2l-2.2-0.2l-2.3-0.2l-2.2-0.2l-2.2-0.9l-2.3-0.1l-2.2 1l-2.3 0.4l-2.2 1.5l-2.2-0.7l-2.3 0l-2.2-0.9l-2.3-0.6l-2.2-0.5l-2.2-0.2l-2.3-0.1l-2.2 0.3l-2.3 0.8l-2.2-2l-2.2-2.4l-2.3-4.7l-2.2-5.5l-2.3-3.2l-2.2-2.9l-2.2-1.2l-2.3 1l-2.2 1l-2.3 0.8l-2.2-0.3l-2.2 0.5l-2.3 1.4l-2.2 0.8l-2.3-0.9l-2.2-2.7l-2.2 0.2l-2.3-1.1l-2.2-0.7l-2.3-0.9l-2.2 0.3l-2.2-1l-2.3-3.1l-2.2-2l-2.3-3.3l-2.2-2.9l-2.3-1.6l-2.2-2.6l-2.2-1.4l-2.3 0.8l-2.2-1.1l-2.3 1.9l-2.2 2.3l-2.2-4.4l-2.3-2.6l-2.2-6.8l-2.3-3.9l-2.2-6.5l-2.2-4.6l-2.3-2.6l-2.2-2.2l-2.3-1.7l-2.2 0.1l-2.2 1.1l-2.3-1.1l-2.2-2.9l-2.3-0.2l-2.2 0.3l-2.2 0.3l-2.3 1.2l-2.2 2.2l-2.3 0l-2.2 0.8l-2.2 2.1l-2.3 2.8l-2.2 3l-2.3 4l-2.2 1.9l-2.2-3.8l-2.3-0.6l-2.2-0.5l-2.3-3.3l-2.2-2.9l-2.3-3.4l-2.2-3.3l-2.2-0.9l-2.3-0.8l-2.2 0.5l-2.3-2.2l-2.2 0.3l-2.2 2.9l-2.3 1.4l-2.2-0.4l-2.3 2.3l-2.2 3.9l-2.2 1.3l-2.3 0.2l-2.2-2.5l-2.3-2.8l-2.2-7l-2.2-3.4l-2.3-1.5l-2.2-1.8l-2.3-2.8l-2.2 1.9l-2.2-3.1l-2.3 0.7l-2.2 1.3l-2.3-3.6l-2.2-0.5l-2.2-4.6l-2.3-3.2l-2.2 1.5l-2.3-4.5l-2.2-4.1l-2.2 0.6l-2.3-4.1l-2.2 5.4l-2.3 4.1l-2.2-0.4l-2.2 0.2l-2.3 1.2l-2.2 1.9l-2.3 2.5l-2.2 0.4l-2.3 0.3l-2.2-0.9l-2.2-1.3l-2.3 0.6l-2.2-4.5l-2.3-1.1l-2.2-1.2l-2.2 0.2l-2.3-1.5l-2.2-0.9l-2.3-1.7l-2.2-1.3l-2.2-0.8l-2.3 1.7l-2.2 0.8l-2.3-0.5l-2.2 1.3l-2.2-0.9l-2.3-3.4l-2.2-1.8l-2.3 0l-2.2-0.8l-2.2-2.1l-2.3 2.5l-2.2 1.9l-2.3 2.2l-2.2-1.1l-2.2 0.6l-2.3 3.1l-2.2 0.5l-2.3 4.5l-2.2 3.8l-2.2 3.6l-2.3 2.7l-2.2-1.2l-2.3 1.7l-2.2-0.7l-2.3 0.2l-2.2 0.8l-2.2 1.3l-2.3-1.8l-2.2 0.1l-2.3 1l-2.2-1.2l-2.2-4.3l-2.3 0.9l-2.2-0.6l-2.3-3.1l-2.2-5.7l-2.2-0.8l-2.3-1.2l-2.2 0.2l-2.3 2.1l-2.2-0.8l-2.2 1.8l-2.3-0.3l-2.2-2.8l-2.3 1.7l-2.2 3.7l-2.2 3.1l-2.3-1.2l-2.2 2.6l-2.3-0.8l-2.2-1.3l-2.2 2.4l-2.3-0.3l-2.2 1.5l-2.3 0.9l-2.2 3.2l-2.2 1l-2.3 1.2l-2.2-0.1l-2.3-3.9l-2.2 0.2l-2.2 4.3l-2.3-1.2l-2.2 2l-2.3 0.8l-2.2-0.3l-2.3 0l-2.2 4l-2.2 0.6l-2.3 5.9l-2.2 1.1l-2.3 4.5l-2.2-0.4l-2.2 2.7l-2.3-0.8l-2.2 0.8l-2.3 4.4l-2.2 0.1l-2.2-5l-2.3 5.1l-2.2 6l-2.3 2.3l-2.2 0.4l-2.2 2.4l-2.3 2.2l-2.2 4.7l-2.3-0.2l-2.2-0.6l-2.2-1.4l-2.3 1.6l-2.2 4.1l-2.3-0.2l-2.2-1.8l-2.2 1.8l-2.3 3l-2.2-2.7l-2.3-0.1l-2.2-2.9l-2.2-2.3l-2.3-1.5l-2.2-2.3l-2.3 0.6l-2.2-0.5l-2.2 6.7l-2.3 1.9l-2.2-4.2l-2.3 1l-2.2 2.7l-2.3 1.4l-2.2 6.5l-2.2 3.6l-2.3 3.6l-2.2-0.7l-2.3 5.4l-2.2-0.5l-2.2 2.1l-2.3 0l-2.2-3.2l-2.3-4.9l-2.2 4.9l-2.2-4.1l-2.3-4.2l-2.2 1.8l-2.3 3.6l-2.2-4.4l-2.2 4.1l-2.3 2.4l-2.2 1l-2.3-2.8l-2.2 0.8l-2.2 1.8l-2.3-0.3l-2.2 2.5l-2.3-1.2l-2.2 0l-2.2 4.1l-2.3 4.8l-2.2 1.6l-2.3 1.5l-2.2 2.2l-2.2 3l-2.3 0l-2.2 0.6l-2.3 0.4l-2.2 1.5l-2.3 1.6l-2.2-0.4l-2.2-1.3l-2.3 1.6l-2.2-1.5l-2.3-0.2l-2.2 0.8l-2.2-0.3l-2.3-0.8l-2.2 3.6l-2.3 0.3l-2.2 0.9l-2.2 1.6l-2.3-0.3l-2.2 1.4l-2.3 2.1l-2.2 0.3l-2.2 3.6l-2.3-0.1l-2.2 1.6l-2.3 0.1l-2.2 0.8l-2.2 1.5l-2.3 0.2l-2.2 3.3l-2.3-0.3l-2.2-0.8l-2.2-3.4l-2.3 1.4l-2.2-0.5l-2.3 1l-2.2-3.3l-2.2-0.3l-2.3 3.8l-2.2 3.7l-2.3 2.8l-2.2 2.3l-2.2 1.2l-2.3-0.1l-2.2-0.1l-2.3-0.1l-2.2-0.2l-2.3-0.1l-2.2-0.2l-2.2-0.1l-2.3-0.2l-2.2-0.3l-2.3-0.3l-2.2-0.2l-2.2-0.6l-2.3-0.8l-2.2-1l-2.3-1.3l-2.2-1.3l-2.2-2l-2.3-2l-2.2-1.7l-2.3-1.5l-2.2-1.4l-2.2-0.6l-2.3-0.8l-2.2-0.3l-2.3-0.6l-2.2-1.1l-2.2-1.9l-2.3-1.2l-2.2-1.2l-2.3-0.7l-2.2-0.6l-2.2 0l-2.3 0.8l-2.2-0.7l-2.3-1.8l-2.2-0.9z" fill="#d3af4e" stroke="none"/>
<path d="M209.4 649.7l1.1-0.3l1.1 1.2l1.2-0.3l1.1 2.1l1.1-0.3l1.1 1l1.1-0.3l1.2-0.5l1.1-0.3l1.1 0.3l1.1-0.3l1.1 0.9l1.2-0.3l1.1 1l1.1-0.3l1.1 1.5l1.1-0.3l1.2 1.5l1.1-0.3l1.1 2.2l1.1-0.3l1.1 1.4l1.2-0.3l1.1 0.9l1.1-0.3l1.1 0.6l1.1-0.3l1.2 1.1l1.1-0.3l1.1 0.9l1.1-0.3l1.1 1.7l1.2-0.3l1.1 1.8l1.1-0.3l1.1 2l1.1-0.3l1.2 2.3l1.1-0.3l1.1 2.3l1.1-0.3l1.1 1.6l1.2-0.3l1.1 1.6l1.1-0.3l1.1 1.3l1.1-0.3l1.2 1.1l1.1-0.3l1.1 0.9l1.1-0.4l1.1 0.6l1.2-0.3l1.1 0.6l1.1-0.3l1.1 0.6l1.1-0.3l1.2 0.5l1.1-0.3l1.1 0.4l1.1-0.3l1.1 0.5l1.2-0.3l1.1 0.4l1.1-0.3l1.1 0.5l1.1-0.3l1.2 0.4l1.1-0.3l1.1 0.4l1.1-0.3l1.2 0.4l1.1-0.3l1.1-0.9l1.1-0.4l1.1-1.9l1.2-0.4l1.1-2.4l1.1-0.3l1.1-3.4l1.1-0.3l1.2-3.5l1.1-0.3l1.1 0.6l1.1-0.3l1.1 3.6l1.2-0.7l1.1-0.3l1.1-0.3l1.1 0.8l1.1-0.4l1.2-1l1.1-0.3l1.1 3.7l1.1-0.4l1.1 1.2l1.2-0.4l1.1 0.7l1.1-0.4l1.1-2.9l1.1-0.4l1.2 0.2l1.1-0.3l1.1-1.2l1.1-0.7l1.1-0.1l1.2-0.7l1.1 0.6l1.1-0.4l1.1-1.2l1.1-0.6l1.2 0.7l1.1-1.1l1.1-2.5l1.1-1.5l1.1 1.2l1.2-1.3l1.1-0.8l1.1-0.6l1.1-0.8l1.1-0.3l1.2 0.6l1.1-0.4l1.1-1.2l1.1-0.4l1.1-0.5l1.2-0.4l1.1 0.1l1.1-0.4l1.1-3.2l1.1-1.1l1.2 1.9l1.1-1l1.1 1.3l1.1-0.7l1.1-0.1l1.2-0.9l1.1 1.1l1.1-0.3l1.1 1.8l1.1-0.3l1.2-1.3l1.1-0.3l1.1 1.6l1.1-0.3l1.1 0.7l1.2-0.6l1.1-1l1.1-0.7l1.1-0.8l1.2-1.1l1.1 0.7l1.1-0.3l1.1-0.3l1.1-0.5l1.2 0.5l1.1-0.7l1.1-2.3l1.1-2.1l1.1-0.1l1.2-2l1.1 0.5l1.1-1.8l1.1 0.2l1.1-1.6l1.2-3.2l1.1-1.8l1.1-2.3l1.1-0.5l1.1 0.5l1.2-0.6l1.1 1.8l1.1-1.3l1.1-1.2l1.1-1.8l1.2 2.1l1.1-2.4l1.1 0.6l1.1-2l1.1 1.2l1.2-0.6l1.1 3.4l1.1-0.9l1.1-0.1l1.1-2.1l1.2-0.3l1.1-2.3l1.1-1.8l1.1-1.6l1.1 6l1.2-1.7l1.1-1.9l1.1-1.9l1.1 0.1l1.1-2.5l1.2 6.7l1.1-2.3l1.1 6.4l1.1-1.5l1.1-3.4l1.2-0.4l1.1 5.3l1.1-0.6l1.1 3.8l1.1-0.5l1.2 0.5l1.1-0.6l1.1-1.5l1.1-2l1.1 2.5l1.2-2.4l1.1-3l1.1-2.7l1.1 3.4l1.1-2.1l1.2-1.5l1.1-2.5l1.1-1.1l1.1-3l1.1-3.5l1.2-2.2l1.1 0.8l1.1-2.8l1.1 0.1l1.1-2.3l1.2 1.3l1.1-2.3l1.1 6.5l1.1-2.6l1.2 0.7l1.1-2.3l1.1-4.4l1.1-1.7l1.1 2.2l1.2-1.3l1.1 0.7l1.1-2l1.1 4.3l1.1-2.1l1.2 3.6l1.1-2.8l1.1 5.1l1.1-2.6l1.1 5.5l1.2-2.1l1.1 2.2l1.1-1.9l1.1 4.6l1.1-1.9l1.2-1.1l1.1-0.8l1.1-1l1.1-0.7l1.1 2.5l1.2-2.2l1.1 2.4l1.1-2.3l1.1-1.8l1.1-1.4l1.2-0.2l1.1-1.8l1.1 3.2l1.1-1.7l1.1 2.3l1.2-2.2l1.1 2.4l1.1-1.9l1.1-2.8l1.1-0.7l1.2-1.5l1.1-0.4l1.1-2l1.1-1.2l1.1 0.8l1.2-2.9l1.1 0.6l1.1-2.3l1.1-3.7l1.1-2.1l1.2-3l1.1-2l1.1 7l1.1-2.2l1.1 2.1l1.2-1.9l1.1-2.5l1.1-1.8l1.1 1l1.1-1.6l1.2 2.4l1.1-1.5l1.1-1.2l1.1-2l1.1 2.4l1.2-1.4l1.1-3.1l1.1-1.6l1.1 0.5l1.1-1.8l1.2-4.1l1.1-1.9l1.1 1.3l1.1-2.7l1.1-1.3l1.2-2.1l1.1 2.1l1.1-2.1l1.1 2.4l1.2-2l1.1 1.2l1.1-2.3l1.1 0.3l1.1-2.4l1.2 3.6l1.1-1.5l1.1-2.8l1.1-1.4l1.1 1.2l1.2-1.6l1.1 5.5l1.1-2l1.1 2.1l1.1-1.9l1.2 0.7l1.1-1.6l1.1 0.6l1.1-1.5l1.1-1.7l1.2-1.4l1.1 0.5l1.1-1.8l1.1 0.3l1.1-2.4l1.2 2.7l1.1-1.4l1.1-1l1.1-1.7l1.1 3l1.2-1.6l1.1 2.4l1.1-1.8l1.1-0.8l1.1-1.3l1.2 2.5l1.1-1.7l1.1-1.4l1.1-2.3l1.1-1.4l1.2-2.1l1.1 0.4l1.1-1.5l1.1 4.3l1.1-2l1.2 2.3l1.1-2l1.1 0.2l1.1-2l1.1 2.8l1.2-2.2l1.1 0.1l1.1-2.2l1.1 2l1.1-2.5l1.2 3.7l1.1-2.2l1.1 3l1.1-2.3l1.1 8l1.2-1.9l1.1 5l1.1-1.2l1.1 1.8l1.1-1.4l1.2 0.5l1.1-1.6l1.1 5.9l1.1-0.7l1.1 1.9l1.2-1.3l1.1 0.3l1.1-1.2l1.1 1.1l1.1-1l1.2 2.8l1.1-0.8l1.1-0.5l1.1-0.7l1.1-0.1l1.2-0.6l1.1 0.4l1.1-0.8l1.1 1.5l1.2-1.2l1.1-0.5l1.1-1.8l1.1 3l1.1-2.1l1.2-0.6l1.1-1.9l1.1-1.7l1.1-1.7l1.1-2.1l1.2-1.9l1.1-2.6l1.1-1.8l1.1 1.3l1.1-2l1.2-1.1l1.1-2l1.1 1.4l1.1-2.2l1.1 3.3l1.2-2.1l1.1-0.1l1.1-2.2l1.1 0.3l1.1-1.9l1.2-0.6l1.1-1.8l1.1 3.9l1.1-1.5l1.1 2.3l1.2-1l1.1 1l1.1-1.4l1.1 3.2l1.1-1.2l1.2 4.6l1.1-1.2l1.1 2.1l1.1-1.2l1.1-0.1l1.2-1.2l1.1 1.7l1.1-1.3l1.1 0.5l1.1-1.9l1.2 0.2l1.1-1.9l1.1 2.7l1.1-1.9l1.1 3.2l1.2-2l1.1 3.7l1.1-1.8l1.1 2.7l1.1-2.2l1.2 3.7l1.1-2l1.1 1.8l1.1-1.7l1.1 2.9l1.2-0.7l1.1 1.8l1.1-1.6l1.1 6.1l1.1-1.6l1.2 1l1.1-1.7l1.1 3l1.1-1.7l1.1 2.6l1.2-1.9l1.1 1.6l1.1-1l1.1 0.6l1.1-0.9l1.2-1.6l1.1-2.8l1.1 0.9l1.1-2.2l1.2 1l1.1-1.9l1.1 1.7l1.1-2.4l1.1 2.8l1.2-1.7l1.1-2.4l1.1-1.9l1.1-3.5l1.1-1.8l1.2 5.9l1.1-2l1.1 1.4l1.1-1.9l1.1 6l1.2-2.2l1.1 6.7l1.1-2.7l1.1 1.2l1.1-0.8l1.2 4l1.1-2.7l1.1 7.3l1.1-2.1l1.1 2.6l1.2-0.5l1.1 4.1l1.1-0.8l1.1-0.5l1.1-0.5l1.2-0.2l1.1-0.5l1.1 3.6l1.1-0.7l1.1-1.2l1.2-0.9l1.1 3.7l1.1-1l1.1 2.8l1.1-0.9l1.2 2.4l1.1-1l1.1 4.4l1.1-0.7l1.1 7.7l1.2-0.6l1.1 3.4l1.1-0.6l1.1 3.1l1.1-0.5l1.2 0.3l1.1-0.6l1.1-0.7l1.1-0.8l1.1-3.1l1.2-0.8l1.1-1.5l1.1-0.8l1.1 1.2l1.1-0.6l1.2-0.8l1.1-0.8l1.1-2.1l1.1-1.5l1.1 1.2l1.2-1.2l1.1 3.4l1.1-1.1l1.1 0.6l1.1-0.9l1.2 1.7l1.1-0.7l1.1 1.6l1.1-0.4l1.1 3.7l1.2-0.8l1.1 4.2l1.1-0.3l1.1 3.2l1.2-0.4l1.1 3.7l1.1-0.3l1.1 0.8l1.1-0.3l1.2 0.9l1.1-0.4l1.1 4.2l1.1-0.7l1.1-1.2l1.2-0.5l1.1-3.5l1.1-0.5l1.1-2.5l1.1-0.3l1.2-2.5l1.1-0.3l1.1-1.8l1.1-0.4l1.1-0.4l1.2-0.9l1.1 0.9l1.1-1.5l1.1-0.7l1.1-0.9l1.2-0.3l1.1-0.6l1.1 0.3l1.1-0.3l1.1 0l1.2-0.3l1.1 0.5l1.1-0.3l1.1 3.2l1.1-0.3l1.2 1.4l1.1-0.3l1.1-0.8l1.1-0.3l1.1 0.2l1.2-0.3l1.1 2l1.1-0.3l1.1 2.5l1.1-0.3l1.2 2.9l1.1-0.3l1.1 4.9l1.1-0.3l1.1 6.8l1.2-0.5l1.1 4.4l1.1-0.5l1.1 7.3l1.1-0.7l1.2 3.3l1.1-0.6l1.1 5l1.1-0.5l1.1-1.8l1.2-0.5l1.1-1.4l1.1-0.3l1.1 1.4l1.1-0.3l1.2-0.5l1.1-0.3l1.1 1.7l1.1-0.3l1.1 2.9l1.2-0.3l1.1 1.9l1.1-0.3l1.1 3.2l1.1-0.3l1.2 3.6l1.1-0.4l1.1 2.4l1.1-0.4l1.2 3.5l1.1-0.3l1.1 1.3l1.1-0.3l1.1 0l1.2-0.3l1.1 1.2l1.1-0.3l1.1 1l1.1-0.4l1.2 1.5l1.1-0.3l1.1 0.1l1.1-0.3l1.1 3l1.2-0.3l1.1 1.2l1.1-0.3l1.1-0.5l1.1-0.3l1.2-1.1l1.1-0.3l1.1-0.2l1.1-0.3l1.1 0.6l1.2-0.3l1.1-0.5l1.1-0.3l1.1-0.7l1.1-0.4l1.2-0.6l1.1-0.3l1.1 1.5l1.1-0.3l1.1 3.2l1.2-0.3l1.1 3.5l1.1-0.3l1.1 5.8l1.1-0.6l1.2 5.3l1.1-0.5l1.1 2.9l1.1-0.3l1.1 2.3l1.2-0.3l1.1-0.5l1.1-0.3l1.1 0l1.1-0.3l1.2 0.4l1.1-0.3l1.1 0.5l1.1-0.3l1.1 0.8l1.2-0.3l1.1 0.9l1.1-0.3l1.1 1.2l1.1-0.3l1.2 0.3l1.1-0.3l1.1 1l1.1-0.3l1.1-1.2l1.2-0.3l1.1-0.1l1.1-0.3l1.1-0.7l1.1-0.3l1.2 0.4l1.1-0.3l1.1 1.2l1.1-0.3l1.1 0.5l1.2-0.3l1.1 0.5l1.1-0.3l1.1 0.5l1.2-0.3l1.1-0.9l1.1-0.3l1.1 1.2l1.1-0.3l1.2 1.5l1.1-0.3l1.1 1l1.1-0.3l1.1 2.1l1.2-0.3l1.1 1.2l1.1-0.3l1.1 3.2l1.1-0.3l1.2 3.9l1.1-0.3l1.1 2.2l1.1-0.3l1.1 1.9l1.2-0.3l1.1 3.8l1.1-0.3l1.1-0.2l1.1-0.3l1.2 0.9l1.1-0.3l1.1-1.8l1.1-0.3l1.1-2.6l1.2-0.3l1.1-3.2l1.1-0.3l1.1-1.9l1.1-0.3l1.2-3.9l1.1-0.3l1.1 0.6l1.1-0.3l1.1 1.3l1.2-0.3l1.1-2l1.1-0.3l1.1 0.4l1.1-0.3l1.2 1.1l1.1-0.3l1.1 0.3l1.1-0.3l1.1 2.6l1.2-0.3l1.1 1.7l1.1-0.3l1.1 2.6l1.1-0.3l1.2 3.3l1.1-0.3l1.1 3.1l1.1-0.3l1.1 2.9l1.2-0.3l1.1-0.5l1.1-0.3l1.1 1.1l1.1-0.3l1.2 1.6l1.1-0.3l1.1 1.2l1.1-0.3l1.1 0.8l1.2-0.3l1.1 0.1l1.1-0.3l1.1-1.5l1.1-0.3l1.2-2.3l1.1-0.3l1.1-4l1.1-0.3l1.1-2.8l1.2-0.3l1.1-3.6l1.1-0.3l1.1-3.1l1.2-0.3l1.1-2l1.1-0.3l1.1-0.3l1.1-0.3l1.2 2.4l1.1-0.3l1.1 2.4l1.1-0.4l1.1 2.4l1.2-0.3l1.1 1.7l1.1-0.3l1.1 1.2l1.1-0.3l1.2 1.4l1.1-0.3l1.1 1.6l1.1-0.3l1.1-0.8l1.2-0.3l1.1 0.5l1.1-0.3l1.1-2.9l1.1-0.3l1.2 0.1l1.1-0.3l1.1-0.8l1.1-0.3l1.1-1.9l1.2-0.3l1.1-3l1.1-0.3l1.1 0.2l1.1-0.3l1.2-0.8l1.1-0.3l1.1 1.7l1.1-0.3l1.1-1.7l1.2-0.3l1.1-0.3l1.1-0.3l1.1-0.9l1.1-0.3l1.2-0.7l1.1-0.3l1.1 1.9l1.1-0.3l1.1 1.6l1.2-0.3l1.1-1.4l1.1-0.3l1.1 1.1l1.1-0.3l1.2 0.1l1.1-0.3l1.1 0.6l1.1-0.3l1.1-0.1l1.2-0.3l1.1 0.6l1.1-0.3l1.1-1.1l1.1-0.3l1.2-0.2l1.1-0.3l1.1-1.7l1.1-0.3l1.1 1.3l1.2-0.3l1.1-1.9l1.1-0.3l1.1-0.2l1.1-0.3l1.2-0.9l1.1-0.3l1.1-0.5l1.1-0.3l1.2-3.4l1.1-0.5l1.1 0.2l1.1-0.3l1.1-0.3l1.2-0.3l1.1-1.1l1.1-0.3l1.1 1.3l1.1-0.5l1.2 2.4l1.1-0.5l1.1 0.9l1.1-0.5l1.1 2.5l1.2-0.6l1.1 1.9l1.1-0.7l1.1 2.4l1.1-0.4l1.2 1.5l1.1-0.3l1.1 2.7l1.1-0.3l1.1 2.2l1.2-0.4l1.1 1.4l1.1-0.3l1.1 0.1l1.1-0.4l1.2-0.9l1.1-0.5l1.1 3.3l1.1-0.5l1.1-1.1l1.2-0.5l1.1-0.7l1.1-0.3l1.1-2.3l1.1-0.3l1.2-0.3l1.1-0.3l1.1-3.1l1.1-0.5l1.1 2.5l1.2-0.4l1.1-3.6l1.1-1.1l1.1-3.3l1.1-0.6l1.2-1.4l1.1-0.4l1.1-0.1l1.1-1.3l1.1-0.4l1.2-1.5l1.1-1l1.1-1.3" fill="none" stroke="#d3af4e" stroke-width="1.5" stroke-linejoin="round"/>
<path d="M209.4 639l2 0l2 0.9l2 2.2l2 2l2 1.4l2 0l2-0.8l2-1.1l2-0.3l2 0.8l2 1.4l2 1.4l2 1.2l2 1.2l2 1l2 0.4l2 0l2-0.1l2 0.5l2 1.1l2 1.6l2 1.5l2 1.4l2 1.4l2 1.3l2 1.2l2 0.9l2 0.7l2 0.7l2 0.5l2 0.5l2 0.4l2 0.3l2 0.4l2 0.3l2 0.4l2 0.3l2 0.3l2 0.3l2 0.3l2 0.3l2 0.2l2 0.3l2 0.2l2-1.2l2-2.1l2-2.5l2-1.5l2-0.8l2-0.7l2-0.5l2-0.5l2-0.5l2-0.4l2-0.4l2-0.4l2-0.3l2-0.4l2-0.6l2-0.6l2-0.6l2-0.9l2-1.1l2-1.4l2-1.2l2-0.8l2-0.6l2-0.5l2-0.7l2-0.6l2-0.6l2-0.3l2 0.1l2 0.3l2 0.3l2 0.1l2-0.2l2-0.3l2-0.4l2-0.4l2-0.6l2-0.7l2-0.6l2-0.6l2-0.4l2-0.3l2-0.4l2-0.8l2-1.1l2-1.4l2-1l2-0.7l2-0.8l2-1.2l2-1.5l2-1.7l2-1.1l2-0.3l2 0.4l2 0.7l2 0.2l2-0.5l2-1.1l2-1.3l2-1.3l2-1.1l2-1.1l2-1l2-0.9l2-0.7l2-0.6l2 0.3l2 1.2l2 1.9l2 2l2 2l2 1.3l2 0.2l2-1l2-1.7l2-1.8l2-2l2-2l2-2.1l2-2.2l2-2.4l2-2.5l2-2.5l2-2l2-0.8l2 0.4l2 0.4l2-0.4l2-1l2-0.8l2 0.2l2 1.1l2 1.6l2 1.3l2 1.2l2 1l2 0.9l2-0.1l2-1.1l2-1.7l2-1.1l2-0.4l2 0l2 0l2-0.2l2-0.2l2-0.3l2-0.7l2-1.5l2-2.5l2-2.9l2-2.7l2-2.5l2-2l2-1.5l2-1l2-1l2-0.8l2-0.6l2-0.3l2-0.4l2-0.8l2-1.4l2-2l2-2l2-2l2-2l2-1.9l2-1.6l2-1.3l2-0.9l2-0.8l2-0.8l2-0.6l2-0.7l2-0.7l2-0.6l2-0.7l2-0.7l2-0.6l2-0.7l2-0.7l2-0.6l2-0.5l2-0.4l2-0.3l2-0.4l2-0.5l2-0.6l2-0.6l2-0.8l2-0.8l2-0.9l2-1l2-0.9l2-0.5l2-0.2l2 0l2 0l2 0.3l2 0.7l2 1.2l2 1.4l2 1.3l2 1.2l2 1.1l2 1.2l2 1.1l2 0.6l2 0l2-0.5l2-0.6l2-0.5l2-0.3l2-0.2l2 0l2-0.1l2-0.7l2-1.3l2-1.6l2-1.7l2-1.7l2-1.6l2-1.7l2-1.6l2-1.4l2-1.1l2-1l2-0.8l2-0.5l2-0.3l2-0.1l2 0.3l2 0.5l2 0.6l2 0.7l2 0.5l2 0.4l2 0.3l2 0.2l2 0l2-0.2l2-0.3l2-0.2l2 0.3l2 0.8l2 1l2 0.9l2 0.7l2 0.5l2 0.3l2 0.4l2 0.4l2 0.6l2 0.7l2 0.7l2 0.5l2 0.6l2 0l2-0.7l2-1.4l2-1.7l2-1.6l2-1.7l2-1.6l2-1.3l2-0.3l2 0.7l2 1.8l2 2.2l2 2.4l2 2l2 1.8l2 1.7l2 1.5l2 1.1l2 0.8l2 0.7l2 0.6l2 0.5l2 0.4l2 0.3l2 0.8l2 1.7l2 2.5l2 2.9l2 2.7l2 2.4l2 1.4l2 0.4l2-0.4l2-0.7l2-1.1l2-1.5l2-1.5l2-1.1l2-0.9l2-0.7l2-0.4l2 0.2l2 0.9l2 1.2l2 1.4l2 1.8l2 2l2 2l2 2l2 2l2 1.6l2 0.6l2-0.5l2-1.2l2-1.4l2-1.8l2-1.8l2-1.5l2-0.9l2-0.7l2-0.6l2-0.2l2 0.1l2 0.3l2 0.3l2 0.3l2 0.2l2 0.2l2 0.3l2 0.3l2 0.5l2 0.5l2 1.5l2 2.4l2 3.5l2 3.7l2 4l2 4.3l2 4.1l2 1.9l2-0.2l2-1.6l2-0.9l2 0l2 0.5l2 1.1l2 1.9l2 2.4l2 2.2l2 1.9l2 1.7l2 1.5l2 1.3l2 1.1l2 1l2 1l2 0.8l2 0.7l2 0.7l2 0.6l2 0.6l2 0.4l2 0.3l2 0.2l2-0.2l2-0.5l2-0.8l2-0.6l2-0.5l2 0.8l2 1.8l2 2.8l2 2.6l2 2.5l2 2.3l2 2.1l2 2l2 1.2l2 0.3l2-0.6l2-0.7l2-0.2l2 0.4l2 1l2 1l2 0.6l2 0.1l2-0.4l2-0.4l2-0.4l2-0.5l2 0l2 0.5l2 1.1l2 1l2 0.4l2-0.1l2-0.3l2 0l2 0.6l2 1.3l2 1.7l2 1.6l2 1.7l2 1.7l2 1.6l2 1.5l2 1l2 0.6l2 0.3l2 0.3l2-0.5l2-1.4l2-2.5l2-2.5l2-1.5l2-0.6l2 0l2-0.2l2-0.2l2-0.4l2 0l2 0.7l2 1.3l2 1.6l2 1.5l2 1.4l2 1.3l2 1.3l2 1.2l2 1.1l2 1l2 1l2 0.7l2 0.5l2 0.3l2 0.1l2-1l2-2.1l2-3l2-3.2l2-2.8l2-1.9l2-1l2 0l2 0.5l2 1.1l2 1.1l2 1l2 0.9l2 0.8l2 0.8l2 0.8l2 0.8l2 0.1l2-0.8l2-1.8l2-1.8l2-1.2l2-0.8l2-0.4l2-0.6l2-0.8l2-1l2-1l2-0.5l2-0.1l2 0.3l2 0.3l2 0.3l2 0.1l2 0l2 0l2-0.1l2-0.3l2-0.3l2-0.3l2-0.3l2-0.4l2-0.3l2-0.3l2-0.6l2-0.7l2-1l2-1l2-0.9l2-0.8l2-0.7l2-0.7l2-0.5l2-0.5l2-0.3l2-0.4l2-0.1l2 0.2l2 0.5l2 1.1l2 1.6l2 2l2 1.8l2 1.5l2 1.3l2 0.7l2-0.4l2-1.4l2-1.3l2-0.6l2 0.3l2 0l2-0.4l2-0.8l2-0.9l2-1.2l2-1.5l2-2l2-2.6l2-2.8l2-2.2l2-1.2" fill="none" stroke="#a2522a" stroke-width="1.6" stroke-linejoin="round"/>
<path d="M209.4 628.6l2-0.1l2-0.1l2 0l2 0.1l2 0.3l2 0.5l2 0.5l2 0.5l2 0.5l2 0.5l2 0.5l2 0.5l2 0.5l2 0.6l2 0.6l2 0.6l2 0.6l2 0.7l2 0.7l2 0.7l2 0.7l2 0.7l2 0.8l2 0.7l2 0.8l2 0.7l2 0.8l2 0.7l2 0.8l2 0.7l2 0.7l2 0.6l2 0.7l2 0.6l2 0.7l2 0.6l2 0.6l2 0.6l2 0.6l2 0.6l2 0.6l2 0.6l2 0.6l2 0.5l2 0.4l2 0.2l2 0.1l2-0.1l2-0.3l2-0.2l2-0.3l2-0.3l2-0.3l2-0.3l2-0.3l2-0.4l2-0.3l2-0.4l2-0.4l2-0.6l2-0.6l2-0.7l2-0.7l2-0.7l2-0.7l2-0.6l2-0.5l2-0.5l2-0.5l2-0.5l2-0.4l2-0.5l2-0.4l2-0.4l2-0.3l2-0.3l2-0.2l2-0.1l2-0.1l2-0.2l2-0.1l2-0.2l2-0.2l2-0.3l2-0.2l2-0.4l2-0.5l2-0.5l2-0.6l2-0.6l2-0.7l2-0.6l2-0.6l2-0.6l2-0.6l2-0.6l2-0.6l2-0.5l2-0.6l2-0.5l2-0.5l2-0.5l2-0.7l2-0.6l2-0.7l2-0.8l2-0.8l2-0.8l2-0.8l2-0.8l2-0.6l2-0.3l2-0.1l2 0.3l2 0.4l2 0.5l2 0.4l2 0.4l2 0.1l2-0.2l2-0.4l2-0.7l2-1l2-1l2-1l2-1l2-1l2-1l2-0.8l2-0.8l2-0.6l2-0.6l2-0.4l2-0.4l2-0.3l2-0.2l2-0.1l2 0l2 0l2 0l2 0l2 0l2 0l2 0l2 0l2-0.1l2 0l2-0.1l2-0.1l2-0.1l2-0.2l2-0.2l2-0.1l2-0.5l2-0.6l2-0.9l2-1.1l2-1.3l2-1.2l2-1.1l2-1.1l2-1l2-0.9l2-0.9l2-0.8l2-0.8l2-0.7l2-0.6l2-0.8l2-0.8l2-0.9l2-0.9l2-1l2-1l2-1.1l2-1l2-1.1l2-1.1l2-1.1l2-1l2-0.9l2-0.8l2-0.8l2-0.8l2-0.7l2-0.8l2-0.7l2-0.8l2-0.7l2-0.7l2-0.7l2-0.7l2-0.6l2-0.6l2-0.6l2-0.6l2-0.6l2-0.6l2-0.5l2-0.6l2-0.5l2-0.5l2-0.4l2-0.4l2-0.3l2-0.2l2-0.1l2 0l2 0l2 0l2 0l2 0.1l2 0.1l2 0l2 0.2l2 0.1l2 0.1l2 0l2 0l2-0.1l2-0.1l2-0.2l2-0.2l2-0.3l2-0.4l2-0.5l2-0.6l2-0.8l2-0.8l2-0.8l2-0.7l2-0.8l2-0.7l2-0.6l2-0.6l2-0.6l2-0.6l2-0.5l2-0.4l2-0.3l2-0.2l2-0.1l2-0.1l2-0.1l2-0.1l2-0.1l2 0l2 0l2 0l2 0l2 0l2 0l2 0.1l2 0.1l2 0.1l2 0.1l2 0.1l2 0.1l2 0.1l2 0.1l2 0l2 0l2 0l2 0l2-0.1l2-0.2l2-0.3l2-0.3l2-0.4l2-0.4l2-0.4l2-0.2l2 0l2 0l2 0.2l2 0.3l2 0.3l2 0.4l2 0.4l2 0.5l2 0.5l2 0.5l2 0.5l2 0.5l2 0.5l2 0.5l2 0.5l2 0.6l2 0.6l2 0.7l2 0.7l2 0.7l2 0.7l2 0.7l2 0.6l2 0.5l2 0.5l2 0.4l2 0.3l2 0.1l2 0l2-0.1l2-0.1l2-0.2l2-0.1l2-0.2l2 0l2 0.2l2 0.5l2 0.8l2 1l2 1.2l2 1.2l2 1.1l2 1.1l2 0.9l2 0.7l2 0.5l2 0.3l2 0l2 0l2-0.2l2-0.3l2-0.4l2-0.4l2-0.3l2-0.3l2-0.2l2-0.1l2-0.1l2 0l2 0l2 0.1l2 0.3l2 0.3l2 0.5l2 0.8l2 1.1l2 1.3l2 1.6l2 1.5l2 1.5l2 1.5l2 1.3l2 1.1l2 0.9l2 0.7l2 0.5l2 0.6l2 0.7l2 0.8l2 1l2 1l2 1.1l2 1.1l2 1.1l2 1l2 1l2 1l2 0.9l2 0.9l2 0.9l2 0.8l2 0.7l2 0.7l2 0.6l2 0.6l2 0.4l2 0.3l2 0.4l2 0.3l2 0.3l2 0.5l2 0.4l2 0.6l2 0.8l2 0.9l2 1l2 1l2 0.9l2 0.9l2 0.7l2 0.7l2 0.6l2 0.6l2 0.6l2 0.7l2 0.6l2 0.6l2 0.6l2 0.6l2 0.6l2 0.6l2 0.6l2 0.5l2 0.5l2 0.4l2 0.3l2 0.3l2 0.3l2 0.3l2 0.4l2 0.3l2 0.4l2 0.3l2 0.5l2 0.6l2 0.7l2 0.8l2 0.9l2 0.8l2 0.8l2 0.9l2 0.6l2 0.5l2 0.3l2 0.2l2-0.1l2-0.1l2-0.1l2-0.1l2 0l2-0.1l2-0.1l2-0.1l2 0l2 0.2l2 0.2l2 0.5l2 0.5l2 0.6l2 0.6l2 0.7l2 0.7l2 0.7l2 0.8l2 0.7l2 0.6l2 0.5l2 0.4l2 0.4l2 0.2l2 0l2-0.3l2-0.5l2-0.7l2-0.8l2-0.6l2-0.4l2-0.1l2 0l2 0.3l2 0.2l2 0.3l2 0.2l2 0.3l2 0.2l2 0.2l2 0.1l2 0.1l2-0.1l2-0.2l2-0.3l2-0.2l2-0.2l2-0.1l2-0.2l2-0.1l2-0.1l2-0.1l2-0.1l2-0.2l2-0.1l2-0.2l2-0.1l2-0.1l2-0.1l2-0.1l2-0.1l2-0.2l2-0.1l2-0.2l2-0.2l2-0.3l2-0.3l2-0.4l2-0.4l2-0.5l2-0.7l2-0.6l2-0.7l2-0.6l2-0.7l2-0.6l2-0.7l2-0.5l2-0.6l2-0.4l2-0.3l2-0.1l2 0.1l2 0.3l2 0.6l2 0.6l2 0.7l2 0.5l2 0.5l2 0.3l2 0.3l2 0.3l2 0.3l2 0.2l2 0.2l2 0l2-0.2l2-0.4l2-0.6l2-0.9l2-1.1l2-1.2l2-1.4l2-1.2l2-0.9" fill="none" stroke="#6d2a4c" stroke-width="1.6" stroke-linejoin="round"/>
<path d="M1546.5 506.2l2.2-11.2l2.2 2.4l2.3 9.7l2.2 2.4l2.3 10.6l2.2 11.2l2.2 4l2.3-5.2l2.2-0.5l2.3 4.9l2.2 5.3l2.2-7.9l2.3-4.4l2.2 15.1l2.3 10.5l2.2-2.4l2.3-9.6l2.2 6.2l2.2 1.6l2.3-4.5l2.2-10.3l2.3 9.9l2.2 1.4l2.2 6l2.3-7.4l2.2-7.7l2.3-9.1l2.2 2.9l2.2 9.9l2.3 25.9l2.2 4.9l2.3 2.2l2.2-3l2.2-15.2l2.3-5.4l2.2 6l2.3 2.6l2.2 12.7l2.2 5.1l2.3 5.5l2.2 2.9l2.3 1.8l2.2-1.3l2.2-6l2.3-6.1l2.2 6.5l2.3 4.4l2.2 0.5l2.2-1.1l2.3 2.3l2.2 0.4l2.3 0.6l2.2 3.7l2.2 6.4l2.3-3.4l2.2 6.5l2.3 1.1l2.2 0.6l2.3 3.1l2.2-2l2.2 3.7l2.3-1.7l2.2-3.6l2.3-9l2.2-2.8l2.2 2.4l2.3 2.5l2.2 1.3l2.3 1.5l2.2 0.9l2.2-0.7l2.3-0.3l2.2-3.9l2.3-8.9l2.2-4.4l2.2 1.9l2.3 16.3l2.2 12.4l2.3 9.5l2.2 6.5l2.2 2.8l2.3-1.6l2.2-3.5l2.3-2.1l2.2-2l2.2-2.2l2.3-2.2l2.2-1.3l2.3 0l2.2-2.8l2.2 0.6l2.3 3.8l2.2 12.6l2.3 7.3l2.2 7.5l2.3 2.7l2.2-0.2l2.2-0.2l2.3-3.7l2.2 1.3l2.3-0.1l2.2 0.8l2.2 3.7l2.3 3.1l2.2 3.6l2.3 1.6l2.2 2.4l2.2 2.6l2.3 2.8l2.2 0.4l2.3-1.3l2.2-0.8l2.2-0.4l2.3-1.8l2.2-1.8l2.3-3.1l2.2-2.1l2.2-2l2.3-5.5l2.2-1.8l2.3 2.9l2.2 8.8l2.2 0.2l2.3-5.4l2.2-6.9l2.3-6.5l2.2-0.7l2.2 5.9l2.3 19.3l2.2 6.2l2.3 0.7l2.2-2.3l2.2 0.6l2.3 0.4l2.2 0.3l2.3 0.4l2.2 0.2l2.3 0.1l2.2 0.1l2.2 0.1l2.3-0.2l2.2 0.6l2.3 0.8l2.2 0.6l2.2 0.5l2.3 0.4l2.2-0.2l2.3-0.3l2.2-0.2l2.2-0.1l2.3 0.9l2.2 1.4l2.3 0.9l2.2 0.1l2.2-0.2l2.3-1.3l2.2 0.4l2.3 5.9l2.2 2.7l2.2 1.5l2.3-1l2.2-1.8l2.3-2.7l2.2-2.7l2.2 4.5l2.3 1.4l2.2-2l2.3-3.4l2.2-10.8l2.2 3.1l2.3 3.6l2.2 2.1l2.3 0.9l2.2-0.4l2.2-0.3l2.3-0.3l2.2-0.3l2.3-0.4l2.2 0.4l2.3 0.8l2.2 0.8l2.2 0.7l2.3 0.3l2.2-0.4l2.3-0.4l2.2-0.5l2.2-0.4l2.3-0.8l2.2-23l2.3-10l2.2 2.4l2.2 15.4l2.3 1.2l-1.1 7l-2.3-1.5l-2.2-9.4l-2.3 1.9l-2.2 7.3l-2.2 9l-2.3 0.8l-2.2 0.4l-2.3 0.5l-2.2 0.4l-2.2 0.4l-2.3-0.3l-2.2-0.7l-2.3-0.8l-2.2-0.8l-2.2-0.4l-2.3 0.4l-2.2 0.3l-2.3 0.3l-2.2 0.3l-2.3 0.4l-2.2-0.8l-2.2-1.6l-2.3-2l-2.2-0.8l-2.3 8.5l-2.2 1.3l-2.2 1.9l-2.3-0.6l-2.2-5.3l-2.3 2.8l-2.2 2.6l-2.2 1.8l-2.3 1l-2.2-0.5l-2.3-2.2l-2.2-3.9l-2.2-2.2l-2.3-0.4l-2.2 0.2l-2.3-0.1l-2.2-0.9l-2.2-1.4l-2.3-0.9l-2.2 0.1l-2.3 0.2l-2.2 0.3l-2.2 0.2l-2.3-0.4l-2.2-0.5l-2.3-0.6l-2.2-0.8l-2.2-0.6l-2.3 0.2l-2.2-0.1l-2.3-0.1l-2.2-0.1l-2.3-0.2l-2.2-0.4l-2.2-0.3l-2.3-0.4l-2.2-0.4l-2.3 3.4l-2.2 1.2l-2.2-2.3l-2.3-18.7l-2.2-10.6l-2.3 2.7l-2.2 11l-2.2 7.1l-2.3 5.7l-2.2 0.3l-2.3-6l-2.2-10.4l-2.2 1.3l-2.3 5.4l-2.2 1.2l-2.3 1.4l-2.2 2.8l-2.2 2.2l-2.3 3.9l-2.2 0l-2.3 1.3l-2.2 0.2l-2.2-1.3l-2.3-0.7l-2.2-2.8l-2.3-2.5l-2.2-4.1l-2.2-2.2l-2.3-2.1l-2.2 0l-2.3-3.9l-2.2-3.1l-2.2-3.1l-2.3 6.6l-2.2 3.7l-2.3 0.6l-2.2-1.4l-2.3-2.6l-2.2-13l-2.2-14.9l-2.3-7.1l-2.2-1.3l-2.3 4.5l-2.2 3.3l-2.2 1.8l-2.3 2.5l-2.2 4.3l-2.3 2.7l-2.2 3.3l-2.2 2.8l-2.3 2.7l-2.2-2.7l-2.3-5.8l-2.2-6.6l-2.2-18.4l-2.3-16.2l-2.2-4l-2.3 4.1l-2.2 6.4l-2.2 3.3l-2.3 0.3l-2.2 0.8l-2.3-1l-2.2-1.3l-2.2-2.9l-2.3-0.9l-2.2 0.9l-2.3 3.8l-2.2 15l-2.2 5.6l-2.3-0.8l-2.2-5.2l-2.3-3.4l-2.2-2.3l-2.2-0.7l-2.3-1.6l-2.2-1.9l-2.3 2.3l-2.2 0.5l-2.3-9.5l-2.2-5.1l-2.2-3.9l-2.3-2.1l-2.2 5.9l-2.3 8.7l-2.2-0.9l-2.2-4.9l-2.3-3.9l-2.2 2.8l-2.3 2.5l-2.2 1.8l-2.2 0.5l-2.3-8.1l-2.2-10.2l-2.3-7.6l-2.2-6.3l-2.2 6.7l-2.3 6.7l-2.2 9.2l-2.3 1.5l-2.2 0.9l-2.2-5.9l-2.3-24.9l-2.2-6.7l-2.3 1.1l-2.2 4.9l-2.2 9.3l-2.3 5.3l-2.2-5.5l-2.3-5.4l-2.2 4.7l-2.2-3.4l-2.3 4.2l-2.2-6.6l-2.3-3.9l-2.2 5.7l-2.3 3.4l-2.2-9.7l-2.2-9.9l-2.3 3.6l-2.2 5.2l-2.3-5l-2.2 0.5l-2.2-9.2l-2.3 2.9l-2.2 1.1l-2.3-2.9l-2.2-13l-2.2-6.6l-2.3 0.8l-2.2-5.1l-2.3 6.3z" fill="#56a4c8" stroke="none"/>
<path d="M1545.3 528.7l1.2-22.5l1.1 16.2l1.1-27.4l1.1 32.5l1.1-30.1l1.2 29.3l1.1-19.6l1.1 26.2l1.1-23.8l1.1 36.8l1.2-26.2l1.1 29.1l1.1-17.9l1.1 16.8l1.1-12.8l1.2 9.9l1.1-15.1l1.1 24.3l1.1-24.8l1.1 24.3l1.2-19.4l1.1 24.4l1.1-19.1l1.1 13.9l1.1-21.8l1.2 18.2l1.1-22.6l1.1 32.5l1.1-17.4l1.1 27.1l1.2-16.6l1.1 13.2l1.1-15.6l1.1 9.9l1.2-19.5l1.1 23.4l1.1-17.2l1.1 23.8l1.1-22.2l1.2 18l1.1-22.5l1.1 25.9l1.1-36.2l1.1 31.5l1.2-21.6l1.1 27l1.1-25.6l1.1 31.1l1.1-25.1l1.2 19.8l1.1-27.2l1.1 17.9l1.1-25.6l1.1 20.7l1.2-29.8l1.1 28.7l1.1-25.8l1.1 32.5l1.1-22.6l1.2 47.5l1.1-21.6l1.1 27.5l1.1-22.6l1.1 21.7l1.2-19.5l1.1 18l1.1-21l1.1 11.8l1.1-27l1.2 20.3l1.1-25.7l1.1 19l1.1-13l1.1 19.3l1.2-16.7l1.1 24.3l1.1-11.6l1.1 21.8l1.1-16.7l1.2 24.8l1.1-19.3l1.1 18.8l1.1-15.9l1.1 14.1l1.2-12.3l1.1 9.8l1.1-11.1l1.1 8.3l1.1-14.3l1.2 18.2l1.1-24.3l1.1 29.2l1.1-22.7l1.1 23.6l1.2-19.2l1.1 10.5l1.1-10l1.1 4.1l1.1-5.2l1.2 7.3l1.1-5l1.1 8.9l1.1-8.5l1.1 13.6l1.2-13l1.1 22.5l1.1-18.8l1.1 18.3l1.1-11.9l1.2 9.6l1.1-13l1.1 14.9l1.1-8.4l1.2 10l1.1-8.9l1.1 9.6l1.1-9l1.1 11.3l1.2-8.2l1.1 11.6l1.1-13.6l1.1 18.8l1.1-15.1l1.2 15.9l1.1-17.6l1.1 12l1.1-15.6l1.1 0.6l1.2-9.6l1.1 5.8l1.1-8.6l1.1 7.7l1.1-5.3l1.2 6.2l1.1-3.7l1.1 6.6l1.1-5.3l1.1 6.6l1.2-5.1l1.1 6.1l1.1-5.2l1.1 4.4l1.1-5.1l1.2 4.8l1.1-5.1l1.1 1.8l1.1-5.7l1.1-0.7l1.2-8.2l1.1 4.1l1.1-8.5l1.1 12.5l1.1-10.6l1.2 26.8l1.1-10.5l1.1 28.9l1.1-16.5l1.1 23.1l1.2-13.6l1.1 19.4l1.1-12.9l1.1 15.6l1.1-12.8l1.2 10.1l1.1-11.7l1.1 8.9l1.1-12.4l1.1 9.1l1.2-11.2l1.1 8.5l1.1-10.5l1.1 6.2l1.1-8.4l1.2 5.9l1.1-8.1l1.1 6.3l1.1-7.6l1.1 4.3l1.2-4.3l1.1-0.2l1.1-2.6l1.1 3.9l1.1-3.3l1.2 10.4l1.1-6.6l1.1 21.5l1.1-8.9l1.1 21.9l1.2-14.6l1.1 17.2l1.1-9.7l1.1 11.1l1.2-8.4l1.1 7.8l1.1-8l1.1 4.3l1.1-4.5l1.2-2.1l1.1-1.6l1.1 4.7l1.1-3.4l1.1 6.5l1.2-6.6l1.1 10.5l1.1-9.7l1.1 9.7l1.1-6l1.2 8.1l1.1-5l1.1 7.2l1.1-3.6l1.1 7.7l1.2-6.1l1.1 8.6l1.1-6.2l1.1 9l1.1-6.4l1.2 7.1l1.1-4.3l1.1 5.6l1.1-5.2l1.1 5l1.2-6.3l1.1 5l1.1-5.8l1.1 5.8l1.1-6.2l1.2 2.3l1.1-4.1l1.1 1.9l1.1-3.7l1.1 0.9l1.2-4l1.1 2.6l1.1-4.7l1.1 3.5l1.1-5.5l1.2 0.1l1.1-5.6l1.1 4.3l1.1-6.1l1.1 16.5l1.2-13.6l1.1 19.6l1.1-10.8l1.1 10.5l1.1-10.3l1.2 4.6l1.1-10l1.1 2.9l1.1-9.8l1.1-1.2l1.2-5.3l1.1 2.6l1.1-3.3l1.1 13.9l1.1-8l1.2 26.7l1.1-7.4l1.1 9.7l1.1-3.5l1.1 2.3l1.2-1.6l1.1-1.8l1.1-0.5l1.1 0.9l1.1-0.3l1.2 0.7l1.1-0.3l1.1 0.6l1.1-0.3l1.1 0.7l1.2-0.3l1.1 0.5l1.1-0.3l1.1 0.4l1.2-0.3l1.1 0.4l1.1-0.3l1.1 0.4l1.1-0.3l1.2 0.1l1.1-0.3l1.1 0.9l1.1-0.3l1.1 1.1l1.2-0.3l1.1 0.9l1.1-0.3l1.1 0.8l1.1-0.3l1.2 0.7l1.1-0.3l1.1 0.1l1.1-0.3l1.1 0l1.2-0.3l1.1 0.1l1.1-0.3l1.1 0.2l1.1-0.3l1.2 1.2l1.1-0.3l1.1 1.7l1.1-0.3l1.1 1.2l1.2-0.3l1.1 0.4l1.1-0.3l1.1 0.1l1.1-0.3l1.2 0.7l1.1-2l1.1 4.2l1.1-3.8l1.1 7.7l1.2-1.8l1.1 4l1.1-1.3l1.1 1.8l1.1-0.3l1.2-0.7l1.1-0.3l1.1-1.5l1.1-0.3l1.1-2.3l1.2-0.4l1.1-2.4l1.1-0.3l1.1 5.6l1.1-1.1l1.2 1.7l1.1-0.3l1.1-1.6l1.1-0.4l1.1-0.9l1.2-2.5l1.1-6l1.1-4.8l1.1 5.6l1.1-2.5l1.2 4.5l1.1-0.9l1.1 2.5l1.1-0.4l1.1 1.2l1.2-0.3l1.1-0.1l1.1-0.3l1.1 0l1.1-0.3l1.2 0l1.1-0.3l1.1 0l1.1-0.3l1.2-0.1l1.1-0.3l1.1 0.7l1.1-0.3l1.1 1.1l1.2-0.3l1.1 1.1l1.1-0.3l1.1 1l1.1-0.3l1.2 0.6l1.1-0.3l1.1-0.1l1.1-0.3l1.1-0.1l1.2-0.3l1.1-0.2l1.1-0.3l1.1-0.1l1.1-0.3l1.2-0.5l1.1-0.3l1.1-8.7l1.1-14.3l1.1 7l1.2-17l1.1 15.1l1.1-12.7l1.1 22.1l1.1-6.7l1.2 8.2l1.1-7" fill="none" stroke="#56a4c8" stroke-width="1.5" stroke-linejoin="round"/>
<path d="M1546.5 518.3l2.2-6.5l2.2 4.5l2.3 4.5l2.2 4.2l2.3 4.1l2.2 7.8l2.2 2.3l2.3-3.1l2.2 1.2l2.3 5.1l2.2 3.4l2.2-4.9l2.3-4.7l2.2 9.4l2.3 8.4l2.2-1.3l2.3-4.8l2.2 3l2.2 2.1l2.3-1.1l2.2-3.7l2.3 2.6l2.2 3.5l2.2 2.5l2.3-3.1l2.2-7.1l2.3-2.9l2.2 2.9l2.2 3.5l2.3 14.7l2.2 4.1l2.3 1.2l2.2 2.2l2.2-7.3l2.3-4.1l2.2 3.1l2.3 2l2.2 6.4l2.2 4.2l2.3 4.4l2.2 0.5l2.3-0.8l2.2 0.2l2.2-2.3l2.3-1.9l2.2 2.2l2.3 3.7l2.2-1.2l2.2-0.5l2.3 1.6l2.2 2.8l2.3 0.9l2.2 5l2.2 3.3l2.3-2.1l2.2 4l2.3 1.7l2.2 1.3l2.3 2.4l2.2-0.2l2.2 1.5l2.3-1.6l2.2-1l2.3-6.1l2.2-2.3l2.2-0.1l2.3 0.7l2.2 1.2l2.3 0.4l2.2 0.7l2.2-0.7l2.3-0.4l2.2-2.2l2.3-4.3l2.2-0.7l2.2 4.1l2.3 8.6l2.2 9.4l2.3 6.2l2.2 4.6l2.2 2.5l2.3 0l2.2-2l2.3-0.5l2.2-1.7l2.2-2.3l2.3-2l2.2-1l2.3 0l2.2-1.4l2.2 1.7l2.3 3.7l2.2 7.8l2.3 5.7l2.2 4.3l2.3 2.6l2.2 1.5l2.2-0.3l2.3-1.9l2.2 2.4l2.3 1.2l2.2 2.4l2.2 1l2.3 2.5l2.2 2.6l2.3 2.1l2.2 1.3l2.2 2l2.3 1.3l2.2 0.4l2.3-0.3l2.2-1.3l2.2 0.2l2.3-1.9l2.2-1.3l2.3-2.4l2.2-1.5l2.2-1.2l2.3-3l2.2 0.2l2.3 3.4l2.2 2.2l2.2 1.1l2.3-3.1l2.2-3.7l2.3-4.5l2.2 0.1l2.2 5.1l2.3 10.5l2.2 4.1l2.3 0.6l2.2-1.5l2.2 0.7l2.3 0.5l2.2 0.4l2.3 0.5l2.2 0.3l2.3 0.3l2.2 0.2l2.2 0.2l2.3-0.3l2.2 0.1l2.3 0.5l2.2 0.5l2.2 0.4l2.3 0.4l2.2 0.1l2.3 0.1l2.2 0.1l2.2 0.2l2.3 0.6l2.2 0.9l2.3 0.6l2.2 0.6l2.2 0.5l2.3 0.6l2.2 0l2.3 2.6l2.2 1.6l2.2 0.6l2.3 0.2l2.2-0.7l2.3-1.7l2.2-1.8l2.2 2.5l2.3 0.1l2.2-0.4l2.3-0.8l2.2-7.5l2.2 0.3l2.3 1.5l2.2 1.1l2.3 0.7l2.2-0.1l2.2-0.2l2.3-0.1l2.2-0.1l2.3-0.2l2.2 0.3l2.3 0.5l2.2 0.5l2.2 0.5l2.3 0.1l2.2-0.4l2.3-0.5l2.2-0.5l2.2-0.1l2.3-0.1l2.2-11.4l2.3-5.8l2.2-0.1l2.2 5.7l2.3 1l-1.1 0.8l-2.3-1.1l-2.2-4l-2.3 2.6l-2.2 6.6l-2.2 6l-2.3 0.1l-2.2 0.2l-2.3 0.4l-2.2 0.5l-2.2 0.4l-2.3-0.1l-2.2-0.5l-2.3-0.5l-2.2-0.5l-2.2-0.3l-2.3 0.2l-2.2 0.1l-2.3 0.1l-2.2 0.2l-2.3 0.1l-2.2-0.7l-2.2-1.1l-2.3-1.5l-2.2-0.2l-2.3 7.4l-2.2 0.8l-2.2 0.4l-2.3-0.1l-2.2-2.5l-2.3 1.8l-2.2 1.7l-2.2 0.7l-2.3-0.2l-2.2-0.6l-2.3-1.6l-2.2-2.5l-2.2-0.1l-2.3-0.6l-2.2-0.5l-2.3-0.5l-2.2-0.7l-2.2-0.9l-2.3-0.6l-2.2-0.2l-2.3-0.1l-2.2-0.1l-2.2-0.1l-2.3-0.4l-2.2-0.4l-2.3-0.5l-2.2-0.5l-2.2-0.1l-2.3 0.3l-2.2-0.2l-2.3-0.2l-2.2-0.3l-2.3-0.3l-2.2-0.5l-2.2-0.4l-2.3-0.5l-2.2-0.7l-2.3 1.5l-2.2-0.5l-2.2-3.5l-2.3-10.3l-2.2-5.6l-2.3-0.3l-2.2 4.9l-2.2 4.1l-2.3 3.1l-2.2-0.6l-2.3-2.3l-2.2-4.5l-2.2-0.3l-2.3 3.1l-2.2 1.1l-2.3 1.5l-2.2 2.3l-2.2 1.3l-2.3 2.2l-2.2-0.1l-2.3 1.2l-2.2 0.2l-2.2-0.5l-2.3-1.1l-2.2-1.9l-2.3-1.5l-2.2-2.3l-2.2-2.6l-2.3-2.2l-2.2-0.9l-2.3-2.4l-2.2-1.7l-2.2-2.4l-2.3 2.2l-2.2 0.8l-2.3-1.5l-2.2-2.1l-2.3-3.2l-2.2-6.9l-2.2-8.7l-2.3-4l-2.2-1.7l-2.3 1.5l-2.2 0.1l-2.2 1.5l-2.3 1.9l-2.2 2.5l-2.3 1.8l-2.2 1.3l-2.2 1.6l-2.3 1.3l-2.2-2.4l-2.3-4.8l-2.2-6.1l-2.2-10.2l-2.3-9l-2.2-3.4l-2.3-0.1l-2.2 3.4l-2.2 2.1l-2.3 0.3l-2.2 0.9l-2.3-0.8l-2.2-0.5l-2.2-1.4l-2.3-0.5l-2.2 0.5l-2.3 2.5l-2.2 8.1l-2.2 1.4l-2.3 1.1l-2.2-2.3l-2.3-0.8l-2.2-2.3l-2.2-1.7l-2.3-1.5l-2.2-2.5l-2.3 2.1l-2.2-3.1l-2.3-5.8l-2.2-2.2l-2.2-3l-2.3-1.4l-2.2 1.3l-2.3 3.3l-2.2-2.8l-2.2-2.5l-2.3 1l-2.2 1.5l-2.3 0.3l-2.2 1l-2.2 0.4l-2.3-5.9l-2.2-5.3l-2.3-5.1l-2.2-1.9l-2.2 2l-2.3 0.4l-2.2 8.4l-2.3-3.9l-2.2 0.9l-2.2-5.4l-2.3-9.4l-2.2-4.1l-2.3-2l-2.2 2.3l-2.2 2.9l-2.3 2.5l-2.2-2.9l-2.3 0.4l-2.2 1.9l-2.2-3.5l-2.3 0.4l-2.2-3.5l-2.3-2.1l-2.2 4.5l-2.3 0l-2.2-6.8l-2.2-5.2l-2.3 1.3l-2.2 3.5l-2.3-2.5l-2.2-1.4l-2.2-4.7l-2.3 0.7l-2.2-1.5l-2.3-2.6l-2.2-5.6l-2.2-2l-2.3-0.3l-2.2-5.3l-2.3 1.3z" fill="#b9e2c9" stroke="none"/>
<path d="M1545.3 525.6l1.2-7.3l1.1 6l1.1-12.5l1.1 17.8l1.1-13.3l1.2 13.6l1.1-9.1l1.1 11.1l1.1-6.9l1.1 12.5l1.2-8.4l1.1 11l1.1-3.2l1.1 4.7l1.1-2.4l1.2 1.7l1.1-4.8l1.1 9.5l1.1-8.3l1.1 9.7l1.2-4.6l1.1 7.1l1.1-3.7l1.1 0.2l1.1-5.1l1.2 3.8l1.1-8.5l1.1 13.7l1.1-4.3l1.1 11.1l1.2-2.7l1.1 2.7l1.1-4l1.1-0.5l1.2-4.3l1.1 6.4l1.1-3.4l1.1 6.9l1.1-4.8l1.2 4.4l1.1-5.5l1.1 9l1.1-12.7l1.1 10.8l1.2-8.2l1.1 7.8l1.1-4.3l1.1 7.2l1.1-4.7l1.2 2.2l1.1-5.3l1.1 2.4l1.1-9.5l1.1 7.2l1.2-10.1l1.1 12.1l1.1-9.2l1.1 13.3l1.1-9.8l1.2 19.2l1.1-4.5l1.1 9.9l1.1-5.8l1.1 4.9l1.2-3.7l1.1 7.6l1.1-5.4l1.1-3l1.1-4.3l1.2 3.9l1.1-8l1.1 6l1.1-2.9l1.1 4.8l1.2-2.8l1.1 7.9l1.1-1.5l1.1 6.8l1.1-2.6l1.2 8.5l1.1-4.1l1.1 3.7l1.1-3.2l1.1 2.2l1.2-3l1.1 2.7l1.1-2.5l1.1 1l1.1-3.3l1.2 2.3l1.1-4.2l1.1 6.7l1.1-4.5l1.1 7.3l1.2-3.6l1.1 0.3l1.1-1.5l1.1 0.2l1.1-0.7l1.2 2.1l1.1-0.5l1.1 3.5l1.1-0.7l1.1 2.9l1.2-2l1.1 7.8l1.1-2.8l1.1 5.9l1.1-2.6l1.2 0.5l1.1-2.6l1.1 5.1l1.1-1.1l1.2 2.6l1.1-0.9l1.1 2.6l1.1-1.3l1.1 3.6l1.2-1.2l1.1 2l1.1-2.2l1.1 4.5l1.1-3l1.2 1.9l1.1-3.5l1.1 2.1l1.1-3.1l1.1-5l1.2-1.1l1.1-1.4l1.1-0.9l1.1 0.4l1.1-0.5l1.2 1l1.1-0.3l1.1 1.7l1.1-0.5l1.1 1l1.2-0.6l1.1 1.4l1.1-0.7l1.1-0.2l1.1-0.5l1.2 0.2l1.1-0.6l1.1-1.5l1.1-0.7l1.1-2.7l1.2-1.6l1.1 1.7l1.1-2.4l1.1 5.8l1.1-1.7l1.2 10.7l1.1-2.1l1.1 12.3l1.1-2.9l1.1 9l1.2-2.8l1.1 7.6l1.1-3l1.1 5.4l1.1-2.9l1.2 1.6l1.1-1.6l1.1 0l1.1-2l1.1 0.7l1.2-1.2l1.1-0.6l1.1-1.1l1.1-1.4l1.1-0.9l1.2-1l1.1-1l1.1-0.5l1.1-0.5l1.1 0.4l1.2-0.4l1.1-1.1l1.1-0.3l1.1 2l1.1-0.3l1.2 4.3l1.1-0.6l1.1 9.3l1.1-1.5l1.1 8.4l1.2-2.7l1.1 5.9l1.1-1.6l1.1 3.7l1.2-1.1l1.1 2.6l1.1-1.1l1.1 0.3l1.1-0.6l1.2-1.6l1.1-0.3l1.1 2.7l1.1-0.3l1.1 2l1.2-0.8l1.1 3.2l1.1-0.8l1.1 1.7l1.1-0.7l1.2 2.9l1.1-0.4l1.1 3l1.1-0.4l1.1 2.7l1.2-0.6l1.1 2.1l1.1-0.8l1.1 2.7l1.1-0.7l1.2 1.8l1.1-0.5l1.1 1l1.1-0.6l1.1 0.4l1.2-0.7l1.1-0.5l1.1-0.8l1.1 0.9l1.1-0.7l1.2-1.5l1.1-0.4l1.1-0.9l1.1-0.4l1.1-1.9l1.2-0.5l1.1-1l1.1-0.5l1.1-0.6l1.1-0.6l1.2-2.5l1.1-0.5l1.1 0.8l1.1-0.6l1.1 5.1l1.2-1.7l1.1 4l1.1-1.8l1.1 2.4l1.1-1.3l1.2-1.8l1.1-1.3l1.1-2.8l1.1-0.9l1.1-4l1.2-0.5l1.1 0.8l1.1-0.7l1.1 6.3l1.1-1.2l1.2 11.5l1.1-1l1.1 4.5l1.1-0.4l1.1 0.9l1.2-0.3l1.1-1.2l1.1-0.3l1.1 1l1.1-0.3l1.2 0.8l1.1-0.3l1.1 0.7l1.1-0.3l1.1 0.8l1.2-0.3l1.1 0.6l1.1-0.3l1.1 0.6l1.2-0.3l1.1 0.5l1.1-0.3l1.1 0.5l1.1-0.3l1.2 0l1.1-0.3l1.1 0.4l1.1-0.3l1.1 0.8l1.2-0.3l1.1 0.8l1.1-0.3l1.1 0.7l1.1-0.3l1.2 0.7l1.1-0.3l1.1 0.4l1.1-0.3l1.1 0.4l1.2-0.3l1.1 0.4l1.1-0.3l1.1 0.5l1.1-0.3l1.2 0.9l1.1-0.3l1.1 1.2l1.1-0.3l1.1 1l1.2-0.4l1.1 0.9l1.1-0.3l1.1 0.8l1.1-0.3l1.2 0.9l1.1-0.3l1.1 0.4l1.1-0.4l1.1 2.9l1.2-0.3l1.1 1.9l1.1-0.3l1.1 0.9l1.1-0.3l1.2 0.5l1.1-0.3l1.1-0.4l1.1-0.3l1.1-1.4l1.2-0.3l1.1-1.5l1.1-0.3l1.1 2.8l1.1-0.3l1.2 0.4l1.1-0.3l1.1-0.1l1.1-0.3l1.1-0.5l1.2-0.3l1.1-7.1l1.1-0.4l1.1 0.6l1.1-0.3l1.2 1.8l1.1-0.3l1.1 1.4l1.1-0.3l1.1 1l1.2-0.3l1.1 0.2l1.1-0.3l1.1 0.1l1.1-0.3l1.2 0.2l1.1-0.3l1.1 0.2l1.1-0.3l1.2 0.1l1.1-0.3l1.1 0.6l1.1-0.3l1.1 0.8l1.2-0.3l1.1 0.8l1.1-0.3l1.1 0.8l1.1-0.3l1.2 0.4l1.1-0.3l1.1-0.1l1.1-0.3l1.1-0.2l1.2-0.3l1.1-0.1l1.1-0.4l1.1 0.2l1.1-0.3l1.2 0.2l1.1-0.3l1.1-5.7l1.1-5.7l1.1-0.9l1.2-4.9l1.1 2.3l1.1-2.4l1.1 6.4l1.1-0.7l1.2 1.8l1.1-0.8" fill="none" stroke="#b9e2c9" stroke-width="1.5" stroke-linejoin="round"/>
<path d="M1546.5 523.8l2.2-1.5l2.2 5.3l2.3 1.6l2.2 2.4l2.3 1.6l2.2 2.4l2.2 2.7l2.3 0.5l2.2 2.1l2.3 3.4l2.2 1l2.2-2l2.3-2.5l2.2 2.6l2.3 5.4l2.2 2.1l2.3-2.8l2.2 1.2l2.2 1.4l2.3 1.5l2.2 2.8l2.3-0.4l2.2-1.7l2.2-0.1l2.3 0.6l2.2-1.4l2.3-0.6l2.2 3.3l2.2 1.8l2.3 1.4l2.2 1.7l2.3 1.8l2.2 6.3l2.2-3.9l2.3 1.7l2.2 1.3l2.3 0.8l2.2 1.8l2.2 1.5l2.3 2.7l2.2-1.5l2.3-0.2l2.2 1.5l2.2 0.9l2.3-2.2l2.2-0.5l2.3 2.1l2.2 0.5l2.2 2.2l2.3 1.3l2.2 2.7l2.3 0.2l2.2 4.1l2.2 3.3l2.3-1.6l2.2 3.7l2.3 2l2.2 1.5l2.3 2.1l2.2-0.8l2.2 0.1l2.3-2.3l2.2 2l2.3-1.6l2.2-2l2.2-1l2.3-0.2l2.2 0.2l2.3-0.3l2.2 0.3l2.2-0.8l2.3-0.6l2.2-0.5l2.3 0.3l2.2 1.6l2.2 4l2.3 3.9l2.2 3.2l2.3 3.9l2.2 3.1l2.2 2.6l2.3 1.2l2.2-0.5l2.3 0.4l2.2-0.6l2.2-1.5l2.3-1.4l2.2-0.5l2.3 1.3l2.2 1.1l2.2 2.5l2.3 1.9l2.2 2.3l2.3 1.7l2.2 3.5l2.3 2.5l2.2 2.7l2.2 1.7l2.3 1.1l2.2 2.6l2.3 1.1l2.2 1.9l2.2 0.8l2.3 2.2l2.2 2.3l2.3 1l2.2 0.3l2.2 1.1l2.3 0.8l2.2 0.2l2.3-0.1l2.2-1.2l2.2 0.8l2.3-1.3l2.2-0.5l2.3-2l2.2-1l2.2-0.3l2.3-0.9l2.2 1.9l2.3 0.8l2.2-2.3l2.2 0.8l2.3-0.3l2.2-0.8l2.3 0.4l2.2 1.3l2.2 3l2.3 1.7l2.2 2.8l2.3 1.4l2.2 1.6l2.2 0.8l2.3 0.6l2.2 0.6l2.3 0.5l2.2 0.4l2.3 0.4l2.2 0.4l2.2 0.4l2.3-0.6l2.2-0.2l2.3 0.2l2.2 0.4l2.2 0.4l2.3 0.4l2.2 0.4l2.3 0.3l2.2 0.4l2.2 0.4l2.3 0.4l2.2 0.4l2.3 0.5l2.2 1l2.2 0.9l2.3 0.7l2.2-1.4l2.3 0l2.2 1.6l2.2 1.3l2.3 1.1l2.2 0.4l2.3-0.8l2.2-1l2.2-0.6l2.3 0.2l2.2 0.9l2.3-0.7l2.2-4.9l2.2-1.7l2.3 0.9l2.2 1.1l2.3 0.7l2.2 0l2.2 0l2.3 0.1l2.2 0l2.3 0l2.2 0.2l2.3 0.2l2.2 0.3l2.2 0.3l2.3 0l2.2-0.5l2.3-0.5l2.2-0.5l2.2 0.1l2.3 0.5l2.2-2.3l2.3-4.7l2.2-2.6l2.2-2.2l2.3 0l-1.1 0.3l-2.3 0l-2.2 2.4l-2.3 2.8l-2.2 4.9l-2.2 1.7l-2.3-0.5l-2.2-0.1l-2.3 0.5l-2.2 0.5l-2.2 0.5l-2.3 0l-2.2-0.3l-2.3-0.3l-2.2-0.2l-2.2-0.2l-2.3 0l-2.2 0l-2.3-0.1l-2.2 0l-2.3 0l-2.2-0.7l-2.2-1.1l-2.3-0.9l-2.2 1.7l-2.3 4.9l-2.2 0.7l-2.2-0.9l-2.3-0.1l-2.2 0.5l-2.3 1l-2.2 0.8l-2.2-0.4l-2.3-1.1l-2.2-1.3l-2.3-1.6l-2.2 0l-2.2 1.4l-2.3-0.7l-2.2-0.9l-2.3-1l-2.2-0.5l-2.2-0.4l-2.3-0.4l-2.2-0.4l-2.3-0.4l-2.2-0.3l-2.2-0.4l-2.3-0.4l-2.2-0.4l-2.3-0.4l-2.2-0.2l-2.2 0.2l-2.3 0.6l-2.2-0.4l-2.3-0.4l-2.2-0.4l-2.3-0.4l-2.2-0.5l-2.2-0.6l-2.3-0.6l-2.2-0.8l-2.3-1.6l-2.2-1.4l-2.2-2.8l-2.3-1.7l-2.2-3l-2.3-1.3l-2.2-0.4l-2.2 0.8l-2.3 0.3l-2.2-0.8l-2.3 2.3l-2.2-0.8l-2.2-1.9l-2.3 0.9l-2.2 0.3l-2.3 1l-2.2 2l-2.2 0.5l-2.3 1.3l-2.2-0.8l-2.3 1.2l-2.2 0.1l-2.2-0.2l-2.3-0.8l-2.2-1.1l-2.3-0.3l-2.2-1l-2.2-2.3l-2.3-2.2l-2.2-0.8l-2.3-1.9l-2.2-1.1l-2.2-2.6l-2.3-1.1l-2.2-1.7l-2.3-2.7l-2.2-2.5l-2.3-3.5l-2.2-1.7l-2.2-2.3l-2.3-1.9l-2.2-2.5l-2.3-1.1l-2.2-1.3l-2.2 0.6l-2.3 1.3l-2.2 1.5l-2.3 0.6l-2.2-0.4l-2.2 0.5l-2.3-1.2l-2.2-2.5l-2.3-3.1l-2.2-3.9l-2.2-3.3l-2.3-3.9l-2.2-4l-2.3-1.6l-2.2-0.3l-2.2 0.5l-2.3 0.6l-2.2 0.8l-2.3-0.3l-2.2 0.3l-2.2-0.2l-2.3 0.2l-2.2 1l-2.3 2l-2.2 1.7l-2.2-2l-2.3 2.3l-2.2-0.2l-2.3 0.8l-2.2-2.1l-2.2-1.5l-2.3-2l-2.2-3.6l-2.3 1.7l-2.2-3.3l-2.3-4.3l-2.2-0.2l-2.2-2.7l-2.3-1.3l-2.2-2.2l-2.3-0.4l-2.2-1.9l-2.2 0.5l-2.3 1.9l-2.2-0.9l-2.3-1.3l-2.2 0.2l-2.2 1.5l-2.3-2.8l-2.2-1.6l-2.3-1.5l-2.2-0.8l-2.2-0.6l-2.3-2.3l-2.2 3.9l-2.3-6.3l-2.2-1.9l-2.2-1.6l-2.3-1l-2.2-1.6l-2.3-3l-2.2 0.5l-2.2 0.6l-2.3-0.5l-2.2 0l-2.3 2.5l-2.2 0.5l-2.2-3.6l-2.3-1.7l-2.2-1.6l-2.3-1l-2.2 2.7l-2.3-2.1l-2.2-5.4l-2.2-1.9l-2.3 2.5l-2.2 1.3l-2.3-0.9l-2.2-2.6l-2.2-2.7l-2.3-1l-2.2-2.5l-2.3-1.5l-2.2-1.8l-2.2-2l-2.3-1.4l-2.2-5.2l-2.3 1.2z" fill="#d3af4e" stroke="none"/>
<path d="M1545.3 525.4l1.2-1.6l1.1 0.4l1.1-1.9l1.1 7.1l1.1-1.8l1.2 3.2l1.1-1.6l1.1 3.6l1.1-1.2l1.1 3l1.2-1.4l1.1 2.9l1.1-0.5l1.1 3l1.1-0.3l1.2 1.3l1.1-0.8l1.1 3.5l1.1-1.4l1.1 4l1.2-0.6l1.1 1.5l1.1-0.5l1.1-0.8l1.1-1.2l1.2-1.3l1.1-1.2l1.1 3.1l1.1-0.5l1.1 5.9l1.2-0.5l1.1 2.6l1.1-0.5l1.1-2.2l1.2-0.6l1.1 1.6l1.1-0.4l1.1 2l1.1-0.6l1.2 2.3l1.1-0.8l1.1 4.4l1.1-1.6l1.1 1.1l1.2-1.5l1.1-1l1.1-0.7l1.1 0.7l1.1-0.8l1.2 1.3l1.1-0.7l1.1 0.1l1.1-1.5l1.1 1l1.2-1.6l1.1 4.6l1.1-1.3l1.1 2.9l1.1-1.1l1.2 2.1l1.1-0.7l1.1 2.3l1.1-0.6l1.1 2.5l1.2-0.7l1.1 7l1.1-0.7l1.1-3.2l1.1-0.7l1.2 3l1.1-1.3l1.1 1.9l1.1-0.6l1.1 1.4l1.2-0.6l1.1 2.1l1.1-0.3l1.1 1.9l1.1-0.4l1.2 3.2l1.1-0.5l1.1-1l1.1-0.5l1.1 0.3l1.2-0.5l1.1 1.8l1.1-0.3l1.1 1.2l1.1-0.3l1.2-1.6l1.1-0.6l1.1 0.1l1.1-0.6l1.1 2.5l1.2-0.4l1.1 0.8l1.1-0.3l1.1 2.5l1.1-0.3l1.2 1.6l1.1-0.3l1.1 3l1.1-0.3l1.1 0.5l1.2-0.3l1.1 4.6l1.1-0.5l1.1 3.8l1.1-0.5l1.2-1.2l1.1-0.4l1.1 4l1.1-0.3l1.2 2.3l1.1-0.3l1.1 1.8l1.1-0.3l1.1 2.4l1.2-0.3l1.1-0.5l1.1-0.3l1.1 0.5l1.1-0.4l1.2-1.9l1.1-0.4l1.1 2.4l1.1-0.4l1.1-1.3l1.2-0.3l1.1-1.7l1.1-0.3l1.1-0.7l1.1-0.3l1.2 0.1l1.1-0.3l1.1 0.5l1.1-0.3l1.1 0l1.2-0.3l1.1 0.6l1.1-0.3l1.1-0.5l1.1-0.3l1.2-0.3l1.1-0.3l1.1-0.2l1.1-0.3l1.1 0.6l1.2-0.3l1.1 1.9l1.1-0.3l1.1 4.3l1.1-0.3l1.2 4.2l1.1-0.3l1.1 3.6l1.1-0.4l1.1 4.3l1.2-0.4l1.1 3.5l1.1-0.4l1.1 2.9l1.1-0.3l1.2 1.5l1.1-0.3l1.1-0.2l1.1-0.3l1.1 0.7l1.2-0.3l1.1-0.3l1.1-0.3l1.1-1.2l1.1-0.3l1.2-1l1.1-0.4l1.1-0.2l1.1-0.3l1.1 1.6l1.2-0.3l1.1 1.4l1.1-0.3l1.1 2.8l1.1-0.3l1.2 2.2l1.1-0.3l1.1 2.6l1.1-0.3l1.1 2l1.2-0.3l1.1 3.8l1.1-0.3l1.1 2.8l1.2-0.3l1.1 3l1.1-0.3l1.1 2l1.1-0.3l1.2 1.4l1.1-0.3l1.1 2.9l1.1-0.3l1.1 1.4l1.2-0.3l1.1 2.2l1.1-0.3l1.1 1.1l1.1-0.3l1.2 2.5l1.1-0.3l1.1 2.6l1.1-0.3l1.1 1.3l1.2-0.3l1.1 0.6l1.1-0.3l1.1 1.4l1.1-0.3l1.2 1.1l1.1-0.3l1.1 0.5l1.1-0.3l1.1 0.2l1.2-0.3l1.1-0.9l1.1-0.3l1.1 1.1l1.1-0.3l1.2-1l1.1-0.3l1.1-0.2l1.1-0.3l1.1-1.7l1.2-0.3l1.1-0.7l1.1-0.3l1.1 0l1.1-0.3l1.2-0.6l1.1-0.3l1.1 2.2l1.1-0.3l1.1 1.1l1.2-0.3l1.1-2l1.1-0.3l1.1 1.1l1.1-0.3l1.2 0l1.1-0.3l1.1-0.5l1.1-0.3l1.1 0.7l1.2-0.3l1.1 1.6l1.1-0.3l1.1 3.3l1.1-0.3l1.2 2l1.1-0.3l1.1 3.1l1.1-0.3l1.1 1.7l1.2-0.3l1.1 1.9l1.1-0.3l1.1 1.1l1.1-0.3l1.2 0.9l1.1-0.3l1.1 0.9l1.1-0.3l1.1 0.8l1.2-0.3l1.1 0.7l1.1-0.3l1.1 0.7l1.2-0.3l1.1 0.7l1.1-0.3l1.1 0.7l1.1-0.3l1.2-0.3l1.1-0.3l1.1 0.1l1.1-0.3l1.1 0.5l1.2-0.3l1.1 0.7l1.1-0.3l1.1 0.7l1.1-0.3l1.2 0.7l1.1-0.3l1.1 0.7l1.1-0.3l1.1 0.6l1.2-0.3l1.1 0.7l1.1-0.3l1.1 0.7l1.1-0.3l1.2 0.7l1.1-0.3l1.1 0.7l1.1-0.3l1.1 0.8l1.2-0.3l1.1 1.3l1.1-0.3l1.1 1.2l1.1-0.3l1.2 1l1.1-0.3l1.1-1.1l1.1-0.3l1.1 0.3l1.2-0.3l1.1 1.9l1.1-0.3l1.1 1.6l1.1-0.3l1.2 1.4l1.1-0.3l1.1 0.7l1.1-0.3l1.1-0.5l1.2-0.3l1.1-0.7l1.1-0.3l1.1-0.2l1.1-0.4l1.2 0.5l1.1-0.3l1.1 1.2l1.1-0.3l1.1-0.4l1.2-0.3l1.1-4.6l1.1-0.3l1.1-1.4l1.1-0.3l1.2 1.2l1.1-0.3l1.1 1.4l1.1-0.3l1.1 1l1.2-0.3l1.1 0.3l1.1-0.3l1.1 0.3l1.1-0.3l1.2 0.4l1.1-0.3l1.1 0.3l1.1-0.3l1.2 0.3l1.1-0.3l1.1 0.5l1.1-0.3l1.1 0.5l1.2-0.3l1.1 0.6l1.1-0.3l1.1 0.6l1.1-0.3l1.2 0.3l1.1-0.3l1.1-0.2l1.1-0.3l1.1-0.2l1.2-0.3l1.1-0.2l1.1-0.3l1.1 0.4l1.1-0.3l1.2 0.8l1.1-0.3l1.1-1.4l1.1-0.9l1.1-4l1.2-0.7l1.1-2.1l1.1-0.5l1.1-1.9l1.1-0.3l1.2 0.3l1.1-0.3" fill="none" stroke="#d3af4e" stroke-width="1.5" stroke-linejoin="round"/>
<path d="M1545.3 533.3l2-0.5l2-0.8l2-0.3l2 0.7l2 1.9l2 2.3l2 1.9l2 1.7l2 1.6l2 1.3l2 1.1l2 1l2 1l2 0.7l2 0.5l2 0.3l2 0.4l2 0.4l2 0.6l2 0.7l2 0.7l2 0.8l2 0.9l2 1l2 0.9l2 0.6l2 0.3l2 0l2-0.1l2-0.3l2-0.6l2-0.8l2 0.2l2 1.5l2 2.6l2 2.4l2 1.8l2 1l2 0.6l2 0.8l2 0.8l2 0.9l2 1l2 1l2 1l2 1l2 1l2 0.9l2 0.5l2 0.2l2 0l2 0.1l2 0.3l2 0.5l2 0.7l2 0.7l2 0.6l2 0.5l2 0.8l2 1.4l2 1.8l2 2l2 1.9l2 1.6l2 1.4l2 1.3l2 1.3l2 1.3l2 1.2l2 1l2 0.2l2-0.7l2-1.2l2-0.9l2-0.6l2-0.4l2-0.3l2-0.1l2 0l2 0.4l2 0.3l2-0.1l2-0.7l2-1.1l2-0.5l2 0.6l2 1.9l2 2.6l2 2.7l2 2.8l2 2.6l2 2.2l2 1.8l2 1.5l2 0.9l2 0.2l2-0.4l2-0.5l2-0.6l2-0.6l2-0.7l2 0l2 0.9l2 1.8l2 2l2 2l2 2l2 1.8l2 1.5l2 1.3l2 1.2l2 1.3l2 1.3l2 1.3l2 1.4l2 1.3l2 1.3l2 1.4l2 1.3l2 1.1l2 1.1l2 1l2 1l2 0.7l2 0.5l2 0.3l2 0.3l2-0.1l2-0.3l2-0.5l2-0.5l2-0.6l2-0.4l2-0.5l2-0.3l2 0.3l2 1.1l2 1.6l2 0.4l2-0.9l2-2.1l2-1.3l2-0.1l2 1.4l2 1.9l2 2.3l2 1.8l2 1.2l2 1l2 1l2 0.7l2 0.6l2 0.5l2 0.5l2 0.5l2 0.5l2 0.4l2 0.4l2 0.4l2 0.4l2 0.4l2 0.4l2 0.4l2 0.4l2 0.4l2 0.4l2 0.4l2 0.4l2 0.3l2 0.4l2 0.5l2 0.6l2 0.7l2 0.4l2-0.3l2-0.8l2-0.7l2-0.2l2 0.3l2 0.2l2 0.3l2 0.1l2 0.2l2 0.1l2 0.1l2 0.2l2 0.4l2 0.3l2-0.6l2-0.9l2-0.9l2-0.1l2 0.1l2 0.1l2-0.1l2 0l2-0.1l2-0.1l2-0.1l2 0l2 0l2 0l2 0l2 0l2 0l2 0l2 0l2 0l2 0l2 0l2-0.3l2-0.9l2-1.4l2-1.5l2-1.1l2-0.9l2-0.6" fill="none" stroke="#a2522a" stroke-width="1.6" stroke-linejoin="round"/>
<path d="M1545.3 550.6l2-0.3l2-0.3l2-0.4l2-0.2l2-0.1l2 0.1l2 0.3l2 0.3l2 0.4l2 0.5l2 0.6l2 0.6l2 0.5l2 0.5l2 0.5l2 0.5l2 0.5l2 0.4l2 0.5l2 0.4l2 0.4l2 0.4l2 0.5l2 0.5l2 0.6l2 0.6l2 0.5l2 0.5l2 0.3l2 0.2l2 0.2l2 0.1l2 0.2l2 0.4l2 0.4l2 0.6l2 0.6l2 0.7l2 0.6l2 0.7l2 0.6l2 0.7l2 0.7l2 0.6l2 0.7l2 0.7l2 0.7l2 0.7l2 0.6l2 0.6l2 0.5l2 0.4l2 0.4l2 0.4l2 0.4l2 0.4l2 0.3l2 0.5l2 0.5l2 0.7l2 0.8l2 1l2 1l2 0.9l2 1l2 0.9l2 0.8l2 0.9l2 0.7l2 0.7l2 0.5l2 0.4l2 0.3l2 0.3l2 0.1l2 0.1l2 0l2 0l2-0.1l2-0.1l2-0.1l2-0.1l2 0l2-0.1l2 0.2l2 0.3l2 0.6l2 0.7l2 1l2 1l2 1.1l2 1.1l2 1.1l2 1l2 0.9l2 0.8l2 0.7l2 0.6l2 0.5l2 0.4l2 0.4l2 0.3l2 0.3l2 0.3l2 0.6l2 0.7l2 0.8l2 1l2 1l2 0.9l2 0.9l2 0.8l2 0.7l2 0.8l2 0.8l2 0.8l2 0.9l2 0.8l2 0.9l2 0.9l2 0.9l2 0.9l2 0.8l2 0.9l2 0.8l2 0.7l2 0.7l2 0.6l2 0.5l2 0.5l2 0.4l2 0.4l2 0.3l2 0.2l2 0.1l2 0.2l2 0.3l2 0.3l2 0.4l2 0.4l2 0.2l2 0.1l2-0.1l2 0l2 0.2l2 0.4l2 0.7l2 0.8l2 0.9l2 0.8l2 0.8l2 0.7l2 0.6l2 0.6l2 0.6l2 0.5l2 0.6l2 0.5l2 0.4l2 0.5l2 0.4l2 0.4l2 0.3l2 0.4l2 0.3l2 0.3l2 0.4l2 0.3l2 0.3l2 0.3l2 0.5l2 0.6l2 0.9l2 1.1l2 0.8l2 0.6l2 0.4l2 0.1l2 0l2 0.1l2 0.2l2 0.3l2 0.4l2 0.3l2 0.5l2 0.5l2 0.5l2 0.5l2 0.4l2 0.2l2 0.1l2 0l2-0.1l2-0.1l2-0.1l2-0.2l2-0.1l2-0.1l2-0.2l2 0l2-0.1l2 0l2-0.1l2 0l2 0l2 0l2-0.1l2 0l2 0l2-0.1l2-0.1l2-0.3l2-0.4l2-0.5l2-0.7l2-0.6l2-0.5" fill="none" stroke="#6d2a4c" stroke-width="1.6" stroke-linejoin="round"/>
<path d="M1247.9 601.3v3.0M1249.2 604.4v20.6M1249.1 608.8v12.0M1250.5 618.3v8.6M1251.2 620.2v10.6M1253.7 625.3v1.6M1253.6 600.9v12.2M1254.6 615.7v1.6M1255.7 607.4v6.1M1255.7 617.1v20.0M1257.1 605.8v15.5M1256.8 600.8v14.9M1258.1 629.9v8.7M1259.2 629.0v1.6M1260.5 609.5v1.6M1260.3 621.9v3.6M1261.4 612.1v25.4M1262.6 618.3v10.5M1262.7 638.9v4.5M1263.8 631.6v27.7M1264.9 599.6v1.6M1264.6 636.2v3.1M1265.9 617.4v9.3M1266.9 615.7v1.6M1266.9 612.4v12.4M1268.0 611.0v30.4M1268.1 614.0v25.1M1271.4 631.9v8.0M1271.3 602.3v1.6M1272.7 599.1v1.6M1272.5 634.8v1.6M1273.8 591.4v3.7M1273.6 636.9v8.6M1274.7 620.7v3.1M1275.1 613.5v1.6M1276.1 630.5v18.1M1275.8 616.6v1.6M1279.2 585.5v3.4M1279.3 601.8v29.1M1280.6 590.8v1.6M1280.5 628.5v13.2M1281.4 625.4v1.6M1282.7 617.9v1.6M1282.6 622.1v1.6M1284.1 622.9v1.6M1283.6 600.7v3.6M1285.9 605.6v1.6M1286.0 616.0v1.6M1287.0 592.4v1.6M1288.5 622.4v19.9M1288.2 609.1v1.6M1289.4 585.3v26.7M1289.3 618.6v1.6M1290.6 602.1v1.6M1291.6 624.9v3.1M1292.8 613.0v1.6M1293.7 602.6v3.1M1294.0 607.5v7.0M1295.2 586.0v1.6M1295.1 615.5v27.4M1296.2 592.0v1.6M1297.2 588.8v17.4M1297.2 600.3v7.7M1298.4 592.2v6.4M1298.3 621.0v5.7M1300.4 594.2v1.6M1303.8 607.4v1.6M1310.8 595.7v3.4M1313.1 605.7v1.6M1316.1 597.6v1.6M1318.5 605.2v29.8M1320.7 591.1v1.6M1323.1 597.3v1.6M1322.9 615.5v9.0M1324.2 585.0v1.6M1325.2 622.9v12.4M1325.2 588.8v30.9M1326.6 622.9v1.6M1326.2 597.1v16.9M1327.6 589.2v5.2M1328.5 619.6v10.6M1329.6 591.5v1.6M1330.7 606.4v1.6M1330.8 588.7v8.8M1332.0 614.5v14.4M1333.2 603.3v1.6M1334.2 595.4v5.3M1336.7 611.0v1.6M1337.3 610.3v5.6M1337.4 609.3v5.7M1345.5 586.2v1.6M1351.0 580.2v1.6M1367.0 561.8v1.6M1381.4 566.0v1.6M1385.8 592.0v1.6M1393.5 542.0v8.9M1399.1 554.4v1.6M1402.6 559.7v1.6M1403.9 544.4v1.6M1404.8 536.9v28.3M1409.3 566.6v1.6M1411.6 537.7v5.4M1412.5 570.7v14.2M1416.0 524.3v1.6M1417.0 570.9v1.6M1422.9 584.1v27.9M1424.9 566.2v1.6M1429.4 574.0v1.6M1435.3 517.3v3.0M1439.5 513.8v1.6M1441.9 533.1v1.6M1450.7 531.9v1.6M1452.8 533.1v1.6M1454.1 556.0v3.2M1457.4 525.4v8.3M1458.6 539.2v16.6M1460.8 528.5v3.0M1471.9 527.1v7.7M1474.3 522.1v1.6M1475.4 545.7v1.6M1477.7 541.0v1.6M1481.8 522.4v1.6M1485.2 550.0v1.6M1486.4 520.0v18.1M1487.5 546.5v18.6M1489.0 523.9v17.5M1489.8 521.0v1.6M1493.2 530.6v4.4M1494.5 516.3v1.6M1496.7 510.8v11.7M1497.8 517.4v1.6M1498.7 523.0v21.9M1500.0 528.9v17.7M1504.7 517.5v3.9M1505.6 515.8v1.6M1506.9 528.3v13.1M1507.7 527.1v10.3M1508.8 520.3v8.1M1512.2 519.2v1.6M1516.9 524.6v3.3M1518.8 520.9v1.6M1520.4 514.8v1.6M1522.3 523.1v1.6M1524.5 510.0v25.2M1529.3 519.6v1.6" fill="none" stroke="#56a4c8" stroke-width="1.5"/>
<path d="M1245.0 616.8v3.7M1246.1 618.5v1.8M1247.2 613.1v1.7M1249.5 612.5v2.4M1252.8 614.9v2.4M1254.0 611.3v3.1M1255.1 621.1v2.7M1256.2 617.8v3.0M1257.3 612.7v2.3M1259.6 617.7v4.3M1260.7 616.6v4.2M1264.0 613.1v2.6M1265.2 614.2v3.1M1266.3 604.0v2.4M1275.2 605.2v4.5M1276.4 601.9v4.2M1277.5 597.3v3.0M1279.7 599.7v2.0M1280.8 596.4v3.4M1282.0 599.4v3.7M1288.7 599.8v3.8M1292.0 594.3v2.7M1293.2 594.6v2.5M1310.0 604.5v1.7M1313.3 599.6v2.0M1314.4 594.0v2.3M1316.7 596.1v4.4M1318.9 592.6v3.8M1320.0 597.1v4.0M1323.4 598.3v1.7M1325.6 599.2v2.4M1327.9 597.9v2.8M1333.5 602.4v3.3M1334.6 604.1v3.3M1335.7 599.1v2.5M1351.4 586.0v3.9M1354.8 578.0v4.5M1357.0 570.0v2.4M1363.7 575.0v3.1M1366.0 574.2v2.3M1373.8 571.2v3.5M1377.2 573.5v2.1M1380.5 575.5v2.8M1381.6 576.9v3.2M1386.1 578.4v4.4M1387.2 576.1v3.8M1389.5 566.5v4.3M1390.6 567.5v2.3M1392.8 547.6v2.1M1396.2 556.3v3.7M1397.3 553.4v1.6M1398.4 552.8v2.1M1404.0 551.6v1.9M1405.2 552.3v3.6M1408.5 541.7v4.2M1411.9 541.3v2.0M1413.0 542.1v3.5M1416.4 543.5v3.1M1420.8 542.3v2.8M1423.1 542.7v1.9M1425.3 540.7v2.0M1428.7 541.4v3.7M1429.8 540.5v3.3M1430.9 545.6v1.7M1433.2 534.8v2.1M1436.5 543.8v3.5M1438.8 529.4v4.3M1439.9 545.0v4.1M1442.1 542.0v2.3M1450.0 543.4v2.4M1452.2 534.1v4.1M1453.3 547.6v3.7M1454.4 539.6v2.0M1460.0 554.8v4.0M1462.3 544.6v3.8M1463.4 546.1v1.6M1464.5 546.7v4.1M1467.9 542.2v2.3M1469.0 542.9v2.3M1472.4 544.7v3.2M1479.1 546.9v3.8M1485.8 537.3v3.0M1489.2 538.6v2.2M1490.3 541.2v2.8M1493.6 534.5v4.2M1494.8 541.4v4.4M1504.8 529.1v4.3M1508.2 536.2v1.9M1510.4 525.7v1.8M1512.7 535.0v3.3M1521.6 530.6v2.1M1526.1 522.6v3.5M1527.2 520.3v4.3M1529.5 519.4v2.4" fill="none" stroke="#b9e2c9" stroke-width="1.5"/>
<path d="M1244.2 621.7h2.1M1245.3 622.9h1.6M1246.4 623.9h1.6M1247.6 621.6h2.6M1248.7 621.7h1.6M1252.0 621.4h2.6M1254.3 621.3h1.8M1256.5 619.5h2.1M1258.8 620.3h2.7M1259.9 619.1h1.7M1261.0 617.4h1.7M1262.1 619.0h1.5M1263.2 615.4h2.0M1265.5 615.9h2.4M1266.6 616.1h2.3M1267.7 613.7h2.5M1271.1 611.1h1.7M1272.2 610.9h1.8M1273.3 611.2h2.6M1278.9 606.2h1.9M1281.2 604.0h2.1M1282.3 606.4h2.4M1284.5 605.6h2.1M1287.9 603.3h2.2M1289.0 603.5h2.6M1292.4 602.2h1.8M1293.5 603.6h1.9M1295.7 603.5h2.1M1299.1 600.2h2.0M1303.6 605.9h2.0M1304.7 604.5h2.5M1305.8 606.2h2.1M1306.9 604.3h1.7M1308.0 605.9h2.4M1309.2 606.5h1.9M1312.5 603.2h1.7M1315.9 601.7h2.6M1318.1 600.3h2.1M1323.7 603.5h1.6M1324.8 602.8h1.8M1327.1 603.5h1.6M1328.2 604.6h1.8M1330.4 604.4h2.1M1331.6 604.3h2.5M1332.7 602.9h2.3M1333.8 606.5h2.3M1334.9 604.5h1.8M1346.1 594.3h2.6M1347.2 592.6h1.8M1354.0 589.1h1.7M1355.1 585.0h2.6M1356.2 585.4h1.8M1360.7 582.8h2.0M1365.2 583.3h1.6M1367.4 582.4h2.0M1369.6 580.4h2.2M1370.8 581.5h1.7M1373.0 577.6h2.6M1376.4 579.0h2.0M1377.5 576.9h2.5M1379.7 578.2h2.0M1380.8 579.1h1.7M1385.3 578.7h2.3M1389.8 569.7h2.4M1393.2 567.3h2.2M1396.5 565.0h2.5M1403.2 554.7h2.2M1404.4 552.4h2.4M1406.6 553.3h2.0M1407.7 551.4h2.6M1408.8 552.9h1.8M1410.0 552.3h1.5M1412.2 551.0h1.9M1415.6 549.4h2.1M1420.0 549.0h2.5M1423.4 547.0h2.6M1427.9 546.2h2.4M1430.1 547.1h2.4M1435.7 546.4h1.7M1438.0 547.5h2.5M1439.1 546.4h1.9M1441.3 545.2h1.8M1443.6 543.5h1.7M1449.2 545.8h2.0M1451.4 546.6h2.3M1453.6 549.6h1.6M1458.1 556.8h1.6M1459.2 555.2h2.7M1461.5 555.9h2.5M1462.6 555.2h1.8M1467.1 552.0h1.6M1468.2 554.0h2.3M1470.4 553.6h2.6M1471.6 550.8h2.2M1474.9 550.6h2.6M1478.3 549.2h2.5M1479.4 547.7h2.2M1485.0 546.3h1.6M1487.2 543.0h2.1M1489.5 545.6h1.6M1492.8 544.3h1.8M1494.0 543.8h1.7M1498.4 540.7h2.3M1504.0 538.3h1.7M1507.4 539.2h1.8M1509.6 538.1h1.9M1513.0 538.2h1.6M1514.1 539.1h2.2M1518.6 533.9h1.6M1519.7 533.9h2.0M1525.3 529.7h2.5M1528.7 527.4h2.1" fill="none" stroke="#d3af4e" stroke-width="1.6"/>
<path d="M1245.3 625.5h2.2M1246.4 624.7h2.9M1247.6 625.3h2.2M1248.7 624.5h2.7M1252.0 624.8h3.1M1253.2 624.6h2.9M1255.4 624.2h2.7M1256.5 623.6h1.7M1257.6 623.6h2.2M1258.8 622.4h3.1M1259.9 621.8h3.2M1262.1 619.4h2.4M1264.4 619.3h1.8M1265.5 618.8h2.2M1266.6 618.1h2.9M1267.7 617.9h1.9M1270.0 617.5h1.9M1271.1 615.9h2.1M1272.2 615.3h2.9M1273.3 615.7h3.1M1275.6 614.0h2.6M1276.7 612.7h1.6M1277.8 612.7h2.6M1278.9 612.8h2.6M1280.0 611.9h2.2M1281.2 611.6h2.1M1282.3 612.2h1.9M1284.5 611.2h1.8M1287.9 609.5h1.8M1289.0 609.2h1.7M1291.2 608.7h2.2M1292.4 608.5h3.0M1293.5 608.3h2.1M1295.7 608.6h1.9M1299.1 608.4h1.9M1303.6 607.6h2.7M1304.7 607.9h1.7M1305.8 608.6h2.2M1306.9 608.2h2.8M1308.0 609.2h1.9M1309.2 608.6h2.2M1313.6 607.2h2.9M1315.9 607.1h2.5M1318.1 606.7h1.8M1319.2 607.3h1.7M1322.6 607.5h2.3M1324.8 608.6h3.2M1326.0 608.9h1.6M1327.1 608.3h2.6M1329.3 608.5h2.2M1332.7 608.7h3.0M1333.8 609.0h2.3M1334.9 607.5h2.2M1336.0 607.0h1.7M1341.6 603.3h2.9M1346.1 599.9h2.2M1347.2 598.0h2.5M1350.6 595.0h1.8M1352.8 594.0h2.3M1354.0 592.7h2.6M1355.1 591.9h1.8M1356.2 590.8h2.5M1360.7 589.3h3.1M1362.9 587.9h3.0M1365.2 587.6h1.8M1367.4 587.9h1.6M1369.6 585.9h3.0M1370.8 585.7h2.2M1373.0 584.2h2.8M1376.4 582.5h2.1M1377.5 582.9h2.5M1379.7 581.8h3.1M1380.8 582.1h1.9M1385.3 582.6h1.9M1386.4 581.9h2.4M1388.7 579.7h2.5M1389.8 578.7h1.8M1393.2 575.9h2.5M1395.4 574.9h1.6M1396.5 575.1h2.1M1397.6 574.3h2.6M1402.1 570.4h1.8M1403.2 570.1h2.7M1404.4 567.6h3.1M1406.6 565.1h2.1M1407.7 565.7h2.8M1408.8 563.7h2.2M1410.0 563.8h2.9M1411.1 562.6h2.3M1412.2 561.6h2.0M1415.6 560.7h2.6M1420.0 558.6h1.6M1422.3 557.6h2.7M1423.4 556.8h2.7M1424.5 557.0h2.6M1426.8 557.5h1.6M1427.9 556.8h2.1M1429.0 556.0h2.0M1430.1 556.2h2.3M1431.2 556.3h2.9M1432.4 556.1h3.0M1435.7 555.8h3.1M1438.0 555.6h3.0M1441.3 554.8h1.9M1443.6 554.2h1.7M1449.2 553.9h2.7M1452.5 553.6h3.0M1457.0 557.5h2.7M1458.1 558.5h2.9M1459.2 559.5h1.6M1461.5 558.3h2.2M1462.6 559.0h2.1M1463.7 557.2h1.7M1466.0 556.5h2.4M1467.1 556.4h2.3M1468.2 556.5h1.7M1470.4 556.1h1.9M1471.6 555.7h2.7M1476.0 554.0h3.0M1478.3 554.5h2.4M1479.4 552.4h2.5M1485.0 552.5h1.8M1487.2 551.1h3.1M1488.4 551.0h3.1M1491.7 550.9h2.8M1494.0 550.5h2.5M1498.4 548.9h3.2M1501.8 548.3h1.9M1504.0 547.5h1.7M1507.4 547.1h1.8M1509.6 545.5h3.1M1511.9 545.5h2.2M1513.0 546.2h3.0M1514.1 544.9h1.9M1518.6 543.1h2.6M1519.7 542.5h2.5M1520.8 543.2h1.8M1525.3 541.2h3.1M1528.7 537.8h2.5" fill="none" stroke="#a2522a" stroke-width="1.7"/>
<path d="M1244.2 628.8h2.8M1245.3 629.1h2.5M1247.6 628.1h1.7M1250.9 628.8h2.8M1252.0 628.8h1.9M1253.2 628.6h2.8M1254.3 628.6h3.1M1255.4 627.2h2.8M1256.5 627.4h2.2M1257.6 626.7h1.9M1258.8 626.3h3.1M1261.0 625.9h1.9M1262.1 624.5h2.6M1263.2 624.5h1.8M1264.4 623.3h2.0M1265.5 622.5h2.0M1267.7 621.6h1.8M1270.0 620.7h2.2M1271.1 620.0h2.9M1272.2 619.2h1.8M1273.3 618.6h2.5M1275.6 618.3h2.2M1276.7 617.7h3.1M1277.8 617.1h1.6M1278.9 616.6h2.8M1281.2 615.5h2.6M1282.3 615.1h2.1M1284.5 614.4h2.3M1287.9 613.1h3.0M1289.0 612.7h2.8M1291.2 612.0h2.2M1292.4 612.4h2.3M1293.5 611.4h2.5M1295.7 611.1h2.8M1299.1 611.3h2.0M1303.6 612.4h2.6M1304.7 612.9h2.8M1305.8 612.8h2.0M1308.0 612.6h1.8M1309.2 612.9h2.9M1312.5 611.4h1.6M1315.9 611.0h2.0M1318.1 610.9h2.0M1319.2 611.8h3.2M1322.6 609.8h1.9M1323.7 610.0h1.8M1324.8 609.8h1.9M1327.1 609.8h2.3M1328.2 609.5h3.0M1330.4 608.6h2.8M1331.6 608.1h3.0M1332.7 609.4h3.2M1333.8 608.7h2.2M1334.9 608.6h1.6M1336.0 608.7h2.4M1341.6 608.7h3.0M1346.1 607.3h2.1M1347.2 607.3h3.0M1350.6 606.1h2.2M1352.8 604.5h2.4M1354.0 603.7h2.7M1355.1 604.2h2.7M1356.2 603.2h3.2M1360.7 601.7h2.0M1362.9 601.8h2.9M1365.2 601.1h2.3M1367.4 600.5h1.9M1369.6 599.7h2.9M1370.8 598.0h2.6M1373.0 598.0h3.0M1376.4 596.1h2.5M1377.5 595.9h2.1M1379.7 594.7h2.2M1385.3 593.9h2.8M1386.4 593.3h2.4M1388.7 592.6h3.2M1389.8 591.9h2.3M1392.0 591.2h2.6M1393.2 591.2h2.1M1395.4 590.0h2.7M1396.5 589.4h2.5M1397.6 587.3h3.1M1402.1 585.3h2.3M1403.2 585.3h2.7M1404.4 584.6h2.1M1406.6 583.6h1.7M1407.7 583.1h2.7M1408.8 582.1h3.2M1410.0 581.5h2.2M1411.1 581.1h2.4M1412.2 579.7h2.7M1415.6 578.9h2.9M1420.0 577.2h2.6M1422.3 576.6h2.8M1423.4 575.8h1.9M1424.5 575.1h2.9M1426.8 574.9h3.0M1427.9 574.3h2.9M1429.0 573.8h2.8M1430.1 573.7h2.5M1431.2 573.6h2.9M1432.4 573.2h3.0M1435.7 571.9h2.6M1438.0 571.7h2.6M1439.1 571.1h1.7M1441.3 571.3h2.8M1443.6 570.5h2.4M1449.2 570.7h3.0M1451.4 570.2h2.8M1452.5 569.6h2.1M1457.0 570.4h2.1M1458.1 570.6h2.3M1459.2 571.2h2.7M1461.5 569.9h2.8M1462.6 569.7h2.7M1463.7 569.9h2.0M1466.0 570.3h2.6M1467.1 569.8h3.1M1468.2 569.1h2.5M1470.4 569.2h1.9M1474.9 568.5h1.8M1476.0 569.0h2.6M1478.3 567.9h1.6M1479.4 567.3h3.0M1485.0 566.7h2.6M1487.2 566.1h2.2M1488.4 565.8h1.7M1489.5 565.5h2.5M1491.7 565.6h2.7M1492.8 565.0h2.7M1494.0 564.8h2.0M1501.8 564.1h1.6M1504.0 562.9h2.3M1507.4 562.7h2.8M1509.6 562.7h1.9M1511.9 562.1h3.0M1513.0 561.2h1.7M1514.1 561.3h2.0M1519.7 560.3h3.1M1525.3 559.6h2.4M1526.4 558.7h2.1M1528.7 557.8h2.5" fill="none" stroke="#6d2a4c" stroke-width="1.7"/>
<rect x="115.3" y="379.4" width="1933.3" height="350.1" fill="none" stroke="#000" stroke-width="1.5"/>
<text x="92.2" y="703.2" text-anchor="end" font-size="19.5">0</text>
<text x="92.2" y="652.6" text-anchor="end" font-size="19.5">5</text>
<text x="92.2" y="601.9" text-anchor="end" font-size="19.5">10</text>
<text x="92.2" y="551.3" text-anchor="end" font-size="19.5">15</text>
<text x="92.2" y="500.6" text-anchor="end" font-size="19.5">20</text>
<text x="92.2" y="449.9" text-anchor="end" font-size="19.5">25</text>
<text x="92.2" y="399.3" text-anchor="end" font-size="19.5">30</text>
<path d="M103.1 696.2H115.3M103.1 645.6H115.3M103.1 594.9H115.3M103.1 544.3H115.3M103.1 493.6H115.3M103.1 442.9H115.3M103.1 392.3H115.3" stroke="#000" stroke-width="1.5" fill="none"/>
<text x="1082.3" y="421.2" text-anchor="middle" font-size="27.4">P4</text>
<circle cx="130.6" cy="421.1" r="8.2" fill="#5b4b8a"/>
<text x="146.2" y="427.0" font-size="17.3">5 cm</text>
<circle cx="130.6" cy="441.8" r="8.2" fill="#56a4c8"/>
<text x="146.2" y="447.7" font-size="17.3">10 cm</text>
<circle cx="130.6" cy="462.5" r="8.2" fill="#b9e2c9"/>
<text x="146.2" y="468.4" font-size="17.3">20 cm</text>
<circle cx="130.6" cy="483.3" r="8.2" fill="#d3af4e"/>
<text x="146.2" y="489.2" font-size="17.3">30 cm</text>
<circle cx="130.6" cy="504.0" r="8.2" fill="#a2522a"/>
<text x="146.2" y="509.9" font-size="17.3">50 cm</text>
<circle cx="130.6" cy="524.7" r="8.2" fill="#6d2a4c"/>
<text x="146.2" y="530.6" font-size="17.3">100 cm</text>
<path d="M209.4 1019.7l1.1-6l1.1 20.1l1.2-10.4l1.1 21.9l1.1-9.5l1.1 11.9l1.1-1l1.2 2.2l1.1-12.8l1.1-3.7l1.1-5l1.1-2.5l1.2-3.2l1.1 1.4l1.1-2.2l1.1 6.2l1.1-1.7l1.2 5.1l1.1-1.5l1.1 4.6l1.1-1.2l1.1 3.6l1.2-0.8l1.1 3l1.1-1l1.1 3l1.1-1l1.2-1.5l1.1-1.7l1.1-2.8l1.1-1.5l1.1-1.8l1.2-1l1.1 7.2l1.1-4.6l1.1 11.3l1.1-4.6l1.2 11.2l1.1-4.7l1.1 9.3l1.1-2l1.1 6l1.2-1.9l1.1 4.7l1.1-1l1.1 1.4l1.1-0.6l1.2 0l1.1-0.7l1.1 0.1l1.1-0.8l1.1 0.3l1.2-0.6l1.1 0.4l1.1-0.4l1.1 0.3l1.1-0.5l1.2 0.4l1.1-0.6l1.1 0.5l1.1-0.6l1.1 0.5l1.2-0.4l1.1 0.4l1.1-0.4l1.1 0.4l1.1-0.6l1.2 0.6l1.1-0.5l1.1 0.5l1.1-0.5l1.2 0.4l1.1-0.8l1.1 0.4l1.1-0.8l1.1 0.4l1.2-0.7l1.1 0.2l1.1-0.6l1.1-0.8l1.1-2l1.2 0.7l1.1-5.1l1.1 3.3l1.1-7.8l1.1 6l1.2-10.1l1.1 8.3l1.1-13.4l1.1 14.8l1.1-11l1.2 11l1.1-7.4l1.1 6.7l1.1-5.2l1.1 5.2l1.2-7.5l1.1 6.1l1.1-8.6l1.1 7l1.1-11.7l1.2 7.6l1.1-17.5l1.1 14.3l1.1-16.3l1.1 22.7l1.2-27.9l1.1 29.6l1.1-15.1l1.1 14.5l1.1-10.8l1.2 10.9l1.1-12.8l1.1 13.1l1.1-17.3l1.1 14.2l1.2-20.9l1.1 9.4l1.1-14.6l1.1 9.2l1.1-16.7l1.2 11.7l1.1-17.2l1.1 18.3l1.1-11.5l1.1 18l1.2-19.2l1.1 21.7l1.1-23.2l1.1 20.2l1.1-28.5l1.2 24.9l1.1-21.5l1.1 18.9l1.1-20.1l1.1 24.1l1.2-22l1.1 27l1.1-21.8l1.1 21.5l1.1-18.7l1.2 14.8l1.1-17.1l1.1 13.1l1.1-17.7l1.1 15.4l1.2-18.7l1.1 18.8l1.1-20.7l1.1 21.5l1.2-26l1.1 31l1.1-24.6l1.1 30.5l1.1-28.2l1.2 29.8l1.1-26l1.1 20.5l1.1-41.7l1.1 31.5l1.2-45.4l1.1 41.9l1.1-41.3l1.1 39.9l1.1-28.2l1.2 33.7l1.1-30.6l1.1 34.7l1.1-29.2l1.1 27.2l1.2-30.6l1.1 22l1.1-25.8l1.1 21.2l1.1-33.4l1.2 41.2l1.1-39.5l1.1 40.1l1.1-38.7l1.1 48.1l1.2-37.1l1.1 36.3l1.1-40.9l1.1 37.5l1.1-51.3l1.2 37.5l1.1-40.7l1.1 32.2l1.1-25.7l1.1 22.6l1.2-33.9l1.1 37.5l1.1-40.9l1.1 41.5l1.1-40.7l1.2 43l1.1-45.3l1.1 51.7l1.1-37l1.1 42.1l1.2-29.4l1.1 35.7l1.1-23.5l1.1 27.5l1.1-23.4l1.2 24.6l1.1-30.9l1.1 25.9l1.1-42.6l1.1 38.7l1.2-47.8l1.1 48.9l1.1-52.7l1.1 42l1.1-34l1.2 31.8l1.1-56.1l1.1 55.5l1.1-56.9l1.1 52.2l1.2-59.2l1.1 56.4l1.1-49.3l1.1 38.3l1.1-43.1l1.2 31.9l1.1-35.4l1.1 33l1.1-53.8l1.2 51.7l1.1-41.2l1.1 48.1l1.1-45.9l1.1 43.9l1.2-29.8l1.1 40l1.1-28.8l1.1 30l1.1-50.3l1.2 45.5l1.1-44.1l1.1 37.1l1.1-41.9l1.1 45.9l1.2-50l1.1 54l1.1-37.1l1.1 46.4l1.1-36.8l1.2 41.3l1.1-41.7l1.1 43l1.1-29.6l1.1 25.8l1.2-35.6l1.1 24.6l1.1-65.7l1.1 54.5l1.1-48.4l1.2 54.5l1.1-26.6l1.1 32.1l1.1-44.1l1.1 47.2l1.2-43.7l1.1 45.6l1.1-41.9l1.1 43.8l1.1-33.9l1.2 33.9l1.1-23.1l1.1 15.9l1.1-30.9l1.1 27.7l1.2-50.7l1.1 51.8l1.1-66l1.1 41.4l1.1-57.9l1.2 52.3l1.1-57l1.1 59.3l1.1-54.1l1.1 55.1l1.2-49.1l1.1 48.3l1.1-54.2l1.1 55.6l1.1-51.7l1.2 49.6l1.1-53.5l1.1 49l1.1-42.3l1.1 41.1l1.2-43.1l1.1 45.9l1.1-35.3l1.1 35.9l1.1-44l1.2 41.1l1.1-39.8l1.1 25.5l1.1-63.3l1.1 52.5l1.2-56l1.1 58.8l1.1-79.4l1.1 64.8l1.2-68.7l1.1 62.5l1.1-64.1l1.1 67l1.1-72.5l1.2 79.9l1.1-49.7l1.1 57.1l1.1-55.4l1.1 69.5l1.2-55.3l1.1 50.1l1.1-59.9l1.1 56.7l1.1-65.2l1.2 61.8l1.1-66.3l1.1 69.8l1.1-68l1.1 62.9l1.2-68.4l1.1 55.6l1.1-50.4l1.1 55.3l1.1-65.7l1.2 57.3l1.1-52.9l1.1 48.7l1.1-61.1l1.1 61.9l1.2-74.5l1.1 67.4l1.1-55.3l1.1 60.9l1.1-55.4l1.2 54.4l1.1-50.5l1.1 55.3l1.1-61.6l1.1 53.8l1.2-49.5l1.1 52.4l1.1-77.9l1.1 64.5l1.1-74.3l1.2 81.5l1.1-68l1.1 73.9l1.1-76.8l1.1 76.6l1.2-57.3l1.1 55.3l1.1-71.6l1.1 72.6l1.1-72.7l1.2 79.4l1.1-76.7l1.1 97.2l1.1-87.3l1.1 73.8l1.2-63.2l1.1 60.5l1.1-70.6l1.1 73.5l1.1-69.2l1.2 78.8l1.1-53.2l1.1 62.7l1.1-62.6l1.1 55.4l1.2-39.5l1.1 29.8l1.1-42.3l1.1 33.6l1.1-54.7l1.2 47.4l1.1-41.1l1.1 40.3l1.1-40l1.1 44.8l1.2-35.4l1.1 42.6l1.1-38.4l1.1 47.2l1.2-69.7l1.1 75.7l1.1-63.6l1.1 66.7l1.1-82l1.2 67.3l1.1-72l1.1 66l1.1-54.8l1.1 44.5l1.2-60.7l1.1 60.7l1.1-69.9l1.1 60.7l1.1-73.8l1.2 71l1.1-74.7l1.1 65.9l1.1-68.4l1.1 72l1.2-71.2l1.1 72.3l1.1-72.5l1.1 74l1.1-49.9l1.2 50.6l1.1-57.2l1.1 55.6l1.1-38.7l1.1 46.6l1.2-36.8l1.1 48.9l1.1-45.5l1.1 47.7l1.1-57.3l1.2 58l1.1-61.2l1.1 51.5l1.1-40l1.1 48l1.2-43.8l1.1 43.6l1.1-49l1.1 50.8l1.1-49l1.2 53.3l1.1-49.7l1.1 52.9l1.1-63.6l1.1 60.5l1.2-59.1l1.1 59.8l1.1-67.3l1.1 65.2l1.1-51.9l1.2 62.7l1.1-48.1l1.1 51.5l1.1-47.3l1.1 45.8l1.2-56.2l1.1 49l1.1-51.4l1.1 47.8l1.1-41.2l1.2 38.5l1.1-57.9l1.1 61.3l1.1-58.8l1.1 67l1.2-59.8l1.1 77.7l1.1-71.1l1.1 69.1l1.1-56.4l1.2 53.3l1.1-74.3l1.1 69.5l1.1-64.4l1.2 55.5l1.1-57.5l1.1 45.7l1.1-50.5l1.1 35.8l1.2-40l1.1 38.6l1.1-59.7l1.1 57.2l1.1-38.5l1.2 43.2l1.1-51.4l1.1 53.3l1.1-55.7l1.1 56.9l1.2-61.2l1.1 92.1l1.1-59.8l1.1 72.4l1.1-65.3l1.2 60.5l1.1-67.1l1.1 67.8l1.1-66.3l1.1 76.5l1.2-54.6l1.1 57l1.1-57l1.1 53.7l1.1-40.2l1.2 38.6l1.1-37.8l1.1 48.3l1.1-47.2l1.1 55.5l1.2-56.3l1.1 52.7l1.1-72.2l1.1 63.7l1.1-68.3l1.2 73.8l1.1-49l1.1 54.3l1.1-46.8l1.1 45.9l1.2-46.9l1.1 46.7l1.1-44l1.1 62.6l1.1-48.8l1.2 55.2l1.1-62.1l1.1 65l1.1-52.7l1.1 50l1.2-63.3l1.1 57.2l1.1-50.1l1.1 46l1.1-65.4l1.2 51.2l1.1-56.3l1.1 42.5l1.1-47.9l1.1 42.7l1.2-34l1.1 34.6l1.1-44.1l1.1 47.2l1.1-40.4l1.2 36.9l1.1-30.4l1.1 27.4l1.1-29.1l1.1 37.2l1.2-33.3l1.1 39.6l1.1-32.7l1.1 38.4l1.2-27l1.1 32.1l1.1-28.4l1.1 30.4l1.1-21.5l1.2 34.9l1.1-35.8l1.1 43.5l1.1-43.3l1.1 39.1l1.2-38.6l1.1 28.1l1.1-29.8l1.1 24.5l1.1-24.4l1.2 21.4l1.1-30.7l1.1 22.7l1.1-34.3l1.1 25.2l1.2-32.9l1.1 32.9l1.1-38.4l1.1 43.1l1.1-40.7l1.2 41.3l1.1-27l1.1 21.4l1.1-23.7l1.1 31.2l1.2-26.9l1.1 32.8l1.1-38l1.1 34.2l1.1-24.6l1.2 22.5l1.1-20.5l1.1 19.7l1.1-25.4l1.1 25.9l1.2-21.3l1.1 22.7l1.1-19.5l1.1 20.8l1.1-20.8l1.2 20.2l1.1-17.6l1.1 19.1l1.1-11.1l1.1 36l1.2-32.2l1.1 52.7l1.1-47.8l1.1 60.3l1.1-49.3l1.2 54.8l1.1-38.4l1.1 47.6l1.1-47.2l1.1 32.3l1.2-33.1l1.1 12.7l1.1-19.9l1.1 8.2l1.1-13.5l1.2 22.2l1.1-22.9l1.1 27.9l1.1-28.1l1.1 24.5l1.2-22.9l1.1 16.9l1.1-13.9l1.1 25.8l1.1-22.6l1.2 39.3l1.1-31.7l1.1 30.8l1.1-27.4l1.2 29.8l1.1-20.8l1.1 20.6l1.1-16.4l1.1 18.2l1.2-21.4l1.1 24.7l1.1-22l1.1 25.9l1.1-22.6l1.2 24.3l1.1-24.5l1.1 21.1l1.1-15.7l1.1 12.4l1.2-13l1.1 10.9l1.1-13.6l1.1 15.9l1.1-12.9l1.2 16.7l1.1-18.3l1.1 19.8l1.1-17.8l1.1 13.3l1.2-14.9l1.1 10.5l1.1-14.5l1.1 10.6l1.1-13.5l1.2 10l1.1-12.8l1.1 7.9l1.1-10.7l1.1 5.1l1.2-7.2l1.1 16.3l1.1-17.3l1.1 44.9l1.1-39l1.2 40.6l1.1-23.2l1.1 27.4l1.1-22.3l1.1 22.3l1.2-25l1.1 28.4l1.1-19.2l1.1 24.2l1.1-30.7l1.2 26.2l1.1-27.8l1.1 19.2l1.1-21.8l1.1 17l1.2-20l1.1 20.1l1.1-17.6l1.1 17.6l1.1-17.5l1.2 17.6l1.1-14.9l1.1 17l1.1-14.3l1.1 15.7l1.2-9.6l1.1 9.3l1.1-12.7l1.1 12.6l1.1-12.7l1.2 11.7l1.1-18.2l1.1 14l1.1-13.9l1.1 9.5l1.2-15.6l1.1 29.3l1.1-25.4l1.1 27.7l1.2-17.5l1.1 12.5l1.1-15.4l1.1 13.5l1.1-11.5l1.2 8.5l1.1-14.1l1.1 13l1.1-14.1l1.1 13.4l1.2-15.8l1.1 21l1.1-19.2l1.1 23l1.1-14l1.2 20.1l1.1-21.3l1.1 24.6l1.1-19.1l1.1 19.7l1.2-17l1.1 19l1.1-11.7l1.1 13.9l1.1-12l1.2 13.1l1.1-13.8l1.1 10.2l1.1-9.7l1.1 7.5l1.2-9.1l1.1 7l1.1-6.4l1.1 3.5l1.1-13.3l1.2 10.6l1.1-25.7l1.1 18.3l1.1-21.2l1.1 20.9l1.2-26.1l1.1 31.2l1.1-25.9l1.1 25.7l1.1-13l1.2 10.6l1.1-12.9l1.1 6.8l1.1-9.1l1.1 12.2l1.2-12.1l1.1 15.3l1.1-10.8l1.1 14.7l1.1-13.6l1.2 15.9l1.1-14.3l1.1 18.9l1.1-13l1.1 13.6l1.2-10.5l1.1 14.6l1.1-11.3l1.1 13l1.1-11.3l1.2 11.8l1.1-9.7l1.1 10.7l1.1-7.2l1.1 7l1.2-4.6l1.1 5.1l1.1-5.7l1.1 5.3l1.1-5.1l1.2 2.8l1.1-7.9l1.1 4.8l1.1-9.1l1.1 5.3l1.2-14.5l1.1-0.6l1.1-10.7l1.1 0.8l1.2-15.3l1.1 13.7l1.1-14l1.1 19.3l1.1-19.3l1.2 25.5l1.1-28l1.1 35.8l1.1-19.8l1.1 22.7l1.2-21l1.1 21.3l1.1-16.2l1.1 16.8l1.1-14.7l1.2 10.9l1.1-11.6l1.1 5.9l1.1-11.4l1.1 15.1l1.2-15.7l1.1 18.9l1.1-18.6l1.1 21.8l1.1-19l1.2 17.1l1.1-15.2l1.1 10.6l1.1-17.1l1.1 11.8l1.2-25.7l1.1 16.6l1.1-12.7l1.1 18.5l1.1-16.1l1.2 21.9l1.1-17.3l1.1 19.4l1.1-18l1.1 18l1.2-21.6l1.1 15l1.1-23.8l1.1 19.8l1.1-28l1.2 24.4l1.1-23.5l1.1 24.8l1.1-16.6l1.1 19.4l1.2-12.8l1.1 17.5l1.1-16.6l1.1 16.1l1.1-13.9l1.2 13.7l1.1-14.2l1.1 13.4l1.1-19.2l1.1 20.3l1.2-25l1.1 26.8l1.1-28.1l1.1 33.4l1.1-27.3l1.2 26.3l1.1-20.3l1.1 22.8l1.1-20l1.1 19.7l1.2-20.8l1.1 17.7l1.1-23l1.1 19.5l1.1-27.6l1.2 21.3l1.1-28.7l1.1 21.6l1.1-22l1.2 22.8l1.1-28.2l1.1 23.9l1.1-23.6l1.1 33.8l1.2-22.7l1.1 31.9l1.1-27.9l1.1 24.3l1.1-37.6l1.2 32.5l1.1-35.8l1.1 31.8l1.1-34.7l1.1 30.5l1.2-26.5l1.1 23l1.1-25.7l1.1 26.5l1.1-13.7l1.2 26.1l1.1-21.1l1.1 32.9l1.1-27.5l1.1 33.8l1.2-22.2l1.1 26.7l1.1-27.3l1.1 26.1l1.1-27.5l1.2 20l1.1-24.4l1.1 22.8l1.1-37.2l1.1 28.8l1.2-29.1l1.1 22l1.1-11.5l1.1 21l1.1-18l1.2 28.3l1.1-21l1.1 16.9l1.1-25.4l1.1 19.6l1.2-36.4l1.1 27.9l1.1-47.5l1.1 44.5l1.1-43.4l1.2 45.4l1.1-55.4l1.1 44.5l1.1-46.8l1.1 39.5l1.2-43.2l1.1 42.1l1.1-48.2l1.1 44.6l1.1-47.7l1.2 48.1l1.1-51.4l1.1 52.4l1.1-38.2l1.1 38.3l1.2-42.7l1.1 47l1.1-42.2l1.1 43.8l1.1-42.1l1.2 36.7l1.1-55.9l1.1 56.9l1.1-55.2l1.1 46l1.2-53.4l1.1 49.9l1.1-43.9l1.1 42.3l1.2-39.4l1.1 46.4l1.1-35.1l1.1 27.7l1.1-44.9l1.2 42.7l1.1-36.9l1.1 39.7l1.1-52l1.1 47.6l1.2-47.8l1.1 49.2l1.1-45.1l1.1 45.8l1.1-58l1.2 59.7l1.1-59l1.1 48l1.1-36l1.1 31.6l1.2-28.2l1.1 25.4l1.1-34l1.1 36.4l1.1-31.2l1.2 35.6l1.1-30.6l1.1 36l1.1-39.2l1.1 44.7l1.2-50.3l1.1 49.6l1.1-62.8l1.1 63.3l1.1-59.5l1.2 52.4l1.1-69.1l1.1 59.7l1.1-59l1.1 49.7l1.2-51.5l1.1 60.1l1.1-34.5l1.1 48.1l1.1-36.9l1.2 47.6l1.1-46.7l1.1 46.5l1.1-54.9l1.1 52.7l1.2-62.9l1.1 55.4l1.1-60.1l1.1 43.8l1.1-53.2l1.2 43.2l1.1-36l1.1 34.2l1.1-50l1.1 50.1l1.2-46.7l1.1 50.8l1.1-44.2l1.1 36.5l1.1-51.6l1.2 58.3l1.1-48.3l1.1 43.1l1.1-31l1.1 32l1.2-32l1.1 27.5l1.1-41.9l1.1 38.8l1.1-49.4l1.2 52.7l1.1-58.4l1.1 52.2l1.1-55.9l1.2 56l1.1-39.6l1.1 43.7l1.1-60l1.1 55.6l1.2-54.8l1.1 50.4l1.1-67.5l1.1 69.4l1.1-77.9l1.2 68.3l1.1-56.4l1.1 58.1l1.1-47.2l1.1 49.5l1.2-41.4l1.1 47.3l1.1-53.2l1.1 51.7l1.1-53.1l1.2 58.7l1.1-49.9l1.1 36.1l1.1-39.5l1.1 28.8l1.2-49.3l1.1 42.8l1.1-65.7l1.1 56.7l1.1-57.9l1.2 52l1.1-48.5l1.1 50.5l1.1-66.7l1.1 58.6l1.2-57.2l1.1 55.6l1.1-43.9l1.1 45.1l1.1-44.6l1.2 46.3l1.1-42.3l1.1 48.1l1.1-55.2l1.1 52.3l1.2-65.9l1.1 67.4l1.1-47.2l1.1 49.2l1.1-49.3l1.2 54.2l1.1-63.8l1.1 57.1l1.1-67.8l1.1 69.6l1.2-58.9l1.1 58.4l1.1-56.8l1.1 55.6l1.1-67.5l1.2 78l1.1-75.8l1.1 76l1.1-53.9l1.1 54.2l1.2-69.9l1.1 65.7l1.1-75.5l1.1 71.8l1.1-67.9l1.2 76.3l1.1-72.3l1.1 65.5l1.1-61.1l1.1 69.6l1.2-53.2l1.1 53.5l1.1-49.2l1.1 43.7l1.2-40.4l1.1 39.4l1.1-40.4l1.1 46.2l1.1-40.9l1.2 44.3l1.1-40.6l1.1 42.4l1.1-42.2l1.1 41.1l1.2-61.7l1.1 51.9l1.1-60.8l1.1 62.6l1.1-53.4l1.2 55.6l1.1-39.8l1.1 39l1.1-40.6l1.1 40.9l1.2-50.6l1.1 50.7l1.1-55.6l1.1 61.4l1.1-56l1.2 59.6l1.1-60.2l1.1 68.1l1.1-52.2l1.1 42.8l1.2-43.6l1.1 35.2l1.1-50.3l1.1 47l1.1-45.5l1.2 44.6l1.1-49.1l1.1 48.6l1.1-33.8l1.1 46.4l1.2-53.9l1.1 51l1.1-55.4l1.1 58.7l1.1-66.5l1.2 60.6l1.1-58.4l1.1 60.3l1.1-76.7l1.1 72.6l1.2-52.5l1.1 56l1.1-46.2l1.1 46.2l1.1-51.5l1.2 59.3l1.1-65.9l1.1 65.5l1.1-67.4l1.1 49.4l1.2-64l1.1 62.6l1.1-64.4l1.1 54.1l1.1-51.2l1.2 51.6l1.1-52.4l1.1 45.1l1.1-47.9l1.1 46.8l1.2-33.1l1.1 32.3l1.1-41.2l1.1 41.1l1.1-32.6l1.2 31l1.1-40.9l1.1 39l1.1-29.7l1.1 32.8l1.2-45.4l1.1 51.4l1.1-36.2l1.1 43.8l1.2-50.2l1.1 50.1l1.1-40.4l1.1 32.2l1.1-34.4l1.2 32.5l1.1-39.2l1.1 54.9l1.1-53.8l1.1 61l1.2-37.3l1.1 40.4l1.1-27l1.1 29.4l1.1-31.1l1.2 29l1.1-32.4l1.1 35.6l1.1-28.6l1.1 31.7l1.2-40.2l1.1 39.3l1.1-32.8l1.1 32.3l1.1-30.1l1.2 27.9l1.1-23.5l1.1 33.6l1.1-42.7l1.1 48.1l1.2-45.6l1.1 43.9l1.1-47.4l1.1 46l1.1-45.9l1.2 44.5l1.1-35.8l1.1 40.8l1.1-32.8l1.1 36.3l1.2-39.3l1.1 40.4l1.1-49.9l1.1 41.7l1.1-38.3l1.2 47l1.1-44.8l1.1 50.1l1.1-51.1l1.1 50.1l1.2-42.9l1.1 31.9l1.1-41.5l1.1 36.6l1.1-38.3l1.2 30l1.1-38.1l1.1 41.3l1.1-33.8l1.1 55.4l1.2-40.4l1.1 57.9l1.1-47l1.1 48.1l1.1-38.5l1.2 32.7l1.1-42.1l1.1 36l1.1-31.6l1.1 23.4l1.2-34.6l1.1 23.7l1.1-18l1.1 24.1l1.1-24.9l1.2 33.5l1.1-21.4l1.1 29.7l1.1-25.7l1.2 31.2l1.1-24.5l1.1 32.6l1.1-27.3l1.1 24.9l1.2-33.8l1.1 29.2l1.1-28.9l1.1 28.5l1.1-28.4l1.2 31.3l1.1-39.2l1.1 38.5l1.1-38.7l1.1 46.1l1.2-34.6l1.1 29l1.1-30.2l1.1 18.9l1.1-18.4l1.2 13.8l1.1-13l1.1 12.6l1.1-12.1l1.1 23.8l1.2-26.4l1.1 36.4l1.1-27.5l1.1 32.9l1.1-29.5l1.2 25l1.1-26.7l1.1 27.3l1.1-19.5l1.1 17.9l1.2-17.6l1.1 21.7l1.1-18.3l1.1 17.9l1.1-15.3l1.2 21.6l1.1-25.4l1.1 32.2l1.1-27.6l1.1 33.6l1.2-30.7l1.1 23.1l1.1-32.8l1.1 18.9l1.1-20.5l1.2 14.6l1.1-16.8l1.1 15.8l1.1-14.8l1.1 13.2l1.2-13.5l1.1 16.5l1.1-14.9l1.1 16l1.1-17.2l1.2 19.4l1.1-17.4l1.1 17.3l1.1-15.9l1.1 17.4l1.2-17.2l1.1 16.3l1.1-18.5l1.1 12.2l1.1-15.9l1.2 11.2l1.1-19.9l1.1 17.9l1.1-16.2l1.1 29.4l1.2-19.9l1.1 39.6l1.1-26.2l1.1 38l1.2-26.4l1.1 30.7l1.1-25.5l1.1 26.4l1.1-20.8l1.2 18.7l1.1-15.5l1.1 11.3l1.1-17.7l1.1 15l1.2-13.5l1.1 14l1.1-20l1.1 15.3l1.1-15.4l1.2 12.7l1.1-15.1l1.1 12.7l1.1-12.7l1.1 9l1.2-9.6l1.1 7.1l1.1-8.3l1.1 8.2l1.1-6.4l1.2 13.8l1.1-13.9l1.1 24.7l1.1-16.4l1.1 33.3l1.2-29.7l1.1 31l1.1-25.1l1.1 27.4l1.1-21.8l1.2 21.5l1.1-17.9l1.1 15.9l1.1-15.6l1.1 8.5l1.2-10.3l1.1 9.1l1.1-9.8l1.1 12.4l1.1-12.8l1.2 16.6l1.1-14.6l1.1 14.9l1.1-11.3l1.1 13.3l1.2-9.6l1.1 10.5l1.1-9.3l1.1 12.4l1.1-11.2l1.2 15.2l1.1-12.8l1.1 17.6l1.1-12l1.1 11.8l1.2-12.5l1.1 14l1.1-13.4l1.1 13l1.1-12.9l1.2 14.6l1.1-15.1l1.1 11.8l1.1-10.4l1.1 7.4l1.2-9.9l1.1 6.9l1.1-10l1.1 7.9l1.1-10.7l1.2 8.7l1.1-11.4l1.1 10.6l1.1-13l1.2 10.7l1.1-10.5l1.1 5.5l1.1-10.3l1.1 19.3l1.2-18.7l1.1 31.5l1.1-21l1.1 20.6l1.1-20.6l1.2 15l1.1-16.1l1.1 11.1l1.1-18l1.1 9.8l1.2-13.6l1.1 2.2l1.1-3.5l1.1 10.7l1.1-11.1l1.2 29.4l1.1-19.7l1.1 23.7l1.1-9.3l1.1 8.8l1.2-6l1.1 5.2l1.1-2.1l1.1 2.3l1.1-1.1l1.2 1.4l1.1-0.9l1.1 1.1l1.1-1l1.1 1.2l1.2-0.9l1.1 1l1.1-0.9l1.1 1.2l1.1-1l1.2 1.4l1.1-0.8l1.1 1l1.1-0.6l1.1 0.9l1.2-0.5l1.1 0.9l1.1-0.3l1.1 0.8l1.1-0.5l1.2 1.1l1.1-0.5l1.1 1.3l1.1-0.6l1.1 0.9l1.2-0.4l1.1 0.5l1.1-0.4l1.1 0.5l1.1-0.4l1.2 0.5l1.1-0.3l1.1 0.5l1.1-0.4l1.1 2.5l1.2-1.2l1.1 2.9l1.1-0.6l1.1-0.8l1.1-0.6l1.2 0.2l1.1-0.3l1.1 0.5l1.1-0.4l1.1-0.6l1.2-2.6l1.1 1.6l1.1-2.5l1.1 8.7l1.2-2.1l1.1 5l1.1-0.6l1.1 2.8l1.1-0.7l1.2 0.4l1.1-0.6l1.1-0.9l1.1-0.5l1.1-0.9l1.2-0.5l1.1-0.9l1.1-0.6l1.1 2.1l1.1-1.3l1.2 4l1.1-0.6l1.1-0.2l1.1-0.7l1.1-1.2l1.2-1.2l1.1-5.6l1.1-14.1l1.1 13.6l1.1-10.4l1.2 13.4l1.1-1l1.1 5l1.1-1.4l1.1 2.3l1.2-0.4l1.1 0.2l1.1-0.4l1.1 0.2l1.1-0.4l1.2 0.2l1.1-0.4l1.1 0.2l1.1-0.4l1.1 0.2l1.2-0.4l1.1 0.9l1.1-0.6l1.1 1.7l1.1-0.5l1.2 1.1l1.1-0.4l1.1-0.2l1.1-0.4l1.1 0l1.2-0.4l1.1 0.5l1.1-0.4l1.1 0.6l1.1-0.5l1.2 0.6l1.1-0.4l1.1 1.2l1.1-0.6l1.1 2l1.2-0.7l1.1 1.9l1.1-8.4l1.1 0.9l1.1-23.1l1.2 15.1l1.1-12.8l1.1 16.8l1.1-6.6l1.1 9.4l1.2-10.3l1.1 11.3l1.1-12.3" fill="none" stroke="#5b4b8a" stroke-width="1.75" stroke-linejoin="round"/>
<path d="M115.3 1058.1H2048.6M115.3 1007.4H2048.6M115.3 956.7H2048.6M115.3 906.1H2048.6M115.3 855.4H2048.6M115.3 804.7H2048.6M115.3 754.1H2048.6M139.6 1092.4V741.2M209.1 1092.4V741.2M278.5 1092.4V741.2M341.2 1092.4V741.2M410.7 1092.4V741.2M477.9 1092.4V741.2M547.4 1092.4V741.2M614.6 1092.4V741.2M684.0 1092.4V741.2M753.5 1092.4V741.2M820.7 1092.4V741.2M890.2 1092.4V741.2M957.4 1092.4V741.2M1026.8 1092.4V741.2M1096.3 1092.4V741.2M1161.3 1092.4V741.2M1230.7 1092.4V741.2M1297.9 1092.4V741.2M1367.4 1092.4V741.2M1434.6 1092.4V741.2M1504.1 1092.4V741.2M1573.5 1092.4V741.2M1640.7 1092.4V741.2M1710.2 1092.4V741.2M1777.4 1092.4V741.2M1846.9 1092.4V741.2M1916.3 1092.4V741.2M1979.1 1092.4V741.2" stroke="#6c6c6c" stroke-width="1.3" stroke-dasharray="2.5 4.5" fill="none"/>
<path d="M210.5 1016.3l2.3 12.7l2.2 11.6l2.2 0.6l2.3 0.5l2.2-12.9l2.3-6.1l2.2-0.9l2.2 3.5l2.3 3.1l2.2 3l2.3 2.2l2.2 1.9l2.2 1.5l2.3-2l2.2-3.4l2.3-2l2.2 3.7l2.2 6.4l2.3 5.9l2.2 4l2.3 3.3l2.2 2.9l2.2 0.6l2.3-0.2l2.2-0.3l2.3-0.2l2.2 0l2.2 0l2.3 0l2.2 0l2.3-0.1l2.2 0.1l2.2 0l2.3 0.1l2.2 0l2.3-0.1l2.2-0.3l2.3-0.3l2.2-0.6l2.2-1.9l2.3-1.7l2.2-1.9l2.3-3l2.2-3.8l2.2 2.7l2.3 1.7l2.2 0l2.3-0.3l2.2-1.7l2.2-3.9l2.3-11.4l2.2-5.2l2.3 1.3l2.2 14.5l2.2 1.3l2.3-0.6l2.2-4.2l2.3-4.6l2.2-9.3l2.2-5.7l2.3-4.2l2.2 3.2l2.3 2.3l2.2-1.3l2.2-7.3l2.3 0.3l2.2-0.5l2.3 2l2.2 6.9l2.2 3.1l2.3-3.7l2.2-5.7l2.3-3l2.2-1.5l2.3-4.3l2.2 10.6l2.2 6l2.3-1.8l2.2-17.5l2.3-14.8l2.2 2l2.2 8.2l2.3 3.5l2.2 7l2.3 0.4l2.2-11.5l2.2-13.2l2.3 3.6l2.2 4.5l2.3 10.6l2.2-1.7l2.2-11.3l2.3-6.8l2.2 1l2.3-7.2l2.2-1.5l2.2 1.5l2.3-1.9l2.2 10.3l2.3 13.7l2.2 10l2.2 3.9l2.3-3.6l2.2-13.9l2.3-12.1l2.2-6.3l2.2 5.7l2.3-10.1l2.2-5.4l2.3-8.5l2.2 6.6l2.2-8.1l2.3-3.9l2.2-11.3l2.3 3.8l2.2 2.8l2.3 9.6l2.2 8.9l2.2-15.6l2.3 1.4l2.2 1.6l2.3-2l2.2 7.3l2.2 10.2l2.3 5.6l2.2 5.1l2.3-12.3l2.2-24.7l2.2 3.9l2.3 15.5l2.2-3.1l2.3 0.1l2.2 3.3l2.2 9l2.3 3.5l2.2-9.5l2.3-16.3l2.2-18.9l2.2-8.5l2.3-4.1l2.2 3.5l2.3-2.5l2.2 4.2l2.2-1.1l2.3-4l2.2 4.8l2.3-1.5l2.2 4.4l2.2-6l2.3 2.6l2.2-27.2l2.3-5.5l2.2-11.1l2.3-9.7l2.2 5.7l2.2-4.3l2.3 15.5l2.2-0.7l2.3 5.1l2.2-6.3l2.2 3.2l2.3-8.3l2.2 4.3l2.3-7.2l2.2 1.8l2.2-6.3l2.3 2.4l2.2-9.3l2.3-10.1l2.2 4.3l2.2 6.6l2.3 1.1l2.2-0.7l2.3-1l2.2-13.9l2.2-2.8l2.3 3.4l2.2-3.7l2.3 11.2l2.2-5.9l2.2-0.9l2.3 5.8l2.2 11.7l2.3-1.6l2.2-0.4l2.2 4.1l2.3 7.8l2.2 14.5l2.3 7.3l2.2-16.7l2.2-6.2l2.3-0.3l2.2 3.7l2.3 3.1l2.2-1.8l2.3-11.1l2.2 4.7l2.2-8.1l2.3 1.3l2.2 1.1l2.3-6.3l2.2-7.6l2.2-5.3l2.3-1.8l2.2-2.7l2.3-4.3l2.2 4.5l2.2 9.9l2.3-3.4l2.2 11.1l2.3 6l2.2 0.6l2.2-7.7l2.3-0.6l2.2 9.7l2.3-0.7l2.2-3.8l2.2 4.5l2.3 0.4l2.2-7.3l2.3 0.3l2.2-3.2l2.2 11.1l2.3 12l2.2 3.7l2.3-5l2.2-6.3l2.2 1.1l2.3-8.1l2.2 3.8l2.3 2.7l2.2 10.8l2.2 6.8l2.3-12.4l2.2-1.3l2.3-7.3l2.2-0.3l2.3-1.9l2.2-13.2l2.2 5.5l2.3-1.9l2.2 2.8l2.3 1.6l2.2 16.5l2.2 14.4l2.3-8.9l2.2-0.2l2.3 16.4l2.2 7l2.2 10.3l2.3-0.9l2.2 0.5l2.3 0.3l2.2-9.7l2.2-13.5l2.3 23.3l2.2 6.3l2.3-1.6l2.2 0.9l2.2 14.1l2.3 3.7l2.2 6.6l2.3-7.7l2.2 3.2l2.2-13.7l2.3-10.5l2.2-13.1l2.3 4.9l2.2-4.9l2.2 4.5l2.3 3.3l2.2 0.9l2.3 5.2l2.2 10.1l2.3 9.7l2.2 2.5l2.2 6.5l2.3 3.4l2.2 4.7l2.3 0.4l2.2-5.3l2.2-3.6l2.3-4.9l2.2-15.4l2.3-8.2l2.2-0.9l2.2 3.9l2.3 2.7l2.2 0.3l2.3 4.1l2.2 1.4l2.2 2.4l2.3-0.6l2.2-1.2l2.3 2.4l2.2 3l2.2 2.4l2.3-0.5l2.2 6.6l2.3 13.4l2.2 10.4l2.2 8.6l2.3 12.5l2.2 5.2l2.3-6l2.2-9.3l2.2-8.7l2.3 1.3l2.2 2.6l2.3-1.6l2.2 0.4l2.2 5.2l2.3 10.3l2.2 5l2.3 4.8l2.2 3.1l2.3-1l2.2 2.7l2.2 2.1l2.3 0.2l2.2 3.1l2.3-1.3l2.2 0l2.2 1.2l2.3 0.6l2.2 0.4l2.3-1.9l2.2-2.6l2.2-3.7l2.3-3.4l2.2-4.6l2.3 0l2.2 0.6l2.2 14.4l2.3 9.9l2.2 4.3l2.3-0.7l2.2 6.2l2.2-1.6l2.3-1.6l2.2-4.1l2.3-5.7l2.2-3.6l2.2 3l2.3 4.2l2.2 3.8l2.3 3l2.2-0.5l2.2-0.4l2.3-3.8l2.2-6.2l2.3-2.8l2.2 8.8l2.3 5l2.2-1.5l2.2-0.1l2.3-4.7l2.2-1.6l2.3-3.3l2.2 2.9l2.2 8.4l2.3 2.6l2.2 5.3l2.3 2.7l2.2 4.6l2.2 1.8l2.3 0.6l2.2-1.9l2.3-2.6l2.2-1.7l2.2-6.6l2.3-14.4l2.2-4.3l2.3-1.1l2.2 4.2l2.2 11.7l2.3-2.1l2.2-4l2.3 0.3l2.2 2.8l2.2 0l2.3 3l2.2 5.3l2.3 4.5l2.2 4.5l2.2 1.4l2.3 3.1l2.2 0.1l2.3 0.5l2.2 0.6l2.2-0.5l2.3-2.8l2.2-4.4l2.3-6l2.2-13.9l2.3-10.4l2.2-1.4l2.2-0.5l2.3 0.2l2.2 13.5l2.3 5.4l2.2 1.6l2.2 0.5l2.3 0l2.2-7.1l2.3 2.2l2.2 2.1l2.2 1.6l2.3 2.9l2.2-7.2l2.3-16.5l2.2 1.2l2.2 5.7l2.3 6l2.2 1.7l2.3-3.5l2.2-8.1l2.2-10l2.3 0.6l2.2 6.4l2.3 5.6l2.2 5.2l2.2 1.2l2.3-0.2l2.2-6.7l2.3-4.3l2.2 2.5l2.2 6.7l2.3 4.3l2.2 0.2l2.3-1.1l2.2-4.2l2.2-5.6l2.3-7l2.2-6l2.3-3.3l2.2 2.7l2.3 11.4l2.2 3.5l2.2-3l2.3-10.6l2.2-8.3l2.3 2.2l2.2-0.3l2.2 11.1l2.3 8.2l2.2 8.7l2.3 5.5l2.2 1.5l2.2-0.4l2.3-7.8l2.2-11.3l2.3 0.9l2.2 5.1l2.2 4.1l2.3 6.9l2.2-6.7l2.3-15.3l2.2-12.6l2.2-6.4l2.3-6l2.2 2.3l2.3-4.3l2.2-3.1l2.2-10.1l2.3-0.3l2.2 5.2l2.3-2.6l2.2 10.6l2.2-2.9l2.3-18.1l2.2 4.8l2.3-0.2l2.2-2.4l2.3-1.1l2.2 9l2.2-8.1l2.3-4.9l2.2-7.4l2.3-1.5l2.2 5.2l2.2-0.9l2.3-2.5l2.2 4.6l2.3-0.4l2.2-3.7l2.2 3.5l2.3 3.7l2.2-1.4l2.3-3.6l2.2-7.6l2.2 0.8l2.3-11.1l2.2 2.5l2.3-4.9l2.2 16.3l2.2 12.5l2.3 3.5l2.2-3.5l2.3-5.9l2.2-15.8l2.2-5.9l2.3 1.8l2.2-8.5l2.3 1.9l2.2 2.1l2.2-6.9l2.3 3.4l2.2 4l2.3 4.1l2.2-14l2.2-8l2.3 1.1l2.2-0.8l2.3 9.6l2.2-13.2l2.3-5.1l2.2-6.9l2.2-4.7l2.3 8l2.2 7l2.3 0.6l2.2 0.3l2.2-5.2l2.3 3.4l2.2-4l2.3-12.8l2.2-13.3l2.2-3.6l2.3-0.2l2.2-11.7l2.3 1.4l2.2 7.2l2.2 2.1l2.3 5.1l2.2-7.8l2.3-1.4l2.2 0.6l2.2-5.4l2.3 1.2l2.2-7.2l2.3 5.2l2.2 5.8l2.2-4.8l2.3-1.8l2.2 15.3l2.3-8.4l2.2-6.9l2.2 3.3l2.3 0.8l2.2 3.8l2.3 8.9l2.2 3.8l2.3 2.3l2.2-2.7l2.2 5.5l2.3 0.2l2.2 3.1l2.3-8.3l2.2-7.7l2.2 2l2.3 8.8l2.2-1l2.3-4.5l2.2-9.3l2.2 8.8l2.3 0.3l2.2 9.2l2.3-1.5l2.2-3.2l2.2-3l2.3-1.5l2.2 8.6l2.3-6.6l2.2-6.1l2.2-4.9l2.3 9l2.2-15.2l2.3 8.3l2.2 8.4l2.2 0.4l2.3-7.3l2.2-6.3l2.3-6.3l2.2-3.5l2.2 4.1l2.3-1.7l2.2 0.9l2.3 7.1l2.2-6.3l2.2 3.2l2.3-3.8l2.2 4.3l2.3-6.8l2.2 6.9l2.3-2.9l2.2 4.5l2.2-2.1l2.3-0.9l2.2 2.5l2.3 15.7l2.2 11.1l2.2 1.2l2.3-4.5l2.2 0.7l2.3 3.9l2.2 6.7l2.2-1.5l2.3 0.5l2.2 1.1l2.3 1.9l2.2-1.1l2.2 0.5l2.3 4.9l2.2 3.4l2.3-1.6l2.2-7.1l2.2 0.4l2.3 5.7l2.2 5.9l2.3 0l2.2-11.6l2.2-5.7l2.3-4.3l2.2 9.4l2.3 12.6l2.2 16.4l2.2 4.1l2.3-6.8l2.2 0l2.3-11.8l2.2 3.2l2.2 0.2l2.3 11.8l2.2 6.8l2.3 6.8l2.2 0.9l2.3-2.5l2.2-0.6l2.2-2.1l2.3-4.8l2.2 1.2l2.3 8.9l2.2-1.3l2.2-3.1l2.3-3.4l2.2 0.2l2.3 3.3l2.2 11.4l2.2 0.7l2.3 4l2.2 1.5l2.3 0.7l2.2 1.5l2.2 1.5l2.3 0.8l2.2 3.1l2.3 1.6l2.2-5.4l2.2-2.3l2.3-5.3l2.2-0.2l2.3-1.2l2.2 1.6l2.2 0.6l2.3 1.5l2.2 1.1l2.3-0.4l2.2-1.2l2.2-6.9l2.3-6.1l2.2 2.1l2.3 8.3l2.2 18.4l2.3 10l2.2 3.7l2.2 5.6l2.3-0.1l2.2-3.7l2.3-1.1l2.2-2.3l2.2-0.6l2.3-1.9l2.2-1.6l2.3-2l2.2-2l2.2-0.7l2.3 3.7l2.2 9l2.3 8.8l2.2 4.5l2.2 3.8l2.3 1.7l2.2 1.2l2.3-3.5l2.2-1.2l2.2 1.6l2.3 1.3l2.2 1.8l2.3 2.9l2.2 1.3l2.2 2.6l2.3 3l2.2 2.8l2.3 1.4l2.2 1.5l2.2 0.1l2.3 0.7l2.2-0.9l2.3-2.5l2.2-2.6l2.2-2.7l2.3-2.6l2.2-1.6l2.3-4.3l2.2-2.5l2.3 3.4l2.2 9.6l2.2 3.1l2.3-4.5l2.2-5.7l2.3-7.8l2.2-0.4l2.2 1.7l2.3 11l2.2 11l2.3 0.6l2.2 0.3l2.2 0.4l2.3 0.3l2.2 0.3l2.3 0.3l2.2 0.2l2.2 0.2l2.3 0.3l2.2 0.3l2.3 0.3l2.2 0.4l2.2 0.4l2.3 0.6l2.2 0.6l2.3 0.4l2.2 0.2l2.2 0.2l2.3 0.2l2.2 0.2l2.3 1.5l2.2 1.8l2.2-1l2.3-0.2l2.2 0.3l2.3-1.3l2.2-0.5l2.3 5l2.2 3.1l2.2 1.8l2.3-0.2l2.2-1l2.3-1l2.2-1.1l2.2 1l2.3 2l2.2-0.9l2.3-1.7l2.2-11.8l2.2 2l2.3 6.7l2.2 3l2.3 1.2l2.2 0l2.2-0.1l2.3-0.1l2.2-0.1l2.3 0l2.2 0.3l2.2 0.9l2.3 0.6l2.2-0.3l2.3-0.3l2.2 0.2l2.2 0.2l2.3 0l2.2 0.3l2.3 0.6l2.2-1.2l2.2-18.9l2.3-0.3l2.2 9l2.3 0.1l2.2 0.8l-1.1 3.8l-2.3-1l-2.2-2.1l-2.2-4.2l-2.3 3.8l-2.2 11.2l-2.3-0.7l-2.2-0.6l-2.2-0.3l-2.3 0l-2.2-0.2l-2.3-0.2l-2.2 0.3l-2.2 0.3l-2.3-0.6l-2.2-0.9l-2.3-0.3l-2.2 0l-2.2 0.1l-2.3 0.1l-2.2 0.1l-2.3 0l-2.2-1.2l-2.2-3l-2.3-4.6l-2.2 0.9l-2.3 6.8l-2.2 1.7l-2.2 0.9l-2.3-2l-2.2-1l-2.3 1.1l-2.2 1l-2.2 1l-2.3 0.2l-2.2-1.8l-2.3-3l-2.2-4.9l-2.3 0.5l-2.2 1.1l-2.2-0.3l-2.3 0.2l-2.2 1l-2.3-1.8l-2.2-1.5l-2.2-0.2l-2.3-0.2l-2.2-0.2l-2.3-0.2l-2.2-0.4l-2.2-0.6l-2.3-0.6l-2.2-0.4l-2.3-0.4l-2.2-0.3l-2.2-0.3l-2.3-0.3l-2.2-0.2l-2.3-0.2l-2.2-0.3l-2.2-0.3l-2.3-0.3l-2.2-0.2l-2.3 0.5l-2.2 0.8l-2.2-4.9l-2.3-15.9l-2.2-4.6l-2.3 4.1l-2.2 10.5l-2.2 5.2l-2.3 5l-2.2 0.1l-2.3-12.4l-2.2-7.9l-2.2 2.7l-2.3 4.4l-2.2 1.3l-2.3 2.1l-2.2 2.6l-2.3 2.8l-2.2 3.1l-2.2 2.3l-2.3-1.8l-2.2-0.5l-2.3-1l-2.2-1.3l-2.2-2.5l-2.3-4.1l-2.2-3.6l-2.3-0.6l-2.2-1.9l-2.2-0.8l-2.3-2.5l-2.2-3.1l-2.3 1.4l-2.2 8.3l-2.2-0.8l-2.3 0.7l-2.2-3.9l-2.3-3.3l-2.2-12.2l-2.2-11.8l-2.3-7.1l-2.2 1.1l-2.3 2.7l-2.2 2.9l-2.2 4.6l-2.3 1.2l-2.2 3.6l-2.3 0.1l-2.2 3l-2.2 2.4l-2.3 1.9l-2.2-4.7l-2.3-3.4l-2.2-8.8l-2.3-18.2l-2.2-10.4l-2.2-0.2l-2.3 2.6l-2.2 7.6l-2.3 0.8l-2.2-0.9l-2.2-0.2l-2.3-2.7l-2.2-1.5l-2.3-2.9l-2.2 2.2l-2.2 1.9l-2.3 6.1l-2.2 9l-2.3 5.6l-2.2-3.6l-2.2-5.4l-2.3-4.6l-2.2-0.3l-2.3-1.2l-2.2-0.2l-2.2-0.2l-2.3 2.1l-2.2-4.2l-2.3-11.4l-2.2-8.4l-2.2-1.3l-2.3 5.7l-2.2 8.5l-2.3 4.3l-2.2-9.8l-2.2-1.7l-2.3 3.6l-2.2 1.5l-2.3 0.6l-2.2 3.1l-2.2-5.8l-2.3-5.3l-2.2-9.9l-2.3-4l-2.2-4.1l-2.3 4.7l-2.2 7.4l-2.2 5.5l-2.3 4.3l-2.2-3.5l-2.3-15.8l-2.2-17.5l-2.2 0l-2.3 2.2l-2.2 2.1l-2.3 15.8l-2.2-1.4l-2.2-8.5l-2.3-1.8l-2.2 0.9l-2.3-0.5l-2.2-0.3l-2.2-3.2l-2.3-1.3l-2.2 2l-2.3 1.7l-2.2-3.9l-2.2-10l-2.3 1.4l-2.2 0.9l-2.3-2.3l-2.2-1.2l-2.2-3.4l-2.3 1.6l-2.2-1.9l-2.3-1.7l-2.2-3.6l-2.2-9.4l-2.3-3.3l-2.2 4.1l-2.3 0.9l-2.2-2.8l-2.3-4.1l-2.2-5l-2.2 3.6l-2.3-1.2l-2.2 1.8l-2.3 4.1l-2.2-2.1l-2.2 5l-2.3 0.7l-2.2 3.6l-2.3 3.5l-2.2 11.4l-2.2 2.8l-2.3-4.6l-2.2 2.7l-2.3-1.5l-2.2-2.5l-2.2 0.4l-2.3 2.6l-2.2 1l-2.3 3.3l-2.2-7.5l-2.2 3.5l-2.3-3.4l-2.2 0.4l-2.3 1.7l-2.2 5.7l-2.2-0.3l-2.3-4.4l-2.2-2.6l-2.3-1.3l-2.2-1.6l-2.2 3.7l-2.3 0.8l-2.2-2.7l-2.3 5.5l-2.2-3.8l-2.2 1.6l-2.3-2.2l-2.2-3.4l-2.3-0.1l-2.2 5.7l-2.3 1.8l-2.2-9.9l-2.2 3.4l-2.3-9l-2.2 8.8l-2.3 2.6l-2.2-1.2l-2.2-0.1l-2.3-8.6l-2.2-0.7l-2.3 0.2l-2.2 2l-2.2 1.2l-2.3-1.2l-2.2 0.6l-2.3-3l-2.2 2.5l-2.2-2.3l-2.3-1.8l-2.2-0.7l-2.3 3.9l-2.2 0.9l-2.2-0.1l-2.3 7l-2.2 9l-2.3 5.4l-2.2 4.9l-2.2 14.7l-2.3-3.7l-2.2-1.3l-2.3-3.6l-2.2 2l-2.2-1l-2.3 6.5l-2.2-2.7l-2.3-1.4l-2.2 10.4l-2.2-2.6l-2.3-0.9l-2.2 2.7l-2.3-4.1l-2.2 5.6l-2.3 3l-2.2 0.7l-2.2 5.3l-2.3-4.5l-2.2 6.2l-2.3-0.8l-2.2-3l-2.2 2.9l-2.3 8.6l-2.2 7.3l-2.3 4.7l-2.2 2.9l-2.2 5.1l-2.3-10.2l-2.2-6.6l-2.3-7.7l-2.2 7.9l-2.2 5l-2.3 2.7l-2.2 2.3l-2.3-1.5l-2.2-2.7l-2.2-0.3l-2.3-1l-2.2-2.3l-2.3 1.9l-2.2-4.1l-2.2 9.8l-2.3 3.6l-2.2-5.4l-2.3 1.2l-2.2 3.4l-2.2-1.4l-2.3 5l-2.2-1.5l-2.3-0.8l-2.2 3.8l-2.3 1.6l-2.2 8.1l-2.2 1.6l-2.3-3.7l-2.2 4.4l-2.3 0.1l-2.2 0.7l-2.2-4.7l-2.3 2.3l-2.2 3l-2.3 5.2l-2.2 2.5l-2.2 10.1l-2.3-2.3l-2.2 1.6l-2.3 9.9l-2.2 7.1l-2.2 6.2l-2.3-9.8l-2.2-7.6l-2.3 7l-2.2 4.7l-2.2 1.7l-2.3 6.7l-2.2 1.8l-2.3-3.7l-2.2-3.7l-2.2-11.7l-2.3-11.8l-2.2 1.2l-2.3-1.4l-2.2 1.7l-2.2 3.1l-2.3 9.9l-2.2 4.4l-2.3-9.9l-2.2-7.2l-2.2 0l-2.3-1.7l-2.2 6.7l-2.3 7.3l-2.2 2.1l-2.3 4.7l-2.2 0.3l-2.2 0.6l-2.3-2.1l-2.2-6.6l-2.3-4.1l-2.2 2.4l-2.2 3.4l-2.3 1.5l-2.2-1.3l-2.3-6.1l-2.2-2.5l-2.2-1.5l-2.3 1.7l-2.2 4.3l-2.3 7.2l-2.2 1.9l-2.2-2.3l-2.3-6.9l-2.2-3.5l-2.3 5.9l-2.2 7.9l-2.2 4.5l-2.3 1.7l-2.2-2.6l-2.3-3.8l-2.2-4.9l-2.2 8.3l-2.3 2.9l-2.2 0.5l-2.3-1.9l-2.2-4.7l-2.2-6.7l-2.3-3.3l-2.2-4.6l-2.3 0.3l-2.2 7.1l-2.3 16.1l-2.2 3.8l-2.2 3.5l-2.3 1.9l-2.2 0.7l-2.3-0.7l-2.2 0.1l-2.2 0.2l-2.3-1.4l-2.2-1.8l-2.3-4l-2.2-3.3l-2.2-4.3l-2.3-1.9l-2.2-2.5l-2.3-2.9l-2.2-1.6l-2.2 5.5l-2.3 1.7l-2.2-6.7l-2.3-1l-2.2 2.8l-2.2 2.8l-2.3 6.6l-2.2 3.1l-2.3 2.7l-2.2 2.8l-2.2 2.6l-2.3 0.6l-2.2-1.9l-2.3-2.8l-2.2 0.3l-2.2-5.2l-2.3-5.6l-2.2-6.7l-2.3-3.8l-2.2 0.9l-2.2 1.3l-2.3 4.6l-2.2 2l-2.3 2.9l-2.2-2.5l-2.3-11.1l-2.2 2.9l-2.2 6.3l-2.3 0.9l-2.2-0.3l-2.3-1l-2.2-0.7l-2.2-2.8l-2.3-2.7l-2.2 0.5l-2.3 1.5l-2.2 5.9l-2.2 6.6l-2.3 3.5l-2.2-3.8l-2.3-1.1l-2.2-3.4l-2.2-3.2l-2.3-4.2l-2.2-21.3l-2.3-7.4l-2.2 1.5l-2.2 3.6l-2.3 4.8l-2.2 4.6l-2.3 4.3l-2.2 3.4l-2.2-0.1l-2.3-4.2l-2.2-3.1l-2.3 2.7l-2.2 2.7l-2.2 0.7l-2.3-1.5l-2.2-2.2l-2.3-2.7l-2.2-2.2l-2.2-2.9l-2.3-1.5l-2.2-0.1l-2.3-14.3l-2.2-7l-2.3 1.2l-2.2 5.9l-2.2-8.2l-2.3-4.9l-2.2 11.8l-2.3 14.8l-2.2 9.7l-2.2-6.4l-2.3-7.2l-2.2-13.1l-2.3-16l-2.2-19.7l-2.2-2.5l-2.3 0.6l-2.2-2.5l-2.3-2.5l-2.2-1l-2.2 0.4l-2.3 1.5l-2.2 1.1l-2.3-6.1l-2.2-1.4l-2.2 4.6l-2.3-2.1l-2.2-3l-2.3 1.7l-2.2 6.5l-2.2 9.4l-2.3 1.4l-2.2 7.5l-2.3 11.2l-2.2-1.5l-2.2-6.9l-2.3-11.4l-2.2-2.6l-2.3-1.7l-2.2-7.3l-2.3-7.1l-2.2-4.5l-2.2 0.2l-2.3-2.2l-2.2-0.8l-2.3-1.7l-2.2 3.9l-2.2 9.1l-2.3 13.6l-2.2 8.6l-2.3 2.6l-2.2 0l-2.2 1.2l-2.3-11.2l-2.2-13.5l-2.3 1.8l-2.2-0.6l-2.2-4.7l-2.3-4.2l-2.2 3l-2.3 1.7l-2.2-1.4l-2.2-9.4l-2.3 4.5l-2.2-0.1l-2.3-7.2l-2.2-6.4l-2.2 4.3l-2.3-1.4l-2.2-7.1l-2.3-19.8l-2.2-4.8l-2.2-3l-2.3-2.2l-2.2 2.2l-2.3 5.4l-2.2 9.2l-2.2 9.8l-2.3 2.6l-2.2 0.6l-2.3-2l-2.2-0.3l-2.3-5.6l-2.2-2.7l-2.2-6.3l-2.3 2.6l-2.2 3.9l-2.3 3.9l-2.2 0.2l-2.2-1.8l-2.3-8.3l-2.2 0.5l-2.3-2.8l-2.2 3l-2.2-0.6l-2.3-6.8l-2.2 2.9l-2.3-2.2l-2.2-3.9l-2.2 3.6l-2.3-2.6l-2.2 3.1l-2.3-7.6l-2.2-4.1l-2.2 0.8l-2.3 0.5l-2.2-5.4l-2.3 4.9l-2.2-5l-2.2 3.1l-2.3 1.1l-2.2 8.5l-2.3 3l-2.2 3.3l-2.2 6.6l-2.3 4.2l-2.2 0.6l-2.3-1.4l-2.2-4.2l-2.3-2.6l-2.2-3l-2.2 1.2l-2.3 5.8l-2.2 6.6l-2.3 2.1l-2.2 2.7l-2.2-5.9l-2.3-6.5l-2.2-1.2l-2.3 2.1l-2.2 2.2l-2.2-10l-2.3-5.9l-2.2-0.7l-2.3-0.2l-2.2 3l-2.2-11.4l-2.3-3.8l-2.2 11.8l-2.3 4.5l-2.2 1.7l-2.2-5.5l-2.3 0.8l-2.2 0.6l-2.3 3.9l-2.2-1.5l-2.2 6.1l-2.3 8l-2.2-7.9l-2.3 12.2l-2.2 3.9l-2.2-6.6l-2.3 4.7l-2.2 7.5l-2.3 0.2l-2.2-12.2l-2.2-1.5l-2.3 0.8l-2.2-2l-2.3 7.7l-2.2-2l-2.3 4.7l-2.2 11.3l-2.2 7l-2.3-1.3l-2.2 5.9l-2.3 3l-2.2-0.7l-2.2 2.5l-2.3-0.3l-2.2-0.5l-2.3 1.4l-2.2-4.5l-2.2 0.9l-2.3 5.5l-2.2 15.1l-2.3 6.3l-2.2 2.4l-2.2 9.8l-2.3 0l-2.2-2.6l-2.3 1.4l-2.2-1.1l-2.2-7.5l-2.3-1.4l-2.2 2.3l-2.3 4.3l-2.2 10.3l-2.2 0.9l-2.3-7.4l-2.2-3l-2.3-1.6l-2.2-3.7l-2.2 1.4l-2.3 3.7l-2.2-3.6l-2.3-3.1l-2.2 2.3l-2.2-5.7l-2.3 2.4l-2.2-0.1l-2.3 11.1l-2.2 8.3l-2.3 1l-2.2 7.1l-2.2-2.6l-2.3 8.3l-2.2 3.9l-2.3-1.6l-2.2 1.2l-2.2 10l-2.3 1.5l-2.2-1.7l-2.3-7.8l-2.2-8.2l-2.2-4.3l-2.3 0.7l-2.2-6.4l-2.3 3.6l-2.2 3.9l-2.2 5.4l-2.3 5.8l-2.2 7.2l-2.3 1.3l-2.2-13.9l-2.2 2.8l-2.3-6.1l-2.2 4.8l-2.3 10l-2.2 3.6l-2.2-7.4l-2.3-2.7l-2.2-1.1l-2.3 6l-2.2 7l-2.2 6.8l-2.3-0.5l-2.2-5.7l-2.3-4.9l-2.2 1.5l-2.3-0.9l-2.2 1l-2.2 5l-2.3 4.4l-2.2-2.4l-2.3-2.9l-2.2-2.9l-2.2 1.9l-2.3 1.8l-2.2 1.5l-2.3-1l-2.2-3.5l-2.2-1l-2.3 3.9l-2.2 3.6l-2.3 12.3l-2.2 2.8l-2.2 0.2l-2.3 0.9l-2.2 0.4l-2.3-8.2l-2.2-2.2l-2.2 2.8l-2.3 6.3l-2.2 2.4l-2.3 1l-2.2-0.1l-2.2 0.3l-2.3-0.5l-2.2-0.7l-2.3 2.6l-2.2 1.3l-2.2 1.4l-2.3 0.9l-2.2 1.7l-2.3 0.6l-2.2 0.3l-2.2 0.3l-2.3 0.2l-2.2-0.1l-2.3-0.1l-2.2 0l-2.3-0.1l-2.2 0.1l-2.2 0l-2.3 0l-2.2 0l-2.3 0l-2.2 0.2l-2.2 0.3l-2.3 0.2l-2.2-0.6l-2.3-2.8l-2.2-3.2l-2.2-3.6l-2.3-5.8l-2.2-6.3l-2.3-4.5l-2.2 2.1l-2.2 3.4l-2.3 1.9l-2.2-1.5l-2.3-1.8l-2.2-2.3l-2.2-2.9l-2.3-3.1l-2.2-3.4l-2.3 1.1l-2.2 6.4l-2.2 15.5l-2.3-3.8l-2.2 1.5l-2.3-11.1l-2.2-13.8z" fill="#56a4c8" stroke="none"/>
<path d="M209.4 1018.1l1.1-1.8l1.1 15.6l1.2-2.9l1.1 14l1.1-2.4l1.1 0.9l1.1-0.3l1.2 4.1l1.1-3.6l1.1-11.9l1.1-1l1.1-5.4l1.2-0.7l1.1-0.4l1.1-0.5l1.1 3.9l1.1-0.4l1.2 3.5l1.1-0.4l1.1 3.3l1.1-0.3l1.1 2.6l1.2-0.4l1.1 2.2l1.1-0.3l1.1 1.8l1.1-0.3l1.2-1.6l1.1-0.4l1.1-3l1.1-0.4l1.1-1.7l1.2-0.3l1.1 4.8l1.1-1.1l1.1 7.4l1.1-1l1.2 6.8l1.1-0.9l1.1 4.5l1.1-0.5l1.1 3.7l1.2-0.4l1.1 3.2l1.1-0.3l1.1 0.9l1.1-0.3l1.2 0.1l1.1-0.3l1.1 0l1.1-0.3l1.1 0.1l1.2-0.3l1.1 0.3l1.1-0.3l1.1 0.3l1.1-0.3l1.2 0.3l1.1-0.3l1.1 0.3l1.1-0.3l1.1 0.2l1.2-0.3l1.1 0.4l1.1-0.3l1.1 0.3l1.1-0.3l1.2 0.4l1.1-0.3l1.1 0.4l1.1-0.4l1.2 0.2l1.1-0.3l1.1 0l1.1-0.3l1.1 0l1.2-0.3l1.1-0.3l1.1-0.3l1.1-1.4l1.1-0.5l1.2-0.4l1.1-1.3l1.1-0.1l1.1-1.8l1.1 0.5l1.2-3.5l1.1 0.9l1.1-4.7l1.1 5.4l1.1-2.7l1.2 3.2l1.1-1.5l1.1 1.2l1.1-1.2l1.1 1.3l1.2-1.6l1.1 0.6l1.1-2.3l1.1-0.1l1.1-3.8l1.2-2.5l1.1-8.9l1.1 6.1l1.1-11.3l1.1 13.5l1.2-12.2l1.1 20.4l1.1-5.9l1.1 5.5l1.1-4.2l1.2 3.3l1.1-3.9l1.1 3.7l1.1-7.9l1.1 5.1l1.2-9.7l1.1-2.6l1.1-6.7l1.1 3.1l1.1-8.8l1.2 4.9l1.1-9.1l1.1 10.1l1.1-6.9l1.1 10.4l1.2-8.1l1.1 9.1l1.1-10.4l1.1 8.9l1.1-16.2l1.2 14.4l1.1-14.1l1.1 12.2l1.1-12.7l1.1 15.6l1.2-13.6l1.1 16.5l1.1-9.6l1.1 12l1.1-8.9l1.2 4.5l1.1-8.2l1.1 3.2l1.1-8.9l1.1 7.9l1.2-10.9l1.1 11.8l1.1-13.3l1.1 11.8l1.2-16.1l1.1 21l1.1-10.4l1.1 16.1l1.1-10.1l1.2 10.6l1.1-12.4l1.1 5.6l1.1-23.1l1.1 16.1l1.2-30.9l1.1 24.9l1.1-22.9l1.1 24l1.1-15.8l1.2 18.5l1.1-15l1.1 22.4l1.1-15.4l1.1 11.8l1.2-11.4l1.1 1.4l1.1-12.9l1.1 8.1l1.1-21.3l1.2 27.4l1.1-23.8l1.1 21l1.1-16.5l1.1 30.4l1.2-19.8l1.1 18.5l1.1-20.2l1.1 13l1.1-24.3l1.2 18.5l1.1-25.3l1.1 19.9l1.1-18.9l1.1 15l1.2-22.2l1.1 18.6l1.1-20.1l1.1 26.5l1.1-25l1.2 24.3l1.1-26.2l1.1 30.5l1.1-20.2l1.1 28.4l1.2-14.7l1.1 22.5l1.1-12.5l1.1 14.2l1.1-10.3l1.2 8.8l1.1-12.4l1.1 2.4l1.1-16.3l1.1 15.1l1.2-27.2l1.1 28.8l1.1-35.1l1.1 31.2l1.1-25.5l1.2 17.2l1.1-27.3l1.1 29.9l1.1-35.3l1.1 28.2l1.2-36.7l1.1 35.7l1.1-29.1l1.1 20.8l1.1-28.9l1.2 17.8l1.1-21.7l1.1 21.8l1.1-33.1l1.2 30.7l1.1-26.9l1.1 32.6l1.1-29.8l1.1 27.5l1.2-17.9l1.1 21l1.1-12.1l1.1 15.7l1.1-31.3l1.2 27.6l1.1-26.2l1.1 24.8l1.1-23.2l1.1 26.9l1.2-28.9l1.1 30.5l1.1-23.2l1.1 26.2l1.1-16l1.2 23.4l1.1-17.8l1.1 16.9l1.1-11.8l1.1 1.5l1.2-13.8l1.1 9.5l1.1-34.2l1.1 31.9l1.1-28l1.2 29.4l1.1-13.9l1.1 21.4l1.1-24.5l1.1 25.6l1.2-25.5l1.1 24.1l1.1-20.8l1.1 23.4l1.1-14.4l1.2 14.4l1.1-10.9l1.1 1.1l1.1-10.6l1.1 8.2l1.2-24.5l1.1 18.2l1.1-37.1l1.1 22l1.1-30.5l1.2 25l1.1-29.1l1.1 28.2l1.1-24.7l1.1 29.2l1.2-31.7l1.1 30.3l1.1-26.1l1.1 26.6l1.1-27.7l1.2 28l1.1-32l1.1 29.5l1.1-24.7l1.1 25.4l1.2-26.9l1.1 23.9l1.1-19.5l1.1 13.6l1.1-19.6l1.2 20.9l1.1-18.3l1.1 11.3l1.1-38.5l1.1 27.2l1.2-32.7l1.1 28l1.1-39.1l1.1 41.1l1.2-50.8l1.1 43.1l1.1-37.4l1.1 39.4l1.1-43.7l1.2 42.9l1.1-27.4l1.1 28.9l1.1-29.6l1.1 41.8l1.2-36.7l1.1 36.5l1.1-42.8l1.1 35.3l1.1-32.1l1.2 27.4l1.1-35.7l1.1 42.3l1.1-38l1.1 34.1l1.2-41.3l1.1 29.1l1.1-27.3l1.1 35.2l1.1-41.5l1.2 33.5l1.1-31.1l1.1 25l1.1-34.3l1.1 35.8l1.2-45.9l1.1 42l1.1-37.7l1.1 37.1l1.1-30.5l1.2 29.7l1.1-28.6l1.1 34.1l1.1-34.8l1.1 33.1l1.2-34.1l1.1 29.6l1.1-43.5l1.1 31.7l1.1-34.5l1.2 38.3l1.1-34.9l1.1 46.3l1.1-50l1.1 47l1.2-35.8l1.1 36l1.1-41.9l1.1 42.6l1.1-43.5l1.2 49.4l1.1-43.6l1.1 53.6l1.1-41.9l1.1 39.7l1.2-41.3l1.1 39.2l1.1-39.6l1.1 40.8l1.1-36.7l1.2 43.2l1.1-35.4l1.1 41.3l1.1-26.8l1.1 24.1l1.2-16.8l1.1 14.7l1.1-31.4l1.1 24.8l1.1-31l1.2 25.2l1.1-25.5l1.1 24.3l1.1-20.6l1.1 23.6l1.2-20.5l1.1 23.1l1.1-24.9l1.1 29.1l1.2-40.2l1.1 41.6l1.1-36.9l1.1 36.3l1.1-44.4l1.2 40.2l1.1-38.9l1.1 32.3l1.1-31.2l1.1 27.9l1.2-34.2l1.1 31.2l1.1-38.8l1.1 30.3l1.1-35.6l1.2 34.5l1.1-36.3l1.1 33.2l1.1-35.9l1.1 40.9l1.2-45.2l1.1 40.3l1.1-35.8l1.1 41.2l1.1-31.3l1.2 30.8l1.1-34.2l1.1 33.4l1.1-22.3l1.1 26.4l1.2-20.4l1.1 28l1.1-27.4l1.1 24.3l1.1-32l1.2 34.6l1.1-35.2l1.1 31.6l1.1-21.9l1.1 25.8l1.2-26.5l1.1 28.7l1.1-32.5l1.1 29.6l1.1-25.1l1.2 31.9l1.1-31.5l1.1 32.1l1.1-39.4l1.1 36.4l1.2-36.1l1.1 38.9l1.1-42.1l1.1 41.6l1.1-30.5l1.2 38.8l1.1-26.8l1.1 28.6l1.1-24.9l1.1 24.7l1.2-29.7l1.1 25.8l1.1-32.1l1.1 28.2l1.1-27.1l1.2 24.5l1.1-32.6l1.1 38.9l1.1-35.1l1.1 37.8l1.2-35.1l1.1 40.7l1.1-29.9l1.1 30.2l1.1-23.4l1.2 25.4l1.1-37.8l1.1 37.2l1.1-38.5l1.2 35.9l1.1-43.2l1.1 33.4l1.1-33.7l1.1 24.5l1.2-26.4l1.1 21l1.1-34.2l1.1 32l1.1-26.5l1.2 28.7l1.1-30.6l1.1 33.6l1.1-30.8l1.1 35.6l1.2-34l1.1 53.8l1.1-37.3l1.1 44.4l1.1-30l1.2 31.4l1.1-40.3l1.1 36l1.1-36.2l1.1 42.6l1.2-26.2l1.1 33.4l1.1-26.4l1.1 26.5l1.1-16.2l1.2 11.7l1.1-12.6l1.1 22l1.1-21.5l1.1 22.9l1.2-22.6l1.1 20.9l1.1-30.6l1.1 27.6l1.1-41.1l1.2 45.3l1.1-22l1.1 26.7l1.1-20.4l1.1 21l1.2-22.6l1.1 20.8l1.1-19.9l1.1 33.4l1.1-19.3l1.2 30.5l1.1-26.8l1.1 25.6l1.1-19l1.1 19l1.2-26.7l1.1 24.1l1.1-20.9l1.1 12.3l1.1-26l1.2 12.4l1.1-22.9l1.1 13.8l1.1-26.9l1.1 23l1.2-18.1l1.1 19.8l1.1-24.7l1.1 25.5l1.1-21l1.2 23.2l1.1-19.9l1.1 19.7l1.1-18.8l1.1 23.3l1.2-18.1l1.1 25.2l1.1-15.1l1.1 22.4l1.2-12.7l1.1 14.4l1.1-11.9l1.1 14.5l1.1-8l1.2 19.4l1.1-16l1.1 22.9l1.1-18.2l1.1 19.7l1.2-19.3l1.1 8.1l1.1-13.4l1.1 5.9l1.1-9.5l1.2 8.1l1.1-13l1.1 3.6l1.1-19l1.1 12.5l1.2-20.7l1.1 19l1.1-19.9l1.1 22.9l1.1-19l1.2 21.1l1.1-18.4l1.1 13.8l1.1-13.5l1.1 14.9l1.2-10.8l1.1 16.9l1.1-15.5l1.1 14.4l1.1-12l1.2 10.5l1.1-11.1l1.1 10.7l1.1-11.9l1.1 12.9l1.2-10.5l1.1 13l1.1-10l1.1 12.5l1.1-10.1l1.2 9.5l1.1-10l1.1 12.5l1.1-5.9l1.1 25.6l1.2-12.2l1.1 28.2l1.1-17.8l1.1 30.9l1.1-22.3l1.2 29.5l1.1-17l1.1 23.4l1.1-18.2l1.1 8.5l1.2-14.5l1.1-0.3l1.1-9l1.1-2.8l1.1-5.9l1.2 10.8l1.1-9.5l1.1 17.7l1.1-15.1l1.1 9.2l1.2-10.8l1.1 9.6l1.1-9.2l1.1 16.2l1.1-11l1.2 25.3l1.1-15l1.1 15.1l1.1-10.1l1.2 11.6l1.1-6.8l1.1 9.7l1.1-6.6l1.1 8.8l1.2-9.8l1.1 12.5l1.1-9.8l1.1 12l1.1-9.9l1.2 11.4l1.1-11.2l1.1 10.5l1.1-7.4l1.1 4.7l1.2-6l1.1 3.3l1.1-3.3l1.1 6.4l1.1-5.2l1.2 9.4l1.1-8.8l1.1 8.9l1.1-8.5l1.1 5.1l1.2-7l1.1 2.7l1.1-5.3l1.1 0.7l1.1-4.4l1.2-0.4l1.1-3l1.1-0.6l1.1-4l1.1 2.5l1.2-2.5l1.1 9.9l1.1-9.3l1.1 30.6l1.1-16.2l1.2 20.4l1.1-10.5l1.1 13.7l1.1-9.4l1.1 12.8l1.2-13.5l1.1 14.6l1.1-8.4l1.1 12.2l1.1-13.8l1.2 10.3l1.1-11.9l1.1 5.3l1.1-9.4l1.1 3.5l1.2-9.2l1.1 7.7l1.1-11.3l1.1 10.8l1.1-7.8l1.2 10.5l1.1-6.3l1.1 9.1l1.1-5.3l1.1 6l1.2-3l1.1 4l1.1-4.5l1.1 4.8l1.1-5.2l1.2 4.3l1.1-8.1l1.1 1.8l1.1-8l1.1 5.1l1.2-7.9l1.1 19l1.1-10.2l1.1 12.7l1.2-7.7l1.1 4.8l1.1-6.3l1.1 4.3l1.1-4.4l1.2-0.2l1.1-4.5l1.1 3.2l1.1-4.8l1.1 3.9l1.2-7.2l1.1 11l1.1-8.1l1.1 14.8l1.1-6.4l1.2 12l1.1-9.4l1.1 14.6l1.1-9.3l1.1 9l1.2-6.3l1.1 9.1l1.1-4.5l1.1 6.4l1.1-4.6l1.2 4l1.1-3.4l1.1 0.8l1.1-2.7l1.1-0.1l1.2-2.5l1.1-0.2l1.1-1.5l1.1-1.6l1.1-5l1.2-1.6l1.1-12.8l1.1 10l1.1-14.3l1.1 11.5l1.2-12.6l1.1 13.6l1.1-9.4l1.1 16.1l1.1-4.4l1.2 2.7l1.1-4.8l1.1-0.7l1.1-3.3l1.1 4.9l1.2-4.6l1.1 7.5l1.1-4.7l1.1 7.2l1.1-7.2l1.2 9.1l1.1-6.1l1.1 10.4l1.1-5.1l1.1 8.4l1.2-3.9l1.1 7.9l1.1-3.4l1.1 5.2l1.1-3.8l1.2 5.2l1.1-2.1l1.1 1.9l1.1-1.8l1.1 1.7l1.2-1.2l1.1 1.9l1.1-1.3l1.1 0.6l1.1-1.1l1.2-0.8l1.1-2l1.1-1.5l1.1-2.9l1.1-0.9l1.2-5.1l1.1-11l1.1-2.9l1.1-4.2l1.2-6.2l1.1 5.9l1.1-7.3l1.1 11.9l1.1-12.4l1.2 15.7l1.1-15.5l1.1 22.2l1.1-8.7l1.1 13.4l1.2-8l1.1 9.9l1.1-8.3l1.1 7.8l1.1-7.3l1.2 4.4l1.1-4.4l1.1-3.9l1.1-3.2l1.1 8.1l1.2-5.9l1.1 9.7l1.1-7.6l1.1 10.2l1.1-8.6l1.2 6.9l1.1-4l1.1-0.5l1.1-6.7l1.1-1.2l1.2-15.3l1.1 9.4l1.1-8.2l1.1 11.7l1.1-6l1.2 12.9l1.1-6.9l1.1 9.2l1.1-7.5l1.1 5.6l1.2-9.1l1.1 1.9l1.1-10l1.1 5.7l1.1-15.7l1.2 14l1.1-13.4l1.1 14.9l1.1-8.5l1.1 11l1.2-5.4l1.1 11.5l1.1-6.3l1.1 7.6l1.1-6.4l1.2 4.9l1.1-5.1l1.1 1.7l1.1-8.4l1.1 6l1.2-10.3l1.1 14.4l1.1-11.9l1.1 18.5l1.1-11.8l1.2 13.9l1.1-9.6l1.1 9l1.1-8.8l1.1 8.5l1.2-9.6l1.1 4.9l1.1-9.1l1.1 7l1.1-12.6l1.2 5.3l1.1-12.3l1.1 5.6l1.1-11.6l1.2 13.3l1.1-16.6l1.1 16.6l1.1-13.9l1.1 21.1l1.2-9.7l1.1 19.6l1.1-16.1l1.1 11.7l1.1-14.7l1.2 4.8l1.1-15.4l1.1 12.3l1.1-20.6l1.1 18.9l1.2-16.7l1.1 18.1l1.1-18.4l1.1 17.2l1.1-6.1l1.2 17.9l1.1-9.7l1.1 21.4l1.1-12.7l1.1 16.4l1.2-10.9l1.1 14.6l1.1-13.1l1.1 11.3l1.1-11.7l1.2 5l1.1-12.8l1.1 11.1l1.1-22.4l1.1 17.7l1.2-16.8l1.1 9.8l1.1-4.7l1.1 12.3l1.1-8.2l1.2 18l1.1-11.1l1.1 4.9l1.1-11.6l1.1 4.5l1.2-19.8l1.1 9.9l1.1-22.5l1.1 20.9l1.1-27.3l1.2 29.6l1.1-35.6l1.1 25.5l1.1-23.2l1.1 20.7l1.2-25l1.1 19.8l1.1-22.9l1.1 19.9l1.1-30l1.2 27.7l1.1-28l1.1 32.7l1.1-27.5l1.1 26.8l1.2-29.4l1.1 29.3l1.1-18.7l1.1 14.3l1.1-17.2l1.2 20.9l1.1-39l1.1 37.4l1.1-32.6l1.1 24.5l1.2-24.7l1.1 23.1l1.1-25.5l1.1 21.7l1.2-22.8l1.1 23.6l1.1-14.6l1.1 16.1l1.1-24.2l1.2 19.2l1.1-24.1l1.1 25.5l1.1-32.9l1.1 29.5l1.2-31l1.1 29.8l1.1-24.6l1.1 30l1.1-30.9l1.2 27.3l1.1-29.8l1.1 20l1.1-15.4l1.1 19.5l1.2-19.9l1.1 18l1.1-21.7l1.1 24l1.1-20.5l1.2 21.5l1.1-17.8l1.1 18.1l1.1-19.5l1.1 22.2l1.2-25.8l1.1 27.3l1.1-34.9l1.1 32.6l1.1-31.8l1.2 29.1l1.1-40.2l1.1 35.2l1.1-32.7l1.1 24.8l1.2-29.7l1.1 37.4l1.1-21.1l1.1 27.7l1.1-15.2l1.2 25.4l1.1-21.9l1.1 16.8l1.1-20.3l1.1 17.4l1.2-23.3l1.1 18.6l1.1-34.4l1.1 27.1l1.1-33l1.2 24.4l1.1-22.6l1.1 19.7l1.1-28.2l1.1 31.2l1.2-29.3l1.1 30.1l1.1-28l1.1 21.8l1.1-28.7l1.2 33.2l1.1-29.8l1.1 24.5l1.1-20.5l1.1 19.8l1.2-15.7l1.1 12.7l1.1-26.7l1.1 21.1l1.1-29.1l1.2 33.2l1.1-32.1l1.1 29.4l1.1-30.2l1.2 31.1l1.1-21.5l1.1 24.1l1.1-37.3l1.1 26.9l1.2-32l1.1 33.4l1.1-40.3l1.1 43l1.1-47.7l1.2 41.2l1.1-33.2l1.1 34.2l1.1-27.2l1.1 25.2l1.2-24.6l1.1 28.2l1.1-27.9l1.1 29.2l1.1-34.4l1.2 38.1l1.1-34.7l1.1 20l1.1-24l1.1 19.1l1.2-31.9l1.1 26.5l1.1-39.8l1.1 30.8l1.1-34.4l1.2 27.4l1.1-27.6l1.1 27.7l1.1-39.4l1.1 38.5l1.2-37.1l1.1 33.2l1.1-26l1.1 26.7l1.1-24.6l1.2 26.4l1.1-21.3l1.1 23.6l1.1-31.4l1.1 28.9l1.2-30.3l1.1 33.3l1.1-32.7l1.1 32.1l1.1-37.5l1.2 38.7l1.1-37.5l1.1 36.3l1.1-43.5l1.1 41.5l1.2-36.3l1.1 36.1l1.1-30.3l1.1 31l1.1-35.8l1.2 44.4l1.1-46.2l1.1 46.3l1.1-31l1.1 32.2l1.2-40.6l1.1 38l1.1-44.9l1.1 36.1l1.1-32.8l1.2 41.8l1.1-41l1.1 37.6l1.1-33.8l1.1 43.7l1.2-34.8l1.1 33l1.1-29.2l1.1 23.5l1.2-21.2l1.1 21.3l1.1-24l1.1 27.4l1.1-21.9l1.2 24.1l1.1-23.9l1.1 22.3l1.1-19.2l1.1 23l1.2-31.3l1.1 25.8l1.1-33.5l1.1 36.2l1.1-34.2l1.2 33.4l1.1-24.6l1.1 20.9l1.1-21.9l1.1 23.5l1.2-28l1.1 29.3l1.1-38.6l1.1 41.2l1.1-32.4l1.2 36.8l1.1-36.5l1.1 36.8l1.1-27.6l1.1 21.9l1.2-23.4l1.1 21.7l1.1-24.9l1.1 24.5l1.1-27.5l1.2 30.9l1.1-32.4l1.1 28.9l1.1-20.3l1.1 27.8l1.2-34.4l1.1 31.1l1.1-37.2l1.1 36.2l1.1-41.1l1.2 38.5l1.1-29.5l1.1 29.1l1.1-44.3l1.1 46.8l1.2-38.5l1.1 40l1.1-31.6l1.1 28.9l1.1-28.5l1.2 33.1l1.1-40.4l1.1 37.6l1.1-43.9l1.1 32.5l1.2-38.8l1.1 35.3l1.1-38.8l1.1 35.2l1.1-31.1l1.2 30.4l1.1-32.1l1.1 27.1l1.1-26.2l1.1 28.3l1.2-21.2l1.1 17.1l1.1-23.4l1.1 21.6l1.1-18.4l1.2 19.6l1.1-23.4l1.1 19.8l1.1-15.5l1.1 20.5l1.2-27.3l1.1 31.4l1.1-24.5l1.1 27.3l1.2-30.2l1.1 29.3l1.1-24.8l1.1 20.7l1.1-22.8l1.2 26.1l1.1-27l1.1 36.4l1.1-33.9l1.1 37.5l1.2-21.8l1.1 23.5l1.1-12.4l1.1 14.3l1.1-13.1l1.2 11.5l1.1-16l1.1 19.4l1.1-18.7l1.1 19.9l1.2-16l1.1 18.3l1.1-11.6l1.1 10.7l1.1-12.2l1.2 10.8l1.1-10.3l1.1 20.3l1.1-19.2l1.1 23.1l1.2-21.2l1.1 19.5l1.1-20.6l1.1 18.6l1.1-18.1l1.2 19.4l1.1-14.5l1.1 17.7l1.1-14.3l1.1 14.6l1.2-16.2l1.1 16.7l1.1-23.8l1.1 22.9l1.1-22.5l1.2 24.3l1.1-18.6l1.1 27.1l1.1-21.2l1.1 22.6l1.2-22.6l1.1 6.8l1.1-18.4l1.1 16.3l1.1-22l1.2 19.8l1.1-24.1l1.1 24.1l1.1-14.7l1.1 32.2l1.2-19.6l1.1 35.4l1.1-19l1.1 22.5l1.1-18.4l1.2 14.1l1.1-20.9l1.1 15.4l1.1-15.4l1.1 8l1.2-19.8l1.1 15.1l1.1-11.9l1.1 16l1.1-15.8l1.2 19.8l1.1-8l1.1 17.9l1.1-11.1l1.2 16.4l1.1-9.6l1.1 15.4l1.1-14.5l1.1 11.4l1.2-13.9l1.1 13.3l1.1-13.9l1.1 12.4l1.1-14.5l1.2 10.9l1.1-15.7l1.1 17.4l1.1-16.2l1.1 26l1.2-17.1l1.1 12.8l1.1-14.1l1.1 5.6l1.1-8.7l1.2 3l1.1-6.4l1.1 7.7l1.1-7.5l1.1 15.9l1.2-12.6l1.1 24l1.1-12.6l1.1 16.8l1.1-16.1l1.2 14l1.1-10l1.1 10.2l1.1-8.7l1.1 8.9l1.2-8.2l1.1 9.4l1.1-7.9l1.1 8.2l1.1-6.7l1.2 11.3l1.1-10.5l1.1 15.9l1.1-12.8l1.1 16.4l1.2-14.8l1.1 9.2l1.1-14.6l1.1 5.6l1.1-7.9l1.2 1.8l1.1-7.1l1.1 5.2l1.1-5.4l1.1 3.2l1.2-4.4l1.1 7.3l1.1-5.7l1.1 7.2l1.1-6.6l1.2 9.3l1.1-7.8l1.1 8l1.1-6.9l1.1 7.8l1.2-8.2l1.1 7.4l1.1-8.6l1.1 1l1.1-7.9l1.2 5.3l1.1-11.4l1.1 11.6l1.1-9.5l1.1 19.9l1.2-11.6l1.1 29.8l1.1-11.4l1.1 20.2l1.2-10.2l1.1 13.6l1.1-9.9l1.1 14.6l1.1-9l1.2 7.1l1.1-7.2l1.1 4.8l1.1-8.5l1.1 5.5l1.2-6.6l1.1 6.5l1.1-8.8l1.1 5.2l1.1-5.8l1.2 4.6l1.1-6.5l1.1 1.9l1.1-3.5l1.1 0.6l1.2-2.6l1.1-0.1l1.1-1.9l1.1 0.8l1.1-1.5l1.2 8.6l1.1-4.9l1.1 16.7l1.1-7.7l1.1 19.9l1.2-11.1l1.1 14.4l1.1-9.9l1.1 13.8l1.1-10l1.2 9.3l1.1-7.6l1.1 8.4l1.1-7.2l1.1-1.1l1.2-2.4l1.1 1l1.1-2.2l1.1 5.3l1.1-3.7l1.2 6.2l1.1-4.9l1.1 5.7l1.1-3.9l1.1 5.8l1.2-2.9l1.1 3.5l1.1-2.2l1.1 5.8l1.1-3.2l1.2 7.3l1.1-4.3l1.1 6.8l1.1-4l1.1 5.3l1.2-3.9l1.1 4.9l1.1-3.4l1.1 3.9l1.1-3.8l1.2 5.6l1.1-4.9l1.1 2.6l1.1-3.5l1.1 0.4l1.2-2.9l1.1 0.1l1.1-2.7l1.1 0.1l1.1-2.8l1.2 0.7l1.1-3.3l1.1 2l1.1-3.6l1.2-0.8l1.1-3.5l1.1 0.8l1.1-3.3l1.1 11.2l1.2-7.8l1.1 20.2l1.1-10.6l1.1 10.5l1.1-7.4l1.2 2.4l1.1-6.9l1.1 1.7l1.1-7.4l1.1-3.1l1.2-4.7l1.1 0.6l1.1-1l1.1 5.6l1.1-3.9l1.2 19.8l1.1-8.8l1.1 13.7l1.1-2.7l1.1 1.9l1.2-1.3l1.1 0.8l1.1-0.5l1.1 0.7l1.1-0.3l1.2 0.6l1.1-0.3l1.1 0.6l1.1-0.3l1.1 0.6l1.2-0.3l1.1 0.5l1.1-0.3l1.1 0.5l1.1-0.3l1.2 0.6l1.1-0.3l1.1 0.6l1.1-0.3l1.1 0.6l1.2-0.3l1.1 0.7l1.1-0.3l1.1 0.7l1.1-0.3l1.2 0.9l1.1-0.3l1.1 0.9l1.1-0.3l1.1 0.7l1.2-0.3l1.1 0.5l1.1-0.3l1.1 0.5l1.1-0.3l1.2 0.5l1.1-0.3l1.1 0.5l1.1-0.3l1.1 1.8l1.2-0.3l1.1 2.1l1.1-0.3l1.1-0.7l1.1-0.3l1.2 0.1l1.1-0.3l1.1 0.6l1.1-0.3l1.1-0.8l1.2-0.5l1.1 0l1.1-0.5l1.1 5.4l1.2-0.4l1.1 3.4l1.1-0.3l1.1 2.1l1.1-0.3l1.2 0.1l1.1-0.3l1.1-0.7l1.1-0.3l1.1-0.7l1.2-0.3l1.1-0.8l1.1-0.3l1.1 1.3l1.1-0.3l1.2 2.3l1.1-0.3l1.1-0.6l1.1-0.3l1.1-1.4l1.2-0.3l1.1-6.5l1.1-5.3l1.1 4.4l1.1-2.4l1.2 7l1.1-0.3l1.1 3.3l1.1-0.3l1.1 1.5l1.2-0.3l1.1 0.3l1.1-0.3l1.1 0.2l1.1-0.3l1.2 0.2l1.1-0.3l1.1 0.2l1.1-0.3l1.1 0.3l1.2-0.3l1.1 0.6l1.1-0.3l1.1 1.2l1.1-0.3l1.2 0.9l1.1-0.3l1.1 0l1.1-0.3l1.1 0l1.2-0.3l1.1 0.5l1.1-0.3l1.1 0.5l1.1-0.3l1.2 0.3l1.1-0.3l1.1 0.6l1.1-0.3l1.1 0.9l1.2-0.3l1.1 1l1.1-2.2l1.1-9l1.1-9.9l1.2 6.1l1.1-6.4l1.1 10.6l1.1-1.6l1.1 3.7l1.2-3.6l1.1 4.6l1.1-3.8" fill="none" stroke="#56a4c8" stroke-width="1.5" stroke-linejoin="round"/>
<path d="M210.5 1017.5l2.3 7.6l2.2 6.8l2.2-1.3l2.3 2.1l2.2-8l2.3-3.2l2.2 0l2.2 2.2l2.3 2.4l2.2 2.5l2.3 1.6l2.2 1.1l2.2 0.7l2.3-0.6l2.2-1.2l2.3-0.2l2.2 2.8l2.2 4.1l2.3 3.8l2.2 2.4l2.3 2.3l2.2 2.1l2.2 0.9l2.3 0.5l2.2 0.2l2.3 0.3l2.2 0.3l2.2 0.2l2.3 0.2l2.2 0.1l2.3 0.1l2.2 0.1l2.2 0.1l2.3 0.2l2.2 0.1l2.3 0l2.2 0l2.3-0.3l2.2-0.8l2.2-1.5l2.3-0.9l2.2-1.1l2.3-1.4l2.2-1.8l2.2 0.4l2.3 0.5l2.2-0.7l2.3-0.7l2.2-1.7l2.2-3l2.3-5.3l2.2-3.8l2.3 1l2.2 7.5l2.2-0.2l2.3-1.1l2.2-2.3l2.3-2.5l2.2-6.1l2.2-3.1l2.3-2.8l2.2 0.7l2.3 1l2.2-0.9l2.2-4l2.3 0.5l2.2 0l2.3 1.1l2.2 2.5l2.2 1.8l2.3-2.3l2.2-3.7l2.3-1.6l2.2-0.2l2.3-3.3l2.2 5.3l2.2 2.5l2.3-1.6l2.2-9.7l2.3-5.9l2.2-2.7l2.2 3.6l2.3 2.2l2.2 3.5l2.3-0.5l2.2-8l2.2-7l2.3 0.9l2.2 3l2.3 6.6l2.2-1.4l2.2-7l2.3-4.5l2.2 0.2l2.3-5l2.2-3.2l2.2 4.2l2.3-0.8l2.2 5.9l2.3 10.3l2.2 6l2.2 1.8l2.3-2l2.2-7.6l2.3-10l2.2-2.6l2.2 1.1l2.3-7.7l2.2-3.1l2.3-5.6l2.2 1l2.2-6l2.3-4.4l2.2-3.2l2.3 0.6l2.2 0.9l2.3 3.5l2.2 3.4l2.2-7l2.3 1.7l2.2 2.2l2.3 0.1l2.2 3.3l2.2 5.7l2.3 4l2.2-0.7l2.3-8.3l2.2-10.9l2.2 4.8l2.3 3.8l2.2 0.9l2.3-0.8l2.2 3.1l2.2 1.3l2.3-0.9l2.2-7.7l2.3-7.3l2.2-16.7l2.2-3l2.3-5.7l2.2 0.3l2.3-1.7l2.2 1.6l2.2-0.9l2.3 0.7l2.2 1.9l2.3-0.4l2.2-3.1l2.2-2.7l2.3 0.8l2.2-13.3l2.3-8l2.2-8.8l2.3 0.8l2.2 1.8l2.2-3.5l2.3 4.1l2.2-1l2.3 1.3l2.2-1.6l2.2-2.6l2.3-4.1l2.2 3.5l2.3-3.9l2.2-3.7l2.2 0.2l2.3-1.1l2.2-4.6l2.3-4.4l2.2-0.3l2.2 1l2.3-0.3l2.2 0.3l2.3 0.3l2.2-10.7l2.2-2.3l2.3 2.5l2.2 1.7l2.3 4l2.2-1.1l2.2-0.4l2.3 5.8l2.2 3l2.3 2.3l2.2 0.8l2.2 3.3l2.3 2.1l2.2 12.2l2.3 1.5l2.2-8.1l2.2-1.1l2.3-1.7l2.2 1.8l2.3 0.3l2.2-1.9l2.3-2.5l2.2-1.2l2.2-6.6l2.3 3.1l2.2-1.1l2.3-3.7l2.2-3.6l2.2-4.7l2.3-0.9l2.2 0.4l2.3 0.1l2.2-1.4l2.2 5.6l2.3-1.3l2.2 4.7l2.3 1.7l2.2 1.3l2.2-5.5l2.3 1.8l2.2 5.6l2.3-1.5l2.2 0.3l2.2-1.4l2.3 2.3l2.2-3.7l2.3 0.6l2.2 1.7l2.2 3.6l2.3 7.1l2.2 4.9l2.3-4l2.2-3.7l2.2-1.6l2.3-2.4l2.2 4.5l2.3 1l2.2 6.6l2.2 2.8l2.3-7.3l2.2 1.4l2.3-3.7l2.2-3.9l2.3-0.7l2.2-7.8l2.2 1.2l2.3 1.5l2.2 2.8l2.3 2.7l2.2 10.1l2.2 11l2.3-4.1l2.2-2.3l2.3 10.1l2.2 6.7l2.2 4.5l2.3-2.7l2.2 2.6l2.3-1.2l2.2-0.3l2.2-9.4l2.3 13.1l2.2 4.2l2.3 0.7l2.2-0.3l2.2 8.7l2.3 5.8l2.2 2.1l2.3-2.7l2.2 0l2.2-7.9l2.3-9.1l2.2-7.7l2.3 0.4l2.2-1.2l2.2 0.8l2.3 4.2l2.2 3.1l2.3 2.5l2.2 9.9l2.3 5.9l2.2 2.2l2.2 4.2l2.3 4.4l2.2 3.3l2.3 2l2.2-5l2.2-5.5l2.3-2.1l2.2-10.9l2.3-4.3l2.2-1.2l2.2 0.7l2.3 2.7l2.2 0.5l2.3 0.9l2.2 2.4l2.2 0.5l2.3 0l2.2 0.8l2.3 1.1l2.2 1.8l2.2 3l2.3 1l2.2 5.5l2.3 10.3l2.2 9.7l2.2 8.9l2.3 7.6l2.2 4.1l2.3-3.7l2.2-4.7l2.2-5.8l2.3 0.6l2.2 3.6l2.3-1l2.2 1.5l2.2 3.4l2.3 7.1l2.2 3.2l2.3 2.8l2.2 3l2.3 1.4l2.2 1.9l2.2 1l2.3 0.8l2.2 1.5l2.3-0.8l2.2-0.3l2.2 1.1l2.3 1.5l2.2-0.8l2.3-1.7l2.2-2.2l2.2-3.1l2.3-2.2l2.2-0.9l2.3 2l2.2 3.2l2.2 9.9l2.3 5.9l2.2 3.6l2.3 2.7l2.2 1.5l2.2 1l2.3-1.3l2.2-2.8l2.3-3l2.2-3.2l2.2 2.2l2.3 2.2l2.2 1.8l2.3 0.9l2.2 0.3l2.2-0.2l2.3-1.4l2.2-3.8l2.3-0.7l2.2 4.8l2.3 2.1l2.2-0.9l2.2-0.6l2.3-2.8l2.2 0.1l2.3-1.1l2.2 2.7l2.2 5.5l2.3 3.1l2.2 4.6l2.3 1.3l2.2 2.7l2.2 1.3l2.3-0.2l2.2-1.8l2.3-2.9l2.2-3l2.2-4.4l2.3-6.9l2.2-1.7l2.3-2.2l2.2 2.2l2.2 6.2l2.3 0l2.2-2l2.3 0.5l2.2 2.2l2.2 1.1l2.3 2.7l2.2 3.5l2.3 3.2l2.2 3l2.2 1.1l2.3 2.2l2.2-0.3l2.3 0.2l2.2 0.1l2.2-1.3l2.3-2.6l2.2-4.3l2.3-4.6l2.2-9.7l2.3-5.6l2.2-0.8l2.2 0.6l2.3 0.9l2.2 6.9l2.3 3.9l2.2 1.1l2.2-0.5l2.3-0.1l2.2-4l2.3 2.3l2.2 0.9l2.2 0.2l2.3 0.2l2.2-4.1l2.3-9.6l2.2-0.1l2.2 2.4l2.3 2.9l2.2 0.7l2.3-2.1l2.2-4.4l2.2-5.2l2.3 0.9l2.2 3.2l2.3 2.4l2.2 3.4l2.2 1.1l2.3-0.7l2.2-3.4l2.3-2.3l2.2 1.5l2.2 4l2.3 2.5l2.2-1.4l2.3-0.9l2.2-3.9l2.2-2.3l2.3-4.2l2.2-5.5l2.3-0.4l2.2 2.6l2.3 4.8l2.2 3.1l2.2-1.9l2.3-6.8l2.2-6.7l2.3 1.3l2.2 5l2.2 4.9l2.3 7.1l2.2 6.3l2.3 2.7l2.2 2.4l2.2-1l2.3-4.3l2.2-6.5l2.3 2.4l2.2 0.7l2.2 2.2l2.3 3.1l2.2-4.9l2.3-9.2l2.2-9.8l2.2-4.2l2.3-2.3l2.2-2l2.3-2.3l2.2-5.2l2.2-5.4l2.3-3l2.2 4.1l2.3-1.1l2.2 4.6l2.2-4.3l2.3-6.4l2.2-1.4l2.3-1.2l2.2-2.7l2.3-3.1l2.2 5l2.2-2l2.3-6.3l2.2-3.7l2.3-2.3l2.2 1.7l2.2 2.8l2.3-3.7l2.2-1.5l2.3 4.2l2.2-0.6l2.2 2.1l2.3 1.9l2.2-4.3l2.3-2.9l2.2-2.7l2.2-1.4l2.3-4.6l2.2 2.1l2.3-1l2.2 7.3l2.2 6.9l2.3 2.8l2.2-3.6l2.3-3.4l2.2-12.6l2.2-2.5l2.3-1.6l2.2-4.3l2.3 1.7l2.2-1.6l2.2-2.9l2.3 2l2.2-0.6l2.3 0.7l2.2-7.3l2.2-6l2.3 2.1l2.2-1.1l2.3 3.3l2.2-4.4l2.3-9.3l2.2-0.5l2.2-0.8l2.3 4.5l2.2 3.1l2.3-2.7l2.2-0.7l2.2-2.7l2.3-0.2l2.2-7.9l2.3-3.5l2.2-9.1l2.2-6.6l2.3-1l2.2-6l2.3 3.1l2.2 0.2l2.2 0.5l2.3 3.6l2.2-4l2.3-2.9l2.2 2.9l2.2-5.7l2.3 1l2.2-2.3l2.3 2l2.2 1.8l2.2 0.2l2.3-1.2l2.2 6.5l2.3-2.5l2.2-3.6l2.2-0.7l2.3 4.1l2.2 1.7l2.3 6.3l2.2 0.8l2.3-0.3l2.2-1.4l2.2 2.5l2.3 0.1l2.2 3l2.3-2.6l2.2-4.4l2.2 1.3l2.3 2.6l2.2-1.7l2.3-1.3l2.2-3.4l2.2 3.5l2.3 0.7l2.2 2.9l2.3-2.1l2.2 0.6l2.2 0.2l2.3 1.2l2.2 1.3l2.3-1.7l2.2-4.7l2.2-5.5l2.3 5.3l2.2-7l2.3 5.4l2.2 3l2.2-1.3l2.3-3.7l2.2-3.7l2.3-4.8l2.2-3l2.2 1.4l2.3 0.7l2.2 0l2.3 2.5l2.2-2.9l2.2-1.7l2.3-0.6l2.2 1.1l2.3-2l2.2 2.9l2.3-2.5l2.2 2.7l2.2-0.1l2.3 3.8l2.2 2.6l2.3 5.8l2.2 6.7l2.2 2.5l2.3-2.8l2.2 0.3l2.3 4.7l2.2 3.9l2.2-0.5l2.3 0.8l2.2 3.1l2.3 0.5l2.2-0.1l2.2 0.4l2.3 2.7l2.2 1l2.3-0.4l2.2-1.1l2.2-0.7l2.3 4.3l2.2 4.4l2.3 0.1l2.2-8.7l2.2-4.3l2.3 0.8l2.2 3.8l2.3 9.9l2.2 9.6l2.2 3.9l2.3-2.2l2.2-0.8l2.3-6.3l2.2 3.7l2.2 1l2.3 5.9l2.2 4.4l2.3 4l2.2 0.3l2.3-0.9l2.2 1.1l2.2-1.2l2.3-2.8l2.2 0.6l2.3 6.4l2.2-0.6l2.2-2l2.3-2.3l2.2 1.4l2.3 4.1l2.2 7.4l2.2 1.4l2.3 3.4l2.2 0.9l2.3 1.5l2.2 0.2l2.2 0.8l2.3 1.5l2.2 1.5l2.3 0.1l2.2-2.6l2.2-1.8l2.3-3.1l2.2-1.1l2.3-1.1l2.2 1.1l2.2 0.7l2.3 0.8l2.2 0.1l2.3-0.7l2.2-0.8l2.2-3.8l2.3-1.4l2.2 2.7l2.3 5.7l2.2 12.1l2.3 6.3l2.2 2.8l2.2 5.3l2.3-0.1l2.2-0.6l2.3-1.5l2.2-0.6l2.2-1.3l2.3-0.8l2.2-2.6l2.3-1.4l2.2-0.9l2.2 0.2l2.3 4.5l2.2 6.8l2.3 6.8l2.2 4.2l2.2 3.6l2.3 0.8l2.2 1.5l2.3-3.1l2.2-0.2l2.2 2.1l2.3 1.1l2.2 1.5l2.3 2.4l2.2 1.3l2.2 2.6l2.3 2.9l2.2 1.2l2.3 1.6l2.2 1.2l2.2 0.4l2.3 0.8l2.2-1.1l2.3-1.9l2.2-1.9l2.2-2.1l2.3-1.9l2.2-0.7l2.3-2.5l2.2-0.3l2.3 3.6l2.2 4.9l2.2 0.4l2.3-3.5l2.2-3.3l2.3-4.9l2.2 1l2.2 2.5l2.3 7.3l2.2 6l2.3 0.9l2.2 0.6l2.2 0.4l2.3 0.4l2.2 0.4l2.3 0.4l2.2 0.1l2.2 0.2l2.3 0.1l2.2 0.2l2.3 0.2l2.2 0.3l2.2 0.4l2.3 0.5l2.2 0.5l2.3 0.3l2.2 0.3l2.2 0.3l2.3 0.4l2.2 0.5l2.3 1.2l2.2 1.2l2.2-0.3l2.3 0l2.2 0.4l2.3-0.1l2.2 0.2l2.3 3l2.2 2l2.2 1.3l2.3 0l2.2-0.3l2.3-0.5l2.2-0.4l2.2 0.5l2.3 0.5l2.2-0.8l2.3-1.3l2.2-4.2l2.2 0.1l2.3 2.9l2.2 1.9l2.3 0.9l2.2 0.2l2.2 0.1l2.3 0.1l2.2 0.1l2.3 0.2l2.2 0.3l2.2 0.5l2.3 0.5l2.2 0l2.3 0.1l2.2 0.2l2.2 0.3l2.3-0.2l2.2-0.5l2.3-0.6l2.2-1l2.2-9.1l2.3-1.3l2.2 3.5l2.3 0.3l2.2 0.5l-1.1 0.6l-2.3-0.7l-2.2-0.3l-2.2-2.4l-2.3 1.3l-2.2 8l-2.3 0.9l-2.2 0.6l-2.2 0.5l-2.3 0.2l-2.2-0.3l-2.3-0.2l-2.2-0.1l-2.2 0l-2.3-0.5l-2.2-0.5l-2.3-0.3l-2.2-0.2l-2.2-0.1l-2.3-0.1l-2.2-0.1l-2.3-0.2l-2.2-0.9l-2.2-1.9l-2.3-2.9l-2.2 0.1l-2.3 4l-2.2 1.3l-2.2 0.8l-2.3-0.5l-2.2-0.5l-2.3 0.4l-2.2 0.5l-2.2 0.3l-2.3 0l-2.2-1.3l-2.3-2l-2.2-3l-2.3-0.2l-2.2 0.1l-2.2-0.4l-2.3 0l-2.2 0.3l-2.3-1.2l-2.2-1.2l-2.2-0.5l-2.3-0.4l-2.2-0.3l-2.3-0.3l-2.2-0.3l-2.2-0.5l-2.3-0.5l-2.2-0.4l-2.3-0.3l-2.2-0.2l-2.2-0.2l-2.3-0.1l-2.2-0.2l-2.3-0.1l-2.2-0.4l-2.2-0.4l-2.3-0.4l-2.2-0.4l-2.3-0.6l-2.2-0.9l-2.2-4.9l-2.3-7.9l-2.2-3l-2.3-0.8l-2.2 5.4l-2.2 3.5l-2.3 3.8l-2.2-0.5l-2.3-5.4l-2.2-3.7l-2.2 0l-2.3 2.5l-2.2 0.6l-2.3 1.8l-2.2 2.2l-2.3 1.9l-2.2 2l-2.2 1.3l-2.3-1l-2.2-0.3l-2.3-1.1l-2.2-1.7l-2.2-1.3l-2.3-3l-2.2-2.7l-2.3-1.2l-2.2-2.3l-2.2-1.3l-2.3-1.3l-2.2-2.3l-2.3 0.2l-2.2 3.9l-2.2-1.3l-2.3-0.4l-2.2-3.4l-2.3-3.5l-2.2-8.2l-2.2-7.3l-2.3-4.9l-2.2-0.2l-2.3 0.9l-2.2 1.6l-2.2 2.8l-2.3 0.9l-2.2 1.6l-2.3 0.3l-2.2 1.7l-2.2 0.8l-2.3 0.4l-2.2-4.4l-2.3-3l-2.2-5.9l-2.3-11.2l-2.2-7.3l-2.2-2l-2.3-0.3l-2.2 3.9l-2.3 0.8l-2.2 0.5l-2.2 0l-2.3-0.9l-2.2-0.6l-2.3-1.4l-2.2 1.3l-2.2 1.2l-2.3 3.8l-2.2 3.4l-2.3 3l-2.2-0.8l-2.2-2.3l-2.3-2.6l-2.2-0.7l-2.3-0.3l-2.2-1.1l-2.2-0.1l-2.3-2.3l-2.2-1.9l-2.3-7.9l-2.2-5l-2.2-1.4l-2.3 1.9l-2.2 3.5l-2.3 1.7l-2.2-5.3l-2.2-1.1l-2.3 1.9l-2.2 1l-2.3-0.3l-2.2 0.9l-2.2-1.8l-2.3-4.2l-2.2-5.2l-2.3-2.6l-2.2-2.4l-2.3 1.7l-2.2 1.8l-2.2 1.6l-2.3 1.7l-2.2-2.5l-2.3-11l-2.2-6.3l-2.2-2.6l-2.3-0.3l-2.2-0.5l-2.3 8l-2.2 0.7l-2.2-5.1l-2.3 1.7l-2.2-4.2l-2.3 0.2l-2.2 0.1l-2.2-0.9l-2.3-1.8l-2.2-0.3l-2.3 0.4l-2.2-2.1l-2.2-4.8l-2.3-0.5l-2.2 0.6l-2.3-2.2l-2.2-0.8l-2.2-1.3l-2.3-1.4l-2.2-1.8l-2.3-0.1l-2.2-3.9l-2.2-4.7l-2.3-3.8l-2.2 0.5l-2.3 0.9l-2.2-1.6l-2.3-0.1l-2.2-2.8l-2.2 1.7l-2.3-1.6l-2.2 0.6l-2.3 5.2l-2.2-2.1l-2.2 1.4l-2.3 4.1l-2.2-0.9l-2.3 3.5l-2.2 2.6l-2.2 6.4l-2.3 0.4l-2.2 0.3l-2.3-2.2l-2.2 0.5l-2.2 3.4l-2.3-2.6l-2.2 0.4l-2.3 2.7l-2.2 0.6l-2.2 0.8l-2.3-3.2l-2.2 1.5l-2.3-1.4l-2.2 1.6l-2.2 1.5l-2.3-1.1l-2.2-4.3l-2.3 2.4l-2.2-2l-2.2 1.9l-2.3 1.2l-2.2-0.5l-2.3 2l-2.2-6l-2.2 3.5l-2.3 1l-2.2-3.1l-2.3 0l-2.2 2.2l-2.3-0.5l-2.2-4.7l-2.2 0.1l-2.3-2.3l-2.2 5l-2.3 0.7l-2.2-0.2l-2.2-2.1l-2.3-3.7l-2.2 1l-2.3-4.4l-2.2 3.2l-2.2 0.2l-2.3-2.8l-2.2 1.4l-2.3 5.3l-2.2-3.1l-2.2 0.1l-2.3-0.8l-2.2-1.2l-2.3 1.1l-2.2 0.3l-2.2 2.2l-2.3 6.1l-2.2 4.9l-2.3 2.8l-2.2 6.6l-2.2 7.6l-2.3 2.2l-2.2 2.2l-2.3-2.6l-2.2 2.2l-2.2-0.2l-2.3 3.5l-2.2-1.7l-2.3-1.9l-2.2 5.9l-2.2 3.9l-2.3-0.9l-2.2 0.7l-2.3-2.8l-2.2 4.2l-2.3 4l-2.2-0.7l-2.2 3.9l-2.3-0.1l-2.2 2.9l-2.3-1l-2.2-0.9l-2.2 3.8l-2.3 5.6l-2.2 3.7l-2.3 3.8l-2.2 2.2l-2.2 2.1l-2.3-3.5l-2.2-2l-2.3-5.5l-2.2 6.3l-2.2 0.2l-2.3 2.5l-2.2 1.9l-2.3 0.6l-2.2-0.9l-2.2-1.3l-2.3 0.5l-2.2-1.4l-2.3-0.1l-2.2-0.7l-2.2 3.1l-2.3 3.1l-2.2-4.7l-2.3 0.9l-2.2 2.7l-2.2 0.2l-2.3 5.4l-2.2-2.6l-2.3 1.3l-2.2 4.1l-2.3 2.9l-2.2 3.1l-2.2-1.5l-2.3 0.5l-2.2 3.9l-2.3 1l-2.2 1.3l-2.2-0.3l-2.3-0.3l-2.2 6.3l-2.3 3.5l-2.2 2.7l-2.2 4.3l-2.3 1.4l-2.2 4.8l-2.3 6.1l-2.2 3.6l-2.2 3.2l-2.3-3.9l-2.2-2.1l-2.3 4l-2.2 2.9l-2.2-1.4l-2.3 3.6l-2.2 0.2l-2.3-1.7l-2.2-2.2l-2.2-7.8l-2.3-7.3l-2.2-1.5l-2.3-0.4l-2.2-0.5l-2.2 1.1l-2.3 7.1l-2.2 0l-2.3-4.3l-2.2-2l-2.2-1l-2.3-0.2l-2.2 2.6l-2.3 4.2l-2.2 2.2l-2.3 3.1l-2.2 0.7l-2.2 1.2l-2.3-1.4l-2.2-3.5l-2.3-2.5l-2.2 1.7l-2.2 2.9l-2.3 0.7l-2.2-1.1l-2.3-3.3l-2.2-1.3l-2.2-1.4l-2.3 0.6l-2.2 2l-2.3 3.8l-2.2 1.8l-2.2-1l-2.3-3l-2.2-1.4l-2.3 3.5l-2.2 5.4l-2.2 3.8l-2.3 0.4l-2.2-0.1l-2.3-1.4l-2.2-2.6l-2.2 4.2l-2.3 0.3l-2.2 0.5l-2.3-0.7l-2.2-3.3l-2.2-3.8l-2.3-2.6l-2.2-2.1l-2.3 0.7l-2.2 4.4l-2.3 9.9l-2.2 4.3l-2.2 4.2l-2.3 2.6l-2.2 1.3l-2.3-0.1l-2.2-0.2l-2.2 0.3l-2.3-2l-2.2-1.1l-2.3-3.1l-2.2-3.1l-2.2-3.3l-2.3-2l-2.2-1l-2.3-2.4l-2.2-1l-2.2 2l-2.3 0.1l-2.2-4.8l-2.3 0.8l-2.2 0.3l-2.2 0.5l-2.3 5.6l-2.2 3.8l-2.3 3l-2.2 3l-2.2 2l-2.3 0.1l-2.2-1.1l-2.3-2.5l-2.2-0.9l-2.2-4.4l-2.3-3.7l-2.2-5.2l-2.3-2.5l-2.2 0.4l-2.2-0.1l-2.3 2.7l-2.2 1l-2.3 1.1l-2.2-1.2l-2.3-5l-2.2 0.7l-2.2 3.1l-2.3 0.7l-2.2 0.3l-2.3-0.6l-2.2-0.5l-2.2-1.8l-2.3-1.8l-2.2-0.6l-2.3 1.8l-2.2 3.1l-2.2 3.3l-2.3 1.8l-2.2-1.6l-2.3-1.6l-2.2-2.3l-2.2-3l-2.3-4.8l-2.2-11.8l-2.3-4.6l-2.2-1.7l-2.2 0.6l-2.3 2.4l-2.2 3.2l-2.3 2.3l-2.2 2.1l-2.2 0.5l-2.3-1.8l-2.2-1.1l-2.3 0.4l-2.2 1.3l-2.2-0.8l-2.3-1l-2.2-1.3l-2.3-2.1l-2.2-1.4l-2.2-3l-2.3-1.4l-2.2-1.9l-2.3-7.2l-2.2-5.6l-2.3-1.4l-2.2 1.6l-2.2-4.2l-2.3-1.3l-2.2 6.1l-2.3 7.3l-2.2 4.7l-2.2-4.3l-2.3-6.7l-2.2-9.3l-2.3-11.5l-2.2-12.5l-2.2-4.4l-2.3-1.7l-2.2-3l-2.3-1.8l-2.2-0.7l-2.2-1l-2.3 1.2l-2.2 0.3l-2.3-3.1l-2.2-0.5l-2.2 1.5l-2.3 2.4l-2.2-2.6l-2.3 0.6l-2.2 4.8l-2.2 4.9l-2.3 1.5l-2.2 5.5l-2.3 7.5l-2.2-1.6l-2.2-4.8l-2.3-6.3l-2.2-3.4l-2.3-1.2l-2.2-5.9l-2.3-3.9l-2.2-5l-2.2-1l-2.3-1.5l-2.2-1.5l-2.3-0.4l-2.2 0.8l-2.2 4.5l-2.3 8.8l-2.2 7l-2.3 0l-2.2 1.3l-2.2 0.8l-2.3-7.7l-2.2-9l-2.3-0.4l-2.2-0.6l-2.2-2.5l-2.3-1.9l-2.2-2.1l-2.3 1.3l-2.2-0.8l-2.2-3.3l-2.3 2.2l-2.2-2.8l-2.3-5.2l-2.2-1.2l-2.2 1.6l-2.3-5.1l-2.2-3.3l-2.3-6.2l-2.2-6.6l-2.2-5.1l-2.3-1l-2.2 2.8l-2.3 3.7l-2.2 4.3l-2.2 1.2l-2.3 4.1l-2.2 3.1l-2.3-5.2l-2.2-0.1l-2.3-1l-2.2 0.6l-2.2-4.6l-2.3 0.7l-2.2 1.8l-2.3 2.8l-2.2-3.3l-2.2 2.3l-2.3-5.1l-2.2-3.9l-2.3-1.3l-2.2 1.6l-2.2 0l-2.3-2.7l-2.2-0.9l-2.3-0.1l-2.2-0.3l-2.2-0.4l-2.3-1.8l-2.2 2.4l-2.3-1.7l-2.2-2.7l-2.2-1l-2.3 0.4l-2.2-1.6l-2.3 0.7l-2.2 0.8l-2.2 2.9l-2.3 0.3l-2.2 2.7l-2.3 4.4l-2.2-1l-2.2 6.4l-2.3 0.9l-2.2-1.4l-2.3-0.6l-2.2-0.4l-2.3 1.3l-2.2-1l-2.2-0.5l-2.3 4.2l-2.2 0.7l-2.3 1l-2.2-0.1l-2.2-2.1l-2.3-1.5l-2.2-2l-2.3-2.7l-2.2 3.5l-2.2-8.5l-2.3-2.8l-2.2-1.2l-2.3-2.8l-2.2 1.5l-2.2-4.7l-2.3 0.3l-2.2 6.1l-2.3 1l-2.2 2.5l-2.2-3.8l-2.3 1.7l-2.2 0.6l-2.3 1.9l-2.2 0.1l-2.2 5.3l-2.3 4.6l-2.2-1.9l-2.3 4.4l-2.2 4.2l-2.2-4.6l-2.3 7.1l-2.2-1.3l-2.3 0.1l-2.2-5l-2.2 2l-2.3 3.7l-2.2-0.9l-2.3 2.6l-2.2 2.3l-2.3 3.4l-2.2 6l-2.2 4l-2.3-0.5l-2.2 9.7l-2.3 0.4l-2.2 0.3l-2.2 1l-2.3 3l-2.2 0.8l-2.3-1.9l-2.2-0.7l-2.2 1.5l-2.3 3.4l-2.2 9.3l-2.3 3.7l-2.2 3.9l-2.2 8l-2.3 2.4l-2.2-0.9l-2.3 4l-2.2 0.2l-2.2-5l-2.3-0.5l-2.2 0.5l-2.3-0.7l-2.2 7.5l-2.2 1.3l-2.3-3.5l-2.2-0.5l-2.3 1l-2.2-2.4l-2.2-3.5l-2.3 1.2l-2.2-2.9l-2.3 0.3l-2.2 1.8l-2.2-3.2l-2.3 2.2l-2.2 0.5l-2.3 6.6l-2.2 7.9l-2.3-0.7l-2.2 8.3l-2.2 0.7l-2.3 4.7l-2.2 1.1l-2.3 2.7l-2.2 0.5l-2.2 6.1l-2.3 0.9l-2.2-1.8l-2.3-5.6l-2.2-5.5l-2.2-2.7l-2.3 0.4l-2.2-3.5l-2.3 1.3l-2.2 1.6l-2.2 4.5l-2.3 0.6l-2.2 4.9l-2.3 1.1l-2.2-6.2l-2.2 5l-2.3-5.3l-2.2 5.3l-2.3 4.7l-2.2 0.7l-2.2-3.8l-2.3 2.3l-2.2-0.8l-2.3 1.9l-2.2 7.1l-2.2 2.2l-2.3 1.5l-2.2-3.4l-2.3-2.4l-2.2 1.7l-2.3 0.1l-2.2 0.7l-2.2 2.4l-2.3 2.5l-2.2-1.3l-2.3-0.8l-2.2-1.4l-2.2 0.9l-2.3 1.7l-2.2-0.1l-2.3 0l-2.2-0.9l-2.2 0.1l-2.3 2.4l-2.2 2.1l-2.3 6.8l-2.2 2l-2.2 2.1l-2.3 0.9l-2.2 0.3l-2.3-6l-2.2-0.4l-2.2 2.3l-2.3 4.7l-2.2 2.7l-2.3 1.7l-2.2 0.7l-2.2 0.7l-2.3-0.4l-2.2-0.2l-2.3 1.6l-2.2 1.3l-2.2 1.1l-2.3 0.9l-2.2 1.5l-2.3 0.8l-2.2 0.3l-2.2 0l-2.3 0l-2.2-0.1l-2.3-0.2l-2.2-0.1l-2.3-0.1l-2.2-0.1l-2.2-0.1l-2.3-0.2l-2.2-0.2l-2.3-0.3l-2.2-0.2l-2.2-0.3l-2.3-0.5l-2.2-0.9l-2.3-2.1l-2.2-2.3l-2.2-2.4l-2.3-3.8l-2.2-4.1l-2.3-2.8l-2.2 0.2l-2.2 1.2l-2.3 0.6l-2.2-0.7l-2.3-1.1l-2.2-1.6l-2.2-2.5l-2.3-2.4l-2.2-2.2l-2.3 0l-2.2 3.2l-2.2 8.2l-2.3-2.3l-2.2 1.3l-2.3-6.7l-2.2-7.7z" fill="#b9e2c9" stroke="none"/>
<path d="M209.4 1017.8l1.1-0.3l1.1 8l1.2-0.4l1.1 7.1l1.1-0.3l1.1-1l1.1-0.3l1.2 2.6l1.1-0.5l1.1-7.7l1.1-0.3l1.1-2.9l1.2-0.3l1.1 0.3l1.1-0.3l1.1 2.5l1.1-0.3l1.2 2.7l1.1-0.3l1.1 2.8l1.1-0.3l1.1 1.9l1.2-0.3l1.1 1.4l1.1-0.3l1.1 1l1.1-0.3l1.2-0.3l1.1-0.3l1.1-0.9l1.1-0.3l1.1 0.1l1.2-0.3l1.1 3.1l1.1-0.3l1.1 4.4l1.1-0.3l1.2 4.1l1.1-0.3l1.1 2.7l1.1-0.3l1.1 2.6l1.2-0.3l1.1 2.4l1.1-0.3l1.1 1.2l1.1-0.3l1.2 0.8l1.1-0.3l1.1 0.6l1.1-0.4l1.1 0.6l1.2-0.3l1.1 0.6l1.1-0.3l1.1 0.5l1.1-0.3l1.2 0.5l1.1-0.3l1.1 0.4l1.1-0.3l1.1 0.4l1.2-0.3l1.1 0.4l1.1-0.3l1.1 0.4l1.1-0.3l1.2 0.5l1.1-0.3l1.1 0.4l1.1-0.3l1.2 0.3l1.1-0.3l1.1 0.3l1.1-0.3l1.1 0l1.2-0.3l1.1-0.5l1.1-0.3l1.1-1.2l1.1-0.3l1.2-0.6l1.1-0.3l1.1-0.8l1.1-0.3l1.1-1l1.2-0.4l1.1-1.2l1.1-0.6l1.1 0.8l1.1-0.4l1.2 0.8l1.1-0.3l1.1-0.4l1.1-0.3l1.1-0.4l1.2-0.3l1.1-1.4l1.1-0.3l1.1-2.4l1.1-0.6l1.2-4.1l1.1-1.2l1.1-1.1l1.1-2.7l1.1 3.1l1.2-2.1l1.1 8.1l1.1-0.6l1.1 0.3l1.1-0.5l1.2-0.4l1.1-0.7l1.1-1.4l1.1-0.9l1.1-1.1l1.2-1.4l1.1-5.4l1.1-0.7l1.1-1.4l1.1-1.7l1.2-0.7l1.1-2.1l1.1 2l1.1-1.3l1.1 2.2l1.2-1.2l1.1 1.2l1.1-2.1l1.1 2.2l1.1-6.2l1.2 4.5l1.1-4l1.1 3.1l1.1-3.1l1.1 4.5l1.2-3.4l1.1 4.2l1.1-1.7l1.1 3l1.1-1.2l1.2-1.3l1.1-1l1.1-1.4l1.1-2.3l1.1 1.6l1.2-3.2l1.1 3.1l1.1-3.3l1.1 1.6l1.2-4.9l1.1 7.3l1.1-2l1.1 5.4l1.1-2.9l1.2 1.4l1.1-3l1.1 0.8l1.1-10.5l1.1 3.4l1.2-9.3l1.1 7.4l1.1-10.1l1.1 10.9l1.1-7.3l1.2 5l1.1-2.8l1.1 6.6l1.1-3.1l1.1 2.4l1.2-2.9l1.1-1.8l1.1-6.2l1.1 0.9l1.1-7.9l1.2 13.2l1.1-12.3l1.1 7.3l1.1-4.3l1.1 10.5l1.2-3.9l1.1 2.8l1.1-4.2l1.1-0.7l1.1-6.3l1.2 5.7l1.1-10.2l1.1 5.7l1.1-5.5l1.1 3.9l1.2-8.9l1.1 7.6l1.1-10.8l1.1 14.3l1.1-10.1l1.2 9.7l1.1-10.5l1.1 13.2l1.1-7.3l1.1 12.8l1.2-2.5l1.1 8.1l1.1-2.1l1.1 3.9l1.1-2.1l1.2 1.2l1.1-3.2l1.1-2.9l1.1-4.7l1.1 4.2l1.2-14.2l1.1 11.5l1.1-14.1l1.1 13l1.1-11.9l1.2 7.2l1.1-14.9l1.1 14.2l1.1-17.3l1.1 9l1.2-14.6l1.1 15.3l1.1-14.3l1.1 6.4l1.1-12.4l1.2 5.8l1.1-10.2l1.1 9.7l1.1-12.9l1.2 10.7l1.1-10.1l1.1 13.3l1.1-12.4l1.1 10.6l1.2-7.1l1.1 6.8l1.1-3.4l1.1 6.3l1.1-13.3l1.2 12.1l1.1-10.4l1.1 13.9l1.1-11.7l1.1 14.1l1.2-14l1.1 13l1.1-9.7l1.1 10.2l1.1-4.5l1.2 8l1.1-4l1.1 2.7l1.1-3.4l1.1-4.1l1.2-4.2l1.1 4.9l1.1-15.8l1.1 15.3l1.1-10.5l1.2 11l1.1-7.2l1.1 12.2l1.1-11.3l1.1 11.1l1.2-11.9l1.1 7.9l1.1-4.8l1.1 5.7l1.1-4.4l1.2 2l1.1-2.9l1.1-5.1l1.1-2.6l1.1-1.3l1.2-6l1.1 2.3l1.1-19l1.1 9.7l1.1-12.7l1.2 9.3l1.1-15l1.1 13.5l1.1-13.2l1.1 13.9l1.2-15.6l1.1 17.5l1.1-15.9l1.1 15.1l1.1-16l1.2 13l1.1-12.3l1.1 11.3l1.1-9.4l1.1 9.1l1.2-9.5l1.1 9.1l1.1-12.2l1.1 2.5l1.1-5.2l1.2 5.7l1.1-4.9l1.1 0.9l1.1-14.2l1.1 8.2l1.2-16.2l1.1 12.8l1.1-21.6l1.1 19.3l1.2-18.5l1.1 15.9l1.1-14.1l1.1 15l1.1-18.5l1.2 14.8l1.1-10.7l1.1 8.7l1.1-9.7l1.1 14.7l1.2-13.4l1.1 13.3l1.1-14.9l1.1 16.2l1.1-18.8l1.2 11.7l1.1-15.8l1.1 20.4l1.1-16.9l1.1 12.7l1.2-16.6l1.1 12.2l1.1-15.9l1.1 17.8l1.1-17.6l1.2 13l1.1-14.1l1.1 8.8l1.1-13.4l1.1 13.3l1.2-17.7l1.1 15.8l1.1-16.1l1.1 15.5l1.1-14.5l1.2 12.8l1.1-13.1l1.1 16.9l1.1-16.6l1.1 14.1l1.2-13.8l1.1 12.8l1.1-23.5l1.1 17.4l1.1-19.7l1.2 19.4l1.1-16.9l1.1 21.6l1.1-19.9l1.1 18.4l1.2-14.4l1.1 17.2l1.1-18.3l1.1 19.5l1.1-19.9l1.2 22.7l1.1-16.9l1.1 25.4l1.1-22.4l1.1 18.9l1.2-16.6l1.1 19.3l1.1-18.5l1.1 20.5l1.1-17.2l1.2 18.7l1.1-16.6l1.1 18.7l1.1-6.5l1.1 6.6l1.2-5.1l1.1 4.1l1.1-12.2l1.1 11.5l1.1-12.6l1.2 8.4l1.1-10.1l1.1 10.6l1.1-8.8l1.1 9.8l1.2-9.5l1.1 8.2l1.1-10.1l1.1 10.5l1.2-13l1.1 13.6l1.1-14.8l1.1 16.2l1.1-22.8l1.2 21.9l1.1-18.8l1.1 12.4l1.1-13.5l1.1 14.5l1.2-18.2l1.1 13.8l1.1-17.4l1.1 14.7l1.1-19.4l1.2 19.1l1.1-20l1.1 17.1l1.1-16.7l1.1 15.9l1.2-15.8l1.1 15.1l1.1-16.5l1.1 18.1l1.1-12.5l1.2 12.1l1.1-13.4l1.1 14.4l1.1-9.7l1.1 12.4l1.2-10.7l1.1 12.4l1.1-11.1l1.1 8.7l1.1-14.2l1.2 16l1.1-14.2l1.1 14.6l1.1-9l1.1 9.3l1.2-10.8l1.1 10.9l1.1-10.6l1.1 11.5l1.1-12.9l1.2 15.6l1.1-13.3l1.1 13.3l1.1-17l1.1 15.4l1.2-14.8l1.1 16.1l1.1-14.4l1.1 18.3l1.1-14.7l1.2 19.8l1.1-12.7l1.1 10.4l1.1-5.5l1.1 8.8l1.2-12.8l1.1 10l1.1-13.7l1.1 11.9l1.1-13.5l1.2 12.8l1.1-15.2l1.1 19.8l1.1-15.3l1.1 14.7l1.2-13.7l1.1 14.7l1.1-8.1l1.1 8.2l1.1-5.4l1.2 10.6l1.1-17.9l1.1 14.8l1.1-13.4l1.2 9.3l1.1-13l1.1 11.8l1.1-15.7l1.1 11.4l1.2-12.1l1.1 8.4l1.1-16.2l1.1 13.4l1.1-12.2l1.2 13.2l1.1-11.7l1.1 16.8l1.1-14l1.1 20.6l1.2-17.9l1.1 24.1l1.1-14l1.1 17.3l1.1-6.3l1.2 11.4l1.1-15.5l1.1 13.9l1.1-16.2l1.1 17.4l1.2-7.3l1.1 12.5l1.1-5.8l1.1 8.6l1.1-4.1l1.2 1.9l1.1-4.6l1.1 7.9l1.1-5.3l1.1 6.1l1.2-7.3l1.1 6l1.1-6.3l1.1 8.4l1.1-17.8l1.2 19.7l1.1-6.6l1.1 9.1l1.1-4.9l1.1 5.5l1.2-4.8l1.1 5.2l1.1-5.5l1.1 14.5l1.1-5.8l1.2 13.5l1.1-7.7l1.1 6.9l1.1-4.8l1.1 3.5l1.2-6.2l1.1 6.2l1.1-6.2l1.1-0.8l1.1-7.1l1.2-1.7l1.1-7.4l1.1 2.9l1.1-10.6l1.1 9.8l1.2-9.4l1.1 9.8l1.1-11l1.1 12.5l1.1-11.7l1.2 13.2l1.1-9l1.1 10l1.1-6.9l1.1 11.9l1.2-9.4l1.1 13.3l1.1-3.4l1.1 9.3l1.2-3.4l1.1 4.6l1.1-2.4l1.1 5.8l1.1-1.6l1.2 7.9l1.1-3.5l1.1 8.3l1.1-5l1.1 6.6l1.2-4.6l1.1-2.9l1.1-2.1l1.1-3.4l1.1-2.1l1.2 0.6l1.1-2.7l1.1-2.2l1.1-8.7l1.1 3.9l1.2-8.2l1.1 7.6l1.1-8.8l1.1 11.4l1.1-10.7l1.2 8.3l1.1-5.6l1.1 4.1l1.1-3.6l1.1 4.1l1.2-3.2l1.1 6.3l1.1-3.9l1.1 3.6l1.1-3.1l1.2 1.9l1.1-1.9l1.1 2.9l1.1-2.1l1.1 2.8l1.2-1.7l1.1 3.5l1.1-1.7l1.1 4.7l1.1-1.7l1.2 3.4l1.1-2.4l1.1 6.8l1.1-1.3l1.1 13.8l1.2-3.5l1.1 15l1.1-5.3l1.1 14.6l1.1-5.7l1.2 12.4l1.1-4.8l1.1 9.1l1.1-5l1.1 0.3l1.2-4l1.1-3.3l1.1-1.4l1.1-4.7l1.1-1.1l1.2 2.4l1.1-1.8l1.1 6l1.1-2.4l1.1 0.8l1.2-1.8l1.1 3.2l1.1-1.7l1.1 7.3l1.1-3.9l1.2 11.1l1.1-4l1.1 5.9l1.1-2.7l1.2 4.1l1.1-1.3l1.1 4.3l1.1-1.3l1.1 2.7l1.2-1.3l1.1 3.4l1.1-1.5l1.1 2.8l1.1-1.8l1.2 2.8l1.1-2l1.1 2.8l1.1-1.3l1.1 0l1.2-0.8l1.1 0.4l1.1-0.7l1.1 1.8l1.1-0.7l1.2 2.5l1.1-1l1.1 0.5l1.1-1.3l1.1-0.8l1.2-0.9l1.1-1.4l1.1-0.8l1.1-2.4l1.1-0.7l1.2-1.7l1.1-0.5l1.1-0.1l1.1-0.8l1.1 2.5l1.2-0.5l1.1 5.1l1.1-1.9l1.1 13.7l1.1-3.8l1.2 8.6l1.1-2.7l1.1 5.7l1.1-2.1l1.1 4.4l1.2-1.7l1.1 3.3l1.1-1.8l1.1 3.4l1.1-2.4l1.2 0.6l1.1-1.9l1.1-1.4l1.1-1.4l1.1-1.7l1.2-1.3l1.1-0.5l1.1-2.7l1.1 3.3l1.1-1.1l1.2 2.9l1.1-0.7l1.1 2.5l1.1-0.7l1.1 1.2l1.2-0.3l1.1 0.9l1.1-0.6l1.1 0.3l1.1-0.5l1.2-0.2l1.1-1.2l1.1-1.9l1.1-1.9l1.1 1.2l1.2-1.9l1.1 6.9l1.1-2.1l1.1 3.3l1.2-1.2l1.1 0.1l1.1-1l1.1 0l1.1-0.6l1.2-2.1l1.1-0.7l1.1 0.8l1.1-0.7l1.1 0.3l1.2-1.4l1.1 3.9l1.1-1.2l1.1 6.4l1.1-0.9l1.2 4.6l1.1-1.5l1.1 5.9l1.1-1.3l1.1 2.2l1.2-0.9l1.1 3.4l1.1-0.7l1.1 1.8l1.1-0.5l1.2 0.4l1.1-0.6l1.1-1.4l1.1-0.4l1.1-2.6l1.2-0.3l1.1-2.7l1.1-0.3l1.1-3.5l1.1-0.9l1.2-4.7l1.1-2.2l1.1 1.7l1.1-3.4l1.1 3.1l1.2-5.3l1.1 4.5l1.1-2.3l1.1 7.1l1.1-0.9l1.2 0.8l1.1-0.8l1.1-1.2l1.1-0.8l1.1 1.8l1.2-1.3l1.1 3.7l1.1-1.5l1.1 2.5l1.1-1.4l1.2 3.4l1.1-0.7l1.1 4l1.1-0.5l1.1 3.6l1.2-0.4l1.1 3.5l1.1-0.5l1.1 1.6l1.1-0.5l1.2 2.5l1.1-0.3l1.1 0l1.1-0.3l1.1 0.5l1.2-0.3l1.1 0.4l1.1-0.3l1.1-1l1.1-0.3l1.2-2.3l1.1-0.3l1.1-3.9l1.1-0.4l1.1-3.9l1.2-0.7l1.1-9.2l1.1-0.5l1.1-3.9l1.2-1.7l1.1 1l1.1-1.8l1.1 3.9l1.1-3.3l1.2 5.9l1.1-5l1.1 8.8l1.1-1.9l1.1 5.2l1.2-1.3l1.1 2l1.1-0.9l1.1 0.4l1.1-0.9l1.2 0.6l1.1-0.7l1.1-3.5l1.1-0.5l1.1 3.1l1.2-0.8l1.1 2.2l1.1-1.3l1.1 1.4l1.1-1.2l1.2 0.8l1.1-0.6l1.1-3.2l1.1-0.9l1.1-4.5l1.2-5.1l1.1 1.6l1.1-1.7l1.1 3.1l1.1-0.7l1.2 3.7l1.1-0.8l1.1 1.8l1.1-1.1l1.1-0.7l1.2-1.4l1.1-2.4l1.1-2l1.1 0l1.1-5.2l1.2 4.6l1.1-3.7l1.1 5.1l1.1-1.9l1.1 3.2l1.2-0.8l1.1 4.1l1.1-0.7l1.1 1.8l1.1-0.7l1.2 0l1.1-0.7l1.1-2.2l1.1-1.2l1.1-0.5l1.2-1.8l1.1 4.3l1.1-2.8l1.1 6.3l1.1-2.3l1.2 3.7l1.1-1.2l1.1 0l1.1-1.4l1.1 0.7l1.2-1.6l1.1-1.5l1.1-2.4l1.1 0.2l1.1-2.5l1.2-1.7l1.1-2.5l1.1-0.1l1.1-5.4l1.2 5.6l1.1-6l1.1 7l1.1-4.4l1.1 6.4l1.2-1.6l1.1 5.9l1.1-2.8l1.1 2.8l1.1-4.7l1.2-2.4l1.1-4.4l1.1 3.3l1.1-10l1.1 10.5l1.2-9.2l1.1 9.6l1.1-4.6l1.1 6.1l1.1-1.2l1.2 8.5l1.1-1.4l1.1 9.2l1.1-2.9l1.1 5.1l1.2-2.4l1.1 4.1l1.1-1.7l1.1 1.5l1.1-2.5l1.2-1.1l1.1-3.2l1.1 4.6l1.1-11.1l1.1 8.2l1.2-5.8l1.1 1.8l1.1-1.1l1.1 3.2l1.1-1l1.2 4.9l1.1-1.8l1.1-1.4l1.1-3.5l1.1-0.1l1.2-9.1l1.1 3l1.1-12.8l1.1 8l1.1-12.2l1.2 10.8l1.1-13.1l1.1 8.8l1.1-10.8l1.1 8.1l1.2-10.4l1.1 6.9l1.1-12.1l1.1 5.8l1.1-11.2l1.2 11.5l1.1-14.5l1.1 14.8l1.1-10.7l1.1 9.4l1.2-10.5l1.1 9.5l1.1-4.9l1.1 1l1.1-5.3l1.2 4.8l1.1-11.2l1.1 12.7l1.1-14.1l1.1 11l1.2-12.2l1.1 9.3l1.1-12l1.1 7.9l1.2-11l1.1 9.7l1.1-4.7l1.1 7.3l1.1-9.3l1.2 3.9l1.1-10.2l1.1 10l1.1-13.7l1.1 11l1.2-13.3l1.1 12.4l1.1-10.7l1.1 15.4l1.1-12.6l1.2 9.5l1.1-13.2l1.1 10.1l1.1-11.6l1.1 12.3l1.2-8.1l1.1 8.2l1.1-8.8l1.1 10.2l1.1-8.1l1.2 7.6l1.1-5.7l1.1 7l1.1-11.3l1.1 12.2l1.2-15.1l1.1 14.5l1.1-17.2l1.1 15.3l1.1-16.7l1.2 14.2l1.1-18.8l1.1 18.6l1.1-16.5l1.1 10.2l1.2-11.2l1.1 16.7l1.1-9.4l1.1 11.4l1.1-4.5l1.2 8l1.1-5.2l1.1 3.1l1.1-6.7l1.1 4.5l1.2-7.9l1.1 4.1l1.1-16.7l1.1 13l1.1-15.5l1.2 9.9l1.1-11.5l1.1 7.7l1.1-12l1.1 12.9l1.2-11.2l1.1 12.2l1.1-13.8l1.1 10.9l1.1-13.8l1.2 13.9l1.1-11.9l1.1 8l1.1-8.6l1.1 9.3l1.2-8.6l1.1 4.6l1.1-11.9l1.1 7.7l1.1-13.7l1.2 16.5l1.1-14.4l1.1 13.7l1.1-14.8l1.2 15.7l1.1-12.4l1.1 8.5l1.1-12.9l1.1 7l1.2-16.3l1.1 18.2l1.1-18.7l1.1 20.4l1.1-21.2l1.2 17.7l1.1-13.2l1.1 13.4l1.1-10.3l1.1 8.1l1.2-10.8l1.1 13.4l1.1-14.1l1.1 11.9l1.1-14.6l1.2 12.4l1.1-12.6l1.1 5l1.1-12.9l1.1 6.3l1.2-9.8l1.1 7l1.1-16.1l1.1 11.2l1.1-17.8l1.2 11.7l1.1-12.7l1.1 10.5l1.1-16.5l1.1 16.2l1.2-13.1l1.1 12l1.1-11.8l1.1 13l1.1-12.5l1.2 13.3l1.1-9.7l1.1 9.6l1.1-13.6l1.1 16.7l1.2-19.6l1.1 14.3l1.1-11.4l1.1 10l1.1-15.7l1.2 18.5l1.1-17.5l1.1 17.3l1.1-19.6l1.1 16.4l1.2-14.4l1.1 18.8l1.1-17l1.1 16l1.1-15.8l1.2 19.5l1.1-20.7l1.1 22.8l1.1-16.3l1.1 16.5l1.2-19l1.1 18.3l1.1-21.9l1.1 16.9l1.1-17.6l1.2 19.9l1.1-15.8l1.1 15.7l1.1-14l1.1 18.7l1.2-12.4l1.1 12.9l1.1-12.1l1.1 9.9l1.2-10.2l1.1 10.2l1.1-11.6l1.1 14.7l1.1-12.2l1.2 11.2l1.1-11.1l1.1 7.6l1.1-4.6l1.1 10.6l1.2-13.2l1.1 11.2l1.1-15.6l1.1 16.1l1.1-14.8l1.2 13.6l1.1-11l1.1 9.1l1.1-10.8l1.1 12.8l1.2-14.1l1.1 11.7l1.1-15.1l1.1 19.4l1.1-15.9l1.2 17l1.1-16.3l1.1 14.8l1.1-11.9l1.1 10.3l1.2-12.4l1.1 13.8l1.1-13.2l1.1 11.7l1.1-11.5l1.2 14.7l1.1-13.5l1.1 12.7l1.1-11.4l1.1 10.8l1.2-12.5l1.1 9.8l1.1-14.5l1.1 14.1l1.1-19.6l1.2 22.2l1.1-16.9l1.1 13.5l1.1-20.5l1.1 20l1.2-14.6l1.1 16.8l1.1-13.8l1.1 13.5l1.1-14.8l1.2 14.4l1.1-18.1l1.1 11.7l1.1-15.4l1.1 12.8l1.2-17.6l1.1 14.1l1.1-17.1l1.1 18l1.1-16.6l1.2 12.5l1.1-11.8l1.1 10.4l1.1-10.4l1.1 12.5l1.2-10l1.1 4.8l1.1-7.7l1.1 7.1l1.1-8.8l1.2 10.4l1.1-11l1.1 9.3l1.1-8.2l1.1 11l1.2-13l1.1 13.1l1.1-10.2l1.1 11.8l1.2-14.3l1.1 13.4l1.1-10.7l1.1 10.2l1.1-10.3l1.2 14.1l1.1-10.3l1.1 15l1.1-12.4l1.1 16.3l1.2-10.5l1.1 10.6l1.1-3.9l1.1 5.7l1.1-3.2l1.2 4.6l1.1-7.4l1.1 8.7l1.1-8.4l1.1 9.2l1.2-4.5l1.1 6.7l1.1-2.8l1.1 2.2l1.1-2.7l1.2 3.2l1.1-2.4l1.1 7.2l1.1-4.1l1.1 6.2l1.2-5.7l1.1 5.3l1.1-5.4l1.1 5.7l1.1-5.3l1.2 7.1l1.1-4.4l1.1 5.3l1.1-4.3l1.1 4.2l1.2-4.6l1.1 4.4l1.1-5.5l1.1 9.7l1.1-10.4l1.2 8.7l1.1-4.4l1.1 9.5l1.1-5.1l1.1 4.4l1.2-4.3l1.1-3.7l1.1-5l1.1 5.5l1.1-9.8l1.2 10.1l1.1-9.3l1.1 11.9l1.1-8.1l1.1 14.4l1.2-4.5l1.1 15.5l1.1-5.9l1.1 8.4l1.1-4.5l1.2 2.8l1.1-5l1.1 3.4l1.1-4.2l1.1 2.4l1.2-8.7l1.1 7l1.1-3.3l1.1 5.7l1.1-4.7l1.2 7.3l1.1-1.4l1.1 6.6l1.1-2.2l1.2 6.4l1.1-2.4l1.1 4.2l1.1-3.9l1.1 3l1.2-3.9l1.1 4.2l1.1-3.1l1.1 2.1l1.1-3.3l1.2 1.4l1.1-4.2l1.1 5.3l1.1-4.7l1.1 10l1.2-3.6l1.1 1.9l1.1-2.5l1.1-1l1.1-1l1.2-0.9l1.1-1.4l1.1 2.8l1.1-1.4l1.1 6.4l1.2-2.3l1.1 10.2l1.1-2.8l1.1 4.7l1.1-3.3l1.2 5.6l1.1-2.2l1.1 2.3l1.1-1.4l1.1 2.5l1.2-1l1.1 1.3l1.1-1.1l1.1 1.8l1.1-1l1.2 3.6l1.1-2.1l1.1 4.4l1.1-2.9l1.1 3.7l1.2-3.6l1.1 0.6l1.1-3.2l1.1-0.2l1.1-1.6l1.2-2.2l1.1-0.9l1.1-0.3l1.1-0.8l1.1-0.5l1.2-0.6l1.1 2l1.1-0.9l1.1 1.5l1.1-0.8l1.2 1.7l1.1-0.9l1.1 0.9l1.1-0.8l1.1 0.3l1.2-1l1.1 0.2l1.1-1l1.1-2.9l1.1-0.9l1.2 1.2l1.1-2.6l1.1 4.6l1.1-1.9l1.1 9.2l1.2-3.5l1.1 14.7l1.1-2.6l1.1 8.5l1.2-2.2l1.1 5.2l1.1-2.4l1.1 6.8l1.1-1.5l1.2 1.1l1.1-1.2l1.1 0.4l1.1-1l1.1-0.7l1.2-0.8l1.1 0.5l1.1-1.1l1.1-0.5l1.1-0.8l1.2-0.1l1.1-0.7l1.1-2.1l1.1-0.5l1.1-1.1l1.2-0.3l1.1-0.6l1.1-0.3l1.1 0.5l1.1-0.3l1.2 5.2l1.1-0.7l1.1 8l1.1-1.2l1.1 9.4l1.2-2.6l1.1 6.1l1.1-1.9l1.1 5.3l1.1-1.7l1.2 2.1l1.1-1.3l1.1 2.6l1.1-1.1l1.1-2.8l1.2-0.3l1.1 0.1l1.1-0.3l1.1 2.6l1.1-0.5l1.2 1.8l1.1-0.7l1.1 2l1.1-0.5l1.1 2.8l1.2-0.4l1.1 1.6l1.1-0.3l1.1 3l1.1-0.4l1.2 3.4l1.1-0.5l1.1 1.8l1.1-0.6l1.1 2.3l1.2-0.7l1.1 1.8l1.1-0.6l1.1 0.9l1.1-0.5l1.2 1.5l1.1-0.7l1.1-0.6l1.1-0.5l1.1-1.5l1.2-0.4l1.1-1.5l1.1-0.4l1.1-1.8l1.1-0.3l1.2-1.5l1.1-0.4l1.1-0.2l1.1-0.5l1.2-2l1.1-0.5l1.1 0.5l1.1-0.8l1.1 4.5l1.2-0.9l1.1 6.3l1.1-1.4l1.1 1.9l1.1-1.5l1.2-2.3l1.1-1.2l1.1-2.3l1.1-1l1.1-4.4l1.2-0.5l1.1 1.3l1.1-0.3l1.1 3.3l1.1-0.8l1.2 8.7l1.1-1.4l1.1 6.3l1.1-0.3l1.1 1.2l1.2-0.3l1.1 0.9l1.1-0.3l1.1 0.7l1.1-0.3l1.2 0.7l1.1-0.3l1.1 0.7l1.1-0.3l1.1 0.7l1.2-0.3l1.1 0.4l1.1-0.3l1.1 0.5l1.1-0.3l1.2 0.4l1.1-0.3l1.1 0.5l1.1-0.3l1.1 0.5l1.2-0.3l1.1 0.6l1.1-0.3l1.1 0.7l1.1-0.3l1.2 0.8l1.1-0.3l1.1 0.8l1.1-0.3l1.1 0.6l1.2-0.3l1.1 0.6l1.1-0.3l1.1 0.6l1.1-0.3l1.2 0.7l1.1-0.3l1.1 0.8l1.1-0.3l1.1 1.5l1.2-0.3l1.1 1.5l1.1-0.3l1.1 0l1.1-0.3l1.2 0.3l1.1-0.3l1.1 0.7l1.1-0.3l1.1 0.2l1.2-0.3l1.1 0.5l1.1-0.3l1.1 3.3l1.2-0.3l1.1 2.3l1.1-0.3l1.1 1.6l1.1-0.3l1.2 0.3l1.1-0.3l1.1 0l1.1-0.3l1.1-0.2l1.2-0.3l1.1-0.1l1.1-0.3l1.1 0.8l1.1-0.3l1.2 0.8l1.1-0.3l1.1-0.5l1.1-0.3l1.1-1l1.2-0.3l1.1-3.7l1.1-0.5l1.1 0.4l1.1-0.3l1.2 3.2l1.1-0.3l1.1 2.2l1.1-0.3l1.1 1.2l1.2-0.3l1.1 0.5l1.1-0.3l1.1 0.4l1.1-0.3l1.2 0.4l1.1-0.3l1.1 0.4l1.1-0.3l1.1 0.5l1.2-0.3l1.1 0.6l1.1-0.3l1.1 0.8l1.1-0.3l1.2 0.8l1.1-0.3l1.1 0.3l1.1-0.3l1.1 0.4l1.2-0.3l1.1 0.5l1.1-0.3l1.1 0.6l1.1-0.3l1.2 0.1l1.1-0.3l1.1-0.2l1.1-0.3l1.1-0.3l1.2-0.3l1.1-0.6l1.1-0.4l1.1-7.6l1.1-1.5l1.2 0.2l1.1-1.5l1.1 3.9l1.1-0.4l1.1 0.7l1.2-0.4l1.1 1.1l1.1-0.6" fill="none" stroke="#b9e2c9" stroke-width="1.5" stroke-linejoin="round"/>
<path d="M210.5 1017.8l2.3 1.6l2.2 1.8l2.2 0l2.3 0.1l2.2-1.1l2.3 0l2.2 0.8l2.2 1.2l2.3 1.8l2.2 2l2.3 1.1l2.2 0.5l2.2 0l2.3 0.4l2.2 0.8l2.3 1.4l2.2 1.6l2.2 1.9l2.3 1.9l2.2 1.6l2.3 1.5l2.2 1.4l2.2 1.2l2.3 1.1l2.2 0.8l2.3 0.6l2.2 0.6l2.2 0.4l2.3 0.3l2.2 0.3l2.3 0.1l2.2 0.2l2.2 0.2l2.3 0.2l2.2 0.2l2.3 0.2l2.2 0.2l2.3-0.3l2.2-0.9l2.2-1.4l2.3-0.9l2.2-0.9l2.3-0.5l2.2-0.2l2.2-1.1l2.3-0.1l2.2-1.3l2.3-1.4l2.2-2l2.2-2.7l2.3-0.8l2.2-2.4l2.3-0.7l2.2 2.1l2.2-0.7l2.3-1.2l2.2-2.4l2.3-1.1l2.2-1.1l2.2-1.6l2.3-2l2.2-0.4l2.3-0.9l2.2-0.7l2.2-1l2.3 0.4l2.2 0l2.3 0.2l2.2-0.7l2.2 0.1l2.3-0.5l2.2-1.1l2.3-0.7l2.2-0.3l2.3-2.8l2.2 1.2l2.2-0.1l2.3-1.8l2.2-1.6l2.3-4.9l2.2-2.1l2.2 1.9l2.3-1.6l2.2-0.4l2.3 0.9l2.2-2.9l2.2-5.4l2.3 1.9l2.2-1l2.3 0.7l2.2-1.7l2.2-2.3l2.3-0.8l2.2-0.5l2.3-2.4l2.2-2.8l2.2 3.6l2.3 0.1l2.2 2.7l2.3 6.4l2.2 3.4l2.2 0.8l2.3-0.8l2.2-2l2.3-5.2l2.2-4.1l2.2 0.7l2.3-5.6l2.2-2.8l2.3-6.9l2.2 0.6l2.2-6.1l2.3-3.8l2.2-1.2l2.3 0l2.2 0.7l2.3 0.1l2.2 0l2.2-1.9l2.3 0.7l2.2 4.1l2.3 0.7l2.2 1.7l2.2 1.8l2.3 0.1l2.2-3l2.3-4.1l2.2-2.4l2.2 3.7l2.3 0.6l2.2 2.3l2.3-1.5l2.2 0.2l2.2-3.3l2.3-3.9l2.2-6.7l2.3-2.9l2.2-9.8l2.2-2.7l2.3-4.9l2.2-0.8l2.3-1.3l2.2 2.1l2.2-1.1l2.3-1.2l2.2 0.1l2.3 0.3l2.2-2.9l2.2-4.7l2.3-0.4l2.2-6.8l2.3-6l2.2-5.5l2.3 0.6l2.2-0.5l2.2-0.5l2.3-3.5l2.2-2.8l2.3 1l2.2 0l2.2-0.5l2.3-4.1l2.2 1.8l2.3-3.3l2.2-2.2l2.2 0.5l2.3-1l2.2-5.6l2.3-1.7l2.2-0.1l2.2-1l2.3-1.4l2.2 1.2l2.3-0.9l2.2-4.1l2.2-2.6l2.3-0.2l2.2 0.4l2.3 1.8l2.2 1.7l2.2 0.4l2.3 4.2l2.2 2.1l2.3 1.7l2.2 2.8l2.2 2.8l2.3-0.8l2.2 6.4l2.3 0.5l2.2-1.8l2.2 1.1l2.3-2.5l2.2 1.7l2.3-0.7l2.2-2.6l2.3-1.2l2.2-1.1l2.2-3l2.3 1.5l2.2-2.7l2.3 0.8l2.2-4.3l2.2-2.2l2.3-0.9l2.2 0.1l2.3-1l2.2-0.2l2.2 2.4l2.3-0.9l2.2 3l2.3 0.4l2.2-0.3l2.2-4.2l2.3 2.1l2.2 4l2.3-1.7l2.2 0l2.2-0.1l2.3 1.7l2.2-2l2.3-0.4l2.2 1.8l2.2 4.9l2.3 3.6l2.2 2.3l2.3-1l2.2-2.5l2.2-0.6l2.3-0.7l2.2 4.8l2.3-2.3l2.2 3.6l2.2-0.2l2.3-0.3l2.2-0.4l2.3-3.4l2.2-0.9l2.3-0.2l2.2-4.5l2.2-1.2l2.3 1.5l2.2 4l2.3 4.6l2.2 3.1l2.2 5.6l2.3 2.1l2.2-2l2.3 4.3l2.2 3.3l2.2 3.4l2.3-1.6l2.2 0.2l2.3-1.3l2.2 2.7l2.2-0.3l2.3 4.6l2.2 1.1l2.3 0.8l2.2 1.3l2.2 4.9l2.3 4.2l2.2-0.2l2.3-2.4l2.2 1l2.2-4.1l2.3-5.3l2.2-2.3l2.3 0.4l2.2-0.6l2.2 0.8l2.3 3.4l2.2 3.3l2.3 2.8l2.2 6l2.3 3.8l2.2 1.3l2.2 3.3l2.3 1.9l2.2 1.5l2.3 3.1l2.2-3.8l2.2-4.4l2.3-0.6l2.2-4.8l2.3-2.8l2.2-1l2.2 0.8l2.3 0.1l2.2 0.5l2.3-0.1l2.2 1l2.2 0.2l2.3 0.4l2.2 1.9l2.3 0.5l2.2 0.5l2.2 3.4l2.3 3.2l2.2 5.4l2.3 5.7l2.2 7.5l2.2 7.2l2.3 4.5l2.2 1.6l2.3 0.2l2.2 1.3l2.2-1.8l2.3-0.4l2.2 1.5l2.3 1.7l2.2 2.6l2.2 3.1l2.3 2.8l2.2 1.5l2.3 1.6l2.2 3.3l2.3 1.2l2.2 1.5l2.2 0.7l2.3 0.6l2.2 1.8l2.3-0.1l2.2 0.4l2.2 0.2l2.3 0.7l2.2-1.2l2.3-1.3l2.2-1.4l2.2-2l2.3-0.1l2.2 2.4l2.3 3.4l2.2 3.4l2.2 3.7l2.3 5.2l2.2 3.3l2.3 1.9l2.2 0.7l2.2 0.9l2.3-0.8l2.2-0.4l2.3 0.1l2.2-1.8l2.2 1.8l2.3-0.1l2.2 0l2.3 0l2.2 0.2l2.2-0.3l2.3 0l2.2 0.3l2.3 0.2l2.2 0l2.3 0.5l2.2-0.5l2.2 0l2.3-1.1l2.2 1.8l2.3 0.2l2.2 2.3l2.2 3.4l2.3 1.8l2.2 4.1l2.3 0.7l2.2 1.9l2.2 0.5l2.3-0.5l2.2-1.5l2.3-3.1l2.2-3.5l2.2-3.6l2.3-1.8l2.2 0.2l2.3-1l2.2 0.3l2.2 2l2.3 1.7l2.2 0.6l2.3 0.5l2.2 2.1l2.2 0.9l2.3 2.2l2.2 2.3l2.3 2.1l2.2 1.8l2.2 0.3l2.3 1.9l2.2-0.3l2.3 0.4l2.2-0.6l2.2-1.9l2.3-3.4l2.2-4.3l2.3-4.3l2.2-3.8l2.3-3l2.2-0.8l2.2 0.6l2.3 0.8l2.2 3l2.3 1.5l2.2 0.2l2.2-0.7l2.3 1.4l2.2-0.5l2.3 1.1l2.2-0.9l2.2-1.7l2.3-0.9l2.2-1.8l2.3-3.8l2.2-0.6l2.2-0.3l2.3-0.8l2.2-0.6l2.3-0.8l2.2-1l2.2-1.2l2.3 0.8l2.2 2.1l2.3 0.3l2.2 0.4l2.2 1l2.3-0.5l2.2-1.3l2.3-0.6l2.2 0l2.2 1.1l2.3 0.6l2.2-1.4l2.3-0.8l2.2-3.2l2.2-0.9l2.3-1.2l2.2-2.3l2.3 0.2l2.2 2.2l2.3-1.2l2.2 0.9l2.2 0.3l2.3-2.9l2.2-3.6l2.3 2.1l2.2 3.8l2.2 3.3l2.3 4.9l2.2 3.4l2.3 1.3l2.2 0.7l2.2-0.3l2.3 0.2l2.2-0.8l2.3 1.3l2.2-0.7l2.2-1.1l2.3-0.7l2.2-2l2.3-3.9l2.2-6.8l2.2-4.3l2.3-2.8l2.2-2.5l2.3-1.5l2.2-4.7l2.2-5.7l2.3-1.4l2.2 1.2l2.3-1.3l2.2 1.3l2.2-3.5l2.3-4.4l2.2-0.3l2.3-1l2.2-2.8l2.3-3.8l2.2 1.9l2.2 0l2.3-5.8l2.2-2l2.3-2l2.2-0.7l2.2 3l2.3-2.8l2.2-0.6l2.3 3.5l2.2-0.2l2.2 1.9l2.3 0l2.2-1.8l2.3-3.3l2.2-1.5l2.2-1.6l2.3-1.9l2.2 2.4l2.3-2.2l2.2 4.6l2.2 2.5l2.3-1.4l2.2-1.1l2.3-1.5l2.2-7.7l2.2-1.5l2.3-2.9l2.2-3.8l2.3 0.9l2.2-1.3l2.2-0.8l2.3-0.5l2.2-2.1l2.3 0.2l2.2-4.7l2.2-4.1l2.3 0.9l2.2 0.3l2.3 1.4l2.2-5.1l2.3-7.3l2.2 0.9l2.2 1l2.3 2.1l2.2 1l2.3-2.8l2.2 0.2l2.2-3.1l2.3-3.6l2.2-6.5l2.3-3.6l2.2-4.9l2.2-4.3l2.3-3.6l2.2-4.4l2.3 2.1l2.2 0l2.2-0.1l2.3 2l2.2-2.5l2.3 0.5l2.2-2.2l2.2-3.3l2.3 1.4l2.2 0.8l2.3-1.6l2.2 2.6l2.2 0l2.3 0.3l2.2 3.2l2.3-0.6l2.2-1.7l2.2-2.3l2.3 2.2l2.2 2.8l2.3 3.2l2.2 0.9l2.3-0.5l2.2-0.9l2.2 1.7l2.3-0.8l2.2 0.1l2.3 2.1l2.2-1l2.2-0.2l2.3 0.2l2.2-2.2l2.3 0.9l2.2-2.4l2.2 2.5l2.3-0.5l2.2-1l2.3-0.1l2.2 2.2l2.2 0.4l2.3 2.6l2.2-0.3l2.3-1.9l2.2-4.3l2.2-3.2l2.3 4.6l2.2-4.7l2.3 2l2.2 1.5l2.2-0.3l2.3-3.8l2.2-5l2.3-1.2l2.2-2.3l2.2 1.6l2.3-1.3l2.2-0.4l2.3 1.9l2.2-4.1l2.2-1.2l2.3 0.7l2.2 0.1l2.3 0.6l2.2-0.2l2.3-1.2l2.2 0.7l2.2 1.4l2.3 4.9l2.2 2.1l2.3 2.7l2.2 2.5l2.2 2.6l2.3 0.4l2.2-0.1l2.3 2.9l2.2 1.6l2.2 0.5l2.3 2.6l2.2 1l2.3-0.8l2.2 0.6l2.2 2l2.3 2.2l2.2-1.8l2.3 0.1l2.2 2l2.2 3.2l2.3 0l2.2 1.2l2.3 0.4l2.2-3.9l2.2-1.6l2.3 2l2.2 3.6l2.3 3.1l2.2 3.5l2.2 4l2.3 0.7l2.2 1.7l2.3-0.3l2.2 3l2.2 1l2.3 2.9l2.2 0.5l2.3 1.9l2.2-0.8l2.3-0.2l2.2 2l2.2 1.2l2.3-1l2.2-0.4l2.3 2.3l2.2 0.9l2.2 0.7l2.3 0.6l2.2 1.9l2.3 2.9l2.2 3.7l2.2 1.7l2.3 3.8l2.2 1l2.3 1.5l2.2-0.1l2.2 0.6l2.3 0.6l2.2-0.3l2.3-1.4l2.2-1.5l2.2 1.6l2.3-1.1l2.2-0.8l2.3-0.7l2.2 0.5l2.2-0.3l2.3-0.3l2.2-1l2.3-1.5l2.2-0.4l2.2 0.2l2.3 1.6l2.2 3.2l2.3 4.3l2.2 5.4l2.3 2.9l2.2 2l2.2 4.6l2.3 1.2l2.2 0.9l2.3-0.5l2.2 0.2l2.2-0.9l2.3-0.2l2.2-1.8l2.3-0.5l2.2 0.6l2.2 1.5l2.3 3.9l2.2 3.2l2.3 3.9l2.2 3.8l2.2 3.6l2.3 0.8l2.2 1.6l2.3-0.8l2.2 1.1l2.2 1.8l2.3 0.5l2.2 1.6l2.3 2.6l2.2 1.5l2.2 1.9l2.3 2.1l2.2 0.3l2.3 1.7l2.2 1l2.2 0.1l2.3 0.8l2.2-0.8l2.3-0.9l2.2-1.1l2.2-1.8l2.3-1.2l2.2 0.3l2.3 0.1l2.2 1.1l2.3 1.7l2.2-0.1l2.2-1.8l2.3-2l2.2-1.3l2.3-0.4l2.2 2.8l2.2 2.4l2.3 2.1l2.2 3.3l2.3 2.1l2.2 1.9l2.2 0.6l2.3 0.6l2.2 0.5l2.3 0.4l2.2 0.1l2.2 0l2.3 0.1l2.2 0.1l2.3 0.2l2.2 0.2l2.2 0.3l2.3 0.4l2.2 0.4l2.3 0.3l2.2 0.4l2.2 0.5l2.3 0.5l2.2 0.7l2.3 0.8l2.2 0.7l2.2 0.3l2.3 0.3l2.2 0.5l2.3 0.8l2.2 0.8l2.3 1.2l2.2 1.3l2.2 0.7l2.3 0.3l2.2 0.2l2.3 0.1l2.2 0.1l2.2 0.1l2.3-0.8l2.2-0.9l2.3-0.8l2.2 0.1l2.2-0.1l2.3 0.5l2.2 0.8l2.3 0.6l2.2 0.5l2.2 0.3l2.3 0.3l2.2 0.2l2.3 0.4l2.2 0.3l2.2 0.2l2.3 0.4l2.2 0.3l2.3 0.3l2.2 0.4l2.2 0.3l2.3-0.4l2.2-1.2l2.3-1.7l2.2-2.5l2.2-2.2l2.3-1l2.2 0.1l2.3-0.4l2.2 0.1l-1.1 0.3l-2.3-0.1l-2.2 0.4l-2.2 0.5l-2.3 0.8l-2.2 1.8l-2.3 2.5l-2.2 1.7l-2.2 1.2l-2.3 0.4l-2.2-0.3l-2.3-0.4l-2.2-0.3l-2.2-0.3l-2.3-0.4l-2.2-0.2l-2.3-0.3l-2.2-0.4l-2.2-0.2l-2.3-0.3l-2.2-0.3l-2.3-0.4l-2.2-0.7l-2.2-0.8l-2.3-0.5l-2.2 0.1l-2.3-0.1l-2.2 0.8l-2.2 0.9l-2.3 0.8l-2.2-0.1l-2.3-0.1l-2.2-0.1l-2.2-0.2l-2.3-0.3l-2.2-0.7l-2.3-1.3l-2.2-1.2l-2.3-0.8l-2.2-0.8l-2.2-0.5l-2.3-0.3l-2.2-0.3l-2.3-0.7l-2.2-0.8l-2.2-0.7l-2.3-0.5l-2.2-0.5l-2.3-0.4l-2.2-0.3l-2.2-0.4l-2.3-0.3l-2.2-0.4l-2.3-0.2l-2.2-0.2l-2.2-0.1l-2.3-0.1l-2.2 0l-2.3-0.1l-2.2-0.4l-2.2-0.5l-2.3-0.6l-2.2-0.6l-2.3-1.9l-2.2-2.1l-2.2-3l-2.3-2.2l-2.2-2.6l-2.3-2.8l-2.2 0.6l-2.2 1.2l-2.3 2.2l-2.2 1.8l-2.3 0l-2.2-1.7l-2.2-1.3l-2.3-0.1l-2.2-0.3l-2.3 1.2l-2.2 1.8l-2.3 1.1l-2.2 0.9l-2.2 0.8l-2.3-0.8l-2.2-0.1l-2.3-1l-2.2-1.7l-2.2-0.3l-2.3-2.1l-2.2-1.9l-2.3-1.5l-2.2-2.6l-2.2-1.6l-2.3-0.5l-2.2-1.8l-2.3-1.1l-2.2 1l-2.2-1.5l-2.3-0.9l-2.2-3.3l-2.3-3.2l-2.2-4.8l-2.2-3.4l-2.3-3.9l-2.2-1.5l-2.3-0.6l-2.2 0.5l-2.2 1.8l-2.3 0.2l-2.2 1l-2.3-0.2l-2.2 0.7l-2.2-1l-2.3-1.1l-2.2-4.1l-2.3-2l-2.2-2.9l-2.3-4.4l-2.2-5.2l-2.2-3.3l-2.3-2.3l-2.2-0.2l-2.3 0.3l-2.2 1.5l-2.2 1.1l-2.3 0.3l-2.2 0.3l-2.3-0.6l-2.2 0.7l-2.2 0.9l-2.3 1.3l-2.2-0.8l-2.3 1.6l-2.2 1.2l-2.2-0.3l-2.3-0.9l-2.2-0.5l-2.3 0.1l-2.2-1.3l-2.2-0.8l-2.3-3.5l-2.2-1.5l-2.3-4.1l-2.2-3.1l-2.2-1.9l-2.3-1l-2.2-0.1l-2.3-0.1l-2.2-2.5l-2.2 1.1l-2.3-0.1l-2.2-1.1l-2.3-1.7l-2.2 0l-2.2 0.6l-2.3-2.4l-2.2-0.6l-2.3-1.5l-2.2-1.5l-2.3-0.9l-2.2-1.7l-2.2-1.4l-2.3-0.4l-2.2-3.9l-2.3-3.5l-2.2-2.2l-2.2-1.9l-2.3-2.2l-2.2-0.9l-2.3 4l-2.2-0.6l-2.2-0.9l-2.3 1.8l-2.2-4.9l-2.3-2.1l-2.2-0.4l-2.2 1.1l-2.3-1.5l-2.2-1.9l-2.3-0.4l-2.2-0.1l-2.2-1.3l-2.3-2.5l-2.2-0.3l-2.3-1.2l-2.2-0.2l-2.2-0.8l-2.3-2.7l-2.2-2.6l-2.3 1l-2.2-2l-2.2-2.7l-2.3-4.6l-2.2-0.8l-2.3-1.1l-2.2 0.5l-2.3 0.7l-2.2-1.3l-2.2 1l-2.3-2.1l-2.2 2l-2.3 4.3l-2.2-1.4l-2.2 0l-2.3 3.1l-2.2-1.6l-2.3 3.4l-2.2 1.8l-2.2 4.9l-2.3 1.3l-2.2 0.9l-2.3 0.1l-2.2-1.4l-2.2 3.3l-2.3-4.2l-2.2 2.4l-2.3 3l-2.2 1.7l-2.2 0.7l-2.3-2.9l-2.2 0.7l-2.3-3l-2.2 2.1l-2.2 1.1l-2.3 0l-2.2-3.8l-2.3 2l-2.2-1.7l-2.2 0.8l-2.3 2.1l-2.2-0.3l-2.3 1.6l-2.2-6.2l-2.2 2.9l-2.3 1.7l-2.2-2.4l-2.3-0.1l-2.2 2l-2.3 0.5l-2.2-5.1l-2.2 1.1l-2.3-2.4l-2.2 3.5l-2.3-0.2l-2.2-0.5l-2.2-2.4l-2.3 0l-2.2-0.2l-2.3-3.8l-2.2 1.2l-2.2 0.5l-2.3-2.6l-2.2 4.5l-2.3 3.1l-2.2-2.5l-2.2 0.6l-2.3-0.8l-2.2-0.9l-2.3 1.9l-2.2-1l-2.2 2.5l-2.3 3.4l-2.2 5.6l-2.3 3.1l-2.2 3.8l-2.2 8l-2.3 2.3l-2.2 2.8l-2.3-0.8l-2.2 3.3l-2.2 0.6l-2.3 1.8l-2.2-1.6l-2.3-3.8l-2.2 6.9l-2.2 3l-2.3 0.1l-2.2 1.1l-2.3-3.8l-2.2 4.1l-2.3 3.8l-2.2 0.1l-2.2 4.1l-2.3 0.2l-2.2 1.7l-2.3 0l-2.2-0.3l-2.2 3.6l-2.3 3.8l-2.2 1.2l-2.3 4.3l-2.2 0.8l-2.2 0.7l-2.3 0.9l-2.2 0.8l-2.3-3.5l-2.2 3.2l-2.2-1.9l-2.3 1.9l-2.2 2.1l-2.3 0.6l-2.2-0.4l-2.2 1.6l-2.3 0.8l-2.2-0.9l-2.3-1.6l-2.2-2.2l-2.2 3.2l-2.3 3.7l-2.2-5.1l-2.3 0l-2.2 2.7l-2.2 1.4l-2.3 5.9l-2.2-3.5l-2.3 1.2l-2.2 4.7l-2.3 3.6l-2.2 1.4l-2.2-0.2l-2.3 0.1l-2.2 3l-2.3 2.7l-2.2 2.1l-2.2-1.3l-2.3 0.8l-2.2 5.8l-2.3 4.1l-2.2 2.4l-2.2 2.7l-2.3 1.4l-2.2 5.4l-2.3 5.6l-2.2 0.1l-2.2 1.4l-2.3 0.4l-2.2 1.2l-2.3 3.2l-2.2 0.5l-2.2-2.6l-2.3-0.7l-2.2 0.3l-2.3-0.5l-2.2-1.4l-2.2-3.8l-2.3-4.8l-2.2-1.6l-2.3-2.9l-2.2-0.6l-2.2 0.8l-2.3 2.7l-2.2-0.9l-2.3-1.5l-2.2 2.5l-2.2-1.2l-2.3-0.5l-2.2 0.6l-2.3 1.2l-2.2 1l-2.3 3l-2.2 0.7l-2.2 1.2l-2.3-0.3l-2.2-0.8l-2.3 0l-2.2 0.1l-2.2 1l-2.3 0.5l-2.2-0.9l-2.3-0.5l-2.2 0.4l-2.2-1.5l-2.3-0.2l-2.2-0.2l-2.3 0.7l-2.2 0.6l-2.2 0.7l-2.3 0.8l-2.2 0.7l-2.3 2.1l-2.2 1.9l-2.2 1.7l-2.3 1.1l-2.2 1.6l-2.3 0.8l-2.2-1.1l-2.2 0.5l-2.3-1.3l-2.2 0.7l-2.3-0.1l-2.2-1.2l-2.2-0.8l-2.3-2.1l-2.2-1.4l-2.3 0.6l-2.2 2.6l-2.3 3.8l-2.2 4.3l-2.2 4.3l-2.3 3.4l-2.2 1.9l-2.3 0.6l-2.2-0.4l-2.2 0.3l-2.3-1.9l-2.2-0.3l-2.3-1.8l-2.2-2l-2.2-2.4l-2.3-1.7l-2.2-1.1l-2.3-2.1l-2.2-0.7l-2.2-0.6l-2.3-1.7l-2.2-1.4l-2.3 0.9l-2.2 0.8l-2.2-1.4l-2.3 1.3l-2.2 3.6l-2.3 3.5l-2.2 3.1l-2.2 1.5l-2.3 0.5l-2.2-0.5l-2.3-1.8l-2.2-0.6l-2.2-4.1l-2.3-1.9l-2.2-3.3l-2.3-2l-2.2-0.6l-2.2-1.9l-2.3 1.1l-2.2 0l-2.3 0.8l-2.2-0.3l-2.3 0.1l-2.2 0.1l-2.2-1l-2.3-0.2l-2.2 0.3l-2.3-0.2l-2.2 0l-2.2 0.1l-2.3 0.3l-2.2-0.9l-2.3 0.9l-2.2 0l-2.2 0.7l-2.3 0.8l-2.2-1.1l-2.3-0.8l-2.2-1.7l-2.2-3.1l-2.3-4.3l-2.2-4.8l-2.3-4l-2.2-3.2l-2.2-2.6l-2.3 0.1l-2.2 2l-2.3 1.5l-2.2 1.5l-2.2 1.1l-2.3-0.9l-2.2-0.2l-2.3-0.4l-2.2 0.3l-2.2-1.5l-2.3-0.7l-2.2-0.8l-2.3-1.4l-2.2-1.4l-2.2-3.1l-2.3-1.1l-2.2-1.2l-2.3-2l-2.2-4.5l-2.3-2.8l-2.2-1.1l-2.2-2.1l-2.3 0.4l-2.2 1.9l-2.3-0.5l-2.2 0.6l-2.2-2.5l-2.3-3.8l-2.2-7.5l-2.3-8.1l-2.2-6.2l-2.2-5.4l-2.3-3.4l-2.2-3.1l-2.3-0.5l-2.2-0.6l-2.2-1.7l-2.3 0.1l-2.2 0l-2.3-1.3l-2.2 0.5l-2.2 0.4l-2.3 2.1l-2.2-1.2l-2.3 0.8l-2.2 3.1l-2.2 1.3l-2.3 0.5l-2.2 4.6l-2.3 4.3l-2.2-2.4l-2.2-2.2l-2.3-2.7l-2.2-3l-2.3-1.1l-2.2-3.7l-2.3-3.7l-2.2-3.5l-2.2-2.5l-2.3-2.4l-2.2-0.3l-2.3-0.4l-2.2 0.6l-2.2-0.4l-2.3 5.9l-2.2 3.7l-2.3-0.8l-2.2 2.2l-2.2 0l-2.3-4.5l-2.2-5.4l-2.3-0.8l-2.2-0.9l-2.2-0.5l-2.3-0.1l-2.2-3.5l-2.3-3.2l-2.2 0.3l-2.2-0.5l-2.3 2l-2.2-2.8l-2.3-3.1l-2.2 1l-2.2 1.1l-2.3-6.3l-2.2-1.2l-2.3-2.5l-2.2-6.4l-2.2-5.3l-2.3-1.1l-2.2 2.3l-2.3 3.9l-2.2 1.5l-2.2 1.9l-2.3 2.9l-2.2 0.5l-2.3-4.2l-2.2 0.6l-2.3 0.2l-2.2 0.5l-2.2-3.7l-2.3-0.9l-2.2 2.4l-2.3 1.9l-2.2-3.1l-2.2 2.6l-2.3-4.5l-2.2-1.9l-2.3-2.7l-2.2-0.1l-2.2 0.5l-2.3-2.4l-2.2 0.8l-2.3-0.4l-2.2 1.1l-2.2-1.9l-2.3-2.3l-2.2 2.3l-2.3-0.1l-2.2-1l-2.2-0.8l-2.3 0.8l-2.2-1.7l-2.3 2.5l-2.2 0.7l-2.2 1.1l-2.3-0.6l-2.2 2.1l-2.3 2.5l-2.2 0.2l-2.2 4.8l-2.3-3.3l-2.2 1.6l-2.3 1.5l-2.2-0.6l-2.3 2l-2.2 0.2l-2.2-0.4l-2.3 3.4l-2.2-1.3l-2.3-2.2l-2.2 0.3l-2.2-0.3l-2.3 0.2l-2.2-2.8l-2.3-3.7l-2.2 1.5l-2.2-4.7l-2.3-1.6l-2.2-1.3l-2.3-3.2l-2.2 1l-2.2-4.4l-2.3 0.5l-2.2 1.9l-2.3 4.5l-2.2 0.6l-2.2-2.5l-2.3 1.9l-2.2 1.4l-2.3 2.7l-2.2 0.3l-2.2 2.5l-2.3 4.8l-2.2-1.6l-2.3 4.2l-2.2 3.4l-2.2-4.9l-2.3 6.6l-2.2-0.6l-2.3 0.2l-2.2-2.4l-2.2 3l-2.3 3.8l-2.2 2.1l-2.3-0.5l-2.2-0.3l-2.3 5.3l-2.2 5.8l-2.2 1l-2.3 0.4l-2.2 8.1l-2.3 2.5l-2.2 1.4l-2.2 0.1l-2.3 0.5l-2.2 1.5l-2.3-1.8l-2.2 1l-2.2 2.1l-2.3 3.6l-2.2 4.4l-2.3 3.8l-2.2 1.5l-2.2 6.9l-2.3 4.4l-2.2 3.8l-2.3 3.7l-2.2 0.6l-2.2-4l-2.3 1.8l-2.2-1.6l-2.3-3.4l-2.2 3.6l-2.2 3.2l-2.3 0.2l-2.2-0.3l-2.3 3l-2.2-2.1l-2.2-4.5l-2.3-1.8l-2.2-2.1l-2.3 2.5l-2.2 1.3l-2.2-0.9l-2.3 2.2l-2.2-0.4l-2.3 4.3l-2.2 7.1l-2.3 0.3l-2.2 6.6l-2.2 1.5l-2.3 4.3l-2.2 0.7l-2.3 2l-2.2 2.7l-2.2 1.5l-2.3 0.1l-2.2-0.8l-2.3-3l-2.2-3.2l-2.2-2.2l-2.3 1.1l-2.2-4.3l-2.3 1l-2.2 1.7l-2.2 3.8l-2.3-2.7l-2.2 1.2l-2.3 1.7l-2.2-0.3l-2.2 4.7l-2.3-3l-2.2 4.4l-2.3 0.4l-2.2-0.9l-2.2 0.8l-2.3 3.9l-2.2-0.2l-2.3 1.7l-2.2 4.6l-2.2-1.6l-2.3 1.2l-2.2 0l-2.3 0.3l-2.2 2.1l-2.3-0.1l-2.2 0.6l-2.2 0.3l-2.3 0.6l-2.2 0.1l-2.3 1.9l-2.2-1l-2.2 0.5l-2.3 1l-2.2-1l-2.3 0.2l-2.2 1.3l-2.2 0.4l-2.3 2l-2.2 1.1l-2.3 1.4l-2.2 0.8l-2.2 2.3l-2.3 1.2l-2.2 0.7l-2.3-1.5l-2.2 1l-2.2 1.7l-2.3 0.6l-2.2 2.7l-2.3 2l-2.2 1.4l-2.2 1.3l-2.3 0.1l-2.2 1.1l-2.3 0.2l-2.2 0.5l-2.2 0.9l-2.3 0.9l-2.2 1.4l-2.3 0.9l-2.2 0.3l-2.2-0.2l-2.3-0.2l-2.2-0.2l-2.3-0.2l-2.2-0.2l-2.3-0.2l-2.2-0.1l-2.2-0.3l-2.3-0.3l-2.2-0.4l-2.3-0.6l-2.2-0.6l-2.2-0.8l-2.3-1.1l-2.2-1.2l-2.3-1.4l-2.2-1.5l-2.2-1.6l-2.3-1.9l-2.2-1.9l-2.3-1.6l-2.2-1.4l-2.2-0.8l-2.3-0.4l-2.2 0l-2.3-0.5l-2.2-1.1l-2.2-2l-2.3-1.8l-2.2-1.2l-2.3-0.8l-2.2 0l-2.2 1.1l-2.3-0.1l-2.2 0l-2.3-1.8l-2.2-1.6z" fill="#d3af4e" stroke="none"/>
<path d="M209.4 1018.1l1.1-0.3l1.1 1.9l1.2-0.3l1.1 2.1l1.1-0.3l1.1 0.3l1.1-0.3l1.2 0.4l1.1-0.3l1.1-0.8l1.1-0.3l1.1 0.3l1.2-0.3l1.1 1.1l1.1-0.3l1.1 1.5l1.1-0.3l1.2 2.1l1.1-0.3l1.1 2.3l1.1-0.3l1.1 1.4l1.2-0.3l1.1 0.8l1.1-0.3l1.1 0.3l1.1-0.3l1.2 0.7l1.1-0.3l1.1 1.1l1.1-0.3l1.1 1.7l1.2-0.3l1.1 1.9l1.1-0.3l1.1 2.2l1.1-0.3l1.2 2.2l1.1-0.3l1.1 1.9l1.1-0.3l1.1 1.8l1.2-0.3l1.1 1.7l1.1-0.3l1.1 1.5l1.1-0.3l1.2 1.4l1.1-0.3l1.1 1.1l1.1-0.3l1.1 0.9l1.2-0.3l1.1 0.9l1.1-0.3l1.1 0.7l1.1-0.3l1.2 0.6l1.1-0.3l1.1 0.6l1.1-0.3l1.1 0.4l1.2-0.3l1.1 0.5l1.1-0.3l1.1 0.5l1.1-0.3l1.2 0.5l1.1-0.3l1.1 0.5l1.1-0.3l1.2 0.5l1.1-0.3l1.1 0.5l1.1-0.3l1.1 0l1.2-0.3l1.1-0.6l1.1-0.3l1.1-1.1l1.1-0.3l1.2-0.6l1.1-0.3l1.1-0.6l1.1-0.3l1.1-0.2l1.2-0.3l1.1 0.1l1.1-0.3l1.1-0.8l1.1-0.3l1.2 0.2l1.1-0.3l1.1-1l1.1-0.3l1.1-1.1l1.2-0.3l1.1-1.7l1.1-0.3l1.1-2.4l1.1-0.3l1.2-0.3l1.1-0.5l1.1-1.2l1.1-1.2l1.1 0.2l1.2-0.9l1.1 2.4l1.1-0.3l1.1-0.4l1.1-0.3l1.2-0.9l1.1-0.3l1.1-2l1.1-0.4l1.1-0.4l1.2-0.7l1.1-0.7l1.1-0.4l1.1-0.7l1.1-0.9l1.2-1.1l1.1-0.9l1.1 0.5l1.1-0.9l1.1-0.4l1.2-0.5l1.1 0.3l1.1-1l1.1 2l1.1-3l1.2 2l1.1-1.6l1.1 1.1l1.1-1.1l1.1 2.1l1.2-1.9l1.1 0l1.1-0.7l1.1 0.6l1.1-0.5l1.2-0.1l1.1-0.4l1.1 0.1l1.1-1.2l1.1 0.6l1.2-1.3l1.1 1.4l1.1-1.7l1.1-0.4l1.2-2.4l1.1 2.1l1.1-0.9l1.1 0.9l1.1-1l1.2-0.2l1.1-1.6l1.1 3.2l1.1-4.8l1.1 0.2l1.2-5.1l1.1 3.4l1.1-5.5l1.1 5.7l1.1-3.8l1.2-0.1l1.1-1.5l1.1 0.7l1.1-1.1l1.1 2l1.2-1.1l1.1 0.7l1.1-3.6l1.1-0.8l1.1-4.6l1.2 7.6l1.1-5.7l1.1 1l1.1-2l1.1 2.3l1.2-1.6l1.1-0.1l1.1-1.6l1.1 0.4l1.1-2.7l1.2 5.4l1.1-6.2l1.1 2.4l1.1-2.9l1.1 1.2l1.2-3.6l1.1 2.6l1.1-5.4l1.1 9.7l1.1-6.1l1.2 5l1.1-4.9l1.1 7.1l1.1-4.4l1.1 7.6l1.2-1.2l1.1 4.2l1.1-0.8l1.1 1.6l1.1-0.8l1.2 0.7l1.1-1.5l1.1 0l1.1-2l1.1-0.7l1.2-4.5l1.1 2.5l1.1-6.6l1.1 5.9l1.1-5.2l1.2 0.9l1.1-6.5l1.1 5l1.1-7.8l1.1 1.2l1.2-8.1l1.1 7.8l1.1-7.2l1.1 0.1l1.1-6.2l1.2 1.9l1.1-5.7l1.1 6.1l1.1-7.3l1.2 5.1l1.1-5.1l1.1 6l1.1-5.3l1.1 4l1.2-3.9l1.1 1.4l1.1-1.4l1.1 3.5l1.1-5.4l1.2 7.2l1.1-6.5l1.1 11l1.1-6.9l1.1 9l1.2-8.3l1.1 5.3l1.1-3.6l1.1 3.9l1.1-2.1l1.2 1.9l1.1-1.8l1.1-1.4l1.1-1.6l1.1-2l1.2-2.1l1.1 5.5l1.1-7.9l1.1 9.5l1.1-5.8l1.2 4l1.1-3.4l1.1 7.4l1.1-5.1l1.1 4.5l1.2-6l1.1 2.3l1.1-2.1l1.1-1.7l1.1-1.6l1.2-2.8l1.1-1.1l1.1-5.8l1.1-0.9l1.1-0.6l1.2-2.3l1.1-1.5l1.1-8.3l1.1 3.9l1.1-6.6l1.2 3l1.1-7.9l1.1 5.8l1.1-6.6l1.1 5.6l1.2-6.9l1.1 8.7l1.1-6.6l1.1 5.1l1.1-6.2l1.2 5.7l1.1-6.9l1.1 6.8l1.1-6.7l1.1 5.3l1.2-5l1.1 2.5l1.1-5.4l1.1-2.7l1.1-2l1.2 1.6l1.1-2l1.1 1l1.1-7.8l1.1 2l1.2-8l1.1 2.7l1.1-8.2l1.1 8.5l1.2-7.9l1.1 8.4l1.1-8.9l1.1 6.8l1.1-7.3l1.2 3.5l1.1-7l1.1 4l1.1-6.8l1.1 9.2l1.2-8.2l1.1 8l1.1-8l1.1 8.6l1.1-9.1l1.2 2.5l1.1-6.6l1.1 11.5l1.1-9.7l1.1 6.3l1.2-9.6l1.1 5.4l1.1-7.6l1.1 9.2l1.1-8.7l1.2 3.9l1.1-4.9l1.1 2.4l1.1-8l1.1 7.7l1.2-9.4l1.1 6.7l1.1-6.8l1.1 5.4l1.1-6.4l1.2 4.5l1.1-5.9l1.1 8.4l1.1-7.2l1.1 6.6l1.2-7.5l1.1 3l1.1-7.1l1.1 5.2l1.1-7.8l1.2 7.3l1.1-7.5l1.1 11.9l1.1-11.5l1.1 10.5l1.2-8.7l1.1 11.9l1.1-10.2l1.1 11.5l1.1-11.1l1.2 12.7l1.1-8.5l1.1 13.2l1.1-11.1l1.1 9.6l1.2-7.9l1.1 11.6l1.1-8.8l1.1 11.6l1.1-8.8l1.2 8.6l1.1-9.4l1.1 9.7l1.1-3.3l1.1 3l1.2-2.5l1.1 4.7l1.1-6.5l1.1 7.8l1.1-6.7l1.2 3.3l1.1-5.8l1.1 6.2l1.1-4.5l1.1 4.3l1.2-5l1.1 3l1.1-5.6l1.1 6.2l1.2-7.4l1.1 5.9l1.1-7l1.1 5.4l1.1-8.4l1.2 11.7l1.1-10.2l1.1 5.4l1.1-8.1l1.1 7.9l1.2-7.1l1.1 4.6l1.1-8.9l1.1 6.8l1.1-9l1.2 9.6l1.1-10.5l1.1 9.4l1.1-9.3l1.1 8.6l1.2-9.6l1.1 7.1l1.1-7.3l1.1 9l1.1-6.6l1.2 5.8l1.1-6.7l1.1 7.5l1.1-4.5l1.1 5.5l1.2-5.1l1.1 5.2l1.1-5.5l1.1 3.2l1.1-7.4l1.2 9.7l1.1-7.6l1.1 9.5l1.1-5.5l1.1 4.4l1.2-6.1l1.1 6.5l1.1-6.5l1.1 5.7l1.1-5.8l1.2 8.2l1.1-6.5l1.1 6l1.1-8l1.1 8.1l1.2-8.5l1.1 11.2l1.1-9.4l1.1 11.3l1.1-6.4l1.2 10.9l1.1-7.3l1.1 4.7l1.1-2.4l1.1 5.5l1.2-6.5l1.1 4.6l1.1-7.1l1.1 4.7l1.1-5.3l1.2 6.2l1.1-6.9l1.1 10.6l1.1-5.8l1.1 5.3l1.2-7.6l1.1 7.4l1.1-3.8l1.1 3.2l1.1-3.4l1.2 7.6l1.1-7.9l1.1 7.4l1.1-7.8l1.2 4.9l1.1-8.3l1.1 6.4l1.1-7.3l1.1 5.8l1.2-6l1.1 2.1l1.1-6.6l1.1 4.3l1.1-5.5l1.2 6.6l1.1-5.1l1.1 10.4l1.1-6.4l1.1 12.8l1.2-8.2l1.1 10.7l1.1-7.6l1.1 8.8l1.1-3.2l1.2 9.5l1.1-7.4l1.1 6.3l1.1-8.3l1.1 7.3l1.2-3l1.1 6.1l1.1-2.8l1.1 5.6l1.1-2.2l1.2 0.2l1.1-1.8l1.1 2.3l1.1-2.1l1.1 1.8l1.2-3.1l1.1 6.3l1.1-3.6l1.1 7.1l1.1-7.4l1.2 7.5l1.1-2.9l1.1 3.4l1.1-2.3l1.1 3.2l1.2-2.4l1.1 3.2l1.1-1.9l1.1 7.3l1.1-2.4l1.2 6.9l1.1-2.7l1.1 2.7l1.1-2.9l1.1 0.7l1.2-3.1l1.1 3.9l1.1-2.9l1.1-0.8l1.1-3.3l1.2-2.6l1.1-2.7l1.1 3.1l1.1-5.4l1.1 4.8l1.2-4.4l1.1 4.8l1.1-5.4l1.1 5.7l1.1-4.9l1.2 7.3l1.1-3.9l1.1 6.4l1.1-3.1l1.1 6.6l1.2-3.8l1.1 7.5l1.1-1.5l1.1 5.2l1.2-1.4l1.1 2.5l1.1-1.2l1.1 4.2l1.1-0.9l1.2 3.6l1.1-1.7l1.1 3.9l1.1-2.4l1.1 4.8l1.2-1.7l1.1-2.6l1.1-1.2l1.1-3.4l1.1-1l1.2 0.5l1.1-1.1l1.1-0.2l1.1-4.6l1.1 1.5l1.2-4.3l1.1 3.5l1.1-4.5l1.1 5.7l1.1-4.9l1.2 2.8l1.1-2.7l1.1 2.3l1.1-1.8l1.1 1.3l1.2-1.4l1.1 2.7l1.1-1.7l1.1 1.7l1.1-1.5l1.2 1.4l1.1-1l1.1 2.7l1.1-0.8l1.1 1.4l1.2-0.9l1.1 1.4l1.1-0.9l1.1 4l1.1-0.6l1.2 4l1.1-0.8l1.1 6.2l1.1-0.8l1.1 7l1.2-1.3l1.1 9.4l1.1-1.9l1.1 9.4l1.1-2.2l1.2 6l1.1-1.5l1.1 4l1.1-2.4l1.1 1.8l1.2-1.6l1.1 2.1l1.1-0.8l1.1-1.1l1.1-0.7l1.2 0.3l1.1-0.7l1.1 2.8l1.1-1.3l1.1 2.4l1.2-0.7l1.1 3.5l1.1-0.9l1.1 5.4l1.1-2.3l1.2 4.3l1.1-1.5l1.1 2.7l1.1-1.2l1.2 2.3l1.1-0.7l1.1 3.8l1.1-0.5l1.1 1.9l1.2-0.7l1.1 2.1l1.1-0.6l1.1 1.4l1.1-0.7l1.2 1.4l1.1-0.8l1.1 2.3l1.1-0.5l1.1 0.2l1.2-0.3l1.1 0.7l1.1-0.3l1.1 0.5l1.1-0.3l1.2 1.2l1.1-0.5l1.1-0.6l1.1-0.6l1.1-0.9l1.2-0.4l1.1-1.1l1.1-0.3l1.1-1.7l1.1-0.3l1.2 0.2l1.1-0.3l1.1 2.9l1.1-0.5l1.1 3.7l1.2-0.3l1.1 4.3l1.1-0.9l1.1 5.7l1.1-2l1.2 6.3l1.1-1.1l1.1 4.2l1.1-0.9l1.1 2.6l1.2-0.7l1.1 1.5l1.1-0.8l1.1 1.9l1.1-1l1.2 0.2l1.1-1l1.1 0.3l1.1-0.7l1.1 0.7l1.2-0.6l1.1-0.3l1.1-1.5l1.1 2.4l1.1-0.6l1.2 0.3l1.1-0.4l1.1 0.3l1.1-0.3l1.1 0.3l1.2-0.3l1.1 0.5l1.1-0.3l1.1 0l1.1-0.3l1.2 0.5l1.1-0.5l1.1 1.5l1.1-1.2l1.1 1.1l1.2-0.9l1.1 0.8l1.1-0.8l1.1 1.1l1.2-0.6l1.1-0.2l1.1-0.3l1.1 0.3l1.1-0.3l1.2-0.8l1.1-0.3l1.1 2.2l1.1-0.4l1.1 1l1.2-0.8l1.1 2.8l1.1-0.5l1.1 3.8l1.1-0.4l1.2 2.3l1.1-0.5l1.1 4.6l1.1-0.5l1.1 1.1l1.2-0.4l1.1 2.2l1.1-0.3l1.1 0.8l1.1-0.3l1.2-0.2l1.1-0.3l1.1-1.2l1.1-0.3l1.1-2.8l1.2-0.3l1.1-3.2l1.1-0.3l1.1-3.3l1.1-0.3l1.2-1l1.1-0.8l1.1 2.2l1.1-2l1.1 1.2l1.2-2.2l1.1 1.3l1.1-1l1.1 2.4l1.1-0.4l1.2 2.1l1.1-0.4l1.1 1l1.1-0.4l1.1 1.1l1.2-0.6l1.1 2.7l1.1-0.6l1.1 1.7l1.1-0.8l1.2 2.5l1.1-0.3l1.1 2.7l1.1-0.4l1.1 2.4l1.2-0.3l1.1 2.1l1.1-0.3l1.1 0.6l1.1-0.3l1.2 2.2l1.1-0.3l1.1 0l1.1-0.3l1.1 0.7l1.2-0.3l1.1-0.3l1.1-0.3l1.1-1.6l1.1-0.3l1.2-3.1l1.1-0.3l1.1-4l1.1-0.3l1.1-4l1.2-0.3l1.1-3.5l1.1-0.3l1.1-2.3l1.2-0.7l1.1 0.1l1.1-0.9l1.1 2.3l1.1-1.7l1.2 3.8l1.1-3l1.1 3.8l1.1-0.8l1.1 2l1.2-0.5l1.1 0.6l1.1-0.4l1.1-0.3l1.1-0.4l1.2 1.7l1.1-0.3l1.1-0.2l1.1-0.3l1.1 1.4l1.2-0.3l1.1-0.5l1.1-0.4l1.1-1.2l1.1-0.5l1.2-0.6l1.1-0.3l1.1-1.4l1.1-0.4l1.1-1.5l1.2-2.3l1.1 0.2l1.1-0.8l1.1 0.1l1.1-0.4l1.2-0.4l1.1-0.4l1.1-0.3l1.1-0.3l1.1-0.3l1.2-0.5l1.1-0.2l1.1-0.8l1.1 1l1.1-2.2l1.2 2.4l1.1-1.6l1.1 3.1l1.1-1l1.1 0.6l1.2-0.3l1.1 0.8l1.1-0.4l1.1 1.3l1.1-0.3l1.2-0.2l1.1-0.3l1.1-0.7l1.1-0.6l1.1 0.5l1.2-1.1l1.1 1.1l1.1-1.1l1.1 1.9l1.1-0.8l1.2 1.1l1.1-0.5l1.1-0.7l1.1-0.7l1.1 0l1.2-0.8l1.1-2.2l1.1-1l1.1 0l1.1-0.9l1.2-0.3l1.1-0.9l1.1 0.3l1.1-2.6l1.2 3.1l1.1-2.9l1.1 4.1l1.1-1.9l1.1-0.6l1.2-0.6l1.1 2.1l1.1-1.2l1.1 2.1l1.1-1.8l1.2-0.9l1.1-2l1.1 1.2l1.1-4.8l1.1 5.4l1.2-3.3l1.1 6.2l1.1-2.4l1.1 4l1.1-0.7l1.2 5.5l1.1-0.6l1.1 4.4l1.1-1l1.1 2.4l1.2-1.1l1.1 1.6l1.1-0.9l1.1 0.6l1.1-0.9l1.2 1.6l1.1-1.4l1.1 4l1.1-4.8l1.1 4.3l1.2-3l1.1-0.2l1.1-0.5l1.1-0.7l1.1-0.4l1.2 0l1.1-0.7l1.1-0.7l1.1-1.3l1.1 1.2l1.2-5.1l1.1-0.5l1.1-6.3l1.1 0.9l1.1-5.2l1.2 3.8l1.1-6.6l1.1 3.9l1.1-6.4l1.1 4l1.2-5.5l1.1 1.4l1.1-6.1l1.1 0.3l1.1-6l1.2 5.2l1.1-6.6l1.1 7.9l1.1-6.7l1.1 4.6l1.2-5.9l1.1 3.2l1.1-1.9l1.1-1.1l1.1-2.4l1.2 2.3l1.1-6.7l1.1 6.9l1.1-7.2l1.1 5.8l1.2-6.8l1.1 3.2l1.1-6l1.1 1.3l1.2-5.1l1.1 3.9l1.1-2l1.1 5.5l1.1-5.5l1.2-0.4l1.1-5.4l1.1 4l1.1-6l1.1 3.3l1.2-5.3l1.1 5.3l1.1-6l1.1 11.1l1.1-8.1l1.2 4.4l1.1-7.2l1.1 4l1.1-4.6l1.1 6.8l1.2-3.3l1.1 4.9l1.1-5.1l1.1 6l1.1-4.1l1.2 3.3l1.1-3.3l1.1 1.7l1.1-3.5l1.1 3.9l1.2-7.2l1.1 6.6l1.1-8.1l1.1 6l1.1-7.6l1.2 5.7l1.1-7.6l1.1 9.5l1.1-7.1l1.1 3.9l1.2-6.1l1.1 9.6l1.1-5l1.1 4.2l1.1-1.7l1.2 0.8l1.1-2.2l1.1 1.5l1.1-2.6l1.1 1.8l1.2-3.3l1.1-1l1.1-6.7l1.1 5.5l1.1-7l1.2 3.2l1.1-6.1l1.1 2.5l1.1-6.3l1.1 6.6l1.2-5.7l1.1 5.7l1.1-7l1.1 5.3l1.1-6.1l1.2 5.9l1.1-6.4l1.1 2.3l1.1-4.4l1.1 4.3l1.2-4.1l1.1 0.3l1.1-5l1.1 0.9l1.1-5l1.2 8.8l1.1-7.9l1.1 6.8l1.1-6.5l1.2 6.4l1.1-5l1.1 2l1.1-7.1l1.1 0.2l1.2-7.5l1.1 11.3l1.1-10.4l1.1 12l1.1-11l1.2 9.2l1.1-7.1l1.1 6.5l1.1-5.5l1.1 2.2l1.2-5l1.1 5.8l1.1-5.6l1.1 2.8l1.1-5.9l1.2 3.6l1.1-7.2l1.1-0.8l1.1-5.7l1.1 1.9l1.2-5.5l1.1 2.4l1.1-7.3l1.1 1.7l1.1-6l1.2 2.6l1.1-6.2l1.1 3.7l1.1-8.1l1.1 9.1l1.2-7l1.1 5.1l1.1-5.1l1.1 6l1.1-6.1l1.2 6.9l1.1-4.9l1.1 4.3l1.1-6.8l1.1 9.3l1.2-8.8l1.1 5.7l1.1-7.9l1.1 3.4l1.1-6.7l1.2 9.3l1.1-7.9l1.1 7.4l1.1-6.6l1.1 5.4l1.2-7l1.1 10.8l1.1-8.2l1.1 8.4l1.1-8.4l1.2 8.4l1.1-8.1l1.1 10.5l1.1-7.3l1.1 7.8l1.2-8.4l1.1 8.6l1.1-10.3l1.1 6.8l1.1-9.1l1.2 11.5l1.1-9.3l1.1 8.2l1.1-5.4l1.1 10.5l1.2-7.3l1.1 6.8l1.1-5.9l1.1 3.9l1.2-4.4l1.1 4.5l1.1-5.4l1.1 7.8l1.1-6.1l1.2 4.4l1.1-5.2l1.1 2.3l1.1-2.2l1.1 8.4l1.2-6.3l1.1 4.7l1.1-5.7l1.1 6l1.1-6.2l1.2 4.1l1.1-3.9l1.1 3.1l1.1-5.3l1.1 7l1.2-6.1l1.1 4.1l1.1-6.5l1.1 10.3l1.1-7.8l1.2 7.8l1.1-8.3l1.1 7.2l1.1-8.2l1.1 6.1l1.2-6.2l1.1 9.2l1.1-7l1.1 6.3l1.1-5.9l1.2 8.8l1.1-6.2l1.1 5.5l1.1-5.8l1.1 4.1l1.2-6l1.1 3l1.1-7.3l1.1 4.9l1.1-8.1l1.2 12.3l1.1-7.7l1.1 4.4l1.1-9.1l1.1 10.5l1.2-8.5l1.1 8.4l1.1-6.9l1.1 6l1.1-6.3l1.2 5l1.1-8.8l1.1 3.9l1.1-8.9l1.1 7.1l1.2-8.3l1.1 4.9l1.1-7.2l1.1 8.8l1.1-7.2l1.2 4.1l1.1-5.4l1.1 5.4l1.1-5.8l1.1 7.2l1.2-5.3l1.1 1l1.1-5.1l1.1 3.1l1.1-4.3l1.2 6.4l1.1-5.7l1.1 4.7l1.1-4.6l1.1 5.9l1.2-5.3l1.1 4.6l1.1-4.8l1.1 4.3l1.2-5.5l1.1 6.6l1.1-5.9l1.1 6.7l1.1-5.3l1.2 9.9l1.1-5l1.1 7.7l1.1-5.6l1.1 7.6l1.2-4.9l1.1 3.9l1.1-1.4l1.1 4l1.1-1.4l1.2 4.1l1.1-3.7l1.1 4.5l1.1-4.6l1.1 4.8l1.2-1.9l1.1 3.1l1.1-1.5l1.1 1.8l1.1-1.3l1.2 3.8l1.1-1.2l1.1 2.5l1.1-1.5l1.1 1.6l1.2-2.4l1.1 2.8l1.1-2.2l1.1 4.1l1.1-2.1l1.2 3.6l1.1-1.4l1.1 0.3l1.1-2.1l1.1 2.5l1.2-2.4l1.1 4.5l1.1-2.5l1.1 7.4l1.1-4.2l1.2 2.4l1.1-2.4l1.1 3.3l1.1-2.1l1.1 2.7l1.2-2.3l1.1-1.7l1.1-2.2l1.1 3.1l1.1-4.7l1.2 6.9l1.1-4.9l1.1 6.8l1.1-3.2l1.1 5.4l1.2-2.3l1.1 5.8l1.1-2.3l1.1 6.2l1.1-2.2l1.2 2.6l1.1-1.9l1.1 3.3l1.1-1.6l1.1 3.3l1.2-3.6l1.1 4.5l1.1-1.5l1.1 3l1.1-2l1.2 3.5l1.1-0.6l1.1 1.2l1.1-0.7l1.2 3.1l1.1-1.2l1.1 0.6l1.1-1.4l1.1 1.4l1.2-1.6l1.1 3.3l1.1-1.3l1.1 2.4l1.1-1.2l1.2 1.3l1.1-2.3l1.1 1.2l1.1-1.6l1.1 4.1l1.2-1.8l1.1 1.9l1.1-1l1.1 1.1l1.1-0.4l1.2 1.4l1.1-0.8l1.1 2.7l1.1-0.8l1.1 3.9l1.2-1l1.1 5.1l1.1-1.4l1.1 2.9l1.1-1.2l1.2 4.7l1.1-0.9l1.1 1.7l1.1-0.7l1.1 2l1.2-0.5l1.1 0.4l1.1-0.5l1.1 1l1.1-0.4l1.2 1.3l1.1-0.7l1.1 1l1.1-1.3l1.1 0.1l1.2-1.5l1.1-0.1l1.1-1.4l1.1 2.2l1.1-0.6l1.2-0.7l1.1-0.4l1.1-0.5l1.1-0.3l1.1-0.4l1.2-0.3l1.1 0.9l1.1-0.4l1.1 0.1l1.1-0.4l1.2 0.1l1.1-0.4l1.1-0.7l1.1-0.3l1.1-1.2l1.2-0.3l1.1 0l1.1-0.4l1.1 0.6l1.1-0.4l1.2 2.7l1.1-1.1l1.1 4.4l1.1-1.2l1.1 6.4l1.2-2.1l1.1 6.5l1.1-1.1l1.1 4l1.2-1.1l1.1 3.1l1.1-1.1l1.1 5.2l1.1-0.6l1.2 1.7l1.1-0.5l1.1 1.5l1.1-0.6l1.1-0.1l1.2-0.4l1.1 0.6l1.1-0.4l1.1-0.6l1.1-0.3l1.2 0.1l1.1-0.3l1.1-1.5l1.1-0.3l1.1-0.2l1.2-0.3l1.1 0.9l1.1-0.3l1.1 1.8l1.1-0.3l1.2 4.2l1.1-0.3l1.1 3.7l1.1-0.5l1.1 5.3l1.2-1.4l1.1 4.6l1.1-0.8l1.1 4.1l1.1-0.5l1.2 1.4l1.1-0.6l1.1 2.1l1.1-0.5l1.1-0.5l1.2-0.3l1.1 1.4l1.1-0.3l1.1 2.1l1.1-0.3l1.2 0.8l1.1-0.3l1.1 1.9l1.1-0.3l1.1 2.9l1.2-0.3l1.1 1.8l1.1-0.3l1.1 2.2l1.1-0.3l1.2 2.4l1.1-0.3l1.1 0.6l1.1-0.3l1.1 2l1.2-0.3l1.1 1.3l1.1-0.3l1.1 0.4l1.1-0.3l1.2 1.1l1.1-0.3l1.1-0.5l1.1-0.3l1.1-0.6l1.2-0.3l1.1-0.8l1.1-0.3l1.1-1.5l1.1-0.3l1.2-0.9l1.1-0.3l1.1 0.6l1.1-0.3l1.2 0.4l1.1-0.3l1.1 1.6l1.1-0.5l1.1 2.2l1.2-0.5l1.1 0.5l1.1-0.6l1.1-1.2l1.1-0.6l1.2-1.6l1.1-0.4l1.1-0.8l1.1-0.5l1.1-0.1l1.2-0.3l1.1 3.1l1.1-0.3l1.1 2.9l1.1-0.5l1.2 2.7l1.1-0.6l1.1 3.6l1.1-0.3l1.1 2.4l1.2-0.3l1.1 2.2l1.1-0.3l1.1 0.9l1.1-0.3l1.2 0.9l1.1-0.3l1.1 0.8l1.1-0.3l1.1 0.7l1.2-0.3l1.1 0.4l1.1-0.3l1.1 0.3l1.1-0.3l1.2 0.4l1.1-0.3l1.1 0.4l1.1-0.3l1.1 0.5l1.2-0.3l1.1 0.5l1.1-0.3l1.1 0.7l1.1-0.4l1.2 0.7l1.1-0.3l1.1 0.7l1.1-0.3l1.1 0.6l1.2-0.3l1.1 0.7l1.1-0.3l1.1 0.8l1.1-0.3l1.2 0.8l1.1-0.3l1.1 1l1.1-0.3l1.1 1.1l1.2-0.3l1.1 1l1.1-0.3l1.1 0.6l1.1-0.3l1.2 0.6l1.1-0.3l1.1 0.8l1.1-0.3l1.1 1.1l1.2-0.3l1.1 1.1l1.1-0.3l1.1 1.5l1.2-0.3l1.1 1.6l1.1-0.3l1.1 1l1.1-0.3l1.2 0.6l1.1-0.3l1.1 0.5l1.1-0.3l1.1 0.4l1.2-0.3l1.1 0.4l1.1-0.3l1.1 0.4l1.1-0.3l1.2-0.5l1.1-0.3l1.1-0.6l1.1-0.3l1.1-0.5l1.2-0.3l1.1 0.4l1.1-0.3l1.1 0.2l1.1-0.3l1.2 0.8l1.1-0.3l1.1 1.1l1.1-0.3l1.1 1l1.2-0.4l1.1 0.8l1.1-0.3l1.1 0.6l1.1-0.3l1.2 0.6l1.1-0.3l1.1 0.5l1.1-0.3l1.1 0.7l1.2-0.3l1.1 0.6l1.1-0.3l1.1 0.5l1.1-0.3l1.2 0.7l1.1-0.3l1.1 0.6l1.1-0.3l1.1 0.6l1.2-0.3l1.1 0.7l1.1-0.3l1.1 0.6l1.1-0.3l1.2-0.1l1.1-0.3l1.1-0.9l1.1-0.3l1.1-1.4l1.2-0.3l1.1-2.2l1.1-0.3l1.1-1.5l1.1-0.7l1.2-0.1l1.1-0.9l1.1 0.4l1.1-0.3l1.1-0.1l1.2-0.3l1.1 0.4l1.1-0.3" fill="none" stroke="#d3af4e" stroke-width="1.5" stroke-linejoin="round"/>
<path d="M209.4 1008.4l2 0.7l2 1.8l2 2.5l2 1.9l2 0.9l2-0.3l2-0.8l2-1l2-0.1l2 0.6l2 1.2l2 1.3l2 1.3l2 1.3l2 1l2 0.5l2-0.2l2-0.3l2 0.4l2 1l2 1.5l2 1.5l2 1.4l2 1.4l2 1.5l2 1.3l2 1.1l2 1.1l2 1l2 0.8l2 0.7l2 0.6l2 0.5l2 0.5l2 0.4l2 0.4l2 0.3l2 0.2l2 0.3l2 0.2l2 0.3l2 0.3l2 0.2l2 0.3l2 0.3l2-0.3l2-0.9l2-1.1l2-0.7l2-0.3l2-0.2l2-0.1l2-0.2l2-0.2l2-0.3l2-0.7l2-1.6l2-2.4l2-1.6l2-0.2l2 0.7l2 0.3l2-0.4l2-0.8l2-1l2-1.3l2-1.4l2-1.3l2-1.1l2-1l2-1l2-0.7l2-0.5l2-0.3l2-0.4l2-0.2l2 0l2 0l2-0.1l2-0.2l2-0.5l2-0.7l2-0.6l2-0.6l2-0.4l2-0.3l2-0.4l2-0.8l2-1.1l2-1.4l2-1l2-0.7l2-0.8l2-1.2l2-1.5l2-1.7l2-1.2l2-0.5l2 0.1l2 0.4l2-0.2l2-0.8l2-1.4l2-1.7l2-1.6l2-1.5l2-1.3l2-1.4l2-0.9l2-0.3l2 0.2l2 1.2l2 1.8l2 2.4l2 2.5l2 2.5l2 1.7l2 0.1l2-1.4l2-2.2l2-2.4l2-2.7l2-2.6l2-2.7l2-2.8l2-2.8l2-2.8l2-2.9l2-3l2-1.9l2-0.5l2 0.6l2-0.1l2-1.2l2-1.4l2-0.3l2 1l2 1.6l2 1.3l2 1l2 0.8l2 0.2l2-0.6l2-1.4l2-1.4l2-0.9l2-0.3l2 0l2 0l2-0.2l2-0.2l2-0.4l2-0.9l2-2.7l2-4.4l2-4.9l2-4.1l2-3.3l2-2.4l2-1.9l2-1.4l2-1.3l2-1.1l2-0.9l2-0.7l2-0.7l2-0.9l2-1.2l2-1.7l2-2.4l2-3.1l2-3.7l2-3.5l2-2.8l2-2l2-1.3l2-0.9l2-0.5l2-0.3l2-0.5l2-0.9l2-1.2l2-1.3l2-1.3l2-1.4l2-1.3l2-1.3l2-1.3l2-1.2l2-1l2-1l2-1.1l2-1.1l2-1.3l2-1.3l2-1.4l2-1.4l2-1.5l2-1.2l2-0.7l2-0.3l2 0.1l2 0.4l2 0.9l2 1.1l2 0.9l2 0.7l2 0.7l2 1.1l2 1.8l2 2.4l2 2.7l2 1.8l2 0.5l2-0.9l2-1.3l2-0.9l2-0.3l2 0.4l2 0.7l2 0.4l2 0l2-0.5l2-0.7l2-0.9l2-1.4l2-1.8l2-2l2-1.8l2-1.4l2-0.9l2-0.8l2-0.7l2-0.6l2-0.4l2 0.1l2 0.5l2 0.9l2 1l2 0.8l2 0.6l2 0.4l2 0.3l2 0.2l2-0.1l2-0.3l2-0.3l2 0l2 0.5l2 0.9l2 1l2 1l2 1l2 1l2 1l2 0.5l2-0.1l2-0.8l2-0.2l2 0.5l2 1.4l2 1.3l2 0.7l2 0.1l2-0.6l2-1.2l2-1.6l2-2l2-1.6l2-1l2-0.3l2 0.6l2 1.5l2 2.4l2 2.8l2 2.8l2 2.4l2 2.2l2 2l2 1.7l2 1.3l2 0.9l2 0.7l2 0.6l2 0.7l2 0.7l2 0.6l2 0.9l2 1.1l2 1.4l2 1.7l2 1.9l2 2.3l2 2l2 1.1l2 0.1l2-0.4l2-0.9l2-1.2l2-1.6l2-1.3l2-0.9l2-0.5l2-0.2l2 0.4l2 0.8l2 1.3l2 1.9l2 2.5l2 3.2l2 3l2 2.8l2 2.5l2 2l2 0.8l2-0.4l2-1.2l2-1.5l2-1.7l2-1.8l2-1.3l2-0.7l2-0.4l2-0.3l2 0l2 0.2l2 0.3l2 0.3l2 0.3l2 0.2l2 0.2l2 0.3l2 0.4l2 0.7l2 0.8l2 2l2 3.4l2 4.7l2 5l2 4.8l2 4.9l2 4.4l2 2.2l2-0.1l2-1.6l2-0.8l2-0.1l2 0.5l2 1.3l2 2.1l2 2.8l2 2.5l2 2.1l2 1.7l2 1.6l2 1.5l2 1.5l2 1.5l2 1.3l2 1.1l2 0.7l2 0.5l2 0.5l2 0.5l2 0.4l2 0.3l2 0.2l2-0.2l2-0.5l2-0.8l2-0.8l2-0.7l2 0.7l2 2l2 3.4l2 3.1l2 2.7l2 2.3l2 2.1l2 1.7l2 1.4l2 0.6l2-0.2l2-0.8l2-0.3l2 0.4l2 0.9l2 1l2 0.7l2 0.4l2 0l2-0.1l2-0.2l2-0.4l2-0.1l2 0.6l2 1.1l2 0.9l2 0.3l2-0.4l2-0.6l2-0.4l2 0.3l2 1l2 1.3l2 1.4l2 1.7l2 1.8l2 2l2 1.8l2 1.2l2 0.6l2 0.3l2 0.3l2-0.5l2-1.7l2-2.8l2-2.7l2-1.3l2 0.3l2 1.2l2 0.5l2-0.1l2-0.8l2-0.3l2 0.5l2 1.3l2 1.6l2 1.5l2 1.4l2 1.3l2 1.3l2 1l2 0.9l2 0.6l2 0.7l2 0.5l2 0.5l2 0.4l2-0.4l2-1.4l2-2.5l2-2.9l2-3.2l2-2.9l2-1.8l2-0.5l2 0.4l2 1l2 1.5l2 1.2l2 0.4l2-0.4l2-0.7l2 0l2 0.6l2 1.2l2 0.4l2-0.7l2-1.8l2-1.7l2-1.3l2-0.7l2-0.4l2-0.5l2-0.6l2-0.7l2-0.6l2-0.3l2 0l2 0.3l2 0.3l2 0.3l2 0.1l2 0l2 0l2-0.1l2-0.1l2-0.1l2-0.1l2-0.2l2-0.2l2-0.2l2-0.2l2-0.5l2-0.9l2-1.3l2-1.4l2-1l2-0.7l2-0.4l2-0.3l2-0.4l2-0.6l2-0.6l2-0.7l2-0.3l2 0l2 0.6l2 1.4l2 2.1l2 2.8l2 2.5l2 2.1l2 1.7l2 1.1l2 0.1l2-0.9l2-0.8l2 0.3l2 1.2l2 0.4l2-0.7l2-1.6l2-1.7l2-1.8l2-2l2-2.4l2-2.8l2-3.2l2-3.1l2-2.7l2-2.5l2-2l2-0.7l2 0.1l2-0.5l2-1.7l2-2.7l2-2.5l2-2.1l2-1.7l2-1.3l2-1.3l2-1l2-0.9l2-0.6l2-0.8l2-1.2l2-1.7l2-2l2-1.8l2-0.7l2 0.2l2 1l2 0.9l2 0.8l2 0.5l2 0.3l2 0.2l2-0.7l2-1.7l2-2.4l2-2.3l2-2.1l2-0.3l2 2l2 2.8l2 1.4l2-0.4l2-1.1l2-1.6l2-2.4l2-2.6l2-2.7l2-2.5l2-2.5l2-2.3l2-1.3l2-0.2l2 0.8l2 0.2l2-0.8l2-1.7l2-2l2-1.9l2-1.5l2-1.3l2-1.3l2-1.5l2-1.9l2-2l2-1.1l2-0.1l2 0.7l2 0.7l2 0.4l2 0.1l2-1.6l2-3.2l2-4.8l2-4.6l2-4.2l2-4l2-3.1l2-2.2l2-1.1l2-1l2-0.8l2-0.6l2-0.3l2-0.4l2-0.3l2-0.3l2-0.4l2-0.3l2-0.4l2-0.6l2-0.6l2-0.7l2-0.4l2 0l2 0.2l2 0.4l2 0.2l2 0.1l2 0.1l2 0l2 0.3l2 0.7l2 1.1l2 1.1l2 0.8l2 0.7l2 0.2l2-0.1l2-0.6l2-0.7l2-0.3l2 0l2 0.6l2 0.6l2 0.5l2 0.1l2-0.2l2-0.3l2-0.4l2-0.3l2-0.3l2-0.4l2-0.2l2 0l2 0.3l2 0.3l2 0l2-0.5l2-1.1l2-1.3l2-1l2-0.3l2 0.4l2 0.6l2 0.2l2-0.9l2-1.8l2-2.4l2-2l2-1.5l2-1l2-0.6l2-0.8l2-0.8l2-0.9l2-1l2-0.8l2-0.4l2 0.2l2 0.3l2-0.1l2-0.5l2-0.5l2 0.9l2 2.2l2 2.6l2 2.2l2 1.8l2 1.5l2 1.3l2 1.1l2 1l2 1l2 0.9l2 0.7l2 0.7l2 0.6l2 0.7l2 0.7l2 0.6l2 0.7l2 0.8l2 1l2 1l2 0.9l2 0.7l2 0.5l2 0.4l2 0.2l2-0.2l2-0.6l2-0.5l2 0.8l2 2.1l2 2.9l2 2.4l2 1.8l2 1.3l2 1.3l2 1.4l2 1.3l2 1.3l2 1.3l2 1.2l2 1l2 0.8l2 0.9l2 0.8l2 0.6l2 0.4l2 0.3l2 0.4l2 0.5l2 0.6l2 0.7l2 0.6l2 0.6l2 0.5l2 1l2 1.5l2 2.2l2 2.3l2 2.1l2 1.8l2 1.4l2 1.4l2 1.1l2 0.8l2 0.5l2 0.3l2-0.1l2-0.6l2-0.8l2-0.5l2-0.3l2 0l2 0l2 0.1l2 0.2l2 0.3l2 0.4l2-0.3l2-0.9l2-1.5l2-0.8l2 0.8l2 2.3l2 3.1l2 3.1l2 3.2l2 2.9l2 2.1l2 1.6l2 1.1l2 0.7l2 0.4l2 0l2-0.2l2-0.4l2-0.6l2-0.7l2-0.1l2 0.6l2 1.4l2 2.1l2 2.7l2 3.2l2 2.8l2 2.3l2 1.7l2 1.3l2 0.2l2-0.3l2 0.2l2 1.3l2 2l2 1.7l2 1.5l2 1.2l2 1.3l2 1.4l2 1.5l2 1.5l2 1.1l2 0.6l2 0.3l2 0.3l2 0l2-0.1l2-0.4l2-0.3l2-0.6l2-0.7l2-0.4l2 0.3l2 1l2 1.5l2 1.5l2 0.4l2-1.2l2-2.6l2-1.7l2-0.5l2 1.4l2 2.2l2 2.7l2 2l2 1.3l2 1l2 0.9l2 0.8l2 0.6l2 0.5l2 0.5l2 0.5l2 0.3l2 0.1l2 0.1l2 0.2l2 0.4l2 0.4l2 0.4l2 0.4l2 0.3l2 0.4l2 0.3l2 0.3l2 0.4l2 0.4l2 0.5l2 0.7l2 0.7l2 0.6l2 0.3l2 0l2 0.2l2 0.5l2 0.9l2 1l2 1l2 0.9l2 0.5l2 0.1l2 0l2 0.2l2 0.2l2 0.4l2 0.2l2-0.6l2-0.9l2-0.7l2 0.2l2 0.7l2 0.7l2 0.5l2 0.4l2 0.2l2 0.3l2 0.2l2 0.3l2 0.2l2 0.3l2 0.2l2 0.3l2 0.2l2 0.3l2 0.3l2 0.3l2 0.3l2 0.3l2 0l2-0.8l2-1.5l2-1.5l2-1.1l2-0.5l2-0.2" fill="none" stroke="#a2522a" stroke-width="1.6" stroke-linejoin="round"/>
<path d="M209.4 1003.1l2-0.1l2 0l2 0.3l2 0.5l2 0.6l2 0.5l2 0.4l2 0.2l2 0l2 0.1l2 0.3l2 0.4l2 0.6l2 0.7l2 0.6l2 0.6l2 0.5l2 0.3l2 0.5l2 0.7l2 0.9l2 1l2 1.3l2 1.1l2 1.1l2 1.1l2 0.9l2 0.9l2 0.9l2 0.8l2 0.8l2 0.8l2 0.7l2 0.6l2 0.7l2 0.5l2 0.5l2 0.4l2 0.4l2 0.4l2 0.4l2 0.3l2 0.3l2 0.3l2 0.3l2 0.2l2 0.1l2 0l2 0l2-0.1l2-0.1l2-0.1l2-0.1l2-0.1l2-0.2l2-0.1l2-0.3l2-0.2l2-0.4l2-0.3l2-0.4l2-0.5l2-0.5l2-0.7l2-0.7l2-0.7l2-0.7l2-0.7l2-0.5l2-0.6l2-0.5l2-0.4l2-0.4l2-0.4l2-0.3l2-0.3l2-0.2l2-0.3l2-0.2l2-0.3l2-0.2l2-0.3l2-0.3l2-0.3l2-0.4l2-0.5l2-0.5l2-0.5l2-0.5l2-0.6l2-0.6l2-0.6l2-0.6l2-0.6l2-0.6l2-0.7l2-0.6l2-0.6l2-0.7l2-0.6l2-0.5l2-0.5l2-0.5l2-0.6l2-0.6l2-0.6l2-0.7l2-0.7l2-0.7l2-0.6l2-0.4l2-0.2l2-0.1l2 0.1l2 0.1l2 0.2l2 0.3l2 0l2-0.3l2-0.5l2-0.8l2-1.1l2-1.1l2-1.2l2-1.2l2-1.2l2-1.3l2-1.1l2-1.1l2-1.1l2-1l2-0.9l2-0.9l2-0.7l2-0.7l2-0.5l2-0.5l2-0.5l2-0.3l2-0.3l2-0.2l2-0.1l2-0.2l2-0.2l2-0.3l2-0.2l2-0.3l2-0.3l2-0.2l2-0.2l2-0.1l2-0.1l2-0.3l2-0.6l2-1l2-1.3l2-1.6l2-1.6l2-1.7l2-1.6l2-1.5l2-1.5l2-1.5l2-1.4l2-1.4l2-1.3l2-1.2l2-1.3l2-1.3l2-1.4l2-1.4l2-1.5l2-1.5l2-1.5l2-1.5l2-1.5l2-1.5l2-1.5l2-1.4l2-1.4l2-1.2l2-1.1l2-1.1l2-1l2-1.1l2-1.1l2-1.1l2-1.2l2-1.3l2-1.2l2-1.2l2-1.1l2-1l2-1l2-1l2-1l2-1l2-1l2-1l2-1l2-1l2-0.9l2-0.9l2-0.6l2-0.4l2 0l2 0.2l2 0.5l2 0.6l2 0.6l2 0.6l2 0.4l2 0.4l2 0.3l2 0.2l2 0.2l2 0.1l2 0.2l2 0l2 0l2-0.1l2-0.1l2-0.1l2-0.2l2-0.4l2-0.5l2-0.7l2-0.8l2-0.8l2-0.9l2-0.8l2-0.8l2-0.7l2-0.6l2-0.5l2-0.5l2-0.5l2-0.4l2-0.3l2-0.2l2 0l2 0l2 0.1l2 0l2 0.1l2 0.1l2 0.1l2 0.2l2 0.1l2 0.2l2 0.2l2 0.2l2 0.2l2 0.3l2 0.3l2 0.3l2 0.4l2 0.2l2 0.2l2 0.2l2 0.1l2 0.1l2 0.1l2 0.1l2-0.1l2-0.2l2-0.3l2-0.4l2-0.5l2-0.4l2-0.4l2-0.2l2 0.1l2 0.2l2 0.4l2 0.5l2 0.7l2 0.7l2 0.8l2 0.9l2 1l2 1l2 0.9l2 0.8l2 0.9l2 0.7l2 0.8l2 0.8l2 0.9l2 0.9l2 1l2 1l2 0.9l2 0.9l2 0.9l2 0.7l2 0.8l2 0.6l2 0.5l2 0.2l2 0.2l2-0.1l2-0.1l2 0l2 0l2 0.1l2 0.1l2 0.5l2 0.6l2 0.9l2 1l2 1.2l2 1.2l2 1.1l2 1.1l2 0.9l2 0.7l2 0.5l2 0.3l2 0l2 0l2-0.2l2-0.3l2-0.4l2-0.4l2-0.3l2-0.3l2-0.2l2-0.1l2-0.1l2 0.1l2 0.2l2 0.3l2 0.5l2 0.6l2 1l2 1.2l2 1.6l2 1.9l2 2.1l2 2.3l2 2.2l2 2.3l2 1.9l2 1.5l2 1.2l2 0.8l2 0.5l2 0.6l2 0.8l2 0.9l2 1.1l2 1.2l2 1.3l2 1.2l2 1.3l2 1.2l2 1.3l2 1.2l2 1.2l2 1.2l2 1l2 1.1l2 1l2 0.9l2 0.8l2 0.6l2 0.4l2 0.4l2 0.3l2 0.2l2 0.4l2 0.5l2 0.6l2 0.8l2 1l2 1.1l2 1.2l2 1.3l2 1.2l2 1.1l2 0.9l2 0.9l2 0.9l2 0.9l2 0.9l2 0.8l2 0.9l2 0.8l2 0.7l2 0.6l2 0.5l2 0.4l2 0.3l2 0.4l2 0.3l2 0.3l2 0.3l2 0.3l2 0.4l2 0.3l2 0.4l2 0.5l2 0.5l2 0.5l2 0.7l2 0.7l2 0.9l2 0.9l2 1l2 1l2 0.9l2 0.9l2 0.6l2 0.4l2 0.2l2-0.1l2-0.3l2-0.4l2-0.3l2-0.3l2-0.2l2-0.1l2-0.1l2-0.1l2 0l2 0.2l2 0.3l2 0.4l2 0.5l2 0.6l2 0.7l2 0.6l2 0.7l2 0.8l2 0.7l2 0.7l2 0.6l2 0.5l2 0.4l2 0.4l2 0.2l2-0.1l2-0.5l2-0.7l2-1l2-1.2l2-0.8l2-0.6l2-0.2l2 0.1l2 0.3l2 0.3l2 0.3l2 0.1l2 0.1l2 0l2 0l2-0.1l2-0.1l2-0.2l2-0.2l2-0.2l2-0.3l2-0.2l2-0.3l2-0.2l2-0.3l2-0.2l2-0.2l2-0.2l2-0.2l2-0.2l2-0.1l2-0.1l2 0l2 0.1l2 0.1l2 0.1l2 0.1l2 0l2-0.1l2-0.2l2-0.2l2-0.3l2-0.5l2-0.7l2-0.8l2-0.9l2-1l2-0.9l2-0.7l2-0.7l2-0.6l2-0.5l2-0.3l2-0.2l2-0.1l2 0.2l2 0.4l2 0.7l2 0.9l2 1.1l2 1.2l2 1.1l2 1l2 0.8l2 0.6l2 0.4l2 0.3l2 0.2l2 0l2 0l2-0.2l2-0.3l2-0.5l2-0.6l2-1l2-1.1l2-1.4l2-1.5l2-1.6l2-1.6l2-1.6l2-1.5l2-1.5l2-1.4l2-1.3l2-1.2l2-1.1l2-1l2-1l2-0.9l2-0.9l2-0.8l2-0.7l2-0.8l2-0.7l2-0.7l2-0.7l2-0.7l2-0.6l2-0.6l2-0.5l2-0.4l2-0.3l2-0.2l2-0.2l2-0.4l2-0.4l2-0.5l2-0.7l2-0.8l2-0.8l2-1l2-0.9l2-0.7l2-0.4l2-0.2l2-0.1l2-0.2l2-0.5l2-0.8l2-1.1l2-1.2l2-1.2l2-1.2l2-1.1l2-1l2-1l2-1l2-0.9l2-0.9l2-0.8l2-0.7l2-0.8l2-0.8l2-0.9l2-0.9l2-1l2-1l2-0.9l2-0.9l2-0.8l2-0.7l2-0.7l2-0.7l2-0.6l2-0.7l2-0.8l2-1.1l2-1.2l2-1.5l2-1.7l2-1.8l2-1.8l2-2l2-2l2-1.9l2-1.8l2-1.6l2-1.5l2-1.3l2-1.2l2-1.1l2-1.1l2-0.9l2-0.9l2-0.7l2-0.7l2-0.6l2-0.6l2-0.5l2-0.4l2-0.4l2-0.3l2-0.2l2-0.2l2-0.2l2 0l2 0l2 0.1l2 0.2l2 0.2l2 0.3l2 0.2l2 0.1l2 0l2 0l2 0l2-0.1l2-0.1l2-0.1l2-0.3l2-0.2l2-0.3l2-0.3l2-0.3l2-0.2l2-0.3l2-0.2l2-0.3l2-0.2l2-0.3l2-0.2l2-0.3l2-0.2l2-0.3l2-0.3l2-0.3l2-0.3l2-0.4l2-0.6l2-0.5l2-0.7l2-0.7l2-0.7l2-0.7l2-0.7l2-0.7l2-0.7l2-0.7l2-0.7l2-0.7l2-0.6l2-0.6l2-0.5l2-0.4l2-0.4l2-0.4l2-0.4l2-0.3l2-0.2l2 0l2 0.2l2 0.5l2 0.6l2 0.7l2 0.7l2 0.7l2 0.8l2 0.7l2 0.7l2 0.8l2 0.7l2 0.6l2 0.7l2 0.6l2 0.6l2 0.6l2 0.6l2 0.5l2 0.5l2 0.5l2 0.4l2 0.5l2 0.4l2 0.4l2 0.4l2 0.4l2 0.6l2 0.7l2 0.9l2 1l2 1.1l2 1l2 1l2 0.9l2 0.8l2 0.8l2 0.7l2 0.8l2 0.7l2 0.8l2 0.7l2 0.7l2 0.7l2 0.7l2 0.6l2 0.5l2 0.5l2 0.5l2 0.5l2 0.6l2 0.5l2 0.6l2 0.8l2 1l2 1.2l2 1.3l2 1.3l2 1.3l2 1.1l2 1.2l2 1l2 1l2 0.9l2 0.7l2 0.5l2 0.4l2 0.3l2 0.2l2 0.2l2 0.2l2 0.1l2 0.1l2 0.1l2 0.1l2 0l2-0.1l2 0l2-0.1l2 0.1l2 0.3l2 0.5l2 0.8l2 1l2 1.1l2 1.1l2 1.2l2 1.3l2 1.1l2 1.1l2 0.9l2 0.8l2 0.7l2 0.6l2 0.5l2 0.5l2 0.4l2 0.4l2 0.5l2 0.7l2 0.9l2 1l2 1.1l2 1.1l2 1.1l2 1l2 1l2 0.9l2 0.9l2 0.9l2 1l2 0.9l2 1l2 1l2 1l2 1l2 1l2 1l2 1l2 1l2 0.9l2 0.8l2 0.8l2 0.7l2 0.7l2 0.6l2 0.4l2 0.4l2 0.2l2 0.1l2 0.2l2 0.3l2 0.3l2 0.4l2 0.4l2 0.2l2 0l2-0.1l2 0l2 0.2l2 0.4l2 0.7l2 1l2 1l2 0.9l2 0.8l2 0.8l2 0.8l2 0.7l2 0.6l2 0.6l2 0.6l2 0.5l2 0.5l2 0.4l2 0.5l2 0.4l2 0.4l2 0.4l2 0.4l2 0.3l2 0.4l2 0.3l2 0.4l2 0.4l2 0.4l2 0.5l2 0.4l2 0.4l2 0.3l2 0.3l2 0.4l2 0.5l2 0.5l2 0.7l2 0.6l2 0.6l2 0.5l2 0.5l2 0.4l2 0.4l2 0.4l2 0.4l2 0.2l2 0.1l2 0.1l2 0l2 0.1l2 0.1l2 0.3l2 0.4l2 0.2l2 0.3l2 0.2l2 0.2l2 0.2l2 0.3l2 0.2l2 0.3l2 0.3l2 0.3l2 0.3l2 0.2l2 0.3l2 0.3l2 0.2l2 0.1l2-0.1l2-0.2l2-0.3l2-0.2l2-0.2" fill="none" stroke="#6d2a4c" stroke-width="1.6" stroke-linejoin="round"/>
<rect x="115.3" y="741.2" width="1933.3" height="350.1" fill="none" stroke="#000" stroke-width="1.5"/>
<text x="92.2" y="1065.1" text-anchor="end" font-size="19.5">0</text>
<text x="92.2" y="1014.4" text-anchor="end" font-size="19.5">5</text>
<text x="92.2" y="963.7" text-anchor="end" font-size="19.5">10</text>
<text x="92.2" y="913.1" text-anchor="end" font-size="19.5">15</text>
<text x="92.2" y="862.4" text-anchor="end" font-size="19.5">20</text>
<text x="92.2" y="811.7" text-anchor="end" font-size="19.5">25</text>
<text x="92.2" y="761.1" text-anchor="end" font-size="19.5">30</text>
<path d="M103.1 1058.1H115.3M103.1 1007.4H115.3M103.1 956.7H115.3M103.1 906.1H115.3M103.1 855.4H115.3M103.1 804.7H115.3M103.1 754.1H115.3" stroke="#000" stroke-width="1.5" fill="none"/>
<text x="1082.3" y="783.0" text-anchor="middle" font-size="27.4">P7</text>
<circle cx="130.6" cy="782.9" r="8.2" fill="#5b4b8a"/>
<text x="146.2" y="788.8" font-size="17.3">5 cm</text>
<circle cx="130.6" cy="803.6" r="8.2" fill="#56a4c8"/>
<text x="146.2" y="809.5" font-size="17.3">10 cm</text>
<circle cx="130.6" cy="824.3" r="8.2" fill="#b9e2c9"/>
<text x="146.2" y="830.2" font-size="17.3">20 cm</text>
<circle cx="130.6" cy="845.1" r="8.2" fill="#d3af4e"/>
<text x="146.2" y="851.0" font-size="17.3">30 cm</text>
<circle cx="130.6" cy="865.8" r="8.2" fill="#a2522a"/>
<text x="146.2" y="871.7" font-size="17.3">50 cm</text>
<circle cx="130.6" cy="886.5" r="8.2" fill="#6d2a4c"/>
<text x="146.2" y="892.4" font-size="17.3">100 cm</text>
<path d="M139.6 1091.3V1108.6M209.1 1091.3V1108.6M278.5 1091.3V1108.6M341.2 1091.3V1108.6M410.7 1091.3V1108.6M477.9 1091.3V1108.6M547.4 1091.3V1108.6M614.6 1091.3V1108.6M684.0 1091.3V1108.6M753.5 1091.3V1108.6M820.7 1091.3V1108.6M890.2 1091.3V1108.6M957.4 1091.3V1108.6M1026.8 1091.3V1108.6M1096.3 1091.3V1108.6M1161.3 1091.3V1108.6M1230.7 1091.3V1108.6M1297.9 1091.3V1108.6M1367.4 1091.3V1108.6M1434.6 1091.3V1108.6M1504.1 1091.3V1108.6M1573.5 1091.3V1108.6M1640.7 1091.3V1108.6M1710.2 1091.3V1108.6M1777.4 1091.3V1108.6M1846.9 1091.3V1108.6M1916.3 1091.3V1108.6M1979.1 1091.3V1108.6" stroke="#000" stroke-width="1.5" fill="none"/>
<text x="139.9" y="1133.4" text-anchor="middle" font-size="19.6">Dec 2018</text>
<text x="278.8" y="1133.4" text-anchor="middle" font-size="19.6">Feb 2019</text>
<text x="411.0" y="1133.4" text-anchor="middle" font-size="19.6">Apr 2019</text>
<text x="547.7" y="1133.4" text-anchor="middle" font-size="19.6">Jun 2019</text>
<text x="684.3" y="1133.4" text-anchor="middle" font-size="19.6">Aug 2019</text>
<text x="821.0" y="1133.4" text-anchor="middle" font-size="19.6">Oct 2019</text>
<text x="957.7" y="1133.4" text-anchor="middle" font-size="19.6">Dec 2019</text>
<text x="1096.6" y="1133.4" text-anchor="middle" font-size="19.6">Feb 2020</text>
<text x="1231.0" y="1133.4" text-anchor="middle" font-size="19.6">Apr 2020</text>
<text x="1367.7" y="1133.4" text-anchor="middle" font-size="19.6">Jun 2020</text>
<text x="1504.4" y="1133.4" text-anchor="middle" font-size="19.6">Aug 2020</text>
<text x="1641.0" y="1133.4" text-anchor="middle" font-size="19.6">Oct 2020</text>
<text x="1777.7" y="1133.4" text-anchor="middle" font-size="19.6">Dec 2020</text>
<text x="1916.6" y="1133.4" text-anchor="middle" font-size="19.6">Feb 2021</text>
<text transform="translate(36.5 548.8) rotate(-90)" text-anchor="middle" font-size="26.6">Soil Temperature [°C]</text>
</svg>
</body></html>
